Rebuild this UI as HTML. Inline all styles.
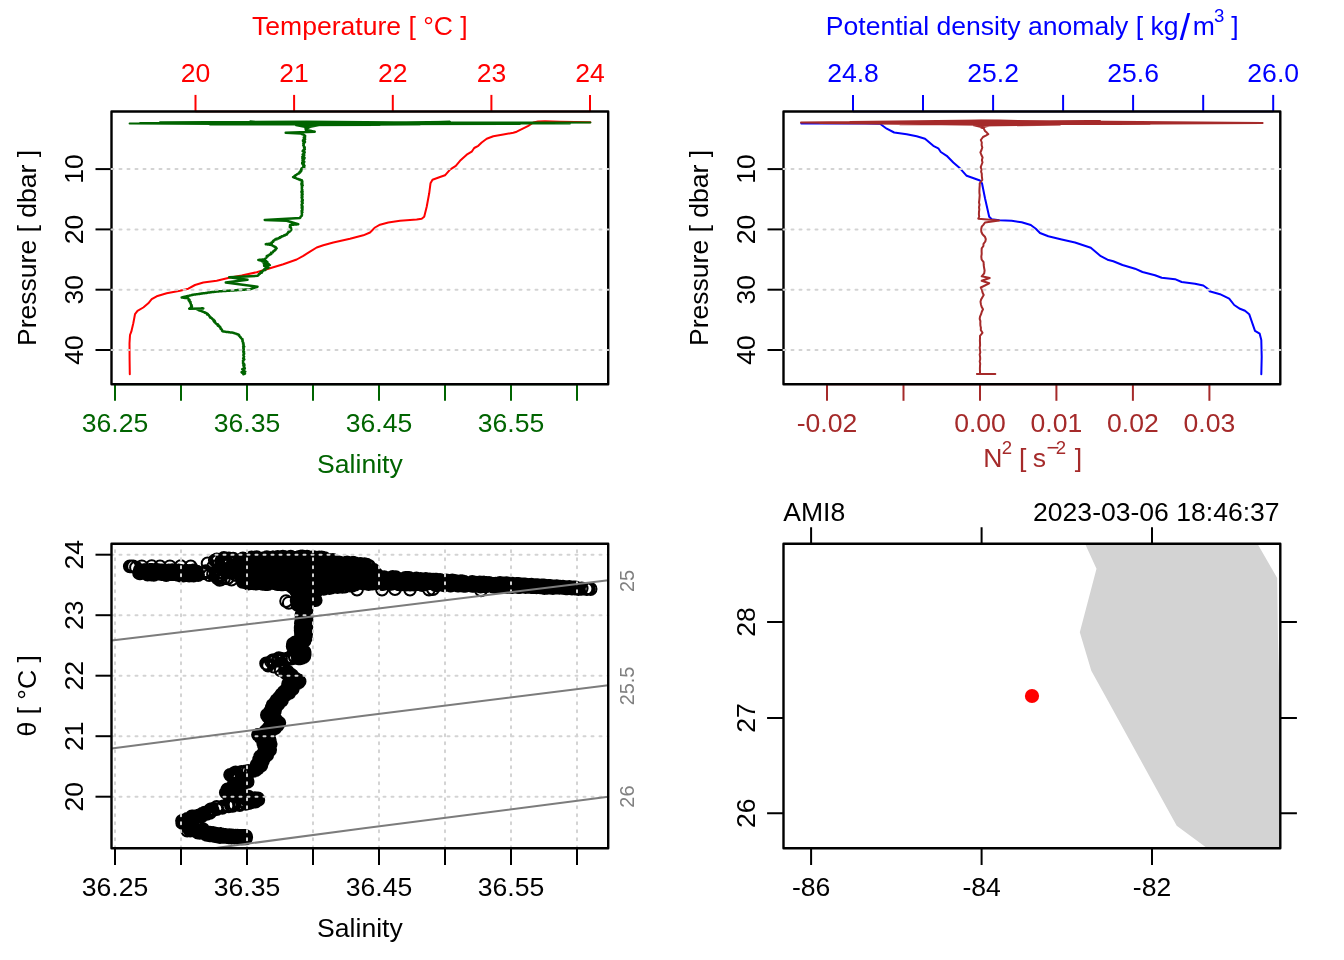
<!DOCTYPE html>
<html lang="en"><head><meta charset="utf-8"><title>CTD AMI8</title>
<style>html,body{margin:0;padding:0;background:#fff;overflow:hidden}svg{display:block}text{font-family:"Liberation Sans",sans-serif;font-size:26.56px}.ln{fill:none;stroke-width:2;stroke-linecap:round;stroke-linejoin:round}.tk{fill:none;stroke-width:2;stroke-linecap:butt}.gd{fill:none;stroke:#d3d3d3;stroke-width:2;stroke-dasharray:2 6;stroke-linecap:round}.bx{fill:none;stroke:#000;stroke-width:2.4;stroke-linejoin:round}.m{text-anchor:middle}</style></head><body>
<svg width="1344" height="960" viewBox="0 0 1344 960">
<rect width="1344" height="960" fill="#fff"/>
<g id="p1">
<polyline class="ln" stroke="#f00" points="590.3,122.2 575,121.9 560,121.7 545,121.2 538,121.6 533.3,122.5 528.3,125.8 523.3,128.3 516.7,131.7 513.3,132.7 503.3,134.5 493.3,136.3 486.7,138.7 481.7,142.5 478.3,145.8 474.2,148 471.7,151.7 466.7,154.7 460,160.8 455.8,165.8 450,169.7 445,175.3 440,177 432.5,179.7 430.5,183.3 429.2,193.3 426.7,206.7 424.2,216.7 421.7,218.7 416.7,219.6 400,220.8 388.3,222.5 380,224.7 375,227.5 370,232.5 363.3,235.3 350,238.7 333.3,242.5 323.3,245.3 316.7,247.5 310,251.7 303.3,255.8 296.7,259.5 283.3,264.2 270,268.3 256.7,272.2 241.7,275.5 229.2,277.8 216.7,280.8 203.3,282.5 195,285 188.3,288.7 180,290.8 166.7,293.3 156.7,296.3 151.7,299.2 148.3,303.3 143.3,307.5 137.5,310.8 135,314.2 133.3,323.3 131.3,331.7 130,335 129.5,343.3 129.6,360 129.8,374.2"/>
<polyline class="ln" stroke="#006400" points="307,124.6 129.6,123.4 330,122 590.4,122.6 300,124.2 140,122.9 570,123.6 307,121.6 160,122.2 520,124 210,124.6 450,121.7 307,125 420,124.6 250,121.6 380,124.9 296,125.2 307.4,127.6 319,125.2 302,125.6 307.5,128.4 313,125.8 307.6,124"/>
<polyline class="ln" stroke="#006400" style="stroke-width:2.5" points="307.6,124 307.4,124.6 307.5,125.1 307.2,125.7 307.6,126.2 307.3,126.8 307.4,127.3 305.9,127.9 305.6,128.4 307.2,128.9 305.7,129.5 306,130 306,130.1 308,130.2 307.6,130.3 308.7,130.4 308.7,130.5 309.4,130.6 309.4,130.7 310.5,130.8 311.2,131 311.5,131.1 312.1,131.2 312.6,131.3 312.9,131.4 313.7,131.5 314.2,131.6 314.7,131.7 285.7,132.8 301,133.4 301.5,133.7 301.7,134 303,134.3 303.1,134.6 304.1,134.9 304.2,135.2 305.1,135.8 304.7,136.3 305.1,136.9 303.8,137.5 304.8,138 303.9,138.6 305.1,139.2 304.9,139.8 303,140.3 303,140.9 303.2,141.5 305,142 303.7,142.6 304.1,143.2 303.3,143.7 303.8,144.3 303.5,144.9 303.3,145.4 303.9,146 303.9,146.6 304.7,147.2 304.1,147.7 304.7,148.3 304.5,148.9 304.8,149.4 303.5,150 303.9,150.6 302.6,151.1 304.4,151.7 304.7,152.3 304.5,152.8 303.6,153.4 304,154 302.7,154.5 304.3,155.1 303.6,155.7 302.9,156.2 302.3,156.8 304.3,157.4 304.6,157.9 302.4,158.5 304.1,159.1 303.2,159.6 302.5,160.2 302.9,160.8 304,161.3 304.3,161.9 302.2,162.5 303.6,163 302.2,163.6 303.9,164.2 302.9,164.7 304.2,165.3 304.5,165.9 303.3,166.4 303.3,167 304.2,167.5 302.3,168 301.5,168.5 302.4,169 301,169.5 301,170 301.2,170.5 301.3,171 300.2,171.5 300.5,172 299.4,172.3 300.1,172.6 298.9,172.9 299.2,173.2 298.6,173.6 297.6,173.9 297.2,174.2 296.8,174.5 296.4,174.8 295.9,175.1 295.4,175.4 295,175.8 294.6,176.1 294,176.4 293.6,176.7 293.1,177 293.7,177.2 294.1,177.5 294.7,177.7 295.6,177.9 295.9,178.1 296.5,178.4 297,178.6 297,178.8 298,179 298.8,179.2 298.7,179.4 299.9,179.6 300.5,179.8 300.3,180 301.6,180.2 302,180.4 302,181 302.3,181.5 301.8,182.1 302.3,182.6 302.4,183.2 301.4,183.7 301.4,184.2 302.3,184.8 302.7,185.3 301.7,185.9 302,186.5 302.2,187 301.8,187.6 301.9,188.1 301.8,188.7 301.9,189.2 302.3,189.8 301.8,190.3 301.9,190.8 302.5,191.4 301.4,191.9 302.2,192.5 302.5,193.1 301.9,193.6 301.7,194.2 302.6,194.7 301.8,195.2 301.7,195.8 302.1,196.3 302.5,196.9 301.6,197.4 302.2,198 301.9,198.6 301.9,199.1 302.7,199.7 302.1,200.3 302.7,200.8 301.7,201.4 301.9,202 302.4,202.5 302.7,203.1 302.1,203.7 301.7,204.2 301.6,204.8 302.2,205.4 301.7,205.9 302.5,206.5 302.6,207.1 301.7,207.6 301.8,208.2 302.5,208.8 302.3,209.3 302.5,209.9 301.9,210.5 301.6,211 301.8,211.6 302.4,212.2 301.7,212.7 301.8,213.3 301.9,213.9 301.9,214.4 302,215 301.6,215.5 301.7,216 300.8,216.5 300.5,217 300.4,217.5 300,218 264.7,220 286.7,220.8 298.3,224.2 297.8,224.3 297.3,224.3 296.6,224.4 296.2,224.4 295.7,224.5 294.9,224.5 294.5,224.6 294.1,224.6 293.4,224.7 292.8,224.7 292.1,224.8 291.5,224.8 290.9,224.9 290.2,224.9 290,225 290.2,225.6 289.9,226.1 290.6,226.7 289.8,227.2 291,227.8 290.8,228.3 291.2,228.9 291.3,229.4 290.8,230 291,230.4 290.1,230.8 288.8,231.3 289.6,231.7 288.2,232.1 288,232.5 288.2,232.9 287.6,233.4 287,233.8 286.7,234.2 286.9,234.5 285.8,234.7 284.9,235 284.2,235.2 284.7,235.5 283.5,235.7 283.5,236 282.2,236.2 281.4,236.5 281.5,236.8 281.5,237 279.8,237.3 280.4,237.5 280.2,237.8 279.4,238 278.3,238.3 278.4,238.6 276.3,238.8 277.1,239.1 277,239.3 274.9,239.6 274.8,239.8 274.3,240.1 274.4,240.3 273.6,240.6 273.3,240.8 272.9,241.3 273.1,241.9 271.6,242.4 271.5,243 271.7,243.5 270.8,243.6 270.2,243.6 269.6,243.7 269.6,243.8 268.9,243.8 268,243.9 267.6,244 266.9,244.1 266.4,244.1 265.8,244.2 266.4,244.3 267,244.3 267.5,244.4 268,244.5 268.5,244.6 269.1,244.6 269.5,244.7 270.3,244.8 271,244.9 271.3,244.9 272,245 272,245.3 272.6,245.7 273.2,246 274,246.3 274.8,246.7 274.6,247 275.8,247.3 276,247.6 276.1,248 276.7,248.3 276,248.7 275.8,249.2 275.8,249.6 274.8,250 275,250.4 274.1,250.8 273.2,251.3 273.3,251.7 272.9,252 272.8,252.4 271.1,252.7 271.4,253 271,253.4 271.4,253.7 271.1,254 269.5,254.4 270.1,254.7 269.5,255 268,255.4 267.9,255.7 266.8,256 267.8,256.4 266.7,256.7 266.6,257.2 266.5,257.6 265.9,258.1 265.3,258.6 264.9,259 264.2,259.5 263.7,259.5 262.7,259.6 262.5,259.6 261.5,259.7 261.1,259.7 260.8,259.7 259.9,259.8 259.4,259.8 258.8,259.9 258.3,259.9 259.1,260 259.1,260.1 259.2,260.2 261.3,260.3 260.1,260.4 262.8,260.4 262.9,260.5 264.2,260.6 265.5,260.7 264.3,260.8 266.2,260.9 265,261 262.3,261.5 267.3,262 265.9,262.5 267.6,263 263.7,263.5 268.5,264 267,264.5 269.9,265.1 264.1,265.8 265.8,266.4 267.2,267 268.5,267.7 266.7,268.3 265.1,268.6 264.4,269 264.3,269.3 265.4,269.6 265.4,270 263.6,270.3 263.1,270.6 262.8,271 262.2,271.3 262,271.6 260.6,272 261.3,272.3 262,272.6 260.3,273 260,273.3 260,273.7 258.7,274.1 258.9,274.6 258.5,275 258,275.4 257.5,275.8 229.2,277.3 247.5,279.8 225.8,282.5 257.5,286.7 250,289.3 249.4,289.3 248.9,289.4 248.3,289.4 247.8,289.4 247.2,289.5 246.6,289.5 246.1,289.6 245.6,289.6 245,289.6 244.4,289.7 243.9,289.7 243.3,289.7 242.7,289.8 242.2,289.8 241.7,289.9 241.1,289.9 240.5,289.9 240.1,290 239.6,290 238.8,290 238.4,290.1 237.8,290.1 237.3,290.1 236.7,290.2 236,290.2 235.5,290.3 234.8,290.3 234.5,290.3 233.9,290.4 233.2,290.4 232.7,290.4 232.2,290.5 231.8,290.5 231,290.5 230.8,290.6 230,290.6 229.5,290.7 228.9,290.7 228.5,290.7 228,290.8 227.3,290.8 226.7,290.8 226.3,290.9 225.8,290.9 225,290.9 224.6,291 224.2,291 223.3,291.1 222.6,291.1 222.1,291.1 221.8,291.2 221.3,291.2 220.9,291.2 220.3,291.3 219.3,291.3 218.7,291.4 218.2,291.4 217.6,291.4 217.4,291.5 216.7,291.5 216.4,291.6 215.9,291.7 214.8,291.7 214.8,291.8 213.8,291.9 213.3,292 213,292 211.9,292.1 211.4,292.2 211.4,292.3 210.4,292.3 209.9,292.4 209.5,292.5 209,292.6 207.9,292.6 207.7,292.7 207.2,292.8 206.7,292.9 205.9,292.9 205.6,293 205.4,293.1 204.4,293.2 203.9,293.3 203,293.3 202.6,293.4 202.3,293.5 201.3,293.6 201.4,293.6 200.9,293.7 199.7,293.8 199.8,293.9 198.8,293.9 198.5,294 198,294.1 197,294.2 196.8,294.2 196.2,294.3 195.8,294.4 194.8,294.5 194.6,294.5 194.2,294.6 193.3,294.7 192.9,294.8 192.2,295 191.4,295.1 191.1,295.2 190.4,295.4 190.1,295.5 189.5,295.6 188.9,295.8 188.2,295.9 187.8,296 187.3,296.2 186.6,296.3 186.2,296.4 185.6,296.6 184.9,296.7 184.5,296.8 183.9,297 183.3,297.1 182.8,297.2 182.3,297.4 181.7,297.5 182.3,297.6 182.8,297.6 183.3,297.7 183.8,297.8 184.3,297.8 184.8,297.9 185.7,298 186.3,298 186.7,298.1 187.4,298.2 187.6,298.2 188.3,298.3 188.3,298.8 188.7,299.3 189.5,299.8 188.7,300.3 189.6,300.8 189.4,301.3 190.5,301.8 190,302.3 190.2,302.8 190.8,303.3 190.7,303.9 191.1,304.5 191.6,305.1 191.1,305.7 191.9,306.3 191.1,306.9 191.7,307.5 191,307.7 190.5,308 190,308.2 189.8,308.5 189.2,308.7 203.3,308.4 202.8,308.5 202.2,308.5 201.6,308.6 201.1,308.7 200.6,308.7 200.1,308.8 199.5,308.9 198.9,308.9 198.2,309 197.7,309.1 197.1,309.1 196.7,309.2 197.2,309.4 197.8,309.6 198.1,309.8 198.6,310.1 199.6,310.3 199.4,310.5 200.7,310.7 201.3,310.9 201.9,311.1 201.8,311.4 202.6,311.6 203.1,311.8 203.7,312 204.7,312.2 204.9,312.4 204.8,312.7 206.2,312.9 206.1,313.1 206.7,313.3 207.3,313.7 207.8,314.1 207.1,314.5 208.7,314.9 208.9,315.3 209,315.7 209.5,316.1 209.7,316.5 209.7,316.8 210.6,317.2 210.2,317.6 211.4,318 212,318.4 212,318.8 212.6,319.2 213.6,319.6 213.3,320 214.3,320.4 213.5,320.8 214.9,321.2 215,321.7 214.4,322.1 215.3,322.5 215.5,322.9 215.6,323.3 216.7,323.8 217.7,324.2 217.1,324.6 218.4,325 218.5,325.4 217.9,325.8 219.5,326.2 219.4,326.7 220.3,327.1 220,327.5 220.6,328 220.9,328.4 220.7,328.9 221.6,329.4 222,329.9 222.2,330.4 222.1,330.8 222.5,331.3 223.2,331.4 223.6,331.5 224,331.5 224.5,331.6 225.1,331.7 225.7,331.8 226.3,331.9 227,331.9 227.7,332 228.2,332.1 228.7,332.2 229.4,332.2 229.8,332.3 230.4,332.4 231.2,332.5 231.5,332.6 232,332.6 233,332.7 233.3,332.8 234,333 234.3,333.2 234.9,333.4 235.5,333.6 236.2,333.7 236.4,333.9 236.7,334.1 237.5,334.3 238.3,334.5 239,334.9 238.7,335.4 239.4,335.8 239.5,336.2 239.9,336.6 240.3,337.1 240.9,337.5 241,337.9 241.3,338.3 241.7,338.8 242.5,339.2 242.3,339.8 242.7,340.4 242.4,340.9 242.5,341.5 243,342.1 243.1,342.7 243.5,343.3 243,343.8 243.5,344.4 243.7,345 243.6,345.6 243.2,346.1 244.2,346.6 243.4,347.2 243.3,347.8 243.7,348.3 243.3,348.9 243.8,349.4 243.5,349.9 243.3,350.5 243.2,351.1 244,351.6 243.4,352.1 244,352.7 243.7,353.2 244.2,353.8 243.5,354.4 243.4,354.9 243.4,355.4 243.7,356 244.1,356.6 243.9,357.1 243.5,357.7 243.2,358.3 243.9,358.8 244.3,359.4 243.8,359.9 243,360.5 243,361.1 243.1,361.6 243.2,362.2 243,362.8 243,363.3 243.9,363.9 244.3,364.4 243.2,365 244.4,365.6 243.7,366.1 243.7,366.7 244.3,367.3 244.6,367.9 244.8,368.5 242.2,369.2 242.9,369.8 243.9,370.4 243.5,371 245.3,371.6 241.6,372.3 242.4,372.9 245,373.6 243.3,374.2"/>
<path class="tk" stroke="#f00" style="stroke-width:1.5" d="M195.5 111.5H590"/>
<path class="tk" stroke="#f00" d="M195.5 94.9V111.5"/>
<text class="m" x="195.5" y="82.2" fill="#f00">20</text>
<path class="tk" stroke="#f00" d="M294.1 94.9V111.5"/>
<text class="m" x="294.1" y="82.2" fill="#f00">21</text>
<path class="tk" stroke="#f00" d="M392.8 94.9V111.5"/>
<text class="m" x="392.8" y="82.2" fill="#f00">22</text>
<path class="tk" stroke="#f00" d="M491.4 94.9V111.5"/>
<text class="m" x="491.4" y="82.2" fill="#f00">23</text>
<path class="tk" stroke="#f00" d="M590 94.9V111.5"/>
<text class="m" x="590" y="82.2" fill="#f00">24</text>
<text class="m" x="359.9" y="35.2" fill="#f00">Temperature [ °C ]</text>
<path class="tk" stroke="#006400" style="stroke-width:1.5" d="M115 384.4H577"/>
<path class="tk" stroke="#006400" d="M115 384.4V400.8"/>
<text class="m" x="115" y="431.8" fill="#006400">36.25</text>
<path class="tk" stroke="#006400" d="M181 384.4V400.8"/>
<path class="tk" stroke="#006400" d="M247 384.4V400.8"/>
<text class="m" x="247" y="431.8" fill="#006400">36.35</text>
<path class="tk" stroke="#006400" d="M313 384.4V400.8"/>
<path class="tk" stroke="#006400" d="M379 384.4V400.8"/>
<text class="m" x="379" y="431.8" fill="#006400">36.45</text>
<path class="tk" stroke="#006400" d="M445 384.4V400.8"/>
<path class="tk" stroke="#006400" d="M511 384.4V400.8"/>
<text class="m" x="511" y="431.8" fill="#006400">36.55</text>
<path class="tk" stroke="#006400" d="M577 384.4V400.8"/>
<text class="m" x="359.9" y="473.4" fill="#006400">Salinity</text>
<path class="tk" stroke="#000" d="M95.5 169.1H111.5"/>
<text class="m" transform="translate(82.7 169.1) rotate(-90)" fill="#000">10</text>
<path class="tk" stroke="#000" d="M95.5 229.4H111.5"/>
<text class="m" transform="translate(82.7 229.4) rotate(-90)" fill="#000">20</text>
<path class="tk" stroke="#000" d="M95.5 289.7H111.5"/>
<text class="m" transform="translate(82.7 289.7) rotate(-90)" fill="#000">30</text>
<path class="tk" stroke="#000" d="M95.5 350H111.5"/>
<text class="m" transform="translate(82.7 350) rotate(-90)" fill="#000">40</text>
<text class="m" transform="translate(35.8 247.9) rotate(-90)" fill="#000">Pressure [ dbar ]</text>
<rect class="bx" x="111.5" y="111.5" width="496.7" height="272.8"/>
<path class="gd" d="M111.5 169.1H608.3"/>
<path class="gd" d="M111.5 229.4H608.3"/>
<path class="gd" d="M111.5 289.7H608.3"/>
<path class="gd" d="M111.5 350H608.3"/>
</g>
<g id="p2">
<polyline class="ln" stroke="#00f" points="801.3,123.4 850,123.2 880,123.8 886.7,128.7 894.2,132.5 906.7,134.2 916.7,136.3 925,138.7 933.3,145.8 938.3,148.3 940.8,152 946.7,155.8 953.3,162.5 960,168.3 966.7,175.8 980,180.5 982,183.3 985,198.3 989.2,216.7 991.7,219.2 999.2,220.3 1011.7,220.8 1021.7,222.2 1030.8,225 1035.8,228.7 1040,233 1048.3,236.3 1061.7,239.5 1075,242.5 1090.8,247.8 1100.8,256.2 1107.5,259.7 1113.3,261.3 1122.5,265 1135,268.7 1142.5,272 1155,275.2 1161.7,277.8 1175,279.2 1181.7,282 1195,283.7 1203.3,285.5 1209.2,289.7 1209.5,291.3 1220,294.2 1229.2,298.7 1234.2,305 1240,308.8 1245,310.8 1249.2,314.2 1255,330.8 1259.7,333.7 1261.3,340 1261.7,356.7 1261.3,374.2"/>
<polyline class="ln" stroke="#a52a2a" points="981,124.8 801,122.5 1000,120.8 1262.6,122.9 975,124.6 820,122.9 1200,123.3 981,120.5 850,122 1150,124 900,124.2 1100,121.3 981,125.4 1060,124.8 930,121.2 1030,125 974,125.4 982.3,127.4 991,125.4 978,125.8 982.4,128 987,125.8 982,124"/>
<polyline class="ln" stroke="#a52a2a" points="982,124 982.5,126.7 983.9,128.8 985,131 986.8,132.6 988.3,134.2 985.8,135.6 983,137 980.8,140 981.8,142.5 981.6,145 982.3,147.5 981.5,150 980.4,152.5 981.4,155 982.6,157.5 981.9,160 982.5,162.5 981.5,165 980.7,167.2 981.6,169.4 981.1,171.6 981.8,173.8 981.8,176 982.3,180 979.7,183.3 979.7,185.7 979.5,188.1 979.4,190.5 979.4,192.8 979.7,195.2 979.5,197.6 979.3,200 979,202.4 979.5,204.8 979,207.2 979.3,209.5 979,211.9 978.9,214.3 979.2,216.7 978.3,218.7 999.2,220.4 985,222.5 983.5,224.6 981.7,226.7 981.2,229.2 981.3,231.7 982.5,234.2 984.9,236.7 985.8,239.2 985.3,241.5 983.5,243.8 983.4,246 981.7,248.3 981.6,251.1 981.7,253.9 981.3,256.7 981.6,259.5 983.6,262.2 983.7,265 984.1,267.8 984.6,270.5 984.2,273.3 981.7,276.3 989.7,278 981.7,280.8 989.2,283.3 980.8,287.5 982,290 982.5,292.5 983.7,295 982.4,297.2 981.1,299.5 980.5,301.7 980.9,304.2 981.6,306.7 983,309.2 981.8,311.7 981.1,314.2 980,316.7 979.7,318.9 980.4,321.1 980.3,323.4 980.4,325.6 980.9,327.8 980.8,330 982.5,332.8 980,335.8 980,338.2 979.9,340.5 980,342.9 980.1,345.3 979.7,347.6 980,350 980.3,352.3 979.7,354.6 980.1,356.9 980.2,359.1 979.7,361.4 980.2,363.7 980,366 979.9,368.6 980,371.2 980,373.8 976.9,374 995.3,374"/>
<path class="tk" stroke="#00f" style="stroke-width:1.5" d="M853 111.5H1273.2"/>
<path class="tk" stroke="#00f" d="M853 94.9V111.5"/>
<text class="m" x="853" y="82.2" fill="#00f">24.8</text>
<path class="tk" stroke="#00f" d="M923 94.9V111.5"/>
<path class="tk" stroke="#00f" d="M993.1 94.9V111.5"/>
<text class="m" x="993.1" y="82.2" fill="#00f">25.2</text>
<path class="tk" stroke="#00f" d="M1063.1 94.9V111.5"/>
<path class="tk" stroke="#00f" d="M1133.1 94.9V111.5"/>
<text class="m" x="1133.1" y="82.2" fill="#00f">25.6</text>
<path class="tk" stroke="#00f" d="M1203.2 94.9V111.5"/>
<path class="tk" stroke="#00f" d="M1273.2 94.9V111.5"/>
<text class="m" x="1273.2" y="82.2" fill="#00f">26.0</text>
<text x="825.8" y="35.2" fill="#00f">Potential density anomaly [ kg<tspan x="1179.8" y="39.7" font-size="37.5px">/</tspan><tspan x="1192.7" y="35.2">m</tspan><tspan x="1214" y="22.3" font-size="18.6px">3</tspan><tspan x="1223.9" y="35.2"> ]</tspan></text>
<path class="tk" stroke="#a52a2a" style="stroke-width:1.5" d="M827 384.4H1209.4"/>
<path class="tk" stroke="#a52a2a" d="M827 384.4V400.8"/>
<text class="m" x="827" y="431.8" fill="#a52a2a">-0.02</text>
<path class="tk" stroke="#a52a2a" d="M903.5 384.4V400.8"/>
<path class="tk" stroke="#a52a2a" d="M980 384.4V400.8"/>
<text class="m" x="980" y="431.8" fill="#a52a2a">0.00</text>
<path class="tk" stroke="#a52a2a" d="M1056.4 384.4V400.8"/>
<text class="m" x="1056.4" y="431.8" fill="#a52a2a">0.01</text>
<path class="tk" stroke="#a52a2a" d="M1132.9 384.4V400.8"/>
<text class="m" x="1132.9" y="431.8" fill="#a52a2a">0.02</text>
<path class="tk" stroke="#a52a2a" d="M1209.4 384.4V400.8"/>
<text class="m" x="1209.4" y="431.8" fill="#a52a2a">0.03</text>
<text x="983.2" y="467" fill="#a52a2a">N<tspan x="1001.8" y="453.8" font-size="18.6px">2</tspan><tspan x="1018.9" y="467">[</tspan><tspan x="1032.8" y="467">s</tspan><tspan x="1046.4" y="454.9" font-size="22px">−</tspan><tspan x="1055.8" y="453.8" font-size="18.6px">2</tspan><tspan x="1074.7" y="467">]</tspan></text>
<path class="tk" stroke="#000" d="M767.5 169.1H783.5"/>
<text class="m" transform="translate(754.6 169.1) rotate(-90)" fill="#000">10</text>
<path class="tk" stroke="#000" d="M767.5 229.4H783.5"/>
<text class="m" transform="translate(754.6 229.4) rotate(-90)" fill="#000">20</text>
<path class="tk" stroke="#000" d="M767.5 289.7H783.5"/>
<text class="m" transform="translate(754.6 289.7) rotate(-90)" fill="#000">30</text>
<path class="tk" stroke="#000" d="M767.5 350H783.5"/>
<text class="m" transform="translate(754.6 350) rotate(-90)" fill="#000">40</text>
<text class="m" transform="translate(707.8 247.9) rotate(-90)" fill="#000">Pressure [ dbar ]</text>
<rect class="bx" x="783.5" y="111.5" width="496.8" height="272.8"/>
<path class="gd" d="M783.5 169.1H1280.3"/>
<path class="gd" d="M783.5 229.4H1280.3"/>
<path class="gd" d="M783.5 289.7H1280.3"/>
<path class="gd" d="M783.5 350H1280.3"/>
</g>
<g id="p3">
<path fill="none" stroke="#000" stroke-width="2" d="M301.3 592.5a5.9 5.9 0 1 0 11.8 0a5.9 5.9 0 1 0-11.8 0M303.7 592.4a5.9 5.9 0 1 0 11.8 0a5.9 5.9 0 1 0-11.8 0M301.5 592.8a5.9 5.9 0 1 0 11.8 0a5.9 5.9 0 1 0-11.8 0M299.8 592.7a5.9 5.9 0 1 0 11.8 0a5.9 5.9 0 1 0-11.8 0M302.2 593.5a5.9 5.9 0 1 0 11.8 0a5.9 5.9 0 1 0-11.8 0M299.3 592.5a5.9 5.9 0 1 0 11.8 0a5.9 5.9 0 1 0-11.8 0M299.3 593.9a5.9 5.9 0 1 0 11.8 0a5.9 5.9 0 1 0-11.8 0M302.5 592.1a5.9 5.9 0 1 0 11.8 0a5.9 5.9 0 1 0-11.8 0M304.1 594.5a5.9 5.9 0 1 0 11.8 0a5.9 5.9 0 1 0-11.8 0M302.3 593.8a5.9 5.9 0 1 0 11.8 0a5.9 5.9 0 1 0-11.8 0M299.5 592.5a5.9 5.9 0 1 0 11.8 0a5.9 5.9 0 1 0-11.8 0M301.6 592.7a5.9 5.9 0 1 0 11.8 0a5.9 5.9 0 1 0-11.8 0M299.6 593.3a5.9 5.9 0 1 0 11.8 0a5.9 5.9 0 1 0-11.8 0M298.7 594a5.9 5.9 0 1 0 11.8 0a5.9 5.9 0 1 0-11.8 0M300.9 595a5.9 5.9 0 1 0 11.8 0a5.9 5.9 0 1 0-11.8 0M301.3 594.7a5.9 5.9 0 1 0 11.8 0a5.9 5.9 0 1 0-11.8 0M301.2 594.9a5.9 5.9 0 1 0 11.8 0a5.9 5.9 0 1 0-11.8 0M300.9 594.1a5.9 5.9 0 1 0 11.8 0a5.9 5.9 0 1 0-11.8 0M303.8 595.9a5.9 5.9 0 1 0 11.8 0a5.9 5.9 0 1 0-11.8 0M302.9 595.4a5.9 5.9 0 1 0 11.8 0a5.9 5.9 0 1 0-11.8 0M300 594.4a5.9 5.9 0 1 0 11.8 0a5.9 5.9 0 1 0-11.8 0M299.8 594.1a5.9 5.9 0 1 0 11.8 0a5.9 5.9 0 1 0-11.8 0M302.4 595a5.9 5.9 0 1 0 11.8 0a5.9 5.9 0 1 0-11.8 0M302.8 595.1a5.9 5.9 0 1 0 11.8 0a5.9 5.9 0 1 0-11.8 0M303.3 596.4a5.9 5.9 0 1 0 11.8 0a5.9 5.9 0 1 0-11.8 0M298 595a5.9 5.9 0 1 0 11.8 0a5.9 5.9 0 1 0-11.8 0M303 595.7a5.9 5.9 0 1 0 11.8 0a5.9 5.9 0 1 0-11.8 0M303.3 595.7a5.9 5.9 0 1 0 11.8 0a5.9 5.9 0 1 0-11.8 0M298.3 596.4a5.9 5.9 0 1 0 11.8 0a5.9 5.9 0 1 0-11.8 0M302.1 595.6a5.9 5.9 0 1 0 11.8 0a5.9 5.9 0 1 0-11.8 0M298.3 595.9a5.9 5.9 0 1 0 11.8 0a5.9 5.9 0 1 0-11.8 0M303 597.1a5.9 5.9 0 1 0 11.8 0a5.9 5.9 0 1 0-11.8 0M298.4 596a5.9 5.9 0 1 0 11.8 0a5.9 5.9 0 1 0-11.8 0M298.2 595.7a5.9 5.9 0 1 0 11.8 0a5.9 5.9 0 1 0-11.8 0M302 596.1a5.9 5.9 0 1 0 11.8 0a5.9 5.9 0 1 0-11.8 0M300.6 596.9a5.9 5.9 0 1 0 11.8 0a5.9 5.9 0 1 0-11.8 0M298.6 597.7a5.9 5.9 0 1 0 11.8 0a5.9 5.9 0 1 0-11.8 0M298.2 597.6a5.9 5.9 0 1 0 11.8 0a5.9 5.9 0 1 0-11.8 0M298.1 597.2a5.9 5.9 0 1 0 11.8 0a5.9 5.9 0 1 0-11.8 0M298.6 597a5.9 5.9 0 1 0 11.8 0a5.9 5.9 0 1 0-11.8 0M302.6 598.4a5.9 5.9 0 1 0 11.8 0a5.9 5.9 0 1 0-11.8 0M299.6 598.7a5.9 5.9 0 1 0 11.8 0a5.9 5.9 0 1 0-11.8 0M299.7 597.6a5.9 5.9 0 1 0 11.8 0a5.9 5.9 0 1 0-11.8 0M303.6 598.4a5.9 5.9 0 1 0 11.8 0a5.9 5.9 0 1 0-11.8 0M300.3 599.3a5.9 5.9 0 1 0 11.8 0a5.9 5.9 0 1 0-11.8 0M301.5 597.7a5.9 5.9 0 1 0 11.8 0a5.9 5.9 0 1 0-11.8 0M304.8 598a5.9 5.9 0 1 0 11.8 0a5.9 5.9 0 1 0-11.8 0M303 597.5a5.9 5.9 0 1 0 11.8 0a5.9 5.9 0 1 0-11.8 0M302.6 598.9a5.9 5.9 0 1 0 11.8 0a5.9 5.9 0 1 0-11.8 0M303.9 599.1a5.9 5.9 0 1 0 11.8 0a5.9 5.9 0 1 0-11.8 0M305.1 598.8a5.9 5.9 0 1 0 11.8 0a5.9 5.9 0 1 0-11.8 0M308.4 599a5.9 5.9 0 1 0 11.8 0a5.9 5.9 0 1 0-11.8 0M307.2 600.1a5.9 5.9 0 1 0 11.8 0a5.9 5.9 0 1 0-11.8 0M306 598.5a5.9 5.9 0 1 0 11.8 0a5.9 5.9 0 1 0-11.8 0M309.8 600.2a5.9 5.9 0 1 0 11.8 0a5.9 5.9 0 1 0-11.8 0M307.4 598.9a5.9 5.9 0 1 0 11.8 0a5.9 5.9 0 1 0-11.8 0M303.4 601.2a5.9 5.9 0 1 0 11.8 0a5.9 5.9 0 1 0-11.8 0M293.9 599.6a5.9 5.9 0 1 0 11.8 0a5.9 5.9 0 1 0-11.8 0M290.7 600.6a5.9 5.9 0 1 0 11.8 0a5.9 5.9 0 1 0-11.8 0M280.2 601.1a5.9 5.9 0 1 0 11.8 0a5.9 5.9 0 1 0-11.8 0M282.9 602.8a5.9 5.9 0 1 0 11.8 0a5.9 5.9 0 1 0-11.8 0M291.6 604.8a5.9 5.9 0 1 0 11.8 0a5.9 5.9 0 1 0-11.8 0M293.8 603a5.9 5.9 0 1 0 11.8 0a5.9 5.9 0 1 0-11.8 0M294.3 604.4a5.9 5.9 0 1 0 11.8 0a5.9 5.9 0 1 0-11.8 0M293.5 604.1a5.9 5.9 0 1 0 11.8 0a5.9 5.9 0 1 0-11.8 0M295.1 605.5a5.9 5.9 0 1 0 11.8 0a5.9 5.9 0 1 0-11.8 0M294.2 605.3a5.9 5.9 0 1 0 11.8 0a5.9 5.9 0 1 0-11.8 0M298 607.2a5.9 5.9 0 1 0 11.8 0a5.9 5.9 0 1 0-11.8 0M297.1 606.9a5.9 5.9 0 1 0 11.8 0a5.9 5.9 0 1 0-11.8 0M296.9 605.9a5.9 5.9 0 1 0 11.8 0a5.9 5.9 0 1 0-11.8 0M294.4 606a5.9 5.9 0 1 0 11.8 0a5.9 5.9 0 1 0-11.8 0M299 608a5.9 5.9 0 1 0 11.8 0a5.9 5.9 0 1 0-11.8 0M299.5 606.8a5.9 5.9 0 1 0 11.8 0a5.9 5.9 0 1 0-11.8 0M298 608.3a5.9 5.9 0 1 0 11.8 0a5.9 5.9 0 1 0-11.8 0M298.7 608.2a5.9 5.9 0 1 0 11.8 0a5.9 5.9 0 1 0-11.8 0M300.3 608a5.9 5.9 0 1 0 11.8 0a5.9 5.9 0 1 0-11.8 0M298.1 610a5.9 5.9 0 1 0 11.8 0a5.9 5.9 0 1 0-11.8 0M300.3 610.4a5.9 5.9 0 1 0 11.8 0a5.9 5.9 0 1 0-11.8 0M299.4 610.9a5.9 5.9 0 1 0 11.8 0a5.9 5.9 0 1 0-11.8 0M300.6 610.2a5.9 5.9 0 1 0 11.8 0a5.9 5.9 0 1 0-11.8 0M299.3 611.9a5.9 5.9 0 1 0 11.8 0a5.9 5.9 0 1 0-11.8 0M300.4 611.1a5.9 5.9 0 1 0 11.8 0a5.9 5.9 0 1 0-11.8 0M299.9 612.5a5.9 5.9 0 1 0 11.8 0a5.9 5.9 0 1 0-11.8 0M298.7 612.3a5.9 5.9 0 1 0 11.8 0a5.9 5.9 0 1 0-11.8 0M297.6 612.6a5.9 5.9 0 1 0 11.8 0a5.9 5.9 0 1 0-11.8 0M298.9 611.8a5.9 5.9 0 1 0 11.8 0a5.9 5.9 0 1 0-11.8 0M299 614.4a5.9 5.9 0 1 0 11.8 0a5.9 5.9 0 1 0-11.8 0M300.4 614.1a5.9 5.9 0 1 0 11.8 0a5.9 5.9 0 1 0-11.8 0M297.6 614.5a5.9 5.9 0 1 0 11.8 0a5.9 5.9 0 1 0-11.8 0M298.7 614a5.9 5.9 0 1 0 11.8 0a5.9 5.9 0 1 0-11.8 0M300.1 613.3a5.9 5.9 0 1 0 11.8 0a5.9 5.9 0 1 0-11.8 0M299.6 613.4a5.9 5.9 0 1 0 11.8 0a5.9 5.9 0 1 0-11.8 0M298.8 614.7a5.9 5.9 0 1 0 11.8 0a5.9 5.9 0 1 0-11.8 0M296.7 615.4a5.9 5.9 0 1 0 11.8 0a5.9 5.9 0 1 0-11.8 0M298.2 615.4a5.9 5.9 0 1 0 11.8 0a5.9 5.9 0 1 0-11.8 0M300.6 614.7a5.9 5.9 0 1 0 11.8 0a5.9 5.9 0 1 0-11.8 0M295.5 615a5.9 5.9 0 1 0 11.8 0a5.9 5.9 0 1 0-11.8 0M299.2 614.9a5.9 5.9 0 1 0 11.8 0a5.9 5.9 0 1 0-11.8 0M296.3 616.8a5.9 5.9 0 1 0 11.8 0a5.9 5.9 0 1 0-11.8 0M299.1 615.9a5.9 5.9 0 1 0 11.8 0a5.9 5.9 0 1 0-11.8 0M300.4 615.8a5.9 5.9 0 1 0 11.8 0a5.9 5.9 0 1 0-11.8 0M299.1 615.7a5.9 5.9 0 1 0 11.8 0a5.9 5.9 0 1 0-11.8 0M297.8 617.3a5.9 5.9 0 1 0 11.8 0a5.9 5.9 0 1 0-11.8 0M300.5 617.7a5.9 5.9 0 1 0 11.8 0a5.9 5.9 0 1 0-11.8 0M297.5 617.1a5.9 5.9 0 1 0 11.8 0a5.9 5.9 0 1 0-11.8 0M297.1 616.2a5.9 5.9 0 1 0 11.8 0a5.9 5.9 0 1 0-11.8 0M298.1 618.1a5.9 5.9 0 1 0 11.8 0a5.9 5.9 0 1 0-11.8 0M300.1 618a5.9 5.9 0 1 0 11.8 0a5.9 5.9 0 1 0-11.8 0M300.7 617.1a5.9 5.9 0 1 0 11.8 0a5.9 5.9 0 1 0-11.8 0M296.3 617.7a5.9 5.9 0 1 0 11.8 0a5.9 5.9 0 1 0-11.8 0M296.9 617.4a5.9 5.9 0 1 0 11.8 0a5.9 5.9 0 1 0-11.8 0M297.6 618.5a5.9 5.9 0 1 0 11.8 0a5.9 5.9 0 1 0-11.8 0M298.1 617.8a5.9 5.9 0 1 0 11.8 0a5.9 5.9 0 1 0-11.8 0M300 619.5a5.9 5.9 0 1 0 11.8 0a5.9 5.9 0 1 0-11.8 0M297.8 617.4a5.9 5.9 0 1 0 11.8 0a5.9 5.9 0 1 0-11.8 0M295.5 619.4a5.9 5.9 0 1 0 11.8 0a5.9 5.9 0 1 0-11.8 0M295.5 619.1a5.9 5.9 0 1 0 11.8 0a5.9 5.9 0 1 0-11.8 0M298.5 618.2a5.9 5.9 0 1 0 11.8 0a5.9 5.9 0 1 0-11.8 0M299.7 617.6a5.9 5.9 0 1 0 11.8 0a5.9 5.9 0 1 0-11.8 0M296 618.8a5.9 5.9 0 1 0 11.8 0a5.9 5.9 0 1 0-11.8 0M295.4 619.7a5.9 5.9 0 1 0 11.8 0a5.9 5.9 0 1 0-11.8 0M296.6 618.2a5.9 5.9 0 1 0 11.8 0a5.9 5.9 0 1 0-11.8 0M295.5 619.4a5.9 5.9 0 1 0 11.8 0a5.9 5.9 0 1 0-11.8 0M297.8 619.5a5.9 5.9 0 1 0 11.8 0a5.9 5.9 0 1 0-11.8 0M298.9 620a5.9 5.9 0 1 0 11.8 0a5.9 5.9 0 1 0-11.8 0M300.6 619.8a5.9 5.9 0 1 0 11.8 0a5.9 5.9 0 1 0-11.8 0M296.4 619.4a5.9 5.9 0 1 0 11.8 0a5.9 5.9 0 1 0-11.8 0M296.2 618.4a5.9 5.9 0 1 0 11.8 0a5.9 5.9 0 1 0-11.8 0M297.9 620.2a5.9 5.9 0 1 0 11.8 0a5.9 5.9 0 1 0-11.8 0M296.2 619.2a5.9 5.9 0 1 0 11.8 0a5.9 5.9 0 1 0-11.8 0M297.2 620.3a5.9 5.9 0 1 0 11.8 0a5.9 5.9 0 1 0-11.8 0M298.1 620.2a5.9 5.9 0 1 0 11.8 0a5.9 5.9 0 1 0-11.8 0M299.5 619.8a5.9 5.9 0 1 0 11.8 0a5.9 5.9 0 1 0-11.8 0M299.7 621.1a5.9 5.9 0 1 0 11.8 0a5.9 5.9 0 1 0-11.8 0M295.7 621.2a5.9 5.9 0 1 0 11.8 0a5.9 5.9 0 1 0-11.8 0M299.3 619.4a5.9 5.9 0 1 0 11.8 0a5.9 5.9 0 1 0-11.8 0M297.7 620.7a5.9 5.9 0 1 0 11.8 0a5.9 5.9 0 1 0-11.8 0M300.3 620.2a5.9 5.9 0 1 0 11.8 0a5.9 5.9 0 1 0-11.8 0M298.4 621.5a5.9 5.9 0 1 0 11.8 0a5.9 5.9 0 1 0-11.8 0M299.7 621.7a5.9 5.9 0 1 0 11.8 0a5.9 5.9 0 1 0-11.8 0M297.8 621.1a5.9 5.9 0 1 0 11.8 0a5.9 5.9 0 1 0-11.8 0M296.3 621.3a5.9 5.9 0 1 0 11.8 0a5.9 5.9 0 1 0-11.8 0M299.8 621.2a5.9 5.9 0 1 0 11.8 0a5.9 5.9 0 1 0-11.8 0M299.2 620.3a5.9 5.9 0 1 0 11.8 0a5.9 5.9 0 1 0-11.8 0M300.2 622.2a5.9 5.9 0 1 0 11.8 0a5.9 5.9 0 1 0-11.8 0M300.6 621.2a5.9 5.9 0 1 0 11.8 0a5.9 5.9 0 1 0-11.8 0M299.6 620.8a5.9 5.9 0 1 0 11.8 0a5.9 5.9 0 1 0-11.8 0M300.3 622.2a5.9 5.9 0 1 0 11.8 0a5.9 5.9 0 1 0-11.8 0M297.1 620.4a5.9 5.9 0 1 0 11.8 0a5.9 5.9 0 1 0-11.8 0M297.6 621.6a5.9 5.9 0 1 0 11.8 0a5.9 5.9 0 1 0-11.8 0M299.4 621.5a5.9 5.9 0 1 0 11.8 0a5.9 5.9 0 1 0-11.8 0M295.3 622.3a5.9 5.9 0 1 0 11.8 0a5.9 5.9 0 1 0-11.8 0M295.5 622.4a5.9 5.9 0 1 0 11.8 0a5.9 5.9 0 1 0-11.8 0M296.1 621.3a5.9 5.9 0 1 0 11.8 0a5.9 5.9 0 1 0-11.8 0M299.5 620.9a5.9 5.9 0 1 0 11.8 0a5.9 5.9 0 1 0-11.8 0M295.9 621.9a5.9 5.9 0 1 0 11.8 0a5.9 5.9 0 1 0-11.8 0M299.2 622.7a5.9 5.9 0 1 0 11.8 0a5.9 5.9 0 1 0-11.8 0M299 623.1a5.9 5.9 0 1 0 11.8 0a5.9 5.9 0 1 0-11.8 0M297.8 623.1a5.9 5.9 0 1 0 11.8 0a5.9 5.9 0 1 0-11.8 0M295.5 621.5a5.9 5.9 0 1 0 11.8 0a5.9 5.9 0 1 0-11.8 0M298 621.7a5.9 5.9 0 1 0 11.8 0a5.9 5.9 0 1 0-11.8 0M299.2 622.6a5.9 5.9 0 1 0 11.8 0a5.9 5.9 0 1 0-11.8 0M298 623.2a5.9 5.9 0 1 0 11.8 0a5.9 5.9 0 1 0-11.8 0M298.2 622a5.9 5.9 0 1 0 11.8 0a5.9 5.9 0 1 0-11.8 0M297.2 623.3a5.9 5.9 0 1 0 11.8 0a5.9 5.9 0 1 0-11.8 0M300.1 621.9a5.9 5.9 0 1 0 11.8 0a5.9 5.9 0 1 0-11.8 0M299.8 623.7a5.9 5.9 0 1 0 11.8 0a5.9 5.9 0 1 0-11.8 0M298 622.9a5.9 5.9 0 1 0 11.8 0a5.9 5.9 0 1 0-11.8 0M296.1 622.8a5.9 5.9 0 1 0 11.8 0a5.9 5.9 0 1 0-11.8 0M297.8 623.1a5.9 5.9 0 1 0 11.8 0a5.9 5.9 0 1 0-11.8 0M295.1 624a5.9 5.9 0 1 0 11.8 0a5.9 5.9 0 1 0-11.8 0M297.9 622.7a5.9 5.9 0 1 0 11.8 0a5.9 5.9 0 1 0-11.8 0M299.5 623.2a5.9 5.9 0 1 0 11.8 0a5.9 5.9 0 1 0-11.8 0M297.8 623.6a5.9 5.9 0 1 0 11.8 0a5.9 5.9 0 1 0-11.8 0M295.3 623.3a5.9 5.9 0 1 0 11.8 0a5.9 5.9 0 1 0-11.8 0M297.3 624.4a5.9 5.9 0 1 0 11.8 0a5.9 5.9 0 1 0-11.8 0M300.2 622.8a5.9 5.9 0 1 0 11.8 0a5.9 5.9 0 1 0-11.8 0M297.6 622.6a5.9 5.9 0 1 0 11.8 0a5.9 5.9 0 1 0-11.8 0M297.4 624.4a5.9 5.9 0 1 0 11.8 0a5.9 5.9 0 1 0-11.8 0M300 623.7a5.9 5.9 0 1 0 11.8 0a5.9 5.9 0 1 0-11.8 0M296.7 623.2a5.9 5.9 0 1 0 11.8 0a5.9 5.9 0 1 0-11.8 0M298.4 625a5.9 5.9 0 1 0 11.8 0a5.9 5.9 0 1 0-11.8 0M295.7 624.8a5.9 5.9 0 1 0 11.8 0a5.9 5.9 0 1 0-11.8 0M295 623.5a5.9 5.9 0 1 0 11.8 0a5.9 5.9 0 1 0-11.8 0M296.2 624.8a5.9 5.9 0 1 0 11.8 0a5.9 5.9 0 1 0-11.8 0M296.7 624.2a5.9 5.9 0 1 0 11.8 0a5.9 5.9 0 1 0-11.8 0M298.4 623.7a5.9 5.9 0 1 0 11.8 0a5.9 5.9 0 1 0-11.8 0M299 623.9a5.9 5.9 0 1 0 11.8 0a5.9 5.9 0 1 0-11.8 0M297.8 624.3a5.9 5.9 0 1 0 11.8 0a5.9 5.9 0 1 0-11.8 0M296 625.1a5.9 5.9 0 1 0 11.8 0a5.9 5.9 0 1 0-11.8 0M297.4 624.9a5.9 5.9 0 1 0 11.8 0a5.9 5.9 0 1 0-11.8 0M297.2 625.3a5.9 5.9 0 1 0 11.8 0a5.9 5.9 0 1 0-11.8 0M295.8 624.7a5.9 5.9 0 1 0 11.8 0a5.9 5.9 0 1 0-11.8 0M298.4 625.9a5.9 5.9 0 1 0 11.8 0a5.9 5.9 0 1 0-11.8 0M297.9 626.5a5.9 5.9 0 1 0 11.8 0a5.9 5.9 0 1 0-11.8 0M298.3 626.6a5.9 5.9 0 1 0 11.8 0a5.9 5.9 0 1 0-11.8 0M296.2 626.4a5.9 5.9 0 1 0 11.8 0a5.9 5.9 0 1 0-11.8 0M299.4 626.8a5.9 5.9 0 1 0 11.8 0a5.9 5.9 0 1 0-11.8 0M296.6 625.4a5.9 5.9 0 1 0 11.8 0a5.9 5.9 0 1 0-11.8 0M300.1 625.3a5.9 5.9 0 1 0 11.8 0a5.9 5.9 0 1 0-11.8 0M300.5 626.9a5.9 5.9 0 1 0 11.8 0a5.9 5.9 0 1 0-11.8 0M295.6 625.4a5.9 5.9 0 1 0 11.8 0a5.9 5.9 0 1 0-11.8 0M298.9 625.5a5.9 5.9 0 1 0 11.8 0a5.9 5.9 0 1 0-11.8 0M295.4 626.9a5.9 5.9 0 1 0 11.8 0a5.9 5.9 0 1 0-11.8 0M297.2 626.9a5.9 5.9 0 1 0 11.8 0a5.9 5.9 0 1 0-11.8 0M295.5 626a5.9 5.9 0 1 0 11.8 0a5.9 5.9 0 1 0-11.8 0M298.7 625.1a5.9 5.9 0 1 0 11.8 0a5.9 5.9 0 1 0-11.8 0M295.9 626.7a5.9 5.9 0 1 0 11.8 0a5.9 5.9 0 1 0-11.8 0M300 627.5a5.9 5.9 0 1 0 11.8 0a5.9 5.9 0 1 0-11.8 0M295.4 626.4a5.9 5.9 0 1 0 11.8 0a5.9 5.9 0 1 0-11.8 0M299.1 626.4a5.9 5.9 0 1 0 11.8 0a5.9 5.9 0 1 0-11.8 0M298.7 625.7a5.9 5.9 0 1 0 11.8 0a5.9 5.9 0 1 0-11.8 0M295.2 625.6a5.9 5.9 0 1 0 11.8 0a5.9 5.9 0 1 0-11.8 0M295 626.7a5.9 5.9 0 1 0 11.8 0a5.9 5.9 0 1 0-11.8 0M297.7 626.8a5.9 5.9 0 1 0 11.8 0a5.9 5.9 0 1 0-11.8 0M295.6 625.9a5.9 5.9 0 1 0 11.8 0a5.9 5.9 0 1 0-11.8 0M295.9 627.5a5.9 5.9 0 1 0 11.8 0a5.9 5.9 0 1 0-11.8 0M300.4 627.8a5.9 5.9 0 1 0 11.8 0a5.9 5.9 0 1 0-11.8 0M295.3 625.7a5.9 5.9 0 1 0 11.8 0a5.9 5.9 0 1 0-11.8 0M300.2 626.8a5.9 5.9 0 1 0 11.8 0a5.9 5.9 0 1 0-11.8 0M299.1 626.5a5.9 5.9 0 1 0 11.8 0a5.9 5.9 0 1 0-11.8 0M297.4 627a5.9 5.9 0 1 0 11.8 0a5.9 5.9 0 1 0-11.8 0M297.2 627.2a5.9 5.9 0 1 0 11.8 0a5.9 5.9 0 1 0-11.8 0M294.8 627.5a5.9 5.9 0 1 0 11.8 0a5.9 5.9 0 1 0-11.8 0M299.5 626.3a5.9 5.9 0 1 0 11.8 0a5.9 5.9 0 1 0-11.8 0M297.3 627.7a5.9 5.9 0 1 0 11.8 0a5.9 5.9 0 1 0-11.8 0M297 626.4a5.9 5.9 0 1 0 11.8 0a5.9 5.9 0 1 0-11.8 0M295.7 627.2a5.9 5.9 0 1 0 11.8 0a5.9 5.9 0 1 0-11.8 0M294.8 628.2a5.9 5.9 0 1 0 11.8 0a5.9 5.9 0 1 0-11.8 0M299.3 627.8a5.9 5.9 0 1 0 11.8 0a5.9 5.9 0 1 0-11.8 0M299.6 627.8a5.9 5.9 0 1 0 11.8 0a5.9 5.9 0 1 0-11.8 0M297 627.8a5.9 5.9 0 1 0 11.8 0a5.9 5.9 0 1 0-11.8 0M297.6 628.8a5.9 5.9 0 1 0 11.8 0a5.9 5.9 0 1 0-11.8 0M299.3 627.2a5.9 5.9 0 1 0 11.8 0a5.9 5.9 0 1 0-11.8 0M299.9 628.5a5.9 5.9 0 1 0 11.8 0a5.9 5.9 0 1 0-11.8 0M299.2 628.8a5.9 5.9 0 1 0 11.8 0a5.9 5.9 0 1 0-11.8 0M297 629.1a5.9 5.9 0 1 0 11.8 0a5.9 5.9 0 1 0-11.8 0M299.7 628.7a5.9 5.9 0 1 0 11.8 0a5.9 5.9 0 1 0-11.8 0M299.1 629a5.9 5.9 0 1 0 11.8 0a5.9 5.9 0 1 0-11.8 0M297 629a5.9 5.9 0 1 0 11.8 0a5.9 5.9 0 1 0-11.8 0M295.1 628.2a5.9 5.9 0 1 0 11.8 0a5.9 5.9 0 1 0-11.8 0M297.4 627.5a5.9 5.9 0 1 0 11.8 0a5.9 5.9 0 1 0-11.8 0M296.7 629.1a5.9 5.9 0 1 0 11.8 0a5.9 5.9 0 1 0-11.8 0M298.3 628.3a5.9 5.9 0 1 0 11.8 0a5.9 5.9 0 1 0-11.8 0M300.1 629.4a5.9 5.9 0 1 0 11.8 0a5.9 5.9 0 1 0-11.8 0M296.6 629.5a5.9 5.9 0 1 0 11.8 0a5.9 5.9 0 1 0-11.8 0M298 629.3a5.9 5.9 0 1 0 11.8 0a5.9 5.9 0 1 0-11.8 0M296.9 630.6a5.9 5.9 0 1 0 11.8 0a5.9 5.9 0 1 0-11.8 0M298.4 630a5.9 5.9 0 1 0 11.8 0a5.9 5.9 0 1 0-11.8 0M299 630.8a5.9 5.9 0 1 0 11.8 0a5.9 5.9 0 1 0-11.8 0M294.8 630a5.9 5.9 0 1 0 11.8 0a5.9 5.9 0 1 0-11.8 0M298.9 629.2a5.9 5.9 0 1 0 11.8 0a5.9 5.9 0 1 0-11.8 0M297 628.9a5.9 5.9 0 1 0 11.8 0a5.9 5.9 0 1 0-11.8 0M295.8 629.8a5.9 5.9 0 1 0 11.8 0a5.9 5.9 0 1 0-11.8 0M295.3 629.6a5.9 5.9 0 1 0 11.8 0a5.9 5.9 0 1 0-11.8 0M299.8 630.4a5.9 5.9 0 1 0 11.8 0a5.9 5.9 0 1 0-11.8 0M297.6 631.5a5.9 5.9 0 1 0 11.8 0a5.9 5.9 0 1 0-11.8 0M297.9 631.6a5.9 5.9 0 1 0 11.8 0a5.9 5.9 0 1 0-11.8 0M298.3 631.3a5.9 5.9 0 1 0 11.8 0a5.9 5.9 0 1 0-11.8 0M295.1 630.8a5.9 5.9 0 1 0 11.8 0a5.9 5.9 0 1 0-11.8 0M299 629.6a5.9 5.9 0 1 0 11.8 0a5.9 5.9 0 1 0-11.8 0M300 629.9a5.9 5.9 0 1 0 11.8 0a5.9 5.9 0 1 0-11.8 0M297.4 630a5.9 5.9 0 1 0 11.8 0a5.9 5.9 0 1 0-11.8 0M297.5 631.2a5.9 5.9 0 1 0 11.8 0a5.9 5.9 0 1 0-11.8 0M295 632a5.9 5.9 0 1 0 11.8 0a5.9 5.9 0 1 0-11.8 0M297.1 631.1a5.9 5.9 0 1 0 11.8 0a5.9 5.9 0 1 0-11.8 0M298.1 630.8a5.9 5.9 0 1 0 11.8 0a5.9 5.9 0 1 0-11.8 0M296.3 631.6a5.9 5.9 0 1 0 11.8 0a5.9 5.9 0 1 0-11.8 0M297.9 630.7a5.9 5.9 0 1 0 11.8 0a5.9 5.9 0 1 0-11.8 0M298.8 630.8a5.9 5.9 0 1 0 11.8 0a5.9 5.9 0 1 0-11.8 0M294.8 630.8a5.9 5.9 0 1 0 11.8 0a5.9 5.9 0 1 0-11.8 0M294.9 630.7a5.9 5.9 0 1 0 11.8 0a5.9 5.9 0 1 0-11.8 0M299 631.3a5.9 5.9 0 1 0 11.8 0a5.9 5.9 0 1 0-11.8 0M299.8 632.2a5.9 5.9 0 1 0 11.8 0a5.9 5.9 0 1 0-11.8 0M295 632.9a5.9 5.9 0 1 0 11.8 0a5.9 5.9 0 1 0-11.8 0M300 630.8a5.9 5.9 0 1 0 11.8 0a5.9 5.9 0 1 0-11.8 0M299.8 631.7a5.9 5.9 0 1 0 11.8 0a5.9 5.9 0 1 0-11.8 0M297.4 633.1a5.9 5.9 0 1 0 11.8 0a5.9 5.9 0 1 0-11.8 0M296.1 632.1a5.9 5.9 0 1 0 11.8 0a5.9 5.9 0 1 0-11.8 0M300 632.6a5.9 5.9 0 1 0 11.8 0a5.9 5.9 0 1 0-11.8 0M297.3 633.3a5.9 5.9 0 1 0 11.8 0a5.9 5.9 0 1 0-11.8 0M299.3 632.5a5.9 5.9 0 1 0 11.8 0a5.9 5.9 0 1 0-11.8 0M295.3 632.6a5.9 5.9 0 1 0 11.8 0a5.9 5.9 0 1 0-11.8 0M297.3 631.7a5.9 5.9 0 1 0 11.8 0a5.9 5.9 0 1 0-11.8 0M295 632.5a5.9 5.9 0 1 0 11.8 0a5.9 5.9 0 1 0-11.8 0M295.4 632.4a5.9 5.9 0 1 0 11.8 0a5.9 5.9 0 1 0-11.8 0M298.5 632.5a5.9 5.9 0 1 0 11.8 0a5.9 5.9 0 1 0-11.8 0M296.2 632.9a5.9 5.9 0 1 0 11.8 0a5.9 5.9 0 1 0-11.8 0M297 633.4a5.9 5.9 0 1 0 11.8 0a5.9 5.9 0 1 0-11.8 0M297.7 634a5.9 5.9 0 1 0 11.8 0a5.9 5.9 0 1 0-11.8 0M300.1 633.5a5.9 5.9 0 1 0 11.8 0a5.9 5.9 0 1 0-11.8 0M296 632a5.9 5.9 0 1 0 11.8 0a5.9 5.9 0 1 0-11.8 0M299.7 633.7a5.9 5.9 0 1 0 11.8 0a5.9 5.9 0 1 0-11.8 0M298.2 632.8a5.9 5.9 0 1 0 11.8 0a5.9 5.9 0 1 0-11.8 0M296.2 633.6a5.9 5.9 0 1 0 11.8 0a5.9 5.9 0 1 0-11.8 0M297.9 633.5a5.9 5.9 0 1 0 11.8 0a5.9 5.9 0 1 0-11.8 0M298.2 633.9a5.9 5.9 0 1 0 11.8 0a5.9 5.9 0 1 0-11.8 0M295.7 632.8a5.9 5.9 0 1 0 11.8 0a5.9 5.9 0 1 0-11.8 0M300.2 634.5a5.9 5.9 0 1 0 11.8 0a5.9 5.9 0 1 0-11.8 0M299.6 632.5a5.9 5.9 0 1 0 11.8 0a5.9 5.9 0 1 0-11.8 0M295 633.1a5.9 5.9 0 1 0 11.8 0a5.9 5.9 0 1 0-11.8 0M297.1 634a5.9 5.9 0 1 0 11.8 0a5.9 5.9 0 1 0-11.8 0M295.2 633.9a5.9 5.9 0 1 0 11.8 0a5.9 5.9 0 1 0-11.8 0M295.1 632.9a5.9 5.9 0 1 0 11.8 0a5.9 5.9 0 1 0-11.8 0M298.5 634a5.9 5.9 0 1 0 11.8 0a5.9 5.9 0 1 0-11.8 0M298.2 633.7a5.9 5.9 0 1 0 11.8 0a5.9 5.9 0 1 0-11.8 0M297.4 633.4a5.9 5.9 0 1 0 11.8 0a5.9 5.9 0 1 0-11.8 0M296.6 634.7a5.9 5.9 0 1 0 11.8 0a5.9 5.9 0 1 0-11.8 0M299.4 633.2a5.9 5.9 0 1 0 11.8 0a5.9 5.9 0 1 0-11.8 0M295.3 635a5.9 5.9 0 1 0 11.8 0a5.9 5.9 0 1 0-11.8 0M298.2 635a5.9 5.9 0 1 0 11.8 0a5.9 5.9 0 1 0-11.8 0M295.9 634.3a5.9 5.9 0 1 0 11.8 0a5.9 5.9 0 1 0-11.8 0M296.1 635.2a5.9 5.9 0 1 0 11.8 0a5.9 5.9 0 1 0-11.8 0M296.7 634.9a5.9 5.9 0 1 0 11.8 0a5.9 5.9 0 1 0-11.8 0M300.2 634.2a5.9 5.9 0 1 0 11.8 0a5.9 5.9 0 1 0-11.8 0M297.7 635.3a5.9 5.9 0 1 0 11.8 0a5.9 5.9 0 1 0-11.8 0M299.8 634.6a5.9 5.9 0 1 0 11.8 0a5.9 5.9 0 1 0-11.8 0M296.7 633.8a5.9 5.9 0 1 0 11.8 0a5.9 5.9 0 1 0-11.8 0M299.6 633.8a5.9 5.9 0 1 0 11.8 0a5.9 5.9 0 1 0-11.8 0M295.1 635.1a5.9 5.9 0 1 0 11.8 0a5.9 5.9 0 1 0-11.8 0M297.4 635.4a5.9 5.9 0 1 0 11.8 0a5.9 5.9 0 1 0-11.8 0M296.3 635.7a5.9 5.9 0 1 0 11.8 0a5.9 5.9 0 1 0-11.8 0M295.1 634.4a5.9 5.9 0 1 0 11.8 0a5.9 5.9 0 1 0-11.8 0M298.4 634.1a5.9 5.9 0 1 0 11.8 0a5.9 5.9 0 1 0-11.8 0M296.4 635.7a5.9 5.9 0 1 0 11.8 0a5.9 5.9 0 1 0-11.8 0M298.5 634.7a5.9 5.9 0 1 0 11.8 0a5.9 5.9 0 1 0-11.8 0M295.4 635a5.9 5.9 0 1 0 11.8 0a5.9 5.9 0 1 0-11.8 0M298.7 635a5.9 5.9 0 1 0 11.8 0a5.9 5.9 0 1 0-11.8 0M295.3 635.9a5.9 5.9 0 1 0 11.8 0a5.9 5.9 0 1 0-11.8 0M297.8 636.5a5.9 5.9 0 1 0 11.8 0a5.9 5.9 0 1 0-11.8 0M299.9 636.5a5.9 5.9 0 1 0 11.8 0a5.9 5.9 0 1 0-11.8 0M297.1 636.3a5.9 5.9 0 1 0 11.8 0a5.9 5.9 0 1 0-11.8 0M296.3 635.2a5.9 5.9 0 1 0 11.8 0a5.9 5.9 0 1 0-11.8 0M296.9 636.7a5.9 5.9 0 1 0 11.8 0a5.9 5.9 0 1 0-11.8 0M299.7 635.1a5.9 5.9 0 1 0 11.8 0a5.9 5.9 0 1 0-11.8 0M296.7 635.5a5.9 5.9 0 1 0 11.8 0a5.9 5.9 0 1 0-11.8 0M296.7 635.6a5.9 5.9 0 1 0 11.8 0a5.9 5.9 0 1 0-11.8 0M296.8 635.2a5.9 5.9 0 1 0 11.8 0a5.9 5.9 0 1 0-11.8 0M297.8 636.7a5.9 5.9 0 1 0 11.8 0a5.9 5.9 0 1 0-11.8 0M297.7 636.8a5.9 5.9 0 1 0 11.8 0a5.9 5.9 0 1 0-11.8 0M297.8 635.3a5.9 5.9 0 1 0 11.8 0a5.9 5.9 0 1 0-11.8 0M298.9 637.1a5.9 5.9 0 1 0 11.8 0a5.9 5.9 0 1 0-11.8 0M296.2 635.1a5.9 5.9 0 1 0 11.8 0a5.9 5.9 0 1 0-11.8 0M297.5 636.4a5.9 5.9 0 1 0 11.8 0a5.9 5.9 0 1 0-11.8 0M297.8 637.4a5.9 5.9 0 1 0 11.8 0a5.9 5.9 0 1 0-11.8 0M298.3 637.1a5.9 5.9 0 1 0 11.8 0a5.9 5.9 0 1 0-11.8 0M295 636.5a5.9 5.9 0 1 0 11.8 0a5.9 5.9 0 1 0-11.8 0M299 635.5a5.9 5.9 0 1 0 11.8 0a5.9 5.9 0 1 0-11.8 0M295.1 637.1a5.9 5.9 0 1 0 11.8 0a5.9 5.9 0 1 0-11.8 0M299.7 635.6a5.9 5.9 0 1 0 11.8 0a5.9 5.9 0 1 0-11.8 0M298.2 635.8a5.9 5.9 0 1 0 11.8 0a5.9 5.9 0 1 0-11.8 0M298.8 637.1a5.9 5.9 0 1 0 11.8 0a5.9 5.9 0 1 0-11.8 0M296 636.1a5.9 5.9 0 1 0 11.8 0a5.9 5.9 0 1 0-11.8 0M298.9 636.9a5.9 5.9 0 1 0 11.8 0a5.9 5.9 0 1 0-11.8 0M298.9 636.6a5.9 5.9 0 1 0 11.8 0a5.9 5.9 0 1 0-11.8 0M296.5 638.1a5.9 5.9 0 1 0 11.8 0a5.9 5.9 0 1 0-11.8 0M298.4 637a5.9 5.9 0 1 0 11.8 0a5.9 5.9 0 1 0-11.8 0M297.6 637.6a5.9 5.9 0 1 0 11.8 0a5.9 5.9 0 1 0-11.8 0M298.6 638.2a5.9 5.9 0 1 0 11.8 0a5.9 5.9 0 1 0-11.8 0M296.9 638.1a5.9 5.9 0 1 0 11.8 0a5.9 5.9 0 1 0-11.8 0M298.3 638.2a5.9 5.9 0 1 0 11.8 0a5.9 5.9 0 1 0-11.8 0M299.1 638.3a5.9 5.9 0 1 0 11.8 0a5.9 5.9 0 1 0-11.8 0M299.6 638.7a5.9 5.9 0 1 0 11.8 0a5.9 5.9 0 1 0-11.8 0M298.2 637.7a5.9 5.9 0 1 0 11.8 0a5.9 5.9 0 1 0-11.8 0M298.6 638.5a5.9 5.9 0 1 0 11.8 0a5.9 5.9 0 1 0-11.8 0M297 637.7a5.9 5.9 0 1 0 11.8 0a5.9 5.9 0 1 0-11.8 0M295.4 638.6a5.9 5.9 0 1 0 11.8 0a5.9 5.9 0 1 0-11.8 0M300.2 637.8a5.9 5.9 0 1 0 11.8 0a5.9 5.9 0 1 0-11.8 0M295.5 637.5a5.9 5.9 0 1 0 11.8 0a5.9 5.9 0 1 0-11.8 0M296.9 637.8a5.9 5.9 0 1 0 11.8 0a5.9 5.9 0 1 0-11.8 0M299.9 637.3a5.9 5.9 0 1 0 11.8 0a5.9 5.9 0 1 0-11.8 0M296.1 637.6a5.9 5.9 0 1 0 11.8 0a5.9 5.9 0 1 0-11.8 0M297.9 639.2a5.9 5.9 0 1 0 11.8 0a5.9 5.9 0 1 0-11.8 0M295.3 637.6a5.9 5.9 0 1 0 11.8 0a5.9 5.9 0 1 0-11.8 0M296.8 639a5.9 5.9 0 1 0 11.8 0a5.9 5.9 0 1 0-11.8 0M299.2 637.8a5.9 5.9 0 1 0 11.8 0a5.9 5.9 0 1 0-11.8 0M294.7 638.2a5.9 5.9 0 1 0 11.8 0a5.9 5.9 0 1 0-11.8 0M295.2 638.4a5.9 5.9 0 1 0 11.8 0a5.9 5.9 0 1 0-11.8 0M297.9 639.4a5.9 5.9 0 1 0 11.8 0a5.9 5.9 0 1 0-11.8 0M295.2 638.5a5.9 5.9 0 1 0 11.8 0a5.9 5.9 0 1 0-11.8 0M295.4 638.6a5.9 5.9 0 1 0 11.8 0a5.9 5.9 0 1 0-11.8 0M298 639a5.9 5.9 0 1 0 11.8 0a5.9 5.9 0 1 0-11.8 0M296.8 640.3a5.9 5.9 0 1 0 11.8 0a5.9 5.9 0 1 0-11.8 0M296.3 639.1a5.9 5.9 0 1 0 11.8 0a5.9 5.9 0 1 0-11.8 0M298.5 640.8a5.9 5.9 0 1 0 11.8 0a5.9 5.9 0 1 0-11.8 0M295.5 640a5.9 5.9 0 1 0 11.8 0a5.9 5.9 0 1 0-11.8 0M298.7 639.9a5.9 5.9 0 1 0 11.8 0a5.9 5.9 0 1 0-11.8 0M294.7 639a5.9 5.9 0 1 0 11.8 0a5.9 5.9 0 1 0-11.8 0M298.6 640.9a5.9 5.9 0 1 0 11.8 0a5.9 5.9 0 1 0-11.8 0M295.4 640.4a5.9 5.9 0 1 0 11.8 0a5.9 5.9 0 1 0-11.8 0M296.1 639.8a5.9 5.9 0 1 0 11.8 0a5.9 5.9 0 1 0-11.8 0M298.6 640.9a5.9 5.9 0 1 0 11.8 0a5.9 5.9 0 1 0-11.8 0M294.5 639.4a5.9 5.9 0 1 0 11.8 0a5.9 5.9 0 1 0-11.8 0M295.7 640.3a5.9 5.9 0 1 0 11.8 0a5.9 5.9 0 1 0-11.8 0M297.4 641.2a5.9 5.9 0 1 0 11.8 0a5.9 5.9 0 1 0-11.8 0M296.3 639.9a5.9 5.9 0 1 0 11.8 0a5.9 5.9 0 1 0-11.8 0M293.8 640.4a5.9 5.9 0 1 0 11.8 0a5.9 5.9 0 1 0-11.8 0M294.3 641.8a5.9 5.9 0 1 0 11.8 0a5.9 5.9 0 1 0-11.8 0M295.6 641.3a5.9 5.9 0 1 0 11.8 0a5.9 5.9 0 1 0-11.8 0M298.1 640.4a5.9 5.9 0 1 0 11.8 0a5.9 5.9 0 1 0-11.8 0M295.6 640.2a5.9 5.9 0 1 0 11.8 0a5.9 5.9 0 1 0-11.8 0M296.8 639.9a5.9 5.9 0 1 0 11.8 0a5.9 5.9 0 1 0-11.8 0M297 642a5.9 5.9 0 1 0 11.8 0a5.9 5.9 0 1 0-11.8 0M296.9 640.2a5.9 5.9 0 1 0 11.8 0a5.9 5.9 0 1 0-11.8 0M293.9 641.8a5.9 5.9 0 1 0 11.8 0a5.9 5.9 0 1 0-11.8 0M293 641.3a5.9 5.9 0 1 0 11.8 0a5.9 5.9 0 1 0-11.8 0M294.9 642.5a5.9 5.9 0 1 0 11.8 0a5.9 5.9 0 1 0-11.8 0M295.4 642.3a5.9 5.9 0 1 0 11.8 0a5.9 5.9 0 1 0-11.8 0M293.9 642.2a5.9 5.9 0 1 0 11.8 0a5.9 5.9 0 1 0-11.8 0M294.4 642.6a5.9 5.9 0 1 0 11.8 0a5.9 5.9 0 1 0-11.8 0M292.6 642.5a5.9 5.9 0 1 0 11.8 0a5.9 5.9 0 1 0-11.8 0M293.2 641.8a5.9 5.9 0 1 0 11.8 0a5.9 5.9 0 1 0-11.8 0M294.8 641a5.9 5.9 0 1 0 11.8 0a5.9 5.9 0 1 0-11.8 0M296.3 641.4a5.9 5.9 0 1 0 11.8 0a5.9 5.9 0 1 0-11.8 0M293.4 640.9a5.9 5.9 0 1 0 11.8 0a5.9 5.9 0 1 0-11.8 0M293.2 641.9a5.9 5.9 0 1 0 11.8 0a5.9 5.9 0 1 0-11.8 0M295.2 641.7a5.9 5.9 0 1 0 11.8 0a5.9 5.9 0 1 0-11.8 0M294.9 641.1a5.9 5.9 0 1 0 11.8 0a5.9 5.9 0 1 0-11.8 0M293.2 642.1a5.9 5.9 0 1 0 11.8 0a5.9 5.9 0 1 0-11.8 0M296 643a5.9 5.9 0 1 0 11.8 0a5.9 5.9 0 1 0-11.8 0M294.2 641.1a5.9 5.9 0 1 0 11.8 0a5.9 5.9 0 1 0-11.8 0M292.6 642.8a5.9 5.9 0 1 0 11.8 0a5.9 5.9 0 1 0-11.8 0M291.8 642.5a5.9 5.9 0 1 0 11.8 0a5.9 5.9 0 1 0-11.8 0M292.7 641.3a5.9 5.9 0 1 0 11.8 0a5.9 5.9 0 1 0-11.8 0M295.2 643.2a5.9 5.9 0 1 0 11.8 0a5.9 5.9 0 1 0-11.8 0M291.2 642.9a5.9 5.9 0 1 0 11.8 0a5.9 5.9 0 1 0-11.8 0M291.4 642.3a5.9 5.9 0 1 0 11.8 0a5.9 5.9 0 1 0-11.8 0M292.5 642.2a5.9 5.9 0 1 0 11.8 0a5.9 5.9 0 1 0-11.8 0M291.3 642.5a5.9 5.9 0 1 0 11.8 0a5.9 5.9 0 1 0-11.8 0M292.8 642.2a5.9 5.9 0 1 0 11.8 0a5.9 5.9 0 1 0-11.8 0M290.3 643.4a5.9 5.9 0 1 0 11.8 0a5.9 5.9 0 1 0-11.8 0M290.8 644a5.9 5.9 0 1 0 11.8 0a5.9 5.9 0 1 0-11.8 0M291.8 643.5a5.9 5.9 0 1 0 11.8 0a5.9 5.9 0 1 0-11.8 0M290.5 643.8a5.9 5.9 0 1 0 11.8 0a5.9 5.9 0 1 0-11.8 0M289.2 642.3a5.9 5.9 0 1 0 11.8 0a5.9 5.9 0 1 0-11.8 0M289 643.6a5.9 5.9 0 1 0 11.8 0a5.9 5.9 0 1 0-11.8 0M291.8 642.5a5.9 5.9 0 1 0 11.8 0a5.9 5.9 0 1 0-11.8 0M290.2 644.1a5.9 5.9 0 1 0 11.8 0a5.9 5.9 0 1 0-11.8 0M290.9 642.4a5.9 5.9 0 1 0 11.8 0a5.9 5.9 0 1 0-11.8 0M289 642.6a5.9 5.9 0 1 0 11.8 0a5.9 5.9 0 1 0-11.8 0M288.4 643.3a5.9 5.9 0 1 0 11.8 0a5.9 5.9 0 1 0-11.8 0M288 644.5a5.9 5.9 0 1 0 11.8 0a5.9 5.9 0 1 0-11.8 0M289.5 643.6a5.9 5.9 0 1 0 11.8 0a5.9 5.9 0 1 0-11.8 0M290.4 644.3a5.9 5.9 0 1 0 11.8 0a5.9 5.9 0 1 0-11.8 0M291 643.6a5.9 5.9 0 1 0 11.8 0a5.9 5.9 0 1 0-11.8 0M288.6 643.9a5.9 5.9 0 1 0 11.8 0a5.9 5.9 0 1 0-11.8 0M287 644a5.9 5.9 0 1 0 11.8 0a5.9 5.9 0 1 0-11.8 0M290 645.6a5.9 5.9 0 1 0 11.8 0a5.9 5.9 0 1 0-11.8 0M290.2 645.1a5.9 5.9 0 1 0 11.8 0a5.9 5.9 0 1 0-11.8 0M289.2 643.7a5.9 5.9 0 1 0 11.8 0a5.9 5.9 0 1 0-11.8 0M287.8 644.7a5.9 5.9 0 1 0 11.8 0a5.9 5.9 0 1 0-11.8 0M289.1 644.3a5.9 5.9 0 1 0 11.8 0a5.9 5.9 0 1 0-11.8 0M287.7 645.5a5.9 5.9 0 1 0 11.8 0a5.9 5.9 0 1 0-11.8 0M289.4 646.4a5.9 5.9 0 1 0 11.8 0a5.9 5.9 0 1 0-11.8 0M288.4 645a5.9 5.9 0 1 0 11.8 0a5.9 5.9 0 1 0-11.8 0M288.9 647a5.9 5.9 0 1 0 11.8 0a5.9 5.9 0 1 0-11.8 0M287.8 645.9a5.9 5.9 0 1 0 11.8 0a5.9 5.9 0 1 0-11.8 0M287.4 645.6a5.9 5.9 0 1 0 11.8 0a5.9 5.9 0 1 0-11.8 0M288.2 647.8a5.9 5.9 0 1 0 11.8 0a5.9 5.9 0 1 0-11.8 0M287.5 647.4a5.9 5.9 0 1 0 11.8 0a5.9 5.9 0 1 0-11.8 0M289.2 646.3a5.9 5.9 0 1 0 11.8 0a5.9 5.9 0 1 0-11.8 0M289.9 647.5a5.9 5.9 0 1 0 11.8 0a5.9 5.9 0 1 0-11.8 0M286.8 646.4a5.9 5.9 0 1 0 11.8 0a5.9 5.9 0 1 0-11.8 0M287.3 647.8a5.9 5.9 0 1 0 11.8 0a5.9 5.9 0 1 0-11.8 0M289.6 647.4a5.9 5.9 0 1 0 11.8 0a5.9 5.9 0 1 0-11.8 0M291 647.6a5.9 5.9 0 1 0 11.8 0a5.9 5.9 0 1 0-11.8 0M289.1 647.3a5.9 5.9 0 1 0 11.8 0a5.9 5.9 0 1 0-11.8 0M291.8 647.5a5.9 5.9 0 1 0 11.8 0a5.9 5.9 0 1 0-11.8 0M291.7 648.6a5.9 5.9 0 1 0 11.8 0a5.9 5.9 0 1 0-11.8 0M290.4 648.9a5.9 5.9 0 1 0 11.8 0a5.9 5.9 0 1 0-11.8 0M289.2 649.9a5.9 5.9 0 1 0 11.8 0a5.9 5.9 0 1 0-11.8 0M293 649.9a5.9 5.9 0 1 0 11.8 0a5.9 5.9 0 1 0-11.8 0M291.4 648.4a5.9 5.9 0 1 0 11.8 0a5.9 5.9 0 1 0-11.8 0M292.7 649a5.9 5.9 0 1 0 11.8 0a5.9 5.9 0 1 0-11.8 0M293.4 649a5.9 5.9 0 1 0 11.8 0a5.9 5.9 0 1 0-11.8 0M292.1 650.6a5.9 5.9 0 1 0 11.8 0a5.9 5.9 0 1 0-11.8 0M290.5 650.2a5.9 5.9 0 1 0 11.8 0a5.9 5.9 0 1 0-11.8 0M290.3 649.1a5.9 5.9 0 1 0 11.8 0a5.9 5.9 0 1 0-11.8 0M291.1 651.6a5.9 5.9 0 1 0 11.8 0a5.9 5.9 0 1 0-11.8 0M295.2 651a5.9 5.9 0 1 0 11.8 0a5.9 5.9 0 1 0-11.8 0M292.3 651.2a5.9 5.9 0 1 0 11.8 0a5.9 5.9 0 1 0-11.8 0M294.8 650.7a5.9 5.9 0 1 0 11.8 0a5.9 5.9 0 1 0-11.8 0M294.4 651.9a5.9 5.9 0 1 0 11.8 0a5.9 5.9 0 1 0-11.8 0M291.8 650.6a5.9 5.9 0 1 0 11.8 0a5.9 5.9 0 1 0-11.8 0M294.4 650.5a5.9 5.9 0 1 0 11.8 0a5.9 5.9 0 1 0-11.8 0M294.2 651.6a5.9 5.9 0 1 0 11.8 0a5.9 5.9 0 1 0-11.8 0M293.5 651.5a5.9 5.9 0 1 0 11.8 0a5.9 5.9 0 1 0-11.8 0M294.2 651.6a5.9 5.9 0 1 0 11.8 0a5.9 5.9 0 1 0-11.8 0M294.9 651.9a5.9 5.9 0 1 0 11.8 0a5.9 5.9 0 1 0-11.8 0M293.7 652a5.9 5.9 0 1 0 11.8 0a5.9 5.9 0 1 0-11.8 0M294.3 652.7a5.9 5.9 0 1 0 11.8 0a5.9 5.9 0 1 0-11.8 0M296.6 651.6a5.9 5.9 0 1 0 11.8 0a5.9 5.9 0 1 0-11.8 0M295.7 652a5.9 5.9 0 1 0 11.8 0a5.9 5.9 0 1 0-11.8 0M297.1 652.3a5.9 5.9 0 1 0 11.8 0a5.9 5.9 0 1 0-11.8 0M297.4 651.7a5.9 5.9 0 1 0 11.8 0a5.9 5.9 0 1 0-11.8 0M298.6 652.6a5.9 5.9 0 1 0 11.8 0a5.9 5.9 0 1 0-11.8 0M297.9 651.6a5.9 5.9 0 1 0 11.8 0a5.9 5.9 0 1 0-11.8 0M295.8 652a5.9 5.9 0 1 0 11.8 0a5.9 5.9 0 1 0-11.8 0M298.2 651.9a5.9 5.9 0 1 0 11.8 0a5.9 5.9 0 1 0-11.8 0M296.2 651.8a5.9 5.9 0 1 0 11.8 0a5.9 5.9 0 1 0-11.8 0M298.2 651.5a5.9 5.9 0 1 0 11.8 0a5.9 5.9 0 1 0-11.8 0M293.8 652.5a5.9 5.9 0 1 0 11.8 0a5.9 5.9 0 1 0-11.8 0M298.2 652.6a5.9 5.9 0 1 0 11.8 0a5.9 5.9 0 1 0-11.8 0M296.6 652.7a5.9 5.9 0 1 0 11.8 0a5.9 5.9 0 1 0-11.8 0M295.1 652.3a5.9 5.9 0 1 0 11.8 0a5.9 5.9 0 1 0-11.8 0M293.9 651.2a5.9 5.9 0 1 0 11.8 0a5.9 5.9 0 1 0-11.8 0M295.8 652.2a5.9 5.9 0 1 0 11.8 0a5.9 5.9 0 1 0-11.8 0M295.6 651.1a5.9 5.9 0 1 0 11.8 0a5.9 5.9 0 1 0-11.8 0M297.1 652.3a5.9 5.9 0 1 0 11.8 0a5.9 5.9 0 1 0-11.8 0M294.8 651.8a5.9 5.9 0 1 0 11.8 0a5.9 5.9 0 1 0-11.8 0M295.6 651.7a5.9 5.9 0 1 0 11.8 0a5.9 5.9 0 1 0-11.8 0M293.9 653.4a5.9 5.9 0 1 0 11.8 0a5.9 5.9 0 1 0-11.8 0M298.5 652.8a5.9 5.9 0 1 0 11.8 0a5.9 5.9 0 1 0-11.8 0M298 652.3a5.9 5.9 0 1 0 11.8 0a5.9 5.9 0 1 0-11.8 0M297.7 651.8a5.9 5.9 0 1 0 11.8 0a5.9 5.9 0 1 0-11.8 0M297.4 652.7a5.9 5.9 0 1 0 11.8 0a5.9 5.9 0 1 0-11.8 0M298.2 651.6a5.9 5.9 0 1 0 11.8 0a5.9 5.9 0 1 0-11.8 0M297.6 651.7a5.9 5.9 0 1 0 11.8 0a5.9 5.9 0 1 0-11.8 0M296.3 653.6a5.9 5.9 0 1 0 11.8 0a5.9 5.9 0 1 0-11.8 0M293.6 652a5.9 5.9 0 1 0 11.8 0a5.9 5.9 0 1 0-11.8 0M295.1 652.2a5.9 5.9 0 1 0 11.8 0a5.9 5.9 0 1 0-11.8 0M293.9 653.5a5.9 5.9 0 1 0 11.8 0a5.9 5.9 0 1 0-11.8 0M297.8 652.4a5.9 5.9 0 1 0 11.8 0a5.9 5.9 0 1 0-11.8 0M295.4 652.8a5.9 5.9 0 1 0 11.8 0a5.9 5.9 0 1 0-11.8 0M293.8 651.5a5.9 5.9 0 1 0 11.8 0a5.9 5.9 0 1 0-11.8 0M298.2 652.2a5.9 5.9 0 1 0 11.8 0a5.9 5.9 0 1 0-11.8 0M296.1 653.7a5.9 5.9 0 1 0 11.8 0a5.9 5.9 0 1 0-11.8 0M298.6 652.6a5.9 5.9 0 1 0 11.8 0a5.9 5.9 0 1 0-11.8 0M294.6 652.2a5.9 5.9 0 1 0 11.8 0a5.9 5.9 0 1 0-11.8 0M298.3 653.6a5.9 5.9 0 1 0 11.8 0a5.9 5.9 0 1 0-11.8 0M294.6 653.5a5.9 5.9 0 1 0 11.8 0a5.9 5.9 0 1 0-11.8 0M295.4 652.6a5.9 5.9 0 1 0 11.8 0a5.9 5.9 0 1 0-11.8 0M294.5 653.6a5.9 5.9 0 1 0 11.8 0a5.9 5.9 0 1 0-11.8 0M298.7 652a5.9 5.9 0 1 0 11.8 0a5.9 5.9 0 1 0-11.8 0M296.8 652a5.9 5.9 0 1 0 11.8 0a5.9 5.9 0 1 0-11.8 0M298.1 651.6a5.9 5.9 0 1 0 11.8 0a5.9 5.9 0 1 0-11.8 0M294.1 653.3a5.9 5.9 0 1 0 11.8 0a5.9 5.9 0 1 0-11.8 0M295.2 653.7a5.9 5.9 0 1 0 11.8 0a5.9 5.9 0 1 0-11.8 0M298.1 653.3a5.9 5.9 0 1 0 11.8 0a5.9 5.9 0 1 0-11.8 0M294.3 653.2a5.9 5.9 0 1 0 11.8 0a5.9 5.9 0 1 0-11.8 0M298.4 652.6a5.9 5.9 0 1 0 11.8 0a5.9 5.9 0 1 0-11.8 0M294 652.1a5.9 5.9 0 1 0 11.8 0a5.9 5.9 0 1 0-11.8 0M295.2 653.3a5.9 5.9 0 1 0 11.8 0a5.9 5.9 0 1 0-11.8 0M294.6 652a5.9 5.9 0 1 0 11.8 0a5.9 5.9 0 1 0-11.8 0M294.8 653.2a5.9 5.9 0 1 0 11.8 0a5.9 5.9 0 1 0-11.8 0M297.7 652.5a5.9 5.9 0 1 0 11.8 0a5.9 5.9 0 1 0-11.8 0M297 653.7a5.9 5.9 0 1 0 11.8 0a5.9 5.9 0 1 0-11.8 0M296.6 652.2a5.9 5.9 0 1 0 11.8 0a5.9 5.9 0 1 0-11.8 0M295.2 653.9a5.9 5.9 0 1 0 11.8 0a5.9 5.9 0 1 0-11.8 0M297 652.3a5.9 5.9 0 1 0 11.8 0a5.9 5.9 0 1 0-11.8 0M296.9 651.9a5.9 5.9 0 1 0 11.8 0a5.9 5.9 0 1 0-11.8 0M298.7 652.7a5.9 5.9 0 1 0 11.8 0a5.9 5.9 0 1 0-11.8 0M296.3 652.9a5.9 5.9 0 1 0 11.8 0a5.9 5.9 0 1 0-11.8 0M293.8 653.1a5.9 5.9 0 1 0 11.8 0a5.9 5.9 0 1 0-11.8 0M295.1 652.3a5.9 5.9 0 1 0 11.8 0a5.9 5.9 0 1 0-11.8 0M297.7 651.9a5.9 5.9 0 1 0 11.8 0a5.9 5.9 0 1 0-11.8 0M295.1 653.5a5.9 5.9 0 1 0 11.8 0a5.9 5.9 0 1 0-11.8 0M294.9 652.4a5.9 5.9 0 1 0 11.8 0a5.9 5.9 0 1 0-11.8 0M296.4 652.2a5.9 5.9 0 1 0 11.8 0a5.9 5.9 0 1 0-11.8 0M298.2 654.1a5.9 5.9 0 1 0 11.8 0a5.9 5.9 0 1 0-11.8 0M293.8 652.8a5.9 5.9 0 1 0 11.8 0a5.9 5.9 0 1 0-11.8 0M297.5 652.7a5.9 5.9 0 1 0 11.8 0a5.9 5.9 0 1 0-11.8 0M298.4 653a5.9 5.9 0 1 0 11.8 0a5.9 5.9 0 1 0-11.8 0M294.5 653.1a5.9 5.9 0 1 0 11.8 0a5.9 5.9 0 1 0-11.8 0M296.9 652.6a5.9 5.9 0 1 0 11.8 0a5.9 5.9 0 1 0-11.8 0M297 653.7a5.9 5.9 0 1 0 11.8 0a5.9 5.9 0 1 0-11.8 0M296.3 653a5.9 5.9 0 1 0 11.8 0a5.9 5.9 0 1 0-11.8 0M298 653.4a5.9 5.9 0 1 0 11.8 0a5.9 5.9 0 1 0-11.8 0M296.3 654.1a5.9 5.9 0 1 0 11.8 0a5.9 5.9 0 1 0-11.8 0M294.5 653.7a5.9 5.9 0 1 0 11.8 0a5.9 5.9 0 1 0-11.8 0M294.5 653.3a5.9 5.9 0 1 0 11.8 0a5.9 5.9 0 1 0-11.8 0M294.8 652.9a5.9 5.9 0 1 0 11.8 0a5.9 5.9 0 1 0-11.8 0M297.6 653.7a5.9 5.9 0 1 0 11.8 0a5.9 5.9 0 1 0-11.8 0M297.7 652.4a5.9 5.9 0 1 0 11.8 0a5.9 5.9 0 1 0-11.8 0M296.1 652.4a5.9 5.9 0 1 0 11.8 0a5.9 5.9 0 1 0-11.8 0M296.6 653.1a5.9 5.9 0 1 0 11.8 0a5.9 5.9 0 1 0-11.8 0M293.8 653.3a5.9 5.9 0 1 0 11.8 0a5.9 5.9 0 1 0-11.8 0M297.3 653.3a5.9 5.9 0 1 0 11.8 0a5.9 5.9 0 1 0-11.8 0M298.1 652.3a5.9 5.9 0 1 0 11.8 0a5.9 5.9 0 1 0-11.8 0M294.4 651.9a5.9 5.9 0 1 0 11.8 0a5.9 5.9 0 1 0-11.8 0M296.2 653a5.9 5.9 0 1 0 11.8 0a5.9 5.9 0 1 0-11.8 0M295.9 652.5a5.9 5.9 0 1 0 11.8 0a5.9 5.9 0 1 0-11.8 0M297.8 652.1a5.9 5.9 0 1 0 11.8 0a5.9 5.9 0 1 0-11.8 0M298.3 653.3a5.9 5.9 0 1 0 11.8 0a5.9 5.9 0 1 0-11.8 0M296.4 653.8a5.9 5.9 0 1 0 11.8 0a5.9 5.9 0 1 0-11.8 0M294.9 652.3a5.9 5.9 0 1 0 11.8 0a5.9 5.9 0 1 0-11.8 0M295.2 652.1a5.9 5.9 0 1 0 11.8 0a5.9 5.9 0 1 0-11.8 0M295.3 653.5a5.9 5.9 0 1 0 11.8 0a5.9 5.9 0 1 0-11.8 0M296.4 652.6a5.9 5.9 0 1 0 11.8 0a5.9 5.9 0 1 0-11.8 0M296.7 652.2a5.9 5.9 0 1 0 11.8 0a5.9 5.9 0 1 0-11.8 0M297.9 652.4a5.9 5.9 0 1 0 11.8 0a5.9 5.9 0 1 0-11.8 0M295 652.4a5.9 5.9 0 1 0 11.8 0a5.9 5.9 0 1 0-11.8 0M297.2 654a5.9 5.9 0 1 0 11.8 0a5.9 5.9 0 1 0-11.8 0M297.7 652.2a5.9 5.9 0 1 0 11.8 0a5.9 5.9 0 1 0-11.8 0M295.8 652.9a5.9 5.9 0 1 0 11.8 0a5.9 5.9 0 1 0-11.8 0M294.8 654.4a5.9 5.9 0 1 0 11.8 0a5.9 5.9 0 1 0-11.8 0M293.9 653.2a5.9 5.9 0 1 0 11.8 0a5.9 5.9 0 1 0-11.8 0M297.6 654.4a5.9 5.9 0 1 0 11.8 0a5.9 5.9 0 1 0-11.8 0M294.4 653.2a5.9 5.9 0 1 0 11.8 0a5.9 5.9 0 1 0-11.8 0M297.5 652.2a5.9 5.9 0 1 0 11.8 0a5.9 5.9 0 1 0-11.8 0M294.9 654.2a5.9 5.9 0 1 0 11.8 0a5.9 5.9 0 1 0-11.8 0M294.4 653a5.9 5.9 0 1 0 11.8 0a5.9 5.9 0 1 0-11.8 0M295.2 653.1a5.9 5.9 0 1 0 11.8 0a5.9 5.9 0 1 0-11.8 0M294.1 652.2a5.9 5.9 0 1 0 11.8 0a5.9 5.9 0 1 0-11.8 0M298.8 654a5.9 5.9 0 1 0 11.8 0a5.9 5.9 0 1 0-11.8 0M297.5 652.7a5.9 5.9 0 1 0 11.8 0a5.9 5.9 0 1 0-11.8 0M295 653.5a5.9 5.9 0 1 0 11.8 0a5.9 5.9 0 1 0-11.8 0M294.9 653.3a5.9 5.9 0 1 0 11.8 0a5.9 5.9 0 1 0-11.8 0M298.5 653a5.9 5.9 0 1 0 11.8 0a5.9 5.9 0 1 0-11.8 0M295.4 654.5a5.9 5.9 0 1 0 11.8 0a5.9 5.9 0 1 0-11.8 0M296.8 652.3a5.9 5.9 0 1 0 11.8 0a5.9 5.9 0 1 0-11.8 0M295.8 653.8a5.9 5.9 0 1 0 11.8 0a5.9 5.9 0 1 0-11.8 0M294 653a5.9 5.9 0 1 0 11.8 0a5.9 5.9 0 1 0-11.8 0M297.3 654.3a5.9 5.9 0 1 0 11.8 0a5.9 5.9 0 1 0-11.8 0M296.7 654.4a5.9 5.9 0 1 0 11.8 0a5.9 5.9 0 1 0-11.8 0M296.1 653.2a5.9 5.9 0 1 0 11.8 0a5.9 5.9 0 1 0-11.8 0M298 653.2a5.9 5.9 0 1 0 11.8 0a5.9 5.9 0 1 0-11.8 0M297.7 652.8a5.9 5.9 0 1 0 11.8 0a5.9 5.9 0 1 0-11.8 0M295.5 652.7a5.9 5.9 0 1 0 11.8 0a5.9 5.9 0 1 0-11.8 0M296.5 652.7a5.9 5.9 0 1 0 11.8 0a5.9 5.9 0 1 0-11.8 0M294.7 652.8a5.9 5.9 0 1 0 11.8 0a5.9 5.9 0 1 0-11.8 0M296.1 653.1a5.9 5.9 0 1 0 11.8 0a5.9 5.9 0 1 0-11.8 0M296 654.7a5.9 5.9 0 1 0 11.8 0a5.9 5.9 0 1 0-11.8 0M297.2 654.4a5.9 5.9 0 1 0 11.8 0a5.9 5.9 0 1 0-11.8 0M294.7 653.3a5.9 5.9 0 1 0 11.8 0a5.9 5.9 0 1 0-11.8 0M294.1 654a5.9 5.9 0 1 0 11.8 0a5.9 5.9 0 1 0-11.8 0M295.6 653a5.9 5.9 0 1 0 11.8 0a5.9 5.9 0 1 0-11.8 0M293.8 652.8a5.9 5.9 0 1 0 11.8 0a5.9 5.9 0 1 0-11.8 0M295 653.4a5.9 5.9 0 1 0 11.8 0a5.9 5.9 0 1 0-11.8 0M298.5 654.1a5.9 5.9 0 1 0 11.8 0a5.9 5.9 0 1 0-11.8 0M295.1 653.3a5.9 5.9 0 1 0 11.8 0a5.9 5.9 0 1 0-11.8 0M294.5 654.7a5.9 5.9 0 1 0 11.8 0a5.9 5.9 0 1 0-11.8 0M295.6 654.3a5.9 5.9 0 1 0 11.8 0a5.9 5.9 0 1 0-11.8 0M297.4 654.7a5.9 5.9 0 1 0 11.8 0a5.9 5.9 0 1 0-11.8 0M293.8 653.3a5.9 5.9 0 1 0 11.8 0a5.9 5.9 0 1 0-11.8 0M295.7 652.7a5.9 5.9 0 1 0 11.8 0a5.9 5.9 0 1 0-11.8 0M298.3 653.3a5.9 5.9 0 1 0 11.8 0a5.9 5.9 0 1 0-11.8 0M297.7 653.8a5.9 5.9 0 1 0 11.8 0a5.9 5.9 0 1 0-11.8 0M294 653.5a5.9 5.9 0 1 0 11.8 0a5.9 5.9 0 1 0-11.8 0M294.9 652.6a5.9 5.9 0 1 0 11.8 0a5.9 5.9 0 1 0-11.8 0M294.5 654a5.9 5.9 0 1 0 11.8 0a5.9 5.9 0 1 0-11.8 0M293.9 653.3a5.9 5.9 0 1 0 11.8 0a5.9 5.9 0 1 0-11.8 0M295.9 653.9a5.9 5.9 0 1 0 11.8 0a5.9 5.9 0 1 0-11.8 0M294.4 654.3a5.9 5.9 0 1 0 11.8 0a5.9 5.9 0 1 0-11.8 0M295 654.4a5.9 5.9 0 1 0 11.8 0a5.9 5.9 0 1 0-11.8 0M297.2 653a5.9 5.9 0 1 0 11.8 0a5.9 5.9 0 1 0-11.8 0M294.8 653.3a5.9 5.9 0 1 0 11.8 0a5.9 5.9 0 1 0-11.8 0M297.4 653.6a5.9 5.9 0 1 0 11.8 0a5.9 5.9 0 1 0-11.8 0M295.7 654.7a5.9 5.9 0 1 0 11.8 0a5.9 5.9 0 1 0-11.8 0M294.9 653.4a5.9 5.9 0 1 0 11.8 0a5.9 5.9 0 1 0-11.8 0M295.5 653.2a5.9 5.9 0 1 0 11.8 0a5.9 5.9 0 1 0-11.8 0M293.9 652.8a5.9 5.9 0 1 0 11.8 0a5.9 5.9 0 1 0-11.8 0M297 654.1a5.9 5.9 0 1 0 11.8 0a5.9 5.9 0 1 0-11.8 0M297.9 655.1a5.9 5.9 0 1 0 11.8 0a5.9 5.9 0 1 0-11.8 0M295.2 654.3a5.9 5.9 0 1 0 11.8 0a5.9 5.9 0 1 0-11.8 0M298.5 653.3a5.9 5.9 0 1 0 11.8 0a5.9 5.9 0 1 0-11.8 0M297.3 654.4a5.9 5.9 0 1 0 11.8 0a5.9 5.9 0 1 0-11.8 0M298.7 654.9a5.9 5.9 0 1 0 11.8 0a5.9 5.9 0 1 0-11.8 0M294.9 654.3a5.9 5.9 0 1 0 11.8 0a5.9 5.9 0 1 0-11.8 0M294.2 653.8a5.9 5.9 0 1 0 11.8 0a5.9 5.9 0 1 0-11.8 0M295.7 653a5.9 5.9 0 1 0 11.8 0a5.9 5.9 0 1 0-11.8 0M295.7 653.6a5.9 5.9 0 1 0 11.8 0a5.9 5.9 0 1 0-11.8 0M296.3 653.5a5.9 5.9 0 1 0 11.8 0a5.9 5.9 0 1 0-11.8 0M294.5 653.8a5.9 5.9 0 1 0 11.8 0a5.9 5.9 0 1 0-11.8 0M296.2 653.3a5.9 5.9 0 1 0 11.8 0a5.9 5.9 0 1 0-11.8 0M297.1 653.5a5.9 5.9 0 1 0 11.8 0a5.9 5.9 0 1 0-11.8 0M294.2 653.7a5.9 5.9 0 1 0 11.8 0a5.9 5.9 0 1 0-11.8 0M295.9 653.3a5.9 5.9 0 1 0 11.8 0a5.9 5.9 0 1 0-11.8 0M296.7 654.6a5.9 5.9 0 1 0 11.8 0a5.9 5.9 0 1 0-11.8 0M296.5 654.6a5.9 5.9 0 1 0 11.8 0a5.9 5.9 0 1 0-11.8 0M293.8 653.9a5.9 5.9 0 1 0 11.8 0a5.9 5.9 0 1 0-11.8 0M295.6 653.1a5.9 5.9 0 1 0 11.8 0a5.9 5.9 0 1 0-11.8 0M295.8 653.1a5.9 5.9 0 1 0 11.8 0a5.9 5.9 0 1 0-11.8 0M296.2 654.4a5.9 5.9 0 1 0 11.8 0a5.9 5.9 0 1 0-11.8 0M296.1 653.8a5.9 5.9 0 1 0 11.8 0a5.9 5.9 0 1 0-11.8 0M295 653.1a5.9 5.9 0 1 0 11.8 0a5.9 5.9 0 1 0-11.8 0M295.5 655.2a5.9 5.9 0 1 0 11.8 0a5.9 5.9 0 1 0-11.8 0M296.6 653.7a5.9 5.9 0 1 0 11.8 0a5.9 5.9 0 1 0-11.8 0M297.1 653.5a5.9 5.9 0 1 0 11.8 0a5.9 5.9 0 1 0-11.8 0M296.1 654.5a5.9 5.9 0 1 0 11.8 0a5.9 5.9 0 1 0-11.8 0M298.6 653.9a5.9 5.9 0 1 0 11.8 0a5.9 5.9 0 1 0-11.8 0M296.7 655.3a5.9 5.9 0 1 0 11.8 0a5.9 5.9 0 1 0-11.8 0M297.7 654.6a5.9 5.9 0 1 0 11.8 0a5.9 5.9 0 1 0-11.8 0M296.9 654.1a5.9 5.9 0 1 0 11.8 0a5.9 5.9 0 1 0-11.8 0M295.8 653.8a5.9 5.9 0 1 0 11.8 0a5.9 5.9 0 1 0-11.8 0M298 655.2a5.9 5.9 0 1 0 11.8 0a5.9 5.9 0 1 0-11.8 0M295.6 655.3a5.9 5.9 0 1 0 11.8 0a5.9 5.9 0 1 0-11.8 0M293.9 653.5a5.9 5.9 0 1 0 11.8 0a5.9 5.9 0 1 0-11.8 0M296.3 653.9a5.9 5.9 0 1 0 11.8 0a5.9 5.9 0 1 0-11.8 0M295.5 655.5a5.9 5.9 0 1 0 11.8 0a5.9 5.9 0 1 0-11.8 0M294.4 653.7a5.9 5.9 0 1 0 11.8 0a5.9 5.9 0 1 0-11.8 0M294.8 654.8a5.9 5.9 0 1 0 11.8 0a5.9 5.9 0 1 0-11.8 0M294.9 653.2a5.9 5.9 0 1 0 11.8 0a5.9 5.9 0 1 0-11.8 0M296.5 654.2a5.9 5.9 0 1 0 11.8 0a5.9 5.9 0 1 0-11.8 0M294.9 654.4a5.9 5.9 0 1 0 11.8 0a5.9 5.9 0 1 0-11.8 0M297 654.6a5.9 5.9 0 1 0 11.8 0a5.9 5.9 0 1 0-11.8 0M296.9 654.6a5.9 5.9 0 1 0 11.8 0a5.9 5.9 0 1 0-11.8 0M297.9 655.6a5.9 5.9 0 1 0 11.8 0a5.9 5.9 0 1 0-11.8 0M295.4 654.1a5.9 5.9 0 1 0 11.8 0a5.9 5.9 0 1 0-11.8 0M298.2 654.1a5.9 5.9 0 1 0 11.8 0a5.9 5.9 0 1 0-11.8 0M297.3 655a5.9 5.9 0 1 0 11.8 0a5.9 5.9 0 1 0-11.8 0M297.2 655.6a5.9 5.9 0 1 0 11.8 0a5.9 5.9 0 1 0-11.8 0M297.9 653.7a5.9 5.9 0 1 0 11.8 0a5.9 5.9 0 1 0-11.8 0M296.9 654.5a5.9 5.9 0 1 0 11.8 0a5.9 5.9 0 1 0-11.8 0M296.6 654.3a5.9 5.9 0 1 0 11.8 0a5.9 5.9 0 1 0-11.8 0M295.1 655.2a5.9 5.9 0 1 0 11.8 0a5.9 5.9 0 1 0-11.8 0M296.4 654a5.9 5.9 0 1 0 11.8 0a5.9 5.9 0 1 0-11.8 0M294.9 654.2a5.9 5.9 0 1 0 11.8 0a5.9 5.9 0 1 0-11.8 0M294.6 654.7a5.9 5.9 0 1 0 11.8 0a5.9 5.9 0 1 0-11.8 0M294.3 653.6a5.9 5.9 0 1 0 11.8 0a5.9 5.9 0 1 0-11.8 0M294 653.7a5.9 5.9 0 1 0 11.8 0a5.9 5.9 0 1 0-11.8 0M297.3 653.7a5.9 5.9 0 1 0 11.8 0a5.9 5.9 0 1 0-11.8 0M296 655.3a5.9 5.9 0 1 0 11.8 0a5.9 5.9 0 1 0-11.8 0M296.1 653.9a5.9 5.9 0 1 0 11.8 0a5.9 5.9 0 1 0-11.8 0M298.1 655.6a5.9 5.9 0 1 0 11.8 0a5.9 5.9 0 1 0-11.8 0M293.9 654.1a5.9 5.9 0 1 0 11.8 0a5.9 5.9 0 1 0-11.8 0M296.3 655.4a5.9 5.9 0 1 0 11.8 0a5.9 5.9 0 1 0-11.8 0M295.7 655.3a5.9 5.9 0 1 0 11.8 0a5.9 5.9 0 1 0-11.8 0M294.9 655.3a5.9 5.9 0 1 0 11.8 0a5.9 5.9 0 1 0-11.8 0M295.3 654.4a5.9 5.9 0 1 0 11.8 0a5.9 5.9 0 1 0-11.8 0M297.5 655.6a5.9 5.9 0 1 0 11.8 0a5.9 5.9 0 1 0-11.8 0M297.9 654.9a5.9 5.9 0 1 0 11.8 0a5.9 5.9 0 1 0-11.8 0M295.8 655.3a5.9 5.9 0 1 0 11.8 0a5.9 5.9 0 1 0-11.8 0M296.8 655.6a5.9 5.9 0 1 0 11.8 0a5.9 5.9 0 1 0-11.8 0M297.7 653.9a5.9 5.9 0 1 0 11.8 0a5.9 5.9 0 1 0-11.8 0M295.6 655.2a5.9 5.9 0 1 0 11.8 0a5.9 5.9 0 1 0-11.8 0M294.8 654.1a5.9 5.9 0 1 0 11.8 0a5.9 5.9 0 1 0-11.8 0M293.7 655.1a5.9 5.9 0 1 0 11.8 0a5.9 5.9 0 1 0-11.8 0M298.4 656a5.9 5.9 0 1 0 11.8 0a5.9 5.9 0 1 0-11.8 0M294.3 655.3a5.9 5.9 0 1 0 11.8 0a5.9 5.9 0 1 0-11.8 0M295.8 655.2a5.9 5.9 0 1 0 11.8 0a5.9 5.9 0 1 0-11.8 0M295.7 656a5.9 5.9 0 1 0 11.8 0a5.9 5.9 0 1 0-11.8 0M298.7 653.9a5.9 5.9 0 1 0 11.8 0a5.9 5.9 0 1 0-11.8 0M297.3 654a5.9 5.9 0 1 0 11.8 0a5.9 5.9 0 1 0-11.8 0M293.9 654.5a5.9 5.9 0 1 0 11.8 0a5.9 5.9 0 1 0-11.8 0M297.4 656.2a5.9 5.9 0 1 0 11.8 0a5.9 5.9 0 1 0-11.8 0M294.3 654.6a5.9 5.9 0 1 0 11.8 0a5.9 5.9 0 1 0-11.8 0M293.8 655.1a5.9 5.9 0 1 0 11.8 0a5.9 5.9 0 1 0-11.8 0M296.1 654.7a5.9 5.9 0 1 0 11.8 0a5.9 5.9 0 1 0-11.8 0M295.2 655.8a5.9 5.9 0 1 0 11.8 0a5.9 5.9 0 1 0-11.8 0M297.9 654.6a5.9 5.9 0 1 0 11.8 0a5.9 5.9 0 1 0-11.8 0M295.6 655.4a5.9 5.9 0 1 0 11.8 0a5.9 5.9 0 1 0-11.8 0M297.5 656.3a5.9 5.9 0 1 0 11.8 0a5.9 5.9 0 1 0-11.8 0M295.6 655.6a5.9 5.9 0 1 0 11.8 0a5.9 5.9 0 1 0-11.8 0M296.4 655.9a5.9 5.9 0 1 0 11.8 0a5.9 5.9 0 1 0-11.8 0M294.4 654.4a5.9 5.9 0 1 0 11.8 0a5.9 5.9 0 1 0-11.8 0M294.2 656.2a5.9 5.9 0 1 0 11.8 0a5.9 5.9 0 1 0-11.8 0M294.9 655.2a5.9 5.9 0 1 0 11.8 0a5.9 5.9 0 1 0-11.8 0M294.2 654.8a5.9 5.9 0 1 0 11.8 0a5.9 5.9 0 1 0-11.8 0M293.7 655.4a5.9 5.9 0 1 0 11.8 0a5.9 5.9 0 1 0-11.8 0M294.4 655.5a5.9 5.9 0 1 0 11.8 0a5.9 5.9 0 1 0-11.8 0M295 654.6a5.9 5.9 0 1 0 11.8 0a5.9 5.9 0 1 0-11.8 0M296.1 655a5.9 5.9 0 1 0 11.8 0a5.9 5.9 0 1 0-11.8 0M294.9 654.2a5.9 5.9 0 1 0 11.8 0a5.9 5.9 0 1 0-11.8 0M294 656.3a5.9 5.9 0 1 0 11.8 0a5.9 5.9 0 1 0-11.8 0M295.2 654.3a5.9 5.9 0 1 0 11.8 0a5.9 5.9 0 1 0-11.8 0M294.6 655.3a5.9 5.9 0 1 0 11.8 0a5.9 5.9 0 1 0-11.8 0M298.7 654.6a5.9 5.9 0 1 0 11.8 0a5.9 5.9 0 1 0-11.8 0M298 655.3a5.9 5.9 0 1 0 11.8 0a5.9 5.9 0 1 0-11.8 0M295.7 656.1a5.9 5.9 0 1 0 11.8 0a5.9 5.9 0 1 0-11.8 0M295.6 654.3a5.9 5.9 0 1 0 11.8 0a5.9 5.9 0 1 0-11.8 0M296.4 655.8a5.9 5.9 0 1 0 11.8 0a5.9 5.9 0 1 0-11.8 0M296.8 654.9a5.9 5.9 0 1 0 11.8 0a5.9 5.9 0 1 0-11.8 0M298.4 656.3a5.9 5.9 0 1 0 11.8 0a5.9 5.9 0 1 0-11.8 0M298.6 655.3a5.9 5.9 0 1 0 11.8 0a5.9 5.9 0 1 0-11.8 0M297.8 656a5.9 5.9 0 1 0 11.8 0a5.9 5.9 0 1 0-11.8 0M294.5 654.4a5.9 5.9 0 1 0 11.8 0a5.9 5.9 0 1 0-11.8 0M294.5 654.6a5.9 5.9 0 1 0 11.8 0a5.9 5.9 0 1 0-11.8 0M294 655.2a5.9 5.9 0 1 0 11.8 0a5.9 5.9 0 1 0-11.8 0M297.4 655.1a5.9 5.9 0 1 0 11.8 0a5.9 5.9 0 1 0-11.8 0M296.2 654.4a5.9 5.9 0 1 0 11.8 0a5.9 5.9 0 1 0-11.8 0M294.7 656.7a5.9 5.9 0 1 0 11.8 0a5.9 5.9 0 1 0-11.8 0M293.7 655.7a5.9 5.9 0 1 0 11.8 0a5.9 5.9 0 1 0-11.8 0M297.7 656.3a5.9 5.9 0 1 0 11.8 0a5.9 5.9 0 1 0-11.8 0M297.3 655.4a5.9 5.9 0 1 0 11.8 0a5.9 5.9 0 1 0-11.8 0M297.7 656.4a5.9 5.9 0 1 0 11.8 0a5.9 5.9 0 1 0-11.8 0M297.5 656.8a5.9 5.9 0 1 0 11.8 0a5.9 5.9 0 1 0-11.8 0M294.1 656.8a5.9 5.9 0 1 0 11.8 0a5.9 5.9 0 1 0-11.8 0M295.6 656.2a5.9 5.9 0 1 0 11.8 0a5.9 5.9 0 1 0-11.8 0M294.9 656.7a5.9 5.9 0 1 0 11.8 0a5.9 5.9 0 1 0-11.8 0M293.7 655.9a5.9 5.9 0 1 0 11.8 0a5.9 5.9 0 1 0-11.8 0M294.8 655.5a5.9 5.9 0 1 0 11.8 0a5.9 5.9 0 1 0-11.8 0M295.5 656.2a5.9 5.9 0 1 0 11.8 0a5.9 5.9 0 1 0-11.8 0M297.7 655.5a5.9 5.9 0 1 0 11.8 0a5.9 5.9 0 1 0-11.8 0M296.8 655.5a5.9 5.9 0 1 0 11.8 0a5.9 5.9 0 1 0-11.8 0M295 656.8a5.9 5.9 0 1 0 11.8 0a5.9 5.9 0 1 0-11.8 0M295.2 654.9a5.9 5.9 0 1 0 11.8 0a5.9 5.9 0 1 0-11.8 0M295.3 656.4a5.9 5.9 0 1 0 11.8 0a5.9 5.9 0 1 0-11.8 0M294.7 656.5a5.9 5.9 0 1 0 11.8 0a5.9 5.9 0 1 0-11.8 0M296.4 656.3a5.9 5.9 0 1 0 11.8 0a5.9 5.9 0 1 0-11.8 0M294.5 655a5.9 5.9 0 1 0 11.8 0a5.9 5.9 0 1 0-11.8 0M294.3 655.6a5.9 5.9 0 1 0 11.8 0a5.9 5.9 0 1 0-11.8 0M295.8 654.8a5.9 5.9 0 1 0 11.8 0a5.9 5.9 0 1 0-11.8 0M296.1 655.7a5.9 5.9 0 1 0 11.8 0a5.9 5.9 0 1 0-11.8 0M295.2 656.1a5.9 5.9 0 1 0 11.8 0a5.9 5.9 0 1 0-11.8 0M298.4 655.3a5.9 5.9 0 1 0 11.8 0a5.9 5.9 0 1 0-11.8 0M298 655.6a5.9 5.9 0 1 0 11.8 0a5.9 5.9 0 1 0-11.8 0M297.4 655.1a5.9 5.9 0 1 0 11.8 0a5.9 5.9 0 1 0-11.8 0M298.5 655.9a5.9 5.9 0 1 0 11.8 0a5.9 5.9 0 1 0-11.8 0M298.4 655.4a5.9 5.9 0 1 0 11.8 0a5.9 5.9 0 1 0-11.8 0M295.6 656.6a5.9 5.9 0 1 0 11.8 0a5.9 5.9 0 1 0-11.8 0M294.5 655.6a5.9 5.9 0 1 0 11.8 0a5.9 5.9 0 1 0-11.8 0M297 657.2a5.9 5.9 0 1 0 11.8 0a5.9 5.9 0 1 0-11.8 0M295.2 655.4a5.9 5.9 0 1 0 11.8 0a5.9 5.9 0 1 0-11.8 0M295.4 657.3a5.9 5.9 0 1 0 11.8 0a5.9 5.9 0 1 0-11.8 0M294.3 656.5a5.9 5.9 0 1 0 11.8 0a5.9 5.9 0 1 0-11.8 0M295.3 656.5a5.9 5.9 0 1 0 11.8 0a5.9 5.9 0 1 0-11.8 0M294.4 656.5a5.9 5.9 0 1 0 11.8 0a5.9 5.9 0 1 0-11.8 0M297.7 657.1a5.9 5.9 0 1 0 11.8 0a5.9 5.9 0 1 0-11.8 0M296.3 656.2a5.9 5.9 0 1 0 11.8 0a5.9 5.9 0 1 0-11.8 0M296 655.3a5.9 5.9 0 1 0 11.8 0a5.9 5.9 0 1 0-11.8 0M297.2 656.7a5.9 5.9 0 1 0 11.8 0a5.9 5.9 0 1 0-11.8 0M295.3 656.7a5.9 5.9 0 1 0 11.8 0a5.9 5.9 0 1 0-11.8 0M295 656a5.9 5.9 0 1 0 11.8 0a5.9 5.9 0 1 0-11.8 0M294.1 656.6a5.9 5.9 0 1 0 11.8 0a5.9 5.9 0 1 0-11.8 0M295.6 656.4a5.9 5.9 0 1 0 11.8 0a5.9 5.9 0 1 0-11.8 0M293 656.7a5.9 5.9 0 1 0 11.8 0a5.9 5.9 0 1 0-11.8 0M294.9 656.6a5.9 5.9 0 1 0 11.8 0a5.9 5.9 0 1 0-11.8 0M295.5 657.4a5.9 5.9 0 1 0 11.8 0a5.9 5.9 0 1 0-11.8 0M293.4 656.3a5.9 5.9 0 1 0 11.8 0a5.9 5.9 0 1 0-11.8 0M297.2 657a5.9 5.9 0 1 0 11.8 0a5.9 5.9 0 1 0-11.8 0M294 657.1a5.9 5.9 0 1 0 11.8 0a5.9 5.9 0 1 0-11.8 0M297 656.4a5.9 5.9 0 1 0 11.8 0a5.9 5.9 0 1 0-11.8 0M296.4 655.8a5.9 5.9 0 1 0 11.8 0a5.9 5.9 0 1 0-11.8 0M296.8 656.8a5.9 5.9 0 1 0 11.8 0a5.9 5.9 0 1 0-11.8 0M293.3 657.7a5.9 5.9 0 1 0 11.8 0a5.9 5.9 0 1 0-11.8 0M295.1 658a5.9 5.9 0 1 0 11.8 0a5.9 5.9 0 1 0-11.8 0M295.9 657.8a5.9 5.9 0 1 0 11.8 0a5.9 5.9 0 1 0-11.8 0M294.4 658.3a5.9 5.9 0 1 0 11.8 0a5.9 5.9 0 1 0-11.8 0M292.3 658.1a5.9 5.9 0 1 0 11.8 0a5.9 5.9 0 1 0-11.8 0M295.1 656.7a5.9 5.9 0 1 0 11.8 0a5.9 5.9 0 1 0-11.8 0M295.5 657.3a5.9 5.9 0 1 0 11.8 0a5.9 5.9 0 1 0-11.8 0M292.3 658.4a5.9 5.9 0 1 0 11.8 0a5.9 5.9 0 1 0-11.8 0M288.9 657a5.9 5.9 0 1 0 11.8 0a5.9 5.9 0 1 0-11.8 0M288.9 656.6a5.9 5.9 0 1 0 11.8 0a5.9 5.9 0 1 0-11.8 0M286.6 658.4a5.9 5.9 0 1 0 11.8 0a5.9 5.9 0 1 0-11.8 0M284.4 657.2a5.9 5.9 0 1 0 11.8 0a5.9 5.9 0 1 0-11.8 0M283.8 658.8a5.9 5.9 0 1 0 11.8 0a5.9 5.9 0 1 0-11.8 0M281.7 658.3a5.9 5.9 0 1 0 11.8 0a5.9 5.9 0 1 0-11.8 0M280.4 659.3a5.9 5.9 0 1 0 11.8 0a5.9 5.9 0 1 0-11.8 0M275.1 658.6a5.9 5.9 0 1 0 11.8 0a5.9 5.9 0 1 0-11.8 0M272.9 658.2a5.9 5.9 0 1 0 11.8 0a5.9 5.9 0 1 0-11.8 0M272.1 660.6a5.9 5.9 0 1 0 11.8 0a5.9 5.9 0 1 0-11.8 0M272.3 659.1a5.9 5.9 0 1 0 11.8 0a5.9 5.9 0 1 0-11.8 0M267.5 660.2a5.9 5.9 0 1 0 11.8 0a5.9 5.9 0 1 0-11.8 0M268.5 661.1a5.9 5.9 0 1 0 11.8 0a5.9 5.9 0 1 0-11.8 0M266.7 660.4a5.9 5.9 0 1 0 11.8 0a5.9 5.9 0 1 0-11.8 0M265.2 661.7a5.9 5.9 0 1 0 11.8 0a5.9 5.9 0 1 0-11.8 0M261.7 664.2a5.9 5.9 0 1 0 11.8 0a5.9 5.9 0 1 0-11.8 0M260.2 663.5a5.9 5.9 0 1 0 11.8 0a5.9 5.9 0 1 0-11.8 0M262.2 665.7a5.9 5.9 0 1 0 11.8 0a5.9 5.9 0 1 0-11.8 0M267.9 666.5a5.9 5.9 0 1 0 11.8 0a5.9 5.9 0 1 0-11.8 0M274.8 670.4a5.9 5.9 0 1 0 11.8 0a5.9 5.9 0 1 0-11.8 0M279.3 669.9a5.9 5.9 0 1 0 11.8 0a5.9 5.9 0 1 0-11.8 0M279.3 672.6a5.9 5.9 0 1 0 11.8 0a5.9 5.9 0 1 0-11.8 0M281.9 671.6a5.9 5.9 0 1 0 11.8 0a5.9 5.9 0 1 0-11.8 0M280.4 673.6a5.9 5.9 0 1 0 11.8 0a5.9 5.9 0 1 0-11.8 0M283 673.5a5.9 5.9 0 1 0 11.8 0a5.9 5.9 0 1 0-11.8 0M281.9 672.9a5.9 5.9 0 1 0 11.8 0a5.9 5.9 0 1 0-11.8 0M282.5 673a5.9 5.9 0 1 0 11.8 0a5.9 5.9 0 1 0-11.8 0M283.8 674.1a5.9 5.9 0 1 0 11.8 0a5.9 5.9 0 1 0-11.8 0M285 674.5a5.9 5.9 0 1 0 11.8 0a5.9 5.9 0 1 0-11.8 0M283.8 675.2a5.9 5.9 0 1 0 11.8 0a5.9 5.9 0 1 0-11.8 0M286.3 675.3a5.9 5.9 0 1 0 11.8 0a5.9 5.9 0 1 0-11.8 0M285.7 675.5a5.9 5.9 0 1 0 11.8 0a5.9 5.9 0 1 0-11.8 0M285.5 676.1a5.9 5.9 0 1 0 11.8 0a5.9 5.9 0 1 0-11.8 0M287.1 676.6a5.9 5.9 0 1 0 11.8 0a5.9 5.9 0 1 0-11.8 0M287.4 678a5.9 5.9 0 1 0 11.8 0a5.9 5.9 0 1 0-11.8 0M286.1 679a5.9 5.9 0 1 0 11.8 0a5.9 5.9 0 1 0-11.8 0M286.1 679a5.9 5.9 0 1 0 11.8 0a5.9 5.9 0 1 0-11.8 0M287.5 678.6a5.9 5.9 0 1 0 11.8 0a5.9 5.9 0 1 0-11.8 0M285.5 678.8a5.9 5.9 0 1 0 11.8 0a5.9 5.9 0 1 0-11.8 0M286.8 679.1a5.9 5.9 0 1 0 11.8 0a5.9 5.9 0 1 0-11.8 0M290.1 679a5.9 5.9 0 1 0 11.8 0a5.9 5.9 0 1 0-11.8 0M289.4 680.1a5.9 5.9 0 1 0 11.8 0a5.9 5.9 0 1 0-11.8 0M287.8 679.8a5.9 5.9 0 1 0 11.8 0a5.9 5.9 0 1 0-11.8 0M287.6 681.2a5.9 5.9 0 1 0 11.8 0a5.9 5.9 0 1 0-11.8 0M288.5 680.3a5.9 5.9 0 1 0 11.8 0a5.9 5.9 0 1 0-11.8 0M289.3 681.5a5.9 5.9 0 1 0 11.8 0a5.9 5.9 0 1 0-11.8 0M291.9 681.2a5.9 5.9 0 1 0 11.8 0a5.9 5.9 0 1 0-11.8 0M291 680.3a5.9 5.9 0 1 0 11.8 0a5.9 5.9 0 1 0-11.8 0M292.9 680.5a5.9 5.9 0 1 0 11.8 0a5.9 5.9 0 1 0-11.8 0M290.9 681.5a5.9 5.9 0 1 0 11.8 0a5.9 5.9 0 1 0-11.8 0M292.9 682.4a5.9 5.9 0 1 0 11.8 0a5.9 5.9 0 1 0-11.8 0M291.6 683.2a5.9 5.9 0 1 0 11.8 0a5.9 5.9 0 1 0-11.8 0M293.7 681.4a5.9 5.9 0 1 0 11.8 0a5.9 5.9 0 1 0-11.8 0M291.1 682.7a5.9 5.9 0 1 0 11.8 0a5.9 5.9 0 1 0-11.8 0M288.8 683a5.9 5.9 0 1 0 11.8 0a5.9 5.9 0 1 0-11.8 0M287.4 683.7a5.9 5.9 0 1 0 11.8 0a5.9 5.9 0 1 0-11.8 0M287.6 684.7a5.9 5.9 0 1 0 11.8 0a5.9 5.9 0 1 0-11.8 0M288.2 684.8a5.9 5.9 0 1 0 11.8 0a5.9 5.9 0 1 0-11.8 0M284.3 684.6a5.9 5.9 0 1 0 11.8 0a5.9 5.9 0 1 0-11.8 0M284.8 684.4a5.9 5.9 0 1 0 11.8 0a5.9 5.9 0 1 0-11.8 0M286.6 683a5.9 5.9 0 1 0 11.8 0a5.9 5.9 0 1 0-11.8 0M284 683.9a5.9 5.9 0 1 0 11.8 0a5.9 5.9 0 1 0-11.8 0M284.9 683.6a5.9 5.9 0 1 0 11.8 0a5.9 5.9 0 1 0-11.8 0M286.6 683.7a5.9 5.9 0 1 0 11.8 0a5.9 5.9 0 1 0-11.8 0M283.6 683.6a5.9 5.9 0 1 0 11.8 0a5.9 5.9 0 1 0-11.8 0M283.7 685.2a5.9 5.9 0 1 0 11.8 0a5.9 5.9 0 1 0-11.8 0M282.2 683.9a5.9 5.9 0 1 0 11.8 0a5.9 5.9 0 1 0-11.8 0M285 685.2a5.9 5.9 0 1 0 11.8 0a5.9 5.9 0 1 0-11.8 0M285.5 684.4a5.9 5.9 0 1 0 11.8 0a5.9 5.9 0 1 0-11.8 0M285.8 685.7a5.9 5.9 0 1 0 11.8 0a5.9 5.9 0 1 0-11.8 0M285.7 684.3a5.9 5.9 0 1 0 11.8 0a5.9 5.9 0 1 0-11.8 0M284.2 684.2a5.9 5.9 0 1 0 11.8 0a5.9 5.9 0 1 0-11.8 0M286.1 686.5a5.9 5.9 0 1 0 11.8 0a5.9 5.9 0 1 0-11.8 0M286.3 684.4a5.9 5.9 0 1 0 11.8 0a5.9 5.9 0 1 0-11.8 0M283.6 685.8a5.9 5.9 0 1 0 11.8 0a5.9 5.9 0 1 0-11.8 0M284.6 684.9a5.9 5.9 0 1 0 11.8 0a5.9 5.9 0 1 0-11.8 0M285.9 685.5a5.9 5.9 0 1 0 11.8 0a5.9 5.9 0 1 0-11.8 0M284.5 685.2a5.9 5.9 0 1 0 11.8 0a5.9 5.9 0 1 0-11.8 0M284.8 685.3a5.9 5.9 0 1 0 11.8 0a5.9 5.9 0 1 0-11.8 0M282.4 686.3a5.9 5.9 0 1 0 11.8 0a5.9 5.9 0 1 0-11.8 0M283.4 687.1a5.9 5.9 0 1 0 11.8 0a5.9 5.9 0 1 0-11.8 0M283.2 686.3a5.9 5.9 0 1 0 11.8 0a5.9 5.9 0 1 0-11.8 0M282.3 686a5.9 5.9 0 1 0 11.8 0a5.9 5.9 0 1 0-11.8 0M284.3 686.8a5.9 5.9 0 1 0 11.8 0a5.9 5.9 0 1 0-11.8 0M284.3 687.6a5.9 5.9 0 1 0 11.8 0a5.9 5.9 0 1 0-11.8 0M282.6 687.7a5.9 5.9 0 1 0 11.8 0a5.9 5.9 0 1 0-11.8 0M282.8 688a5.9 5.9 0 1 0 11.8 0a5.9 5.9 0 1 0-11.8 0M284.7 686.7a5.9 5.9 0 1 0 11.8 0a5.9 5.9 0 1 0-11.8 0M285.2 687.9a5.9 5.9 0 1 0 11.8 0a5.9 5.9 0 1 0-11.8 0M287 686.9a5.9 5.9 0 1 0 11.8 0a5.9 5.9 0 1 0-11.8 0M282.2 686.3a5.9 5.9 0 1 0 11.8 0a5.9 5.9 0 1 0-11.8 0M286.3 687.8a5.9 5.9 0 1 0 11.8 0a5.9 5.9 0 1 0-11.8 0M285.8 686.5a5.9 5.9 0 1 0 11.8 0a5.9 5.9 0 1 0-11.8 0M284.9 686.2a5.9 5.9 0 1 0 11.8 0a5.9 5.9 0 1 0-11.8 0M282.7 687a5.9 5.9 0 1 0 11.8 0a5.9 5.9 0 1 0-11.8 0M287.1 687.9a5.9 5.9 0 1 0 11.8 0a5.9 5.9 0 1 0-11.8 0M286.5 686.5a5.9 5.9 0 1 0 11.8 0a5.9 5.9 0 1 0-11.8 0M284.3 686.6a5.9 5.9 0 1 0 11.8 0a5.9 5.9 0 1 0-11.8 0M283.6 686.8a5.9 5.9 0 1 0 11.8 0a5.9 5.9 0 1 0-11.8 0M287 687.4a5.9 5.9 0 1 0 11.8 0a5.9 5.9 0 1 0-11.8 0M284.8 688.2a5.9 5.9 0 1 0 11.8 0a5.9 5.9 0 1 0-11.8 0M286.8 689a5.9 5.9 0 1 0 11.8 0a5.9 5.9 0 1 0-11.8 0M285.2 688a5.9 5.9 0 1 0 11.8 0a5.9 5.9 0 1 0-11.8 0M287 687.8a5.9 5.9 0 1 0 11.8 0a5.9 5.9 0 1 0-11.8 0M283.9 688.7a5.9 5.9 0 1 0 11.8 0a5.9 5.9 0 1 0-11.8 0M283.5 687.9a5.9 5.9 0 1 0 11.8 0a5.9 5.9 0 1 0-11.8 0M284.3 688.2a5.9 5.9 0 1 0 11.8 0a5.9 5.9 0 1 0-11.8 0M283.9 688.2a5.9 5.9 0 1 0 11.8 0a5.9 5.9 0 1 0-11.8 0M284.2 687.3a5.9 5.9 0 1 0 11.8 0a5.9 5.9 0 1 0-11.8 0M286.1 687.4a5.9 5.9 0 1 0 11.8 0a5.9 5.9 0 1 0-11.8 0M284.4 688.6a5.9 5.9 0 1 0 11.8 0a5.9 5.9 0 1 0-11.8 0M283.6 687.9a5.9 5.9 0 1 0 11.8 0a5.9 5.9 0 1 0-11.8 0M282 688.3a5.9 5.9 0 1 0 11.8 0a5.9 5.9 0 1 0-11.8 0M283 688.7a5.9 5.9 0 1 0 11.8 0a5.9 5.9 0 1 0-11.8 0M282.4 689.4a5.9 5.9 0 1 0 11.8 0a5.9 5.9 0 1 0-11.8 0M283.7 687.7a5.9 5.9 0 1 0 11.8 0a5.9 5.9 0 1 0-11.8 0M283.1 690a5.9 5.9 0 1 0 11.8 0a5.9 5.9 0 1 0-11.8 0M281 689.2a5.9 5.9 0 1 0 11.8 0a5.9 5.9 0 1 0-11.8 0M285.8 688.7a5.9 5.9 0 1 0 11.8 0a5.9 5.9 0 1 0-11.8 0M283.8 688.8a5.9 5.9 0 1 0 11.8 0a5.9 5.9 0 1 0-11.8 0M282.2 689.5a5.9 5.9 0 1 0 11.8 0a5.9 5.9 0 1 0-11.8 0M283.5 688.8a5.9 5.9 0 1 0 11.8 0a5.9 5.9 0 1 0-11.8 0M283 689.4a5.9 5.9 0 1 0 11.8 0a5.9 5.9 0 1 0-11.8 0M284.2 688.3a5.9 5.9 0 1 0 11.8 0a5.9 5.9 0 1 0-11.8 0M280.6 688.9a5.9 5.9 0 1 0 11.8 0a5.9 5.9 0 1 0-11.8 0M281.5 690.2a5.9 5.9 0 1 0 11.8 0a5.9 5.9 0 1 0-11.8 0M282.2 690.5a5.9 5.9 0 1 0 11.8 0a5.9 5.9 0 1 0-11.8 0M281.9 689.2a5.9 5.9 0 1 0 11.8 0a5.9 5.9 0 1 0-11.8 0M283.3 688.9a5.9 5.9 0 1 0 11.8 0a5.9 5.9 0 1 0-11.8 0M284.7 690.8a5.9 5.9 0 1 0 11.8 0a5.9 5.9 0 1 0-11.8 0M281.2 689.7a5.9 5.9 0 1 0 11.8 0a5.9 5.9 0 1 0-11.8 0M283.7 691a5.9 5.9 0 1 0 11.8 0a5.9 5.9 0 1 0-11.8 0M282.6 689.4a5.9 5.9 0 1 0 11.8 0a5.9 5.9 0 1 0-11.8 0M283.2 689.6a5.9 5.9 0 1 0 11.8 0a5.9 5.9 0 1 0-11.8 0M282.3 690.9a5.9 5.9 0 1 0 11.8 0a5.9 5.9 0 1 0-11.8 0M283.8 691.3a5.9 5.9 0 1 0 11.8 0a5.9 5.9 0 1 0-11.8 0M279 692.2a5.9 5.9 0 1 0 11.8 0a5.9 5.9 0 1 0-11.8 0M282.7 691.5a5.9 5.9 0 1 0 11.8 0a5.9 5.9 0 1 0-11.8 0M278.7 692a5.9 5.9 0 1 0 11.8 0a5.9 5.9 0 1 0-11.8 0M280.7 692.1a5.9 5.9 0 1 0 11.8 0a5.9 5.9 0 1 0-11.8 0M283.6 692.8a5.9 5.9 0 1 0 11.8 0a5.9 5.9 0 1 0-11.8 0M278.7 692.6a5.9 5.9 0 1 0 11.8 0a5.9 5.9 0 1 0-11.8 0M280.5 692.7a5.9 5.9 0 1 0 11.8 0a5.9 5.9 0 1 0-11.8 0M280 692.1a5.9 5.9 0 1 0 11.8 0a5.9 5.9 0 1 0-11.8 0M280.1 691.5a5.9 5.9 0 1 0 11.8 0a5.9 5.9 0 1 0-11.8 0M279.2 693.2a5.9 5.9 0 1 0 11.8 0a5.9 5.9 0 1 0-11.8 0M277.7 691.8a5.9 5.9 0 1 0 11.8 0a5.9 5.9 0 1 0-11.8 0M281.5 693.3a5.9 5.9 0 1 0 11.8 0a5.9 5.9 0 1 0-11.8 0M279.8 692.1a5.9 5.9 0 1 0 11.8 0a5.9 5.9 0 1 0-11.8 0M277.3 692.8a5.9 5.9 0 1 0 11.8 0a5.9 5.9 0 1 0-11.8 0M281.4 693.5a5.9 5.9 0 1 0 11.8 0a5.9 5.9 0 1 0-11.8 0M281 692.9a5.9 5.9 0 1 0 11.8 0a5.9 5.9 0 1 0-11.8 0M278.2 693.8a5.9 5.9 0 1 0 11.8 0a5.9 5.9 0 1 0-11.8 0M280.2 693.1a5.9 5.9 0 1 0 11.8 0a5.9 5.9 0 1 0-11.8 0M280.1 694.2a5.9 5.9 0 1 0 11.8 0a5.9 5.9 0 1 0-11.8 0M275.5 694.3a5.9 5.9 0 1 0 11.8 0a5.9 5.9 0 1 0-11.8 0M277.1 695.2a5.9 5.9 0 1 0 11.8 0a5.9 5.9 0 1 0-11.8 0M279.7 695a5.9 5.9 0 1 0 11.8 0a5.9 5.9 0 1 0-11.8 0M278.3 695a5.9 5.9 0 1 0 11.8 0a5.9 5.9 0 1 0-11.8 0M278.5 694.6a5.9 5.9 0 1 0 11.8 0a5.9 5.9 0 1 0-11.8 0M278.1 695a5.9 5.9 0 1 0 11.8 0a5.9 5.9 0 1 0-11.8 0M277 695.4a5.9 5.9 0 1 0 11.8 0a5.9 5.9 0 1 0-11.8 0M275.5 695.5a5.9 5.9 0 1 0 11.8 0a5.9 5.9 0 1 0-11.8 0M275.3 696.8a5.9 5.9 0 1 0 11.8 0a5.9 5.9 0 1 0-11.8 0M276 696.6a5.9 5.9 0 1 0 11.8 0a5.9 5.9 0 1 0-11.8 0M276.1 697.9a5.9 5.9 0 1 0 11.8 0a5.9 5.9 0 1 0-11.8 0M274.7 697.6a5.9 5.9 0 1 0 11.8 0a5.9 5.9 0 1 0-11.8 0M275.1 698.8a5.9 5.9 0 1 0 11.8 0a5.9 5.9 0 1 0-11.8 0M274.1 698.4a5.9 5.9 0 1 0 11.8 0a5.9 5.9 0 1 0-11.8 0M273.4 697.6a5.9 5.9 0 1 0 11.8 0a5.9 5.9 0 1 0-11.8 0M275.8 698.6a5.9 5.9 0 1 0 11.8 0a5.9 5.9 0 1 0-11.8 0M273 697.7a5.9 5.9 0 1 0 11.8 0a5.9 5.9 0 1 0-11.8 0M275.8 698.7a5.9 5.9 0 1 0 11.8 0a5.9 5.9 0 1 0-11.8 0M275 699.1a5.9 5.9 0 1 0 11.8 0a5.9 5.9 0 1 0-11.8 0M274.3 699.6a5.9 5.9 0 1 0 11.8 0a5.9 5.9 0 1 0-11.8 0M276 700.7a5.9 5.9 0 1 0 11.8 0a5.9 5.9 0 1 0-11.8 0M273 700a5.9 5.9 0 1 0 11.8 0a5.9 5.9 0 1 0-11.8 0M271.5 700.9a5.9 5.9 0 1 0 11.8 0a5.9 5.9 0 1 0-11.8 0M270.6 700.1a5.9 5.9 0 1 0 11.8 0a5.9 5.9 0 1 0-11.8 0M274.4 699.7a5.9 5.9 0 1 0 11.8 0a5.9 5.9 0 1 0-11.8 0M273.4 701.2a5.9 5.9 0 1 0 11.8 0a5.9 5.9 0 1 0-11.8 0M272.4 700.9a5.9 5.9 0 1 0 11.8 0a5.9 5.9 0 1 0-11.8 0M270 702.7a5.9 5.9 0 1 0 11.8 0a5.9 5.9 0 1 0-11.8 0M273.1 702.6a5.9 5.9 0 1 0 11.8 0a5.9 5.9 0 1 0-11.8 0M269.2 702.8a5.9 5.9 0 1 0 11.8 0a5.9 5.9 0 1 0-11.8 0M269.7 701.7a5.9 5.9 0 1 0 11.8 0a5.9 5.9 0 1 0-11.8 0M271.2 703a5.9 5.9 0 1 0 11.8 0a5.9 5.9 0 1 0-11.8 0M268.7 703.7a5.9 5.9 0 1 0 11.8 0a5.9 5.9 0 1 0-11.8 0M271 704.3a5.9 5.9 0 1 0 11.8 0a5.9 5.9 0 1 0-11.8 0M272.6 704.1a5.9 5.9 0 1 0 11.8 0a5.9 5.9 0 1 0-11.8 0M269.4 705a5.9 5.9 0 1 0 11.8 0a5.9 5.9 0 1 0-11.8 0M271.1 703.7a5.9 5.9 0 1 0 11.8 0a5.9 5.9 0 1 0-11.8 0M271.6 705.1a5.9 5.9 0 1 0 11.8 0a5.9 5.9 0 1 0-11.8 0M268.2 704.2a5.9 5.9 0 1 0 11.8 0a5.9 5.9 0 1 0-11.8 0M266.6 705.2a5.9 5.9 0 1 0 11.8 0a5.9 5.9 0 1 0-11.8 0M267.7 704.9a5.9 5.9 0 1 0 11.8 0a5.9 5.9 0 1 0-11.8 0M267.4 704.8a5.9 5.9 0 1 0 11.8 0a5.9 5.9 0 1 0-11.8 0M268.5 705.5a5.9 5.9 0 1 0 11.8 0a5.9 5.9 0 1 0-11.8 0M267.2 705.8a5.9 5.9 0 1 0 11.8 0a5.9 5.9 0 1 0-11.8 0M268.2 707.5a5.9 5.9 0 1 0 11.8 0a5.9 5.9 0 1 0-11.8 0M266.1 707.8a5.9 5.9 0 1 0 11.8 0a5.9 5.9 0 1 0-11.8 0M269.6 707.5a5.9 5.9 0 1 0 11.8 0a5.9 5.9 0 1 0-11.8 0M267.7 708.1a5.9 5.9 0 1 0 11.8 0a5.9 5.9 0 1 0-11.8 0M267.5 708.2a5.9 5.9 0 1 0 11.8 0a5.9 5.9 0 1 0-11.8 0M269.5 708.8a5.9 5.9 0 1 0 11.8 0a5.9 5.9 0 1 0-11.8 0M265.9 707.3a5.9 5.9 0 1 0 11.8 0a5.9 5.9 0 1 0-11.8 0M269.5 708.4a5.9 5.9 0 1 0 11.8 0a5.9 5.9 0 1 0-11.8 0M268.6 708.3a5.9 5.9 0 1 0 11.8 0a5.9 5.9 0 1 0-11.8 0M266.8 709a5.9 5.9 0 1 0 11.8 0a5.9 5.9 0 1 0-11.8 0M268.2 710.6a5.9 5.9 0 1 0 11.8 0a5.9 5.9 0 1 0-11.8 0M266.9 710a5.9 5.9 0 1 0 11.8 0a5.9 5.9 0 1 0-11.8 0M266 709.5a5.9 5.9 0 1 0 11.8 0a5.9 5.9 0 1 0-11.8 0M269.1 709.5a5.9 5.9 0 1 0 11.8 0a5.9 5.9 0 1 0-11.8 0M269 711.1a5.9 5.9 0 1 0 11.8 0a5.9 5.9 0 1 0-11.8 0M264.4 712a5.9 5.9 0 1 0 11.8 0a5.9 5.9 0 1 0-11.8 0M264.5 711.5a5.9 5.9 0 1 0 11.8 0a5.9 5.9 0 1 0-11.8 0M264.6 712.8a5.9 5.9 0 1 0 11.8 0a5.9 5.9 0 1 0-11.8 0M265.5 712.8a5.9 5.9 0 1 0 11.8 0a5.9 5.9 0 1 0-11.8 0M264.1 712.6a5.9 5.9 0 1 0 11.8 0a5.9 5.9 0 1 0-11.8 0M264.1 711.3a5.9 5.9 0 1 0 11.8 0a5.9 5.9 0 1 0-11.8 0M266.6 713.9a5.9 5.9 0 1 0 11.8 0a5.9 5.9 0 1 0-11.8 0M267.1 713.8a5.9 5.9 0 1 0 11.8 0a5.9 5.9 0 1 0-11.8 0M267.5 713.2a5.9 5.9 0 1 0 11.8 0a5.9 5.9 0 1 0-11.8 0M263.9 713.5a5.9 5.9 0 1 0 11.8 0a5.9 5.9 0 1 0-11.8 0M264.4 713.7a5.9 5.9 0 1 0 11.8 0a5.9 5.9 0 1 0-11.8 0M265.2 713.9a5.9 5.9 0 1 0 11.8 0a5.9 5.9 0 1 0-11.8 0M264.4 714.7a5.9 5.9 0 1 0 11.8 0a5.9 5.9 0 1 0-11.8 0M265.2 714.4a5.9 5.9 0 1 0 11.8 0a5.9 5.9 0 1 0-11.8 0M262.7 714.6a5.9 5.9 0 1 0 11.8 0a5.9 5.9 0 1 0-11.8 0M264 716a5.9 5.9 0 1 0 11.8 0a5.9 5.9 0 1 0-11.8 0M263.1 714.3a5.9 5.9 0 1 0 11.8 0a5.9 5.9 0 1 0-11.8 0M261 715a5.9 5.9 0 1 0 11.8 0a5.9 5.9 0 1 0-11.8 0M261.9 716.7a5.9 5.9 0 1 0 11.8 0a5.9 5.9 0 1 0-11.8 0M262.2 716.9a5.9 5.9 0 1 0 11.8 0a5.9 5.9 0 1 0-11.8 0M262.5 717a5.9 5.9 0 1 0 11.8 0a5.9 5.9 0 1 0-11.8 0M263.4 715.2a5.9 5.9 0 1 0 11.8 0a5.9 5.9 0 1 0-11.8 0M262.3 716.8a5.9 5.9 0 1 0 11.8 0a5.9 5.9 0 1 0-11.8 0M264 717.1a5.9 5.9 0 1 0 11.8 0a5.9 5.9 0 1 0-11.8 0M264.5 718.1a5.9 5.9 0 1 0 11.8 0a5.9 5.9 0 1 0-11.8 0M262.9 717.3a5.9 5.9 0 1 0 11.8 0a5.9 5.9 0 1 0-11.8 0M267.9 716.4a5.9 5.9 0 1 0 11.8 0a5.9 5.9 0 1 0-11.8 0M264.3 718.7a5.9 5.9 0 1 0 11.8 0a5.9 5.9 0 1 0-11.8 0M268.6 716.9a5.9 5.9 0 1 0 11.8 0a5.9 5.9 0 1 0-11.8 0M264.2 719.1a5.9 5.9 0 1 0 11.8 0a5.9 5.9 0 1 0-11.8 0M267.6 718.5a5.9 5.9 0 1 0 11.8 0a5.9 5.9 0 1 0-11.8 0M267.2 719.3a5.9 5.9 0 1 0 11.8 0a5.9 5.9 0 1 0-11.8 0M268.5 717.7a5.9 5.9 0 1 0 11.8 0a5.9 5.9 0 1 0-11.8 0M265 719.8a5.9 5.9 0 1 0 11.8 0a5.9 5.9 0 1 0-11.8 0M269.7 720.1a5.9 5.9 0 1 0 11.8 0a5.9 5.9 0 1 0-11.8 0M267 719.1a5.9 5.9 0 1 0 11.8 0a5.9 5.9 0 1 0-11.8 0M266.8 718.5a5.9 5.9 0 1 0 11.8 0a5.9 5.9 0 1 0-11.8 0M269.1 719.3a5.9 5.9 0 1 0 11.8 0a5.9 5.9 0 1 0-11.8 0M268.3 720.2a5.9 5.9 0 1 0 11.8 0a5.9 5.9 0 1 0-11.8 0M267.2 720.7a5.9 5.9 0 1 0 11.8 0a5.9 5.9 0 1 0-11.8 0M268 719.9a5.9 5.9 0 1 0 11.8 0a5.9 5.9 0 1 0-11.8 0M270.3 719.9a5.9 5.9 0 1 0 11.8 0a5.9 5.9 0 1 0-11.8 0M266.7 720.3a5.9 5.9 0 1 0 11.8 0a5.9 5.9 0 1 0-11.8 0M268.6 721.8a5.9 5.9 0 1 0 11.8 0a5.9 5.9 0 1 0-11.8 0M268 720.7a5.9 5.9 0 1 0 11.8 0a5.9 5.9 0 1 0-11.8 0M269.8 720.9a5.9 5.9 0 1 0 11.8 0a5.9 5.9 0 1 0-11.8 0M269.3 721.1a5.9 5.9 0 1 0 11.8 0a5.9 5.9 0 1 0-11.8 0M271.3 721.2a5.9 5.9 0 1 0 11.8 0a5.9 5.9 0 1 0-11.8 0M268.1 721.6a5.9 5.9 0 1 0 11.8 0a5.9 5.9 0 1 0-11.8 0M268.7 722.9a5.9 5.9 0 1 0 11.8 0a5.9 5.9 0 1 0-11.8 0M270.7 723.1a5.9 5.9 0 1 0 11.8 0a5.9 5.9 0 1 0-11.8 0M270.2 721.5a5.9 5.9 0 1 0 11.8 0a5.9 5.9 0 1 0-11.8 0M271.5 722a5.9 5.9 0 1 0 11.8 0a5.9 5.9 0 1 0-11.8 0M268.8 722.6a5.9 5.9 0 1 0 11.8 0a5.9 5.9 0 1 0-11.8 0M273 722.6a5.9 5.9 0 1 0 11.8 0a5.9 5.9 0 1 0-11.8 0M269.8 724a5.9 5.9 0 1 0 11.8 0a5.9 5.9 0 1 0-11.8 0M273.4 722.8a5.9 5.9 0 1 0 11.8 0a5.9 5.9 0 1 0-11.8 0M268.8 723.9a5.9 5.9 0 1 0 11.8 0a5.9 5.9 0 1 0-11.8 0M272.2 722.9a5.9 5.9 0 1 0 11.8 0a5.9 5.9 0 1 0-11.8 0M272.1 723.1a5.9 5.9 0 1 0 11.8 0a5.9 5.9 0 1 0-11.8 0M269.3 723.7a5.9 5.9 0 1 0 11.8 0a5.9 5.9 0 1 0-11.8 0M271.6 723.6a5.9 5.9 0 1 0 11.8 0a5.9 5.9 0 1 0-11.8 0M271.9 722.6a5.9 5.9 0 1 0 11.8 0a5.9 5.9 0 1 0-11.8 0M270.1 723.6a5.9 5.9 0 1 0 11.8 0a5.9 5.9 0 1 0-11.8 0M267.6 724.9a5.9 5.9 0 1 0 11.8 0a5.9 5.9 0 1 0-11.8 0M267.9 723.3a5.9 5.9 0 1 0 11.8 0a5.9 5.9 0 1 0-11.8 0M271.8 725.3a5.9 5.9 0 1 0 11.8 0a5.9 5.9 0 1 0-11.8 0M272 723.9a5.9 5.9 0 1 0 11.8 0a5.9 5.9 0 1 0-11.8 0M271.9 723.5a5.9 5.9 0 1 0 11.8 0a5.9 5.9 0 1 0-11.8 0M270.6 725.6a5.9 5.9 0 1 0 11.8 0a5.9 5.9 0 1 0-11.8 0M267.7 723.7a5.9 5.9 0 1 0 11.8 0a5.9 5.9 0 1 0-11.8 0M270.2 725.6a5.9 5.9 0 1 0 11.8 0a5.9 5.9 0 1 0-11.8 0M270.3 725.9a5.9 5.9 0 1 0 11.8 0a5.9 5.9 0 1 0-11.8 0M268.7 724.6a5.9 5.9 0 1 0 11.8 0a5.9 5.9 0 1 0-11.8 0M266.8 724.5a5.9 5.9 0 1 0 11.8 0a5.9 5.9 0 1 0-11.8 0M271.1 724.1a5.9 5.9 0 1 0 11.8 0a5.9 5.9 0 1 0-11.8 0M266.9 724.9a5.9 5.9 0 1 0 11.8 0a5.9 5.9 0 1 0-11.8 0M266.1 724.9a5.9 5.9 0 1 0 11.8 0a5.9 5.9 0 1 0-11.8 0M266.7 724.5a5.9 5.9 0 1 0 11.8 0a5.9 5.9 0 1 0-11.8 0M268.5 725.7a5.9 5.9 0 1 0 11.8 0a5.9 5.9 0 1 0-11.8 0M268.6 726.3a5.9 5.9 0 1 0 11.8 0a5.9 5.9 0 1 0-11.8 0M268.2 726.8a5.9 5.9 0 1 0 11.8 0a5.9 5.9 0 1 0-11.8 0M265.7 725.2a5.9 5.9 0 1 0 11.8 0a5.9 5.9 0 1 0-11.8 0M265.6 725.5a5.9 5.9 0 1 0 11.8 0a5.9 5.9 0 1 0-11.8 0M269.2 727.1a5.9 5.9 0 1 0 11.8 0a5.9 5.9 0 1 0-11.8 0M267.7 725.4a5.9 5.9 0 1 0 11.8 0a5.9 5.9 0 1 0-11.8 0M266.6 726.5a5.9 5.9 0 1 0 11.8 0a5.9 5.9 0 1 0-11.8 0M266.3 727.1a5.9 5.9 0 1 0 11.8 0a5.9 5.9 0 1 0-11.8 0M269.9 726.4a5.9 5.9 0 1 0 11.8 0a5.9 5.9 0 1 0-11.8 0M267.7 727.5a5.9 5.9 0 1 0 11.8 0a5.9 5.9 0 1 0-11.8 0M266.8 726a5.9 5.9 0 1 0 11.8 0a5.9 5.9 0 1 0-11.8 0M269.3 728a5.9 5.9 0 1 0 11.8 0a5.9 5.9 0 1 0-11.8 0M264.2 727.6a5.9 5.9 0 1 0 11.8 0a5.9 5.9 0 1 0-11.8 0M266 726a5.9 5.9 0 1 0 11.8 0a5.9 5.9 0 1 0-11.8 0M264.6 726.4a5.9 5.9 0 1 0 11.8 0a5.9 5.9 0 1 0-11.8 0M267.6 726.6a5.9 5.9 0 1 0 11.8 0a5.9 5.9 0 1 0-11.8 0M263.6 726.7a5.9 5.9 0 1 0 11.8 0a5.9 5.9 0 1 0-11.8 0M267.6 727.5a5.9 5.9 0 1 0 11.8 0a5.9 5.9 0 1 0-11.8 0M266.7 727.6a5.9 5.9 0 1 0 11.8 0a5.9 5.9 0 1 0-11.8 0M264 726.6a5.9 5.9 0 1 0 11.8 0a5.9 5.9 0 1 0-11.8 0M264.5 726.8a5.9 5.9 0 1 0 11.8 0a5.9 5.9 0 1 0-11.8 0M264.1 728.3a5.9 5.9 0 1 0 11.8 0a5.9 5.9 0 1 0-11.8 0M264.6 728a5.9 5.9 0 1 0 11.8 0a5.9 5.9 0 1 0-11.8 0M265.8 727.7a5.9 5.9 0 1 0 11.8 0a5.9 5.9 0 1 0-11.8 0M264.2 729.2a5.9 5.9 0 1 0 11.8 0a5.9 5.9 0 1 0-11.8 0M265.3 728.2a5.9 5.9 0 1 0 11.8 0a5.9 5.9 0 1 0-11.8 0M264.9 728.4a5.9 5.9 0 1 0 11.8 0a5.9 5.9 0 1 0-11.8 0M263.6 729.6a5.9 5.9 0 1 0 11.8 0a5.9 5.9 0 1 0-11.8 0M263 729.8a5.9 5.9 0 1 0 11.8 0a5.9 5.9 0 1 0-11.8 0M266.2 729.8a5.9 5.9 0 1 0 11.8 0a5.9 5.9 0 1 0-11.8 0M262.3 729a5.9 5.9 0 1 0 11.8 0a5.9 5.9 0 1 0-11.8 0M266.6 728.6a5.9 5.9 0 1 0 11.8 0a5.9 5.9 0 1 0-11.8 0M262 729.7a5.9 5.9 0 1 0 11.8 0a5.9 5.9 0 1 0-11.8 0M262.2 729.5a5.9 5.9 0 1 0 11.8 0a5.9 5.9 0 1 0-11.8 0M261.7 730.5a5.9 5.9 0 1 0 11.8 0a5.9 5.9 0 1 0-11.8 0M262.2 728.5a5.9 5.9 0 1 0 11.8 0a5.9 5.9 0 1 0-11.8 0M264.3 729.3a5.9 5.9 0 1 0 11.8 0a5.9 5.9 0 1 0-11.8 0M263.4 729.7a5.9 5.9 0 1 0 11.8 0a5.9 5.9 0 1 0-11.8 0M265.2 729.9a5.9 5.9 0 1 0 11.8 0a5.9 5.9 0 1 0-11.8 0M262.2 728.8a5.9 5.9 0 1 0 11.8 0a5.9 5.9 0 1 0-11.8 0M262.6 729.5a5.9 5.9 0 1 0 11.8 0a5.9 5.9 0 1 0-11.8 0M262.9 730.5a5.9 5.9 0 1 0 11.8 0a5.9 5.9 0 1 0-11.8 0M262.2 729.3a5.9 5.9 0 1 0 11.8 0a5.9 5.9 0 1 0-11.8 0M262.2 730.3a5.9 5.9 0 1 0 11.8 0a5.9 5.9 0 1 0-11.8 0M262.8 731.6a5.9 5.9 0 1 0 11.8 0a5.9 5.9 0 1 0-11.8 0M260.7 730.5a5.9 5.9 0 1 0 11.8 0a5.9 5.9 0 1 0-11.8 0M259.5 731.5a5.9 5.9 0 1 0 11.8 0a5.9 5.9 0 1 0-11.8 0M260.2 731.6a5.9 5.9 0 1 0 11.8 0a5.9 5.9 0 1 0-11.8 0M263.1 730.4a5.9 5.9 0 1 0 11.8 0a5.9 5.9 0 1 0-11.8 0M263.5 731.1a5.9 5.9 0 1 0 11.8 0a5.9 5.9 0 1 0-11.8 0M260.8 731.3a5.9 5.9 0 1 0 11.8 0a5.9 5.9 0 1 0-11.8 0M263.5 731.3a5.9 5.9 0 1 0 11.8 0a5.9 5.9 0 1 0-11.8 0M260.8 731a5.9 5.9 0 1 0 11.8 0a5.9 5.9 0 1 0-11.8 0M262.6 731.6a5.9 5.9 0 1 0 11.8 0a5.9 5.9 0 1 0-11.8 0M259.8 731a5.9 5.9 0 1 0 11.8 0a5.9 5.9 0 1 0-11.8 0M259.1 732.6a5.9 5.9 0 1 0 11.8 0a5.9 5.9 0 1 0-11.8 0M262.1 733.1a5.9 5.9 0 1 0 11.8 0a5.9 5.9 0 1 0-11.8 0M262.6 732.5a5.9 5.9 0 1 0 11.8 0a5.9 5.9 0 1 0-11.8 0M261.9 732.7a5.9 5.9 0 1 0 11.8 0a5.9 5.9 0 1 0-11.8 0M261.8 733a5.9 5.9 0 1 0 11.8 0a5.9 5.9 0 1 0-11.8 0M258.4 733.2a5.9 5.9 0 1 0 11.8 0a5.9 5.9 0 1 0-11.8 0M259 731.9a5.9 5.9 0 1 0 11.8 0a5.9 5.9 0 1 0-11.8 0M262.1 731.5a5.9 5.9 0 1 0 11.8 0a5.9 5.9 0 1 0-11.8 0M259.9 732.4a5.9 5.9 0 1 0 11.8 0a5.9 5.9 0 1 0-11.8 0M261.2 733.2a5.9 5.9 0 1 0 11.8 0a5.9 5.9 0 1 0-11.8 0M261.7 734.1a5.9 5.9 0 1 0 11.8 0a5.9 5.9 0 1 0-11.8 0M260.2 732.1a5.9 5.9 0 1 0 11.8 0a5.9 5.9 0 1 0-11.8 0M260.3 732.3a5.9 5.9 0 1 0 11.8 0a5.9 5.9 0 1 0-11.8 0M261.8 734.3a5.9 5.9 0 1 0 11.8 0a5.9 5.9 0 1 0-11.8 0M258.2 732.8a5.9 5.9 0 1 0 11.8 0a5.9 5.9 0 1 0-11.8 0M260.1 734.2a5.9 5.9 0 1 0 11.8 0a5.9 5.9 0 1 0-11.8 0M261.5 734a5.9 5.9 0 1 0 11.8 0a5.9 5.9 0 1 0-11.8 0M257 734.4a5.9 5.9 0 1 0 11.8 0a5.9 5.9 0 1 0-11.8 0M256.6 734.9a5.9 5.9 0 1 0 11.8 0a5.9 5.9 0 1 0-11.8 0M260.1 734.8a5.9 5.9 0 1 0 11.8 0a5.9 5.9 0 1 0-11.8 0M260.5 734.4a5.9 5.9 0 1 0 11.8 0a5.9 5.9 0 1 0-11.8 0M260.7 734.7a5.9 5.9 0 1 0 11.8 0a5.9 5.9 0 1 0-11.8 0M258.4 734.2a5.9 5.9 0 1 0 11.8 0a5.9 5.9 0 1 0-11.8 0M257.6 733.4a5.9 5.9 0 1 0 11.8 0a5.9 5.9 0 1 0-11.8 0M255.5 735.5a5.9 5.9 0 1 0 11.8 0a5.9 5.9 0 1 0-11.8 0M254.2 735.3a5.9 5.9 0 1 0 11.8 0a5.9 5.9 0 1 0-11.8 0M255.1 735.6a5.9 5.9 0 1 0 11.8 0a5.9 5.9 0 1 0-11.8 0M252.5 734.9a5.9 5.9 0 1 0 11.8 0a5.9 5.9 0 1 0-11.8 0M252.1 734.8a5.9 5.9 0 1 0 11.8 0a5.9 5.9 0 1 0-11.8 0M254.6 736.2a5.9 5.9 0 1 0 11.8 0a5.9 5.9 0 1 0-11.8 0M256.9 735.5a5.9 5.9 0 1 0 11.8 0a5.9 5.9 0 1 0-11.8 0M257.6 737.1a5.9 5.9 0 1 0 11.8 0a5.9 5.9 0 1 0-11.8 0M254.5 737.4a5.9 5.9 0 1 0 11.8 0a5.9 5.9 0 1 0-11.8 0M257.2 737.6a5.9 5.9 0 1 0 11.8 0a5.9 5.9 0 1 0-11.8 0M259 736.3a5.9 5.9 0 1 0 11.8 0a5.9 5.9 0 1 0-11.8 0M256.3 736.9a5.9 5.9 0 1 0 11.8 0a5.9 5.9 0 1 0-11.8 0M258.4 736a5.9 5.9 0 1 0 11.8 0a5.9 5.9 0 1 0-11.8 0M261.9 737.3a5.9 5.9 0 1 0 11.8 0a5.9 5.9 0 1 0-11.8 0M259 738a5.9 5.9 0 1 0 11.8 0a5.9 5.9 0 1 0-11.8 0M257.3 736.9a5.9 5.9 0 1 0 11.8 0a5.9 5.9 0 1 0-11.8 0M259.9 737.2a5.9 5.9 0 1 0 11.8 0a5.9 5.9 0 1 0-11.8 0M258 737a5.9 5.9 0 1 0 11.8 0a5.9 5.9 0 1 0-11.8 0M256 737.9a5.9 5.9 0 1 0 11.8 0a5.9 5.9 0 1 0-11.8 0M259.7 739.5a5.9 5.9 0 1 0 11.8 0a5.9 5.9 0 1 0-11.8 0M260.6 738.4a5.9 5.9 0 1 0 11.8 0a5.9 5.9 0 1 0-11.8 0M258.9 738.2a5.9 5.9 0 1 0 11.8 0a5.9 5.9 0 1 0-11.8 0M259.5 740.1a5.9 5.9 0 1 0 11.8 0a5.9 5.9 0 1 0-11.8 0M256.8 739a5.9 5.9 0 1 0 11.8 0a5.9 5.9 0 1 0-11.8 0M261.2 740a5.9 5.9 0 1 0 11.8 0a5.9 5.9 0 1 0-11.8 0M260.3 739.9a5.9 5.9 0 1 0 11.8 0a5.9 5.9 0 1 0-11.8 0M263.3 740.7a5.9 5.9 0 1 0 11.8 0a5.9 5.9 0 1 0-11.8 0M258.1 740.1a5.9 5.9 0 1 0 11.8 0a5.9 5.9 0 1 0-11.8 0M263.9 740.2a5.9 5.9 0 1 0 11.8 0a5.9 5.9 0 1 0-11.8 0M257.7 741a5.9 5.9 0 1 0 11.8 0a5.9 5.9 0 1 0-11.8 0M256.7 739.7a5.9 5.9 0 1 0 11.8 0a5.9 5.9 0 1 0-11.8 0M260.6 740.2a5.9 5.9 0 1 0 11.8 0a5.9 5.9 0 1 0-11.8 0M262 741.5a5.9 5.9 0 1 0 11.8 0a5.9 5.9 0 1 0-11.8 0M258.9 741.7a5.9 5.9 0 1 0 11.8 0a5.9 5.9 0 1 0-11.8 0M261.6 741.8a5.9 5.9 0 1 0 11.8 0a5.9 5.9 0 1 0-11.8 0M260.1 741.3a5.9 5.9 0 1 0 11.8 0a5.9 5.9 0 1 0-11.8 0M257.4 741.6a5.9 5.9 0 1 0 11.8 0a5.9 5.9 0 1 0-11.8 0M264.2 742.8a5.9 5.9 0 1 0 11.8 0a5.9 5.9 0 1 0-11.8 0M257.2 741a5.9 5.9 0 1 0 11.8 0a5.9 5.9 0 1 0-11.8 0M258.9 742.7a5.9 5.9 0 1 0 11.8 0a5.9 5.9 0 1 0-11.8 0M260.3 741.6a5.9 5.9 0 1 0 11.8 0a5.9 5.9 0 1 0-11.8 0M260.3 742.8a5.9 5.9 0 1 0 11.8 0a5.9 5.9 0 1 0-11.8 0M262.9 742.6a5.9 5.9 0 1 0 11.8 0a5.9 5.9 0 1 0-11.8 0M262.2 743.5a5.9 5.9 0 1 0 11.8 0a5.9 5.9 0 1 0-11.8 0M262 742.2a5.9 5.9 0 1 0 11.8 0a5.9 5.9 0 1 0-11.8 0M262.8 742.6a5.9 5.9 0 1 0 11.8 0a5.9 5.9 0 1 0-11.8 0M257.5 743.7a5.9 5.9 0 1 0 11.8 0a5.9 5.9 0 1 0-11.8 0M257.3 742.9a5.9 5.9 0 1 0 11.8 0a5.9 5.9 0 1 0-11.8 0M260.2 744.1a5.9 5.9 0 1 0 11.8 0a5.9 5.9 0 1 0-11.8 0M258 745.5a5.9 5.9 0 1 0 11.8 0a5.9 5.9 0 1 0-11.8 0M263.8 744.6a5.9 5.9 0 1 0 11.8 0a5.9 5.9 0 1 0-11.8 0M261.7 744.4a5.9 5.9 0 1 0 11.8 0a5.9 5.9 0 1 0-11.8 0M264.8 744.1a5.9 5.9 0 1 0 11.8 0a5.9 5.9 0 1 0-11.8 0M259.5 744.6a5.9 5.9 0 1 0 11.8 0a5.9 5.9 0 1 0-11.8 0M263.8 745.5a5.9 5.9 0 1 0 11.8 0a5.9 5.9 0 1 0-11.8 0M260.3 745.4a5.9 5.9 0 1 0 11.8 0a5.9 5.9 0 1 0-11.8 0M263.9 745.3a5.9 5.9 0 1 0 11.8 0a5.9 5.9 0 1 0-11.8 0M263.2 746.6a5.9 5.9 0 1 0 11.8 0a5.9 5.9 0 1 0-11.8 0M260.6 746a5.9 5.9 0 1 0 11.8 0a5.9 5.9 0 1 0-11.8 0M260.5 746.4a5.9 5.9 0 1 0 11.8 0a5.9 5.9 0 1 0-11.8 0M259.6 747.1a5.9 5.9 0 1 0 11.8 0a5.9 5.9 0 1 0-11.8 0M260.3 746.5a5.9 5.9 0 1 0 11.8 0a5.9 5.9 0 1 0-11.8 0M263 747.1a5.9 5.9 0 1 0 11.8 0a5.9 5.9 0 1 0-11.8 0M260.7 748.3a5.9 5.9 0 1 0 11.8 0a5.9 5.9 0 1 0-11.8 0M260.6 747.4a5.9 5.9 0 1 0 11.8 0a5.9 5.9 0 1 0-11.8 0M263.8 749a5.9 5.9 0 1 0 11.8 0a5.9 5.9 0 1 0-11.8 0M263 747.9a5.9 5.9 0 1 0 11.8 0a5.9 5.9 0 1 0-11.8 0M262.1 748.9a5.9 5.9 0 1 0 11.8 0a5.9 5.9 0 1 0-11.8 0M259.4 749.1a5.9 5.9 0 1 0 11.8 0a5.9 5.9 0 1 0-11.8 0M264.1 749.1a5.9 5.9 0 1 0 11.8 0a5.9 5.9 0 1 0-11.8 0M262.1 748.8a5.9 5.9 0 1 0 11.8 0a5.9 5.9 0 1 0-11.8 0M262 748.5a5.9 5.9 0 1 0 11.8 0a5.9 5.9 0 1 0-11.8 0M262.8 749.5a5.9 5.9 0 1 0 11.8 0a5.9 5.9 0 1 0-11.8 0M264.2 749.2a5.9 5.9 0 1 0 11.8 0a5.9 5.9 0 1 0-11.8 0M262.3 748.7a5.9 5.9 0 1 0 11.8 0a5.9 5.9 0 1 0-11.8 0M260.3 750.7a5.9 5.9 0 1 0 11.8 0a5.9 5.9 0 1 0-11.8 0M259.2 750.6a5.9 5.9 0 1 0 11.8 0a5.9 5.9 0 1 0-11.8 0M258.9 750.3a5.9 5.9 0 1 0 11.8 0a5.9 5.9 0 1 0-11.8 0M264.2 750a5.9 5.9 0 1 0 11.8 0a5.9 5.9 0 1 0-11.8 0M263.6 749.9a5.9 5.9 0 1 0 11.8 0a5.9 5.9 0 1 0-11.8 0M261.3 751.9a5.9 5.9 0 1 0 11.8 0a5.9 5.9 0 1 0-11.8 0M262.8 751.1a5.9 5.9 0 1 0 11.8 0a5.9 5.9 0 1 0-11.8 0M261 752.1a5.9 5.9 0 1 0 11.8 0a5.9 5.9 0 1 0-11.8 0M262 752.4a5.9 5.9 0 1 0 11.8 0a5.9 5.9 0 1 0-11.8 0M260.6 751.5a5.9 5.9 0 1 0 11.8 0a5.9 5.9 0 1 0-11.8 0M261.3 752.5a5.9 5.9 0 1 0 11.8 0a5.9 5.9 0 1 0-11.8 0M260.1 753.7a5.9 5.9 0 1 0 11.8 0a5.9 5.9 0 1 0-11.8 0M257.3 753.5a5.9 5.9 0 1 0 11.8 0a5.9 5.9 0 1 0-11.8 0M258.4 753.6a5.9 5.9 0 1 0 11.8 0a5.9 5.9 0 1 0-11.8 0M262.3 752.7a5.9 5.9 0 1 0 11.8 0a5.9 5.9 0 1 0-11.8 0M259.7 753.5a5.9 5.9 0 1 0 11.8 0a5.9 5.9 0 1 0-11.8 0M259 752.9a5.9 5.9 0 1 0 11.8 0a5.9 5.9 0 1 0-11.8 0M259.7 754.9a5.9 5.9 0 1 0 11.8 0a5.9 5.9 0 1 0-11.8 0M259.8 753.7a5.9 5.9 0 1 0 11.8 0a5.9 5.9 0 1 0-11.8 0M260.6 754.2a5.9 5.9 0 1 0 11.8 0a5.9 5.9 0 1 0-11.8 0M256.2 754.9a5.9 5.9 0 1 0 11.8 0a5.9 5.9 0 1 0-11.8 0M258.1 754.9a5.9 5.9 0 1 0 11.8 0a5.9 5.9 0 1 0-11.8 0M261.3 755.2a5.9 5.9 0 1 0 11.8 0a5.9 5.9 0 1 0-11.8 0M260.9 755a5.9 5.9 0 1 0 11.8 0a5.9 5.9 0 1 0-11.8 0M259.5 754.5a5.9 5.9 0 1 0 11.8 0a5.9 5.9 0 1 0-11.8 0M256.5 756.2a5.9 5.9 0 1 0 11.8 0a5.9 5.9 0 1 0-11.8 0M258.8 756.8a5.9 5.9 0 1 0 11.8 0a5.9 5.9 0 1 0-11.8 0M256.7 755.7a5.9 5.9 0 1 0 11.8 0a5.9 5.9 0 1 0-11.8 0M256.4 756.5a5.9 5.9 0 1 0 11.8 0a5.9 5.9 0 1 0-11.8 0M254.3 756.4a5.9 5.9 0 1 0 11.8 0a5.9 5.9 0 1 0-11.8 0M258 756.1a5.9 5.9 0 1 0 11.8 0a5.9 5.9 0 1 0-11.8 0M255.7 758a5.9 5.9 0 1 0 11.8 0a5.9 5.9 0 1 0-11.8 0M259.3 756.8a5.9 5.9 0 1 0 11.8 0a5.9 5.9 0 1 0-11.8 0M254.7 756.7a5.9 5.9 0 1 0 11.8 0a5.9 5.9 0 1 0-11.8 0M254 758.5a5.9 5.9 0 1 0 11.8 0a5.9 5.9 0 1 0-11.8 0M257.7 757.5a5.9 5.9 0 1 0 11.8 0a5.9 5.9 0 1 0-11.8 0M256.1 758.8a5.9 5.9 0 1 0 11.8 0a5.9 5.9 0 1 0-11.8 0M253.2 759.3a5.9 5.9 0 1 0 11.8 0a5.9 5.9 0 1 0-11.8 0M257.9 758.1a5.9 5.9 0 1 0 11.8 0a5.9 5.9 0 1 0-11.8 0M256.8 759.5a5.9 5.9 0 1 0 11.8 0a5.9 5.9 0 1 0-11.8 0M254.6 760.1a5.9 5.9 0 1 0 11.8 0a5.9 5.9 0 1 0-11.8 0M253.8 759.5a5.9 5.9 0 1 0 11.8 0a5.9 5.9 0 1 0-11.8 0M254.2 759.7a5.9 5.9 0 1 0 11.8 0a5.9 5.9 0 1 0-11.8 0M256.8 760.3a5.9 5.9 0 1 0 11.8 0a5.9 5.9 0 1 0-11.8 0M255.6 761.6a5.9 5.9 0 1 0 11.8 0a5.9 5.9 0 1 0-11.8 0M253.3 760.1a5.9 5.9 0 1 0 11.8 0a5.9 5.9 0 1 0-11.8 0M255.3 760.2a5.9 5.9 0 1 0 11.8 0a5.9 5.9 0 1 0-11.8 0M257 761a5.9 5.9 0 1 0 11.8 0a5.9 5.9 0 1 0-11.8 0M254 761.5a5.9 5.9 0 1 0 11.8 0a5.9 5.9 0 1 0-11.8 0M256 763a5.9 5.9 0 1 0 11.8 0a5.9 5.9 0 1 0-11.8 0M255 761.5a5.9 5.9 0 1 0 11.8 0a5.9 5.9 0 1 0-11.8 0M253.2 763.1a5.9 5.9 0 1 0 11.8 0a5.9 5.9 0 1 0-11.8 0M252.3 763.8a5.9 5.9 0 1 0 11.8 0a5.9 5.9 0 1 0-11.8 0M255.7 762.6a5.9 5.9 0 1 0 11.8 0a5.9 5.9 0 1 0-11.8 0M252.9 762.9a5.9 5.9 0 1 0 11.8 0a5.9 5.9 0 1 0-11.8 0M254.6 762.8a5.9 5.9 0 1 0 11.8 0a5.9 5.9 0 1 0-11.8 0M254.4 763.1a5.9 5.9 0 1 0 11.8 0a5.9 5.9 0 1 0-11.8 0M255 764.6a5.9 5.9 0 1 0 11.8 0a5.9 5.9 0 1 0-11.8 0M253.6 763.8a5.9 5.9 0 1 0 11.8 0a5.9 5.9 0 1 0-11.8 0M250.8 764.7a5.9 5.9 0 1 0 11.8 0a5.9 5.9 0 1 0-11.8 0M255.4 765.6a5.9 5.9 0 1 0 11.8 0a5.9 5.9 0 1 0-11.8 0M254.6 764.6a5.9 5.9 0 1 0 11.8 0a5.9 5.9 0 1 0-11.8 0M250.8 764.8a5.9 5.9 0 1 0 11.8 0a5.9 5.9 0 1 0-11.8 0M253.6 765.5a5.9 5.9 0 1 0 11.8 0a5.9 5.9 0 1 0-11.8 0M251.4 767a5.9 5.9 0 1 0 11.8 0a5.9 5.9 0 1 0-11.8 0M253.3 766.5a5.9 5.9 0 1 0 11.8 0a5.9 5.9 0 1 0-11.8 0M252.2 766.7a5.9 5.9 0 1 0 11.8 0a5.9 5.9 0 1 0-11.8 0M252.5 767.2a5.9 5.9 0 1 0 11.8 0a5.9 5.9 0 1 0-11.8 0M251.4 767.2a5.9 5.9 0 1 0 11.8 0a5.9 5.9 0 1 0-11.8 0M251 767.6a5.9 5.9 0 1 0 11.8 0a5.9 5.9 0 1 0-11.8 0M249.7 768a5.9 5.9 0 1 0 11.8 0a5.9 5.9 0 1 0-11.8 0M252.2 768.3a5.9 5.9 0 1 0 11.8 0a5.9 5.9 0 1 0-11.8 0M249.9 770a5.9 5.9 0 1 0 11.8 0a5.9 5.9 0 1 0-11.8 0M250.3 769.6a5.9 5.9 0 1 0 11.8 0a5.9 5.9 0 1 0-11.8 0M247.6 770.9a5.9 5.9 0 1 0 11.8 0a5.9 5.9 0 1 0-11.8 0M247.4 770.6a5.9 5.9 0 1 0 11.8 0a5.9 5.9 0 1 0-11.8 0M244.9 771.1a5.9 5.9 0 1 0 11.8 0a5.9 5.9 0 1 0-11.8 0M242.2 770.8a5.9 5.9 0 1 0 11.8 0a5.9 5.9 0 1 0-11.8 0M239.6 771.4a5.9 5.9 0 1 0 11.8 0a5.9 5.9 0 1 0-11.8 0M237.9 771.8a5.9 5.9 0 1 0 11.8 0a5.9 5.9 0 1 0-11.8 0M236.1 772.8a5.9 5.9 0 1 0 11.8 0a5.9 5.9 0 1 0-11.8 0M235.6 771.8a5.9 5.9 0 1 0 11.8 0a5.9 5.9 0 1 0-11.8 0M229.7 772.4a5.9 5.9 0 1 0 11.8 0a5.9 5.9 0 1 0-11.8 0M227.7 773.9a5.9 5.9 0 1 0 11.8 0a5.9 5.9 0 1 0-11.8 0M228.2 773.1a5.9 5.9 0 1 0 11.8 0a5.9 5.9 0 1 0-11.8 0M224.2 774.8a5.9 5.9 0 1 0 11.8 0a5.9 5.9 0 1 0-11.8 0M225 774.8a5.9 5.9 0 1 0 11.8 0a5.9 5.9 0 1 0-11.8 0M224.9 775.3a5.9 5.9 0 1 0 11.8 0a5.9 5.9 0 1 0-11.8 0M224.6 774.8a5.9 5.9 0 1 0 11.8 0a5.9 5.9 0 1 0-11.8 0M225.9 776.3a5.9 5.9 0 1 0 11.8 0a5.9 5.9 0 1 0-11.8 0M228.6 776.8a5.9 5.9 0 1 0 11.8 0a5.9 5.9 0 1 0-11.8 0M228.7 775.1a5.9 5.9 0 1 0 11.8 0a5.9 5.9 0 1 0-11.8 0M226.9 777.5a5.9 5.9 0 1 0 11.8 0a5.9 5.9 0 1 0-11.8 0M229.1 776.7a5.9 5.9 0 1 0 11.8 0a5.9 5.9 0 1 0-11.8 0M228.8 777.8a5.9 5.9 0 1 0 11.8 0a5.9 5.9 0 1 0-11.8 0M230.5 778.4a5.9 5.9 0 1 0 11.8 0a5.9 5.9 0 1 0-11.8 0M229.4 778.7a5.9 5.9 0 1 0 11.8 0a5.9 5.9 0 1 0-11.8 0M229.9 777a5.9 5.9 0 1 0 11.8 0a5.9 5.9 0 1 0-11.8 0M232.4 778.4a5.9 5.9 0 1 0 11.8 0a5.9 5.9 0 1 0-11.8 0M232 778.5a5.9 5.9 0 1 0 11.8 0a5.9 5.9 0 1 0-11.8 0M236.4 778.5a5.9 5.9 0 1 0 11.8 0a5.9 5.9 0 1 0-11.8 0M236.5 779.2a5.9 5.9 0 1 0 11.8 0a5.9 5.9 0 1 0-11.8 0M236.5 778.4a5.9 5.9 0 1 0 11.8 0a5.9 5.9 0 1 0-11.8 0M236.8 780.5a5.9 5.9 0 1 0 11.8 0a5.9 5.9 0 1 0-11.8 0M238.5 779.1a5.9 5.9 0 1 0 11.8 0a5.9 5.9 0 1 0-11.8 0M238.3 780.2a5.9 5.9 0 1 0 11.8 0a5.9 5.9 0 1 0-11.8 0M238.6 780.5a5.9 5.9 0 1 0 11.8 0a5.9 5.9 0 1 0-11.8 0M240.7 779.5a5.9 5.9 0 1 0 11.8 0a5.9 5.9 0 1 0-11.8 0M239.7 781.3a5.9 5.9 0 1 0 11.8 0a5.9 5.9 0 1 0-11.8 0M240.2 780.2a5.9 5.9 0 1 0 11.8 0a5.9 5.9 0 1 0-11.8 0M241.7 781.1a5.9 5.9 0 1 0 11.8 0a5.9 5.9 0 1 0-11.8 0M241.7 781.9a5.9 5.9 0 1 0 11.8 0a5.9 5.9 0 1 0-11.8 0M237 782.4a5.9 5.9 0 1 0 11.8 0a5.9 5.9 0 1 0-11.8 0M236.9 783.1a5.9 5.9 0 1 0 11.8 0a5.9 5.9 0 1 0-11.8 0M238 783.2a5.9 5.9 0 1 0 11.8 0a5.9 5.9 0 1 0-11.8 0M234.2 781.8a5.9 5.9 0 1 0 11.8 0a5.9 5.9 0 1 0-11.8 0M236.6 782.3a5.9 5.9 0 1 0 11.8 0a5.9 5.9 0 1 0-11.8 0M233.1 782.3a5.9 5.9 0 1 0 11.8 0a5.9 5.9 0 1 0-11.8 0M232 783.7a5.9 5.9 0 1 0 11.8 0a5.9 5.9 0 1 0-11.8 0M234.6 783.8a5.9 5.9 0 1 0 11.8 0a5.9 5.9 0 1 0-11.8 0M230.7 785.6a5.9 5.9 0 1 0 11.8 0a5.9 5.9 0 1 0-11.8 0M229.4 785.7a5.9 5.9 0 1 0 11.8 0a5.9 5.9 0 1 0-11.8 0M230.5 786.9a5.9 5.9 0 1 0 11.8 0a5.9 5.9 0 1 0-11.8 0M227.1 786.6a5.9 5.9 0 1 0 11.8 0a5.9 5.9 0 1 0-11.8 0M227.7 787.7a5.9 5.9 0 1 0 11.8 0a5.9 5.9 0 1 0-11.8 0M226.2 788a5.9 5.9 0 1 0 11.8 0a5.9 5.9 0 1 0-11.8 0M225 788a5.9 5.9 0 1 0 11.8 0a5.9 5.9 0 1 0-11.8 0M227.6 787.9a5.9 5.9 0 1 0 11.8 0a5.9 5.9 0 1 0-11.8 0M223.7 790.1a5.9 5.9 0 1 0 11.8 0a5.9 5.9 0 1 0-11.8 0M224.5 788.6a5.9 5.9 0 1 0 11.8 0a5.9 5.9 0 1 0-11.8 0M221.5 789.5a5.9 5.9 0 1 0 11.8 0a5.9 5.9 0 1 0-11.8 0M221.1 791.5a5.9 5.9 0 1 0 11.8 0a5.9 5.9 0 1 0-11.8 0M222 792.3a5.9 5.9 0 1 0 11.8 0a5.9 5.9 0 1 0-11.8 0M221 792a5.9 5.9 0 1 0 11.8 0a5.9 5.9 0 1 0-11.8 0M219.9 792.6a5.9 5.9 0 1 0 11.8 0a5.9 5.9 0 1 0-11.8 0M221.2 791.2a5.9 5.9 0 1 0 11.8 0a5.9 5.9 0 1 0-11.8 0M222.1 792.2a5.9 5.9 0 1 0 11.8 0a5.9 5.9 0 1 0-11.8 0M223.1 791.6a5.9 5.9 0 1 0 11.8 0a5.9 5.9 0 1 0-11.8 0M221.7 794.1a5.9 5.9 0 1 0 11.8 0a5.9 5.9 0 1 0-11.8 0M224 792.8a5.9 5.9 0 1 0 11.8 0a5.9 5.9 0 1 0-11.8 0M223.9 793.6a5.9 5.9 0 1 0 11.8 0a5.9 5.9 0 1 0-11.8 0M228.1 792.9a5.9 5.9 0 1 0 11.8 0a5.9 5.9 0 1 0-11.8 0M227.1 793.8a5.9 5.9 0 1 0 11.8 0a5.9 5.9 0 1 0-11.8 0M229.1 794.2a5.9 5.9 0 1 0 11.8 0a5.9 5.9 0 1 0-11.8 0M227.6 793.6a5.9 5.9 0 1 0 11.8 0a5.9 5.9 0 1 0-11.8 0M230.5 793.5a5.9 5.9 0 1 0 11.8 0a5.9 5.9 0 1 0-11.8 0M232 793.6a5.9 5.9 0 1 0 11.8 0a5.9 5.9 0 1 0-11.8 0M229.9 794.9a5.9 5.9 0 1 0 11.8 0a5.9 5.9 0 1 0-11.8 0M233.6 795.5a5.9 5.9 0 1 0 11.8 0a5.9 5.9 0 1 0-11.8 0M234 796a5.9 5.9 0 1 0 11.8 0a5.9 5.9 0 1 0-11.8 0M234.7 794.6a5.9 5.9 0 1 0 11.8 0a5.9 5.9 0 1 0-11.8 0M236 795a5.9 5.9 0 1 0 11.8 0a5.9 5.9 0 1 0-11.8 0M233.9 795a5.9 5.9 0 1 0 11.8 0a5.9 5.9 0 1 0-11.8 0M234.1 797.2a5.9 5.9 0 1 0 11.8 0a5.9 5.9 0 1 0-11.8 0M236.5 795.5a5.9 5.9 0 1 0 11.8 0a5.9 5.9 0 1 0-11.8 0M235.9 797.6a5.9 5.9 0 1 0 11.8 0a5.9 5.9 0 1 0-11.8 0M239.1 798a5.9 5.9 0 1 0 11.8 0a5.9 5.9 0 1 0-11.8 0M237.5 796.2a5.9 5.9 0 1 0 11.8 0a5.9 5.9 0 1 0-11.8 0M239.4 796.5a5.9 5.9 0 1 0 11.8 0a5.9 5.9 0 1 0-11.8 0M239.5 796.6a5.9 5.9 0 1 0 11.8 0a5.9 5.9 0 1 0-11.8 0M242.6 796.7a5.9 5.9 0 1 0 11.8 0a5.9 5.9 0 1 0-11.8 0M241.4 797.7a5.9 5.9 0 1 0 11.8 0a5.9 5.9 0 1 0-11.8 0M243.1 796.9a5.9 5.9 0 1 0 11.8 0a5.9 5.9 0 1 0-11.8 0M244.8 797.9a5.9 5.9 0 1 0 11.8 0a5.9 5.9 0 1 0-11.8 0M244.8 797.9a5.9 5.9 0 1 0 11.8 0a5.9 5.9 0 1 0-11.8 0M244.1 798.4a5.9 5.9 0 1 0 11.8 0a5.9 5.9 0 1 0-11.8 0M245.6 797.8a5.9 5.9 0 1 0 11.8 0a5.9 5.9 0 1 0-11.8 0M245.7 799.3a5.9 5.9 0 1 0 11.8 0a5.9 5.9 0 1 0-11.8 0M249 798.2a5.9 5.9 0 1 0 11.8 0a5.9 5.9 0 1 0-11.8 0M249.7 799.6a5.9 5.9 0 1 0 11.8 0a5.9 5.9 0 1 0-11.8 0M248.7 798.4a5.9 5.9 0 1 0 11.8 0a5.9 5.9 0 1 0-11.8 0M252.1 798.5a5.9 5.9 0 1 0 11.8 0a5.9 5.9 0 1 0-11.8 0M252.4 799.9a5.9 5.9 0 1 0 11.8 0a5.9 5.9 0 1 0-11.8 0M249.1 798.6a5.9 5.9 0 1 0 11.8 0a5.9 5.9 0 1 0-11.8 0M249.9 799.8a5.9 5.9 0 1 0 11.8 0a5.9 5.9 0 1 0-11.8 0M251.8 799.8a5.9 5.9 0 1 0 11.8 0a5.9 5.9 0 1 0-11.8 0M252.1 798.7a5.9 5.9 0 1 0 11.8 0a5.9 5.9 0 1 0-11.8 0M249.4 800.4a5.9 5.9 0 1 0 11.8 0a5.9 5.9 0 1 0-11.8 0M250.7 798.8a5.9 5.9 0 1 0 11.8 0a5.9 5.9 0 1 0-11.8 0M251.3 800.4a5.9 5.9 0 1 0 11.8 0a5.9 5.9 0 1 0-11.8 0M250.5 799.6a5.9 5.9 0 1 0 11.8 0a5.9 5.9 0 1 0-11.8 0M249.1 801.2a5.9 5.9 0 1 0 11.8 0a5.9 5.9 0 1 0-11.8 0M250 800.4a5.9 5.9 0 1 0 11.8 0a5.9 5.9 0 1 0-11.8 0M249.7 801.5a5.9 5.9 0 1 0 11.8 0a5.9 5.9 0 1 0-11.8 0M249.1 800.8a5.9 5.9 0 1 0 11.8 0a5.9 5.9 0 1 0-11.8 0M249.4 799.7a5.9 5.9 0 1 0 11.8 0a5.9 5.9 0 1 0-11.8 0M246.6 800.8a5.9 5.9 0 1 0 11.8 0a5.9 5.9 0 1 0-11.8 0M245.1 801.5a5.9 5.9 0 1 0 11.8 0a5.9 5.9 0 1 0-11.8 0M244.5 801.2a5.9 5.9 0 1 0 11.8 0a5.9 5.9 0 1 0-11.8 0M245.1 800.6a5.9 5.9 0 1 0 11.8 0a5.9 5.9 0 1 0-11.8 0M246.2 800.4a5.9 5.9 0 1 0 11.8 0a5.9 5.9 0 1 0-11.8 0M245.2 802.3a5.9 5.9 0 1 0 11.8 0a5.9 5.9 0 1 0-11.8 0M247.3 801.2a5.9 5.9 0 1 0 11.8 0a5.9 5.9 0 1 0-11.8 0M244.2 802.5a5.9 5.9 0 1 0 11.8 0a5.9 5.9 0 1 0-11.8 0M243.1 803.1a5.9 5.9 0 1 0 11.8 0a5.9 5.9 0 1 0-11.8 0M242.8 802.7a5.9 5.9 0 1 0 11.8 0a5.9 5.9 0 1 0-11.8 0M242 801.6a5.9 5.9 0 1 0 11.8 0a5.9 5.9 0 1 0-11.8 0M238.9 801.9a5.9 5.9 0 1 0 11.8 0a5.9 5.9 0 1 0-11.8 0M238.6 802.8a5.9 5.9 0 1 0 11.8 0a5.9 5.9 0 1 0-11.8 0M239.9 803.9a5.9 5.9 0 1 0 11.8 0a5.9 5.9 0 1 0-11.8 0M234.1 804.4a5.9 5.9 0 1 0 11.8 0a5.9 5.9 0 1 0-11.8 0M233.2 804.1a5.9 5.9 0 1 0 11.8 0a5.9 5.9 0 1 0-11.8 0M233.8 805.2a5.9 5.9 0 1 0 11.8 0a5.9 5.9 0 1 0-11.8 0M233.1 804.5a5.9 5.9 0 1 0 11.8 0a5.9 5.9 0 1 0-11.8 0M228.6 804.7a5.9 5.9 0 1 0 11.8 0a5.9 5.9 0 1 0-11.8 0M226.9 805.8a5.9 5.9 0 1 0 11.8 0a5.9 5.9 0 1 0-11.8 0M225.9 805.9a5.9 5.9 0 1 0 11.8 0a5.9 5.9 0 1 0-11.8 0M222.8 806.4a5.9 5.9 0 1 0 11.8 0a5.9 5.9 0 1 0-11.8 0M224.9 805.3a5.9 5.9 0 1 0 11.8 0a5.9 5.9 0 1 0-11.8 0M221.6 805.5a5.9 5.9 0 1 0 11.8 0a5.9 5.9 0 1 0-11.8 0M217.2 806.4a5.9 5.9 0 1 0 11.8 0a5.9 5.9 0 1 0-11.8 0M216.3 807.5a5.9 5.9 0 1 0 11.8 0a5.9 5.9 0 1 0-11.8 0M216.4 807.8a5.9 5.9 0 1 0 11.8 0a5.9 5.9 0 1 0-11.8 0M216.7 806.6a5.9 5.9 0 1 0 11.8 0a5.9 5.9 0 1 0-11.8 0M210.8 807a5.9 5.9 0 1 0 11.8 0a5.9 5.9 0 1 0-11.8 0M210.9 809.2a5.9 5.9 0 1 0 11.8 0a5.9 5.9 0 1 0-11.8 0M211 808.9a5.9 5.9 0 1 0 11.8 0a5.9 5.9 0 1 0-11.8 0M211 808.8a5.9 5.9 0 1 0 11.8 0a5.9 5.9 0 1 0-11.8 0M206.7 809.8a5.9 5.9 0 1 0 11.8 0a5.9 5.9 0 1 0-11.8 0M205.5 809.2a5.9 5.9 0 1 0 11.8 0a5.9 5.9 0 1 0-11.8 0M204.7 809.4a5.9 5.9 0 1 0 11.8 0a5.9 5.9 0 1 0-11.8 0M204 810.7a5.9 5.9 0 1 0 11.8 0a5.9 5.9 0 1 0-11.8 0M203.5 811.2a5.9 5.9 0 1 0 11.8 0a5.9 5.9 0 1 0-11.8 0M206.1 810.9a5.9 5.9 0 1 0 11.8 0a5.9 5.9 0 1 0-11.8 0M201.9 812.1a5.9 5.9 0 1 0 11.8 0a5.9 5.9 0 1 0-11.8 0M204 812.9a5.9 5.9 0 1 0 11.8 0a5.9 5.9 0 1 0-11.8 0M202.4 812.6a5.9 5.9 0 1 0 11.8 0a5.9 5.9 0 1 0-11.8 0M203 813.2a5.9 5.9 0 1 0 11.8 0a5.9 5.9 0 1 0-11.8 0M202.8 812.6a5.9 5.9 0 1 0 11.8 0a5.9 5.9 0 1 0-11.8 0M201 813.8a5.9 5.9 0 1 0 11.8 0a5.9 5.9 0 1 0-11.8 0M198.7 812.6a5.9 5.9 0 1 0 11.8 0a5.9 5.9 0 1 0-11.8 0M198 813.6a5.9 5.9 0 1 0 11.8 0a5.9 5.9 0 1 0-11.8 0M197.8 814.5a5.9 5.9 0 1 0 11.8 0a5.9 5.9 0 1 0-11.8 0M196.5 813.6a5.9 5.9 0 1 0 11.8 0a5.9 5.9 0 1 0-11.8 0M193.9 815.2a5.9 5.9 0 1 0 11.8 0a5.9 5.9 0 1 0-11.8 0M195.7 816.3a5.9 5.9 0 1 0 11.8 0a5.9 5.9 0 1 0-11.8 0M195.5 814.9a5.9 5.9 0 1 0 11.8 0a5.9 5.9 0 1 0-11.8 0M193 815.6a5.9 5.9 0 1 0 11.8 0a5.9 5.9 0 1 0-11.8 0M193.9 815.6a5.9 5.9 0 1 0 11.8 0a5.9 5.9 0 1 0-11.8 0M193.7 816a5.9 5.9 0 1 0 11.8 0a5.9 5.9 0 1 0-11.8 0M190.3 816.2a5.9 5.9 0 1 0 11.8 0a5.9 5.9 0 1 0-11.8 0M189.3 817.7a5.9 5.9 0 1 0 11.8 0a5.9 5.9 0 1 0-11.8 0M187.1 816.5a5.9 5.9 0 1 0 11.8 0a5.9 5.9 0 1 0-11.8 0M186.4 817.4a5.9 5.9 0 1 0 11.8 0a5.9 5.9 0 1 0-11.8 0M185.9 816.3a5.9 5.9 0 1 0 11.8 0a5.9 5.9 0 1 0-11.8 0M186.7 817.6a5.9 5.9 0 1 0 11.8 0a5.9 5.9 0 1 0-11.8 0M187.9 817.5a5.9 5.9 0 1 0 11.8 0a5.9 5.9 0 1 0-11.8 0M185.2 817.5a5.9 5.9 0 1 0 11.8 0a5.9 5.9 0 1 0-11.8 0M187.5 817.4a5.9 5.9 0 1 0 11.8 0a5.9 5.9 0 1 0-11.8 0M182.9 819.2a5.9 5.9 0 1 0 11.8 0a5.9 5.9 0 1 0-11.8 0M184.7 817.6a5.9 5.9 0 1 0 11.8 0a5.9 5.9 0 1 0-11.8 0M182.6 819.7a5.9 5.9 0 1 0 11.8 0a5.9 5.9 0 1 0-11.8 0M185 817.9a5.9 5.9 0 1 0 11.8 0a5.9 5.9 0 1 0-11.8 0M184.2 818.5a5.9 5.9 0 1 0 11.8 0a5.9 5.9 0 1 0-11.8 0M182.7 819.7a5.9 5.9 0 1 0 11.8 0a5.9 5.9 0 1 0-11.8 0M180.4 820.7a5.9 5.9 0 1 0 11.8 0a5.9 5.9 0 1 0-11.8 0M181.3 819a5.9 5.9 0 1 0 11.8 0a5.9 5.9 0 1 0-11.8 0M182.9 819.2a5.9 5.9 0 1 0 11.8 0a5.9 5.9 0 1 0-11.8 0M179 820.7a5.9 5.9 0 1 0 11.8 0a5.9 5.9 0 1 0-11.8 0M180.6 821.5a5.9 5.9 0 1 0 11.8 0a5.9 5.9 0 1 0-11.8 0M181.6 819.9a5.9 5.9 0 1 0 11.8 0a5.9 5.9 0 1 0-11.8 0M177.7 821a5.9 5.9 0 1 0 11.8 0a5.9 5.9 0 1 0-11.8 0M179.2 820.4a5.9 5.9 0 1 0 11.8 0a5.9 5.9 0 1 0-11.8 0M180.7 820.3a5.9 5.9 0 1 0 11.8 0a5.9 5.9 0 1 0-11.8 0M179.1 820.1a5.9 5.9 0 1 0 11.8 0a5.9 5.9 0 1 0-11.8 0M179.8 822.3a5.9 5.9 0 1 0 11.8 0a5.9 5.9 0 1 0-11.8 0M178 820.9a5.9 5.9 0 1 0 11.8 0a5.9 5.9 0 1 0-11.8 0M178 822.4a5.9 5.9 0 1 0 11.8 0a5.9 5.9 0 1 0-11.8 0M177.9 820.5a5.9 5.9 0 1 0 11.8 0a5.9 5.9 0 1 0-11.8 0M176.1 820.8a5.9 5.9 0 1 0 11.8 0a5.9 5.9 0 1 0-11.8 0M176.3 822.9a5.9 5.9 0 1 0 11.8 0a5.9 5.9 0 1 0-11.8 0M178.6 821.3a5.9 5.9 0 1 0 11.8 0a5.9 5.9 0 1 0-11.8 0M178.1 821.6a5.9 5.9 0 1 0 11.8 0a5.9 5.9 0 1 0-11.8 0M177.2 822.7a5.9 5.9 0 1 0 11.8 0a5.9 5.9 0 1 0-11.8 0M180.9 821.9a5.9 5.9 0 1 0 11.8 0a5.9 5.9 0 1 0-11.8 0M180.2 822.9a5.9 5.9 0 1 0 11.8 0a5.9 5.9 0 1 0-11.8 0M182.6 822.4a5.9 5.9 0 1 0 11.8 0a5.9 5.9 0 1 0-11.8 0M180.5 821.6a5.9 5.9 0 1 0 11.8 0a5.9 5.9 0 1 0-11.8 0M180.8 823.5a5.9 5.9 0 1 0 11.8 0a5.9 5.9 0 1 0-11.8 0M182.5 823.2a5.9 5.9 0 1 0 11.8 0a5.9 5.9 0 1 0-11.8 0M181.9 822.7a5.9 5.9 0 1 0 11.8 0a5.9 5.9 0 1 0-11.8 0M181 824.2a5.9 5.9 0 1 0 11.8 0a5.9 5.9 0 1 0-11.8 0M183.2 822.3a5.9 5.9 0 1 0 11.8 0a5.9 5.9 0 1 0-11.8 0M183.7 823.5a5.9 5.9 0 1 0 11.8 0a5.9 5.9 0 1 0-11.8 0M183.3 824.1a5.9 5.9 0 1 0 11.8 0a5.9 5.9 0 1 0-11.8 0M183.4 824.5a5.9 5.9 0 1 0 11.8 0a5.9 5.9 0 1 0-11.8 0M185.2 823.4a5.9 5.9 0 1 0 11.8 0a5.9 5.9 0 1 0-11.8 0M183.7 823.4a5.9 5.9 0 1 0 11.8 0a5.9 5.9 0 1 0-11.8 0M182.6 823.4a5.9 5.9 0 1 0 11.8 0a5.9 5.9 0 1 0-11.8 0M183.8 823.4a5.9 5.9 0 1 0 11.8 0a5.9 5.9 0 1 0-11.8 0M182.4 824.7a5.9 5.9 0 1 0 11.8 0a5.9 5.9 0 1 0-11.8 0M184.7 824.3a5.9 5.9 0 1 0 11.8 0a5.9 5.9 0 1 0-11.8 0M185 823.7a5.9 5.9 0 1 0 11.8 0a5.9 5.9 0 1 0-11.8 0M184 823.4a5.9 5.9 0 1 0 11.8 0a5.9 5.9 0 1 0-11.8 0M182.4 823.1a5.9 5.9 0 1 0 11.8 0a5.9 5.9 0 1 0-11.8 0M184.9 825.1a5.9 5.9 0 1 0 11.8 0a5.9 5.9 0 1 0-11.8 0M182.4 823.9a5.9 5.9 0 1 0 11.8 0a5.9 5.9 0 1 0-11.8 0M181.5 823.4a5.9 5.9 0 1 0 11.8 0a5.9 5.9 0 1 0-11.8 0M184.3 825.2a5.9 5.9 0 1 0 11.8 0a5.9 5.9 0 1 0-11.8 0M181.5 823.8a5.9 5.9 0 1 0 11.8 0a5.9 5.9 0 1 0-11.8 0M185 823.7a5.9 5.9 0 1 0 11.8 0a5.9 5.9 0 1 0-11.8 0M185.7 824.1a5.9 5.9 0 1 0 11.8 0a5.9 5.9 0 1 0-11.8 0M183.6 823.8a5.9 5.9 0 1 0 11.8 0a5.9 5.9 0 1 0-11.8 0M182.7 824.4a5.9 5.9 0 1 0 11.8 0a5.9 5.9 0 1 0-11.8 0M182.7 825.2a5.9 5.9 0 1 0 11.8 0a5.9 5.9 0 1 0-11.8 0M181.5 825a5.9 5.9 0 1 0 11.8 0a5.9 5.9 0 1 0-11.8 0M185.6 824.3a5.9 5.9 0 1 0 11.8 0a5.9 5.9 0 1 0-11.8 0M182.4 823.9a5.9 5.9 0 1 0 11.8 0a5.9 5.9 0 1 0-11.8 0M181.9 825.5a5.9 5.9 0 1 0 11.8 0a5.9 5.9 0 1 0-11.8 0M184.7 823.7a5.9 5.9 0 1 0 11.8 0a5.9 5.9 0 1 0-11.8 0M184 825.2a5.9 5.9 0 1 0 11.8 0a5.9 5.9 0 1 0-11.8 0M183.3 823.9a5.9 5.9 0 1 0 11.8 0a5.9 5.9 0 1 0-11.8 0M183.9 824.7a5.9 5.9 0 1 0 11.8 0a5.9 5.9 0 1 0-11.8 0M186.9 824.8a5.9 5.9 0 1 0 11.8 0a5.9 5.9 0 1 0-11.8 0M186.7 826.1a5.9 5.9 0 1 0 11.8 0a5.9 5.9 0 1 0-11.8 0M184.9 824.3a5.9 5.9 0 1 0 11.8 0a5.9 5.9 0 1 0-11.8 0M186.2 824.3a5.9 5.9 0 1 0 11.8 0a5.9 5.9 0 1 0-11.8 0M184.9 824.4a5.9 5.9 0 1 0 11.8 0a5.9 5.9 0 1 0-11.8 0M182.5 825.2a5.9 5.9 0 1 0 11.8 0a5.9 5.9 0 1 0-11.8 0M182.9 826.6a5.9 5.9 0 1 0 11.8 0a5.9 5.9 0 1 0-11.8 0M185.2 826.5a5.9 5.9 0 1 0 11.8 0a5.9 5.9 0 1 0-11.8 0M187.3 826.2a5.9 5.9 0 1 0 11.8 0a5.9 5.9 0 1 0-11.8 0M185.7 825.6a5.9 5.9 0 1 0 11.8 0a5.9 5.9 0 1 0-11.8 0M186.4 826.1a5.9 5.9 0 1 0 11.8 0a5.9 5.9 0 1 0-11.8 0M183.1 825.9a5.9 5.9 0 1 0 11.8 0a5.9 5.9 0 1 0-11.8 0M184.5 825.9a5.9 5.9 0 1 0 11.8 0a5.9 5.9 0 1 0-11.8 0M186.1 826.4a5.9 5.9 0 1 0 11.8 0a5.9 5.9 0 1 0-11.8 0M185.4 826.7a5.9 5.9 0 1 0 11.8 0a5.9 5.9 0 1 0-11.8 0M186.8 825.1a5.9 5.9 0 1 0 11.8 0a5.9 5.9 0 1 0-11.8 0M183.2 825.1a5.9 5.9 0 1 0 11.8 0a5.9 5.9 0 1 0-11.8 0M183.3 827.4a5.9 5.9 0 1 0 11.8 0a5.9 5.9 0 1 0-11.8 0M184.1 826.2a5.9 5.9 0 1 0 11.8 0a5.9 5.9 0 1 0-11.8 0M184.9 826.6a5.9 5.9 0 1 0 11.8 0a5.9 5.9 0 1 0-11.8 0M184 827.2a5.9 5.9 0 1 0 11.8 0a5.9 5.9 0 1 0-11.8 0M184.3 827.4a5.9 5.9 0 1 0 11.8 0a5.9 5.9 0 1 0-11.8 0M186.8 825.5a5.9 5.9 0 1 0 11.8 0a5.9 5.9 0 1 0-11.8 0M185.5 825.8a5.9 5.9 0 1 0 11.8 0a5.9 5.9 0 1 0-11.8 0M187.2 825.8a5.9 5.9 0 1 0 11.8 0a5.9 5.9 0 1 0-11.8 0M184.1 827.5a5.9 5.9 0 1 0 11.8 0a5.9 5.9 0 1 0-11.8 0M185.8 827.4a5.9 5.9 0 1 0 11.8 0a5.9 5.9 0 1 0-11.8 0M184.9 827.1a5.9 5.9 0 1 0 11.8 0a5.9 5.9 0 1 0-11.8 0M183.8 827.1a5.9 5.9 0 1 0 11.8 0a5.9 5.9 0 1 0-11.8 0M184.1 827.6a5.9 5.9 0 1 0 11.8 0a5.9 5.9 0 1 0-11.8 0M183.4 826.4a5.9 5.9 0 1 0 11.8 0a5.9 5.9 0 1 0-11.8 0M183.9 827.5a5.9 5.9 0 1 0 11.8 0a5.9 5.9 0 1 0-11.8 0M185.8 826.3a5.9 5.9 0 1 0 11.8 0a5.9 5.9 0 1 0-11.8 0M187.9 828.4a5.9 5.9 0 1 0 11.8 0a5.9 5.9 0 1 0-11.8 0M184.9 826.8a5.9 5.9 0 1 0 11.8 0a5.9 5.9 0 1 0-11.8 0M187.2 828.9a5.9 5.9 0 1 0 11.8 0a5.9 5.9 0 1 0-11.8 0M183.9 828.4a5.9 5.9 0 1 0 11.8 0a5.9 5.9 0 1 0-11.8 0M187.2 828.9a5.9 5.9 0 1 0 11.8 0a5.9 5.9 0 1 0-11.8 0M184.1 827a5.9 5.9 0 1 0 11.8 0a5.9 5.9 0 1 0-11.8 0M183.9 827.4a5.9 5.9 0 1 0 11.8 0a5.9 5.9 0 1 0-11.8 0M187.6 829.1a5.9 5.9 0 1 0 11.8 0a5.9 5.9 0 1 0-11.8 0M185.5 827.3a5.9 5.9 0 1 0 11.8 0a5.9 5.9 0 1 0-11.8 0M184.9 827.6a5.9 5.9 0 1 0 11.8 0a5.9 5.9 0 1 0-11.8 0M186.4 828.9a5.9 5.9 0 1 0 11.8 0a5.9 5.9 0 1 0-11.8 0M187.1 828.3a5.9 5.9 0 1 0 11.8 0a5.9 5.9 0 1 0-11.8 0M185.5 828.4a5.9 5.9 0 1 0 11.8 0a5.9 5.9 0 1 0-11.8 0M185.1 828.5a5.9 5.9 0 1 0 11.8 0a5.9 5.9 0 1 0-11.8 0M186.7 829.2a5.9 5.9 0 1 0 11.8 0a5.9 5.9 0 1 0-11.8 0M184.9 828.9a5.9 5.9 0 1 0 11.8 0a5.9 5.9 0 1 0-11.8 0M183.8 827.8a5.9 5.9 0 1 0 11.8 0a5.9 5.9 0 1 0-11.8 0M184.7 828.7a5.9 5.9 0 1 0 11.8 0a5.9 5.9 0 1 0-11.8 0M182.8 828.1a5.9 5.9 0 1 0 11.8 0a5.9 5.9 0 1 0-11.8 0M184.5 830.3a5.9 5.9 0 1 0 11.8 0a5.9 5.9 0 1 0-11.8 0M186.1 828.2a5.9 5.9 0 1 0 11.8 0a5.9 5.9 0 1 0-11.8 0M183.5 829.2a5.9 5.9 0 1 0 11.8 0a5.9 5.9 0 1 0-11.8 0M183.3 828.7a5.9 5.9 0 1 0 11.8 0a5.9 5.9 0 1 0-11.8 0M184.3 830.5a5.9 5.9 0 1 0 11.8 0a5.9 5.9 0 1 0-11.8 0M183.1 829.1a5.9 5.9 0 1 0 11.8 0a5.9 5.9 0 1 0-11.8 0M181.3 830.6a5.9 5.9 0 1 0 11.8 0a5.9 5.9 0 1 0-11.8 0M196.2 830.6a5.9 5.9 0 1 0 11.8 0a5.9 5.9 0 1 0-11.8 0M197.1 829.2a5.9 5.9 0 1 0 11.8 0a5.9 5.9 0 1 0-11.8 0M192.8 829.9a5.9 5.9 0 1 0 11.8 0a5.9 5.9 0 1 0-11.8 0M193.8 831a5.9 5.9 0 1 0 11.8 0a5.9 5.9 0 1 0-11.8 0M190 830.4a5.9 5.9 0 1 0 11.8 0a5.9 5.9 0 1 0-11.8 0M190.4 830.6a5.9 5.9 0 1 0 11.8 0a5.9 5.9 0 1 0-11.8 0M192.7 830.2a5.9 5.9 0 1 0 11.8 0a5.9 5.9 0 1 0-11.8 0M193.1 831.9a5.9 5.9 0 1 0 11.8 0a5.9 5.9 0 1 0-11.8 0M192.3 832.1a5.9 5.9 0 1 0 11.8 0a5.9 5.9 0 1 0-11.8 0M194.2 830.3a5.9 5.9 0 1 0 11.8 0a5.9 5.9 0 1 0-11.8 0M194.7 830.5a5.9 5.9 0 1 0 11.8 0a5.9 5.9 0 1 0-11.8 0M194.1 830.5a5.9 5.9 0 1 0 11.8 0a5.9 5.9 0 1 0-11.8 0M192 831.4a5.9 5.9 0 1 0 11.8 0a5.9 5.9 0 1 0-11.8 0M194.8 832a5.9 5.9 0 1 0 11.8 0a5.9 5.9 0 1 0-11.8 0M192 832.7a5.9 5.9 0 1 0 11.8 0a5.9 5.9 0 1 0-11.8 0M195.5 831.9a5.9 5.9 0 1 0 11.8 0a5.9 5.9 0 1 0-11.8 0M191.8 831.5a5.9 5.9 0 1 0 11.8 0a5.9 5.9 0 1 0-11.8 0M193.3 831.9a5.9 5.9 0 1 0 11.8 0a5.9 5.9 0 1 0-11.8 0M196.7 832.4a5.9 5.9 0 1 0 11.8 0a5.9 5.9 0 1 0-11.8 0M196.4 831.3a5.9 5.9 0 1 0 11.8 0a5.9 5.9 0 1 0-11.8 0M193.8 832.9a5.9 5.9 0 1 0 11.8 0a5.9 5.9 0 1 0-11.8 0M194.6 831.7a5.9 5.9 0 1 0 11.8 0a5.9 5.9 0 1 0-11.8 0M193.4 831.4a5.9 5.9 0 1 0 11.8 0a5.9 5.9 0 1 0-11.8 0M195.4 832.6a5.9 5.9 0 1 0 11.8 0a5.9 5.9 0 1 0-11.8 0M195.6 832.7a5.9 5.9 0 1 0 11.8 0a5.9 5.9 0 1 0-11.8 0M195.4 831.4a5.9 5.9 0 1 0 11.8 0a5.9 5.9 0 1 0-11.8 0M197.5 832.3a5.9 5.9 0 1 0 11.8 0a5.9 5.9 0 1 0-11.8 0M196.9 832.4a5.9 5.9 0 1 0 11.8 0a5.9 5.9 0 1 0-11.8 0M196.1 831.7a5.9 5.9 0 1 0 11.8 0a5.9 5.9 0 1 0-11.8 0M196.5 832.3a5.9 5.9 0 1 0 11.8 0a5.9 5.9 0 1 0-11.8 0M195.8 831.7a5.9 5.9 0 1 0 11.8 0a5.9 5.9 0 1 0-11.8 0M197.9 831.7a5.9 5.9 0 1 0 11.8 0a5.9 5.9 0 1 0-11.8 0M200.2 832.6a5.9 5.9 0 1 0 11.8 0a5.9 5.9 0 1 0-11.8 0M198.3 833.1a5.9 5.9 0 1 0 11.8 0a5.9 5.9 0 1 0-11.8 0M196.4 832.1a5.9 5.9 0 1 0 11.8 0a5.9 5.9 0 1 0-11.8 0M200.6 833.2a5.9 5.9 0 1 0 11.8 0a5.9 5.9 0 1 0-11.8 0M199.3 832.8a5.9 5.9 0 1 0 11.8 0a5.9 5.9 0 1 0-11.8 0M200.9 833.2a5.9 5.9 0 1 0 11.8 0a5.9 5.9 0 1 0-11.8 0M201.4 834a5.9 5.9 0 1 0 11.8 0a5.9 5.9 0 1 0-11.8 0M202.2 833.8a5.9 5.9 0 1 0 11.8 0a5.9 5.9 0 1 0-11.8 0M201.3 833.2a5.9 5.9 0 1 0 11.8 0a5.9 5.9 0 1 0-11.8 0M200.9 833.6a5.9 5.9 0 1 0 11.8 0a5.9 5.9 0 1 0-11.8 0M201 834.2a5.9 5.9 0 1 0 11.8 0a5.9 5.9 0 1 0-11.8 0M202.8 832.4a5.9 5.9 0 1 0 11.8 0a5.9 5.9 0 1 0-11.8 0M202.4 833.8a5.9 5.9 0 1 0 11.8 0a5.9 5.9 0 1 0-11.8 0M201.7 834.6a5.9 5.9 0 1 0 11.8 0a5.9 5.9 0 1 0-11.8 0M199 833.6a5.9 5.9 0 1 0 11.8 0a5.9 5.9 0 1 0-11.8 0M200.8 834.8a5.9 5.9 0 1 0 11.8 0a5.9 5.9 0 1 0-11.8 0M199.8 833.9a5.9 5.9 0 1 0 11.8 0a5.9 5.9 0 1 0-11.8 0M199.8 834.4a5.9 5.9 0 1 0 11.8 0a5.9 5.9 0 1 0-11.8 0M201.7 834.4a5.9 5.9 0 1 0 11.8 0a5.9 5.9 0 1 0-11.8 0M200.8 834.8a5.9 5.9 0 1 0 11.8 0a5.9 5.9 0 1 0-11.8 0M199.4 833.2a5.9 5.9 0 1 0 11.8 0a5.9 5.9 0 1 0-11.8 0M203.3 834.8a5.9 5.9 0 1 0 11.8 0a5.9 5.9 0 1 0-11.8 0M203.6 833.3a5.9 5.9 0 1 0 11.8 0a5.9 5.9 0 1 0-11.8 0M200.1 834.4a5.9 5.9 0 1 0 11.8 0a5.9 5.9 0 1 0-11.8 0M203.6 832.8a5.9 5.9 0 1 0 11.8 0a5.9 5.9 0 1 0-11.8 0M204.8 834a5.9 5.9 0 1 0 11.8 0a5.9 5.9 0 1 0-11.8 0M200.2 833.9a5.9 5.9 0 1 0 11.8 0a5.9 5.9 0 1 0-11.8 0M201.9 833a5.9 5.9 0 1 0 11.8 0a5.9 5.9 0 1 0-11.8 0M204.8 835a5.9 5.9 0 1 0 11.8 0a5.9 5.9 0 1 0-11.8 0M201 833.8a5.9 5.9 0 1 0 11.8 0a5.9 5.9 0 1 0-11.8 0M201.9 834.4a5.9 5.9 0 1 0 11.8 0a5.9 5.9 0 1 0-11.8 0M201.1 833.6a5.9 5.9 0 1 0 11.8 0a5.9 5.9 0 1 0-11.8 0M202.8 833.9a5.9 5.9 0 1 0 11.8 0a5.9 5.9 0 1 0-11.8 0M203 834.2a5.9 5.9 0 1 0 11.8 0a5.9 5.9 0 1 0-11.8 0M205.8 835.1a5.9 5.9 0 1 0 11.8 0a5.9 5.9 0 1 0-11.8 0M205.7 834.8a5.9 5.9 0 1 0 11.8 0a5.9 5.9 0 1 0-11.8 0M202.3 833.4a5.9 5.9 0 1 0 11.8 0a5.9 5.9 0 1 0-11.8 0M203.6 834.4a5.9 5.9 0 1 0 11.8 0a5.9 5.9 0 1 0-11.8 0M204.5 833.7a5.9 5.9 0 1 0 11.8 0a5.9 5.9 0 1 0-11.8 0M206.6 833.6a5.9 5.9 0 1 0 11.8 0a5.9 5.9 0 1 0-11.8 0M201.6 833.1a5.9 5.9 0 1 0 11.8 0a5.9 5.9 0 1 0-11.8 0M202.7 834.7a5.9 5.9 0 1 0 11.8 0a5.9 5.9 0 1 0-11.8 0M206.1 833a5.9 5.9 0 1 0 11.8 0a5.9 5.9 0 1 0-11.8 0M203.1 833.5a5.9 5.9 0 1 0 11.8 0a5.9 5.9 0 1 0-11.8 0M206 835.1a5.9 5.9 0 1 0 11.8 0a5.9 5.9 0 1 0-11.8 0M203.4 833.2a5.9 5.9 0 1 0 11.8 0a5.9 5.9 0 1 0-11.8 0M207.2 835.3a5.9 5.9 0 1 0 11.8 0a5.9 5.9 0 1 0-11.8 0M206 834.1a5.9 5.9 0 1 0 11.8 0a5.9 5.9 0 1 0-11.8 0M206.3 834.8a5.9 5.9 0 1 0 11.8 0a5.9 5.9 0 1 0-11.8 0M205.1 833.7a5.9 5.9 0 1 0 11.8 0a5.9 5.9 0 1 0-11.8 0M205.3 834.6a5.9 5.9 0 1 0 11.8 0a5.9 5.9 0 1 0-11.8 0M204.4 834.6a5.9 5.9 0 1 0 11.8 0a5.9 5.9 0 1 0-11.8 0M203.6 835.4a5.9 5.9 0 1 0 11.8 0a5.9 5.9 0 1 0-11.8 0M204 833.6a5.9 5.9 0 1 0 11.8 0a5.9 5.9 0 1 0-11.8 0M208 835.4a5.9 5.9 0 1 0 11.8 0a5.9 5.9 0 1 0-11.8 0M208 835.1a5.9 5.9 0 1 0 11.8 0a5.9 5.9 0 1 0-11.8 0M207.7 835.1a5.9 5.9 0 1 0 11.8 0a5.9 5.9 0 1 0-11.8 0M206.3 833.3a5.9 5.9 0 1 0 11.8 0a5.9 5.9 0 1 0-11.8 0M207.3 835.1a5.9 5.9 0 1 0 11.8 0a5.9 5.9 0 1 0-11.8 0M207.9 833.2a5.9 5.9 0 1 0 11.8 0a5.9 5.9 0 1 0-11.8 0M204 834.9a5.9 5.9 0 1 0 11.8 0a5.9 5.9 0 1 0-11.8 0M206.3 835.3a5.9 5.9 0 1 0 11.8 0a5.9 5.9 0 1 0-11.8 0M209.1 834.2a5.9 5.9 0 1 0 11.8 0a5.9 5.9 0 1 0-11.8 0M207.5 834.8a5.9 5.9 0 1 0 11.8 0a5.9 5.9 0 1 0-11.8 0M207.7 834.1a5.9 5.9 0 1 0 11.8 0a5.9 5.9 0 1 0-11.8 0M207.6 833.4a5.9 5.9 0 1 0 11.8 0a5.9 5.9 0 1 0-11.8 0M209 835a5.9 5.9 0 1 0 11.8 0a5.9 5.9 0 1 0-11.8 0M208.6 834.3a5.9 5.9 0 1 0 11.8 0a5.9 5.9 0 1 0-11.8 0M205.6 834.3a5.9 5.9 0 1 0 11.8 0a5.9 5.9 0 1 0-11.8 0M208.2 834.6a5.9 5.9 0 1 0 11.8 0a5.9 5.9 0 1 0-11.8 0M205.3 833.3a5.9 5.9 0 1 0 11.8 0a5.9 5.9 0 1 0-11.8 0M206.9 833.9a5.9 5.9 0 1 0 11.8 0a5.9 5.9 0 1 0-11.8 0M206.1 833.8a5.9 5.9 0 1 0 11.8 0a5.9 5.9 0 1 0-11.8 0M207.2 835a5.9 5.9 0 1 0 11.8 0a5.9 5.9 0 1 0-11.8 0M209.9 834.9a5.9 5.9 0 1 0 11.8 0a5.9 5.9 0 1 0-11.8 0M205.4 835.4a5.9 5.9 0 1 0 11.8 0a5.9 5.9 0 1 0-11.8 0M208.5 835.1a5.9 5.9 0 1 0 11.8 0a5.9 5.9 0 1 0-11.8 0M208.7 834.2a5.9 5.9 0 1 0 11.8 0a5.9 5.9 0 1 0-11.8 0M207.3 833.5a5.9 5.9 0 1 0 11.8 0a5.9 5.9 0 1 0-11.8 0M209.1 833.5a5.9 5.9 0 1 0 11.8 0a5.9 5.9 0 1 0-11.8 0M209.3 835.6a5.9 5.9 0 1 0 11.8 0a5.9 5.9 0 1 0-11.8 0M209.3 834.9a5.9 5.9 0 1 0 11.8 0a5.9 5.9 0 1 0-11.8 0M210.2 835.7a5.9 5.9 0 1 0 11.8 0a5.9 5.9 0 1 0-11.8 0M210.3 835.8a5.9 5.9 0 1 0 11.8 0a5.9 5.9 0 1 0-11.8 0M208.5 833.5a5.9 5.9 0 1 0 11.8 0a5.9 5.9 0 1 0-11.8 0M209.4 835a5.9 5.9 0 1 0 11.8 0a5.9 5.9 0 1 0-11.8 0M210.8 834.9a5.9 5.9 0 1 0 11.8 0a5.9 5.9 0 1 0-11.8 0M208.3 833.5a5.9 5.9 0 1 0 11.8 0a5.9 5.9 0 1 0-11.8 0M210.9 835a5.9 5.9 0 1 0 11.8 0a5.9 5.9 0 1 0-11.8 0M211.8 834.9a5.9 5.9 0 1 0 11.8 0a5.9 5.9 0 1 0-11.8 0M211.2 835.4a5.9 5.9 0 1 0 11.8 0a5.9 5.9 0 1 0-11.8 0M212 834.6a5.9 5.9 0 1 0 11.8 0a5.9 5.9 0 1 0-11.8 0M211.6 834.5a5.9 5.9 0 1 0 11.8 0a5.9 5.9 0 1 0-11.8 0M207.1 834.3a5.9 5.9 0 1 0 11.8 0a5.9 5.9 0 1 0-11.8 0M209 836a5.9 5.9 0 1 0 11.8 0a5.9 5.9 0 1 0-11.8 0M209.3 834.2a5.9 5.9 0 1 0 11.8 0a5.9 5.9 0 1 0-11.8 0M210.9 833.8a5.9 5.9 0 1 0 11.8 0a5.9 5.9 0 1 0-11.8 0M209 834.6a5.9 5.9 0 1 0 11.8 0a5.9 5.9 0 1 0-11.8 0M208.2 835.1a5.9 5.9 0 1 0 11.8 0a5.9 5.9 0 1 0-11.8 0M209.8 835.6a5.9 5.9 0 1 0 11.8 0a5.9 5.9 0 1 0-11.8 0M209.5 836a5.9 5.9 0 1 0 11.8 0a5.9 5.9 0 1 0-11.8 0M208.8 834.9a5.9 5.9 0 1 0 11.8 0a5.9 5.9 0 1 0-11.8 0M209.1 833.7a5.9 5.9 0 1 0 11.8 0a5.9 5.9 0 1 0-11.8 0M209.6 835.8a5.9 5.9 0 1 0 11.8 0a5.9 5.9 0 1 0-11.8 0M209.6 834.9a5.9 5.9 0 1 0 11.8 0a5.9 5.9 0 1 0-11.8 0M210.9 834.4a5.9 5.9 0 1 0 11.8 0a5.9 5.9 0 1 0-11.8 0M211.1 833.9a5.9 5.9 0 1 0 11.8 0a5.9 5.9 0 1 0-11.8 0M210.2 834.4a5.9 5.9 0 1 0 11.8 0a5.9 5.9 0 1 0-11.8 0M212.7 835.6a5.9 5.9 0 1 0 11.8 0a5.9 5.9 0 1 0-11.8 0M212.2 835.2a5.9 5.9 0 1 0 11.8 0a5.9 5.9 0 1 0-11.8 0M213.2 835.6a5.9 5.9 0 1 0 11.8 0a5.9 5.9 0 1 0-11.8 0M209.1 834.1a5.9 5.9 0 1 0 11.8 0a5.9 5.9 0 1 0-11.8 0M212.8 835.9a5.9 5.9 0 1 0 11.8 0a5.9 5.9 0 1 0-11.8 0M214.1 835.7a5.9 5.9 0 1 0 11.8 0a5.9 5.9 0 1 0-11.8 0M209.9 835.2a5.9 5.9 0 1 0 11.8 0a5.9 5.9 0 1 0-11.8 0M212.4 835.3a5.9 5.9 0 1 0 11.8 0a5.9 5.9 0 1 0-11.8 0M210 836.2a5.9 5.9 0 1 0 11.8 0a5.9 5.9 0 1 0-11.8 0M212 834.6a5.9 5.9 0 1 0 11.8 0a5.9 5.9 0 1 0-11.8 0M214.6 834.9a5.9 5.9 0 1 0 11.8 0a5.9 5.9 0 1 0-11.8 0M210 835.6a5.9 5.9 0 1 0 11.8 0a5.9 5.9 0 1 0-11.8 0M211 834.5a5.9 5.9 0 1 0 11.8 0a5.9 5.9 0 1 0-11.8 0M211.4 835.4a5.9 5.9 0 1 0 11.8 0a5.9 5.9 0 1 0-11.8 0M211.5 835.6a5.9 5.9 0 1 0 11.8 0a5.9 5.9 0 1 0-11.8 0M214.7 836.4a5.9 5.9 0 1 0 11.8 0a5.9 5.9 0 1 0-11.8 0M214.7 836.2a5.9 5.9 0 1 0 11.8 0a5.9 5.9 0 1 0-11.8 0M211.5 836a5.9 5.9 0 1 0 11.8 0a5.9 5.9 0 1 0-11.8 0M210.7 835.5a5.9 5.9 0 1 0 11.8 0a5.9 5.9 0 1 0-11.8 0M210.8 834.3a5.9 5.9 0 1 0 11.8 0a5.9 5.9 0 1 0-11.8 0M215.4 834.4a5.9 5.9 0 1 0 11.8 0a5.9 5.9 0 1 0-11.8 0M214.3 835.4a5.9 5.9 0 1 0 11.8 0a5.9 5.9 0 1 0-11.8 0M210.7 836a5.9 5.9 0 1 0 11.8 0a5.9 5.9 0 1 0-11.8 0M211.1 836.3a5.9 5.9 0 1 0 11.8 0a5.9 5.9 0 1 0-11.8 0M215.1 835.4a5.9 5.9 0 1 0 11.8 0a5.9 5.9 0 1 0-11.8 0M213.3 834.2a5.9 5.9 0 1 0 11.8 0a5.9 5.9 0 1 0-11.8 0M214.7 834.3a5.9 5.9 0 1 0 11.8 0a5.9 5.9 0 1 0-11.8 0M213.9 836.4a5.9 5.9 0 1 0 11.8 0a5.9 5.9 0 1 0-11.8 0M214.8 834.5a5.9 5.9 0 1 0 11.8 0a5.9 5.9 0 1 0-11.8 0M215.1 835.9a5.9 5.9 0 1 0 11.8 0a5.9 5.9 0 1 0-11.8 0M213.2 836.1a5.9 5.9 0 1 0 11.8 0a5.9 5.9 0 1 0-11.8 0M214.5 835.3a5.9 5.9 0 1 0 11.8 0a5.9 5.9 0 1 0-11.8 0M214.3 835a5.9 5.9 0 1 0 11.8 0a5.9 5.9 0 1 0-11.8 0M213.2 836.4a5.9 5.9 0 1 0 11.8 0a5.9 5.9 0 1 0-11.8 0M213.6 836.2a5.9 5.9 0 1 0 11.8 0a5.9 5.9 0 1 0-11.8 0M213.7 834.8a5.9 5.9 0 1 0 11.8 0a5.9 5.9 0 1 0-11.8 0M211.9 836.7a5.9 5.9 0 1 0 11.8 0a5.9 5.9 0 1 0-11.8 0M215.9 836.7a5.9 5.9 0 1 0 11.8 0a5.9 5.9 0 1 0-11.8 0M215.1 834.5a5.9 5.9 0 1 0 11.8 0a5.9 5.9 0 1 0-11.8 0M213 834.5a5.9 5.9 0 1 0 11.8 0a5.9 5.9 0 1 0-11.8 0M215.4 835.9a5.9 5.9 0 1 0 11.8 0a5.9 5.9 0 1 0-11.8 0M217.2 835.1a5.9 5.9 0 1 0 11.8 0a5.9 5.9 0 1 0-11.8 0M213.6 835a5.9 5.9 0 1 0 11.8 0a5.9 5.9 0 1 0-11.8 0M213.2 834.5a5.9 5.9 0 1 0 11.8 0a5.9 5.9 0 1 0-11.8 0M215 835.5a5.9 5.9 0 1 0 11.8 0a5.9 5.9 0 1 0-11.8 0M214.5 836.8a5.9 5.9 0 1 0 11.8 0a5.9 5.9 0 1 0-11.8 0M214.3 836.5a5.9 5.9 0 1 0 11.8 0a5.9 5.9 0 1 0-11.8 0M215.5 834.8a5.9 5.9 0 1 0 11.8 0a5.9 5.9 0 1 0-11.8 0M213 836a5.9 5.9 0 1 0 11.8 0a5.9 5.9 0 1 0-11.8 0M217.3 834.7a5.9 5.9 0 1 0 11.8 0a5.9 5.9 0 1 0-11.8 0M216.5 835.1a5.9 5.9 0 1 0 11.8 0a5.9 5.9 0 1 0-11.8 0M216.5 836.6a5.9 5.9 0 1 0 11.8 0a5.9 5.9 0 1 0-11.8 0M216.8 835.2a5.9 5.9 0 1 0 11.8 0a5.9 5.9 0 1 0-11.8 0M214.1 837a5.9 5.9 0 1 0 11.8 0a5.9 5.9 0 1 0-11.8 0M217.8 836.9a5.9 5.9 0 1 0 11.8 0a5.9 5.9 0 1 0-11.8 0M216.1 834.8a5.9 5.9 0 1 0 11.8 0a5.9 5.9 0 1 0-11.8 0M215.3 836.9a5.9 5.9 0 1 0 11.8 0a5.9 5.9 0 1 0-11.8 0M213.9 835.4a5.9 5.9 0 1 0 11.8 0a5.9 5.9 0 1 0-11.8 0M213.9 836.8a5.9 5.9 0 1 0 11.8 0a5.9 5.9 0 1 0-11.8 0M215.5 834.9a5.9 5.9 0 1 0 11.8 0a5.9 5.9 0 1 0-11.8 0M215.6 835.2a5.9 5.9 0 1 0 11.8 0a5.9 5.9 0 1 0-11.8 0M216 836.2a5.9 5.9 0 1 0 11.8 0a5.9 5.9 0 1 0-11.8 0M217.1 835a5.9 5.9 0 1 0 11.8 0a5.9 5.9 0 1 0-11.8 0M216.6 834.9a5.9 5.9 0 1 0 11.8 0a5.9 5.9 0 1 0-11.8 0M216.3 836.7a5.9 5.9 0 1 0 11.8 0a5.9 5.9 0 1 0-11.8 0M215.5 836.8a5.9 5.9 0 1 0 11.8 0a5.9 5.9 0 1 0-11.8 0M216.2 835.8a5.9 5.9 0 1 0 11.8 0a5.9 5.9 0 1 0-11.8 0M219.6 834.9a5.9 5.9 0 1 0 11.8 0a5.9 5.9 0 1 0-11.8 0M219.2 836.2a5.9 5.9 0 1 0 11.8 0a5.9 5.9 0 1 0-11.8 0M220.8 837.2a5.9 5.9 0 1 0 11.8 0a5.9 5.9 0 1 0-11.8 0M221.5 835.5a5.9 5.9 0 1 0 11.8 0a5.9 5.9 0 1 0-11.8 0M219.9 836.1a5.9 5.9 0 1 0 11.8 0a5.9 5.9 0 1 0-11.8 0M221.1 836.3a5.9 5.9 0 1 0 11.8 0a5.9 5.9 0 1 0-11.8 0M221 836.7a5.9 5.9 0 1 0 11.8 0a5.9 5.9 0 1 0-11.8 0M223.3 835.1a5.9 5.9 0 1 0 11.8 0a5.9 5.9 0 1 0-11.8 0M222.7 837.3a5.9 5.9 0 1 0 11.8 0a5.9 5.9 0 1 0-11.8 0M227 837.2a5.9 5.9 0 1 0 11.8 0a5.9 5.9 0 1 0-11.8 0M225.6 837.5a5.9 5.9 0 1 0 11.8 0a5.9 5.9 0 1 0-11.8 0M225.3 836.9a5.9 5.9 0 1 0 11.8 0a5.9 5.9 0 1 0-11.8 0M229.6 835.7a5.9 5.9 0 1 0 11.8 0a5.9 5.9 0 1 0-11.8 0M225.5 835.5a5.9 5.9 0 1 0 11.8 0a5.9 5.9 0 1 0-11.8 0M226.2 837.1a5.9 5.9 0 1 0 11.8 0a5.9 5.9 0 1 0-11.8 0M229 836.4a5.9 5.9 0 1 0 11.8 0a5.9 5.9 0 1 0-11.8 0M227 836.8a5.9 5.9 0 1 0 11.8 0a5.9 5.9 0 1 0-11.8 0M227.4 835.6a5.9 5.9 0 1 0 11.8 0a5.9 5.9 0 1 0-11.8 0M229.9 836.9a5.9 5.9 0 1 0 11.8 0a5.9 5.9 0 1 0-11.8 0M231.2 837.3a5.9 5.9 0 1 0 11.8 0a5.9 5.9 0 1 0-11.8 0M228.4 836.1a5.9 5.9 0 1 0 11.8 0a5.9 5.9 0 1 0-11.8 0M228.7 836.6a5.9 5.9 0 1 0 11.8 0a5.9 5.9 0 1 0-11.8 0M228.5 837.5a5.9 5.9 0 1 0 11.8 0a5.9 5.9 0 1 0-11.8 0M232 837.4a5.9 5.9 0 1 0 11.8 0a5.9 5.9 0 1 0-11.8 0M231.3 837.7a5.9 5.9 0 1 0 11.8 0a5.9 5.9 0 1 0-11.8 0M233.4 837.5a5.9 5.9 0 1 0 11.8 0a5.9 5.9 0 1 0-11.8 0M233.5 836a5.9 5.9 0 1 0 11.8 0a5.9 5.9 0 1 0-11.8 0M231.6 835.7a5.9 5.9 0 1 0 11.8 0a5.9 5.9 0 1 0-11.8 0M233.8 836.7a5.9 5.9 0 1 0 11.8 0a5.9 5.9 0 1 0-11.8 0M235 836.3a5.9 5.9 0 1 0 11.8 0a5.9 5.9 0 1 0-11.8 0M232.3 837.7a5.9 5.9 0 1 0 11.8 0a5.9 5.9 0 1 0-11.8 0M235.1 837.5a5.9 5.9 0 1 0 11.8 0a5.9 5.9 0 1 0-11.8 0M234.8 837.9a5.9 5.9 0 1 0 11.8 0a5.9 5.9 0 1 0-11.8 0M231.9 837.2a5.9 5.9 0 1 0 11.8 0a5.9 5.9 0 1 0-11.8 0M230.9 837.3a5.9 5.9 0 1 0 11.8 0a5.9 5.9 0 1 0-11.8 0M235.4 836.9a5.9 5.9 0 1 0 11.8 0a5.9 5.9 0 1 0-11.8 0M231.5 837.1a5.9 5.9 0 1 0 11.8 0a5.9 5.9 0 1 0-11.8 0M231.2 836.8a5.9 5.9 0 1 0 11.8 0a5.9 5.9 0 1 0-11.8 0M231.4 836.7a5.9 5.9 0 1 0 11.8 0a5.9 5.9 0 1 0-11.8 0M235.1 837.5a5.9 5.9 0 1 0 11.8 0a5.9 5.9 0 1 0-11.8 0M235.4 836.8a5.9 5.9 0 1 0 11.8 0a5.9 5.9 0 1 0-11.8 0M233.5 835.9a5.9 5.9 0 1 0 11.8 0a5.9 5.9 0 1 0-11.8 0M235.3 837.1a5.9 5.9 0 1 0 11.8 0a5.9 5.9 0 1 0-11.8 0M233.5 836.1a5.9 5.9 0 1 0 11.8 0a5.9 5.9 0 1 0-11.8 0M233.9 835.9a5.9 5.9 0 1 0 11.8 0a5.9 5.9 0 1 0-11.8 0M232.3 835.9a5.9 5.9 0 1 0 11.8 0a5.9 5.9 0 1 0-11.8 0M233.9 836.1a5.9 5.9 0 1 0 11.8 0a5.9 5.9 0 1 0-11.8 0M236 837.2a5.9 5.9 0 1 0 11.8 0a5.9 5.9 0 1 0-11.8 0M236.3 837.1a5.9 5.9 0 1 0 11.8 0a5.9 5.9 0 1 0-11.8 0M232.9 836.4a5.9 5.9 0 1 0 11.8 0a5.9 5.9 0 1 0-11.8 0M236.3 837.2a5.9 5.9 0 1 0 11.8 0a5.9 5.9 0 1 0-11.8 0M235.5 837.3a5.9 5.9 0 1 0 11.8 0a5.9 5.9 0 1 0-11.8 0M232.6 836.2a5.9 5.9 0 1 0 11.8 0a5.9 5.9 0 1 0-11.8 0M234.6 837.8a5.9 5.9 0 1 0 11.8 0a5.9 5.9 0 1 0-11.8 0M237.2 837.2a5.9 5.9 0 1 0 11.8 0a5.9 5.9 0 1 0-11.8 0M234 835.9a5.9 5.9 0 1 0 11.8 0a5.9 5.9 0 1 0-11.8 0M235.5 836.8a5.9 5.9 0 1 0 11.8 0a5.9 5.9 0 1 0-11.8 0M237.5 836.3a5.9 5.9 0 1 0 11.8 0a5.9 5.9 0 1 0-11.8 0M234 835.8a5.9 5.9 0 1 0 11.8 0a5.9 5.9 0 1 0-11.8 0M233.2 837.7a5.9 5.9 0 1 0 11.8 0a5.9 5.9 0 1 0-11.8 0M237.5 836.2a5.9 5.9 0 1 0 11.8 0a5.9 5.9 0 1 0-11.8 0M233.4 837.2a5.9 5.9 0 1 0 11.8 0a5.9 5.9 0 1 0-11.8 0M234.6 837.3a5.9 5.9 0 1 0 11.8 0a5.9 5.9 0 1 0-11.8 0M237.9 837.6a5.9 5.9 0 1 0 11.8 0a5.9 5.9 0 1 0-11.8 0M234.9 837.3a5.9 5.9 0 1 0 11.8 0a5.9 5.9 0 1 0-11.8 0M235.1 837.6a5.9 5.9 0 1 0 11.8 0a5.9 5.9 0 1 0-11.8 0M235 837.9a5.9 5.9 0 1 0 11.8 0a5.9 5.9 0 1 0-11.8 0M237.2 838a5.9 5.9 0 1 0 11.8 0a5.9 5.9 0 1 0-11.8 0M235.7 838.1a5.9 5.9 0 1 0 11.8 0a5.9 5.9 0 1 0-11.8 0M236.9 836.4a5.9 5.9 0 1 0 11.8 0a5.9 5.9 0 1 0-11.8 0M237.3 836.6a5.9 5.9 0 1 0 11.8 0a5.9 5.9 0 1 0-11.8 0M234.7 835.9a5.9 5.9 0 1 0 11.8 0a5.9 5.9 0 1 0-11.8 0M237.2 836.4a5.9 5.9 0 1 0 11.8 0a5.9 5.9 0 1 0-11.8 0M234.7 837.7a5.9 5.9 0 1 0 11.8 0a5.9 5.9 0 1 0-11.8 0M234.9 837.7a5.9 5.9 0 1 0 11.8 0a5.9 5.9 0 1 0-11.8 0M235.6 836.7a5.9 5.9 0 1 0 11.8 0a5.9 5.9 0 1 0-11.8 0M238.9 837.8a5.9 5.9 0 1 0 11.8 0a5.9 5.9 0 1 0-11.8 0M238.4 838.2a5.9 5.9 0 1 0 11.8 0a5.9 5.9 0 1 0-11.8 0M237.3 838.1a5.9 5.9 0 1 0 11.8 0a5.9 5.9 0 1 0-11.8 0M237.4 837.3a5.9 5.9 0 1 0 11.8 0a5.9 5.9 0 1 0-11.8 0M236 836.8a5.9 5.9 0 1 0 11.8 0a5.9 5.9 0 1 0-11.8 0M237.2 836.5a5.9 5.9 0 1 0 11.8 0a5.9 5.9 0 1 0-11.8 0M237.6 838a5.9 5.9 0 1 0 11.8 0a5.9 5.9 0 1 0-11.8 0M238 836.4a5.9 5.9 0 1 0 11.8 0a5.9 5.9 0 1 0-11.8 0M234.6 836.8a5.9 5.9 0 1 0 11.8 0a5.9 5.9 0 1 0-11.8 0M236.6 837.9a5.9 5.9 0 1 0 11.8 0a5.9 5.9 0 1 0-11.8 0M237.2 837.1a5.9 5.9 0 1 0 11.8 0a5.9 5.9 0 1 0-11.8 0M237.5 837.2a5.9 5.9 0 1 0 11.8 0a5.9 5.9 0 1 0-11.8 0M237.9 837.2a5.9 5.9 0 1 0 11.8 0a5.9 5.9 0 1 0-11.8 0M237.3 836.5a5.9 5.9 0 1 0 11.8 0a5.9 5.9 0 1 0-11.8 0M235.2 837a5.9 5.9 0 1 0 11.8 0a5.9 5.9 0 1 0-11.8 0M239 838.2a5.9 5.9 0 1 0 11.8 0a5.9 5.9 0 1 0-11.8 0M236.1 837.3a5.9 5.9 0 1 0 11.8 0a5.9 5.9 0 1 0-11.8 0M237.2 837a5.9 5.9 0 1 0 11.8 0a5.9 5.9 0 1 0-11.8 0M235.6 837.8a5.9 5.9 0 1 0 11.8 0a5.9 5.9 0 1 0-11.8 0M235.1 836.5a5.9 5.9 0 1 0 11.8 0a5.9 5.9 0 1 0-11.8 0M236.1 836.4a5.9 5.9 0 1 0 11.8 0a5.9 5.9 0 1 0-11.8 0M235.7 836.1a5.9 5.9 0 1 0 11.8 0a5.9 5.9 0 1 0-11.8 0M237.4 836.4a5.9 5.9 0 1 0 11.8 0a5.9 5.9 0 1 0-11.8 0M238 837.4a5.9 5.9 0 1 0 11.8 0a5.9 5.9 0 1 0-11.8 0M237.9 837.1a5.9 5.9 0 1 0 11.8 0a5.9 5.9 0 1 0-11.8 0M237.9 836.7a5.9 5.9 0 1 0 11.8 0a5.9 5.9 0 1 0-11.8 0M237.2 837.6a5.9 5.9 0 1 0 11.8 0a5.9 5.9 0 1 0-11.8 0M236 837.7a5.9 5.9 0 1 0 11.8 0a5.9 5.9 0 1 0-11.8 0M237.8 838.3a5.9 5.9 0 1 0 11.8 0a5.9 5.9 0 1 0-11.8 0M238 837.3a5.9 5.9 0 1 0 11.8 0a5.9 5.9 0 1 0-11.8 0M238.7 836.7a5.9 5.9 0 1 0 11.8 0a5.9 5.9 0 1 0-11.8 0M236.8 837a5.9 5.9 0 1 0 11.8 0a5.9 5.9 0 1 0-11.8 0M238.6 837.7a5.9 5.9 0 1 0 11.8 0a5.9 5.9 0 1 0-11.8 0M235.9 838.3a5.9 5.9 0 1 0 11.8 0a5.9 5.9 0 1 0-11.8 0M239.9 837.2a5.9 5.9 0 1 0 11.8 0a5.9 5.9 0 1 0-11.8 0M240 837.5a5.9 5.9 0 1 0 11.8 0a5.9 5.9 0 1 0-11.8 0M237 836.2a5.9 5.9 0 1 0 11.8 0a5.9 5.9 0 1 0-11.8 0M235.2 837.4a5.9 5.9 0 1 0 11.8 0a5.9 5.9 0 1 0-11.8 0M238.7 837.5a5.9 5.9 0 1 0 11.8 0a5.9 5.9 0 1 0-11.8 0M239 837a5.9 5.9 0 1 0 11.8 0a5.9 5.9 0 1 0-11.8 0M238.8 837.4a5.9 5.9 0 1 0 11.8 0a5.9 5.9 0 1 0-11.8 0M238.3 837.3a5.9 5.9 0 1 0 11.8 0a5.9 5.9 0 1 0-11.8 0M238.5 837.3a5.9 5.9 0 1 0 11.8 0a5.9 5.9 0 1 0-11.8 0M235.7 837.6a5.9 5.9 0 1 0 11.8 0a5.9 5.9 0 1 0-11.8 0M238.7 837a5.9 5.9 0 1 0 11.8 0a5.9 5.9 0 1 0-11.8 0M240.1 837.1a5.9 5.9 0 1 0 11.8 0a5.9 5.9 0 1 0-11.8 0M236.2 837.2a5.9 5.9 0 1 0 11.8 0a5.9 5.9 0 1 0-11.8 0M237.1 836.4a5.9 5.9 0 1 0 11.8 0a5.9 5.9 0 1 0-11.8 0M239.7 836.4a5.9 5.9 0 1 0 11.8 0a5.9 5.9 0 1 0-11.8 0M238.8 836.4a5.9 5.9 0 1 0 11.8 0a5.9 5.9 0 1 0-11.8 0M237.9 838.4a5.9 5.9 0 1 0 11.8 0a5.9 5.9 0 1 0-11.8 0M235.8 838a5.9 5.9 0 1 0 11.8 0a5.9 5.9 0 1 0-11.8 0M235.4 838.3a5.9 5.9 0 1 0 11.8 0a5.9 5.9 0 1 0-11.8 0M239.8 837.1a5.9 5.9 0 1 0 11.8 0a5.9 5.9 0 1 0-11.8 0M238.5 837.1a5.9 5.9 0 1 0 11.8 0a5.9 5.9 0 1 0-11.8 0M236.1 836.8a5.9 5.9 0 1 0 11.8 0a5.9 5.9 0 1 0-11.8 0M237.5 838.1a5.9 5.9 0 1 0 11.8 0a5.9 5.9 0 1 0-11.8 0M235.9 837.3a5.9 5.9 0 1 0 11.8 0a5.9 5.9 0 1 0-11.8 0M237.7 837.3a5.9 5.9 0 1 0 11.8 0a5.9 5.9 0 1 0-11.8 0M239.2 837.4a5.9 5.9 0 1 0 11.8 0a5.9 5.9 0 1 0-11.8 0M236.9 838.3a5.9 5.9 0 1 0 11.8 0a5.9 5.9 0 1 0-11.8 0M238.3 836.6a5.9 5.9 0 1 0 11.8 0a5.9 5.9 0 1 0-11.8 0M238 838.1a5.9 5.9 0 1 0 11.8 0a5.9 5.9 0 1 0-11.8 0M235.6 837.5a5.9 5.9 0 1 0 11.8 0a5.9 5.9 0 1 0-11.8 0M237.7 836.7a5.9 5.9 0 1 0 11.8 0a5.9 5.9 0 1 0-11.8 0M236.1 836.5a5.9 5.9 0 1 0 11.8 0a5.9 5.9 0 1 0-11.8 0M237.5 837a5.9 5.9 0 1 0 11.8 0a5.9 5.9 0 1 0-11.8 0M238.3 836.6a5.9 5.9 0 1 0 11.8 0a5.9 5.9 0 1 0-11.8 0M238.4 837.1a5.9 5.9 0 1 0 11.8 0a5.9 5.9 0 1 0-11.8 0M239.3 837.9a5.9 5.9 0 1 0 11.8 0a5.9 5.9 0 1 0-11.8 0M236.5 838.3a5.9 5.9 0 1 0 11.8 0a5.9 5.9 0 1 0-11.8 0M238 836.8a5.9 5.9 0 1 0 11.8 0a5.9 5.9 0 1 0-11.8 0M236.6 837.7a5.9 5.9 0 1 0 11.8 0a5.9 5.9 0 1 0-11.8 0M237.5 837.6a5.9 5.9 0 1 0 11.8 0a5.9 5.9 0 1 0-11.8 0M236.6 838a5.9 5.9 0 1 0 11.8 0a5.9 5.9 0 1 0-11.8 0M236.6 838.1a5.9 5.9 0 1 0 11.8 0a5.9 5.9 0 1 0-11.8 0M237.5 836.9a5.9 5.9 0 1 0 11.8 0a5.9 5.9 0 1 0-11.8 0M238.2 837.2a5.9 5.9 0 1 0 11.8 0a5.9 5.9 0 1 0-11.8 0M238 837.3a5.9 5.9 0 1 0 11.8 0a5.9 5.9 0 1 0-11.8 0M240 837.8a5.9 5.9 0 1 0 11.8 0a5.9 5.9 0 1 0-11.8 0M235.8 838.3a5.9 5.9 0 1 0 11.8 0a5.9 5.9 0 1 0-11.8 0M235.4 836.1a5.9 5.9 0 1 0 11.8 0a5.9 5.9 0 1 0-11.8 0M239.4 836.6a5.9 5.9 0 1 0 11.8 0a5.9 5.9 0 1 0-11.8 0M235.5 836.4a5.9 5.9 0 1 0 11.8 0a5.9 5.9 0 1 0-11.8 0M237.8 838a5.9 5.9 0 1 0 11.8 0a5.9 5.9 0 1 0-11.8 0M235.4 836.4a5.9 5.9 0 1 0 11.8 0a5.9 5.9 0 1 0-11.8 0M235.4 836.1a5.9 5.9 0 1 0 11.8 0a5.9 5.9 0 1 0-11.8 0M236.9 837.1a5.9 5.9 0 1 0 11.8 0a5.9 5.9 0 1 0-11.8 0M240.1 837.5a5.9 5.9 0 1 0 11.8 0a5.9 5.9 0 1 0-11.8 0M239.6 837.4a5.9 5.9 0 1 0 11.8 0a5.9 5.9 0 1 0-11.8 0M239.8 837.6a5.9 5.9 0 1 0 11.8 0a5.9 5.9 0 1 0-11.8 0M236.5 836.9a5.9 5.9 0 1 0 11.8 0a5.9 5.9 0 1 0-11.8 0M237.7 836.2a5.9 5.9 0 1 0 11.8 0a5.9 5.9 0 1 0-11.8 0M239.9 837.1a5.9 5.9 0 1 0 11.8 0a5.9 5.9 0 1 0-11.8 0M236.3 837.1a5.9 5.9 0 1 0 11.8 0a5.9 5.9 0 1 0-11.8 0M239.3 836.6a5.9 5.9 0 1 0 11.8 0a5.9 5.9 0 1 0-11.8 0M238.2 836.2a5.9 5.9 0 1 0 11.8 0a5.9 5.9 0 1 0-11.8 0M236.5 836.4a5.9 5.9 0 1 0 11.8 0a5.9 5.9 0 1 0-11.8 0M237.8 837.6a5.9 5.9 0 1 0 11.8 0a5.9 5.9 0 1 0-11.8 0M236.4 837.6a5.9 5.9 0 1 0 11.8 0a5.9 5.9 0 1 0-11.8 0M238.2 837.8a5.9 5.9 0 1 0 11.8 0a5.9 5.9 0 1 0-11.8 0M240.3 836.8a5.9 5.9 0 1 0 11.8 0a5.9 5.9 0 1 0-11.8 0M240.3 837.1a5.9 5.9 0 1 0 11.8 0a5.9 5.9 0 1 0-11.8 0M237.8 836.4a5.9 5.9 0 1 0 11.8 0a5.9 5.9 0 1 0-11.8 0M235.7 837.5a5.9 5.9 0 1 0 11.8 0a5.9 5.9 0 1 0-11.8 0M235.8 836a5.9 5.9 0 1 0 11.8 0a5.9 5.9 0 1 0-11.8 0M235.7 837.3a5.9 5.9 0 1 0 11.8 0a5.9 5.9 0 1 0-11.8 0M236.3 836.6a5.9 5.9 0 1 0 11.8 0a5.9 5.9 0 1 0-11.8 0M239.1 837a5.9 5.9 0 1 0 11.8 0a5.9 5.9 0 1 0-11.8 0M236 837.6a5.9 5.9 0 1 0 11.8 0a5.9 5.9 0 1 0-11.8 0M240.3 837.4a5.9 5.9 0 1 0 11.8 0a5.9 5.9 0 1 0-11.8 0M237.5 837.2a5.9 5.9 0 1 0 11.8 0a5.9 5.9 0 1 0-11.8 0M238.8 838a5.9 5.9 0 1 0 11.8 0a5.9 5.9 0 1 0-11.8 0M239.2 836.5a5.9 5.9 0 1 0 11.8 0a5.9 5.9 0 1 0-11.8 0M239.2 836.2a5.9 5.9 0 1 0 11.8 0a5.9 5.9 0 1 0-11.8 0M236 837.2a5.9 5.9 0 1 0 11.8 0a5.9 5.9 0 1 0-11.8 0M236.2 837.3a5.9 5.9 0 1 0 11.8 0a5.9 5.9 0 1 0-11.8 0M236.7 838.2a5.9 5.9 0 1 0 11.8 0a5.9 5.9 0 1 0-11.8 0M237.5 837.9a5.9 5.9 0 1 0 11.8 0a5.9 5.9 0 1 0-11.8 0M240 837a5.9 5.9 0 1 0 11.8 0a5.9 5.9 0 1 0-11.8 0M239.1 837.1a5.9 5.9 0 1 0 11.8 0a5.9 5.9 0 1 0-11.8 0M237.3 836.2a5.9 5.9 0 1 0 11.8 0a5.9 5.9 0 1 0-11.8 0M238.6 838.2a5.9 5.9 0 1 0 11.8 0a5.9 5.9 0 1 0-11.8 0M238.7 836.7a5.9 5.9 0 1 0 11.8 0a5.9 5.9 0 1 0-11.8 0M237.9 836.8a5.9 5.9 0 1 0 11.8 0a5.9 5.9 0 1 0-11.8 0M237.3 837.8a5.9 5.9 0 1 0 11.8 0a5.9 5.9 0 1 0-11.8 0M235.3 837.1a5.9 5.9 0 1 0 11.8 0a5.9 5.9 0 1 0-11.8 0M237.9 836.3a5.9 5.9 0 1 0 11.8 0a5.9 5.9 0 1 0-11.8 0M239 836.6a5.9 5.9 0 1 0 11.8 0a5.9 5.9 0 1 0-11.8 0M237.3 836.5a5.9 5.9 0 1 0 11.8 0a5.9 5.9 0 1 0-11.8 0M238.3 837a5.9 5.9 0 1 0 11.8 0a5.9 5.9 0 1 0-11.8 0M238.7 837a5.9 5.9 0 1 0 11.8 0a5.9 5.9 0 1 0-11.8 0M239.2 837.3a5.9 5.9 0 1 0 11.8 0a5.9 5.9 0 1 0-11.8 0M235.8 837.1a5.9 5.9 0 1 0 11.8 0a5.9 5.9 0 1 0-11.8 0M236.6 836.7a5.9 5.9 0 1 0 11.8 0a5.9 5.9 0 1 0-11.8 0M240 837.1a5.9 5.9 0 1 0 11.8 0a5.9 5.9 0 1 0-11.8 0M239 836.3a5.9 5.9 0 1 0 11.8 0a5.9 5.9 0 1 0-11.8 0M238.4 836.2a5.9 5.9 0 1 0 11.8 0a5.9 5.9 0 1 0-11.8 0M236.4 836.2a5.9 5.9 0 1 0 11.8 0a5.9 5.9 0 1 0-11.8 0M235.4 838.1a5.9 5.9 0 1 0 11.8 0a5.9 5.9 0 1 0-11.8 0M240.1 836.8a5.9 5.9 0 1 0 11.8 0a5.9 5.9 0 1 0-11.8 0M235.4 837.7a5.9 5.9 0 1 0 11.8 0a5.9 5.9 0 1 0-11.8 0M238.6 836.1a5.9 5.9 0 1 0 11.8 0a5.9 5.9 0 1 0-11.8 0M239.1 836.1a5.9 5.9 0 1 0 11.8 0a5.9 5.9 0 1 0-11.8 0M236.5 837.8a5.9 5.9 0 1 0 11.8 0a5.9 5.9 0 1 0-11.8 0M239.1 836.5a5.9 5.9 0 1 0 11.8 0a5.9 5.9 0 1 0-11.8 0M237.8 837.9a5.9 5.9 0 1 0 11.8 0a5.9 5.9 0 1 0-11.8 0M238.3 837.2a5.9 5.9 0 1 0 11.8 0a5.9 5.9 0 1 0-11.8 0M236.2 836.1a5.9 5.9 0 1 0 11.8 0a5.9 5.9 0 1 0-11.8 0M236.2 837.2a5.9 5.9 0 1 0 11.8 0a5.9 5.9 0 1 0-11.8 0M238.3 837a5.9 5.9 0 1 0 11.8 0a5.9 5.9 0 1 0-11.8 0M238.5 837.3a5.9 5.9 0 1 0 11.8 0a5.9 5.9 0 1 0-11.8 0M238.5 836.9a5.9 5.9 0 1 0 11.8 0a5.9 5.9 0 1 0-11.8 0M239.5 837.2a5.9 5.9 0 1 0 11.8 0a5.9 5.9 0 1 0-11.8 0M239.7 838.3a5.9 5.9 0 1 0 11.8 0a5.9 5.9 0 1 0-11.8 0M239.4 837.8a5.9 5.9 0 1 0 11.8 0a5.9 5.9 0 1 0-11.8 0M238.8 837.3a5.9 5.9 0 1 0 11.8 0a5.9 5.9 0 1 0-11.8 0M236.5 836.2a5.9 5.9 0 1 0 11.8 0a5.9 5.9 0 1 0-11.8 0M238.6 836.5a5.9 5.9 0 1 0 11.8 0a5.9 5.9 0 1 0-11.8 0M238.4 837.3a5.9 5.9 0 1 0 11.8 0a5.9 5.9 0 1 0-11.8 0M238.3 837a5.9 5.9 0 1 0 11.8 0a5.9 5.9 0 1 0-11.8 0M236.5 836.7a5.9 5.9 0 1 0 11.8 0a5.9 5.9 0 1 0-11.8 0M238.8 838.1a5.9 5.9 0 1 0 11.8 0a5.9 5.9 0 1 0-11.8 0M236.9 836.7a5.9 5.9 0 1 0 11.8 0a5.9 5.9 0 1 0-11.8 0M237.5 837a5.9 5.9 0 1 0 11.8 0a5.9 5.9 0 1 0-11.8 0M238.5 837.7a5.9 5.9 0 1 0 11.8 0a5.9 5.9 0 1 0-11.8 0M239.1 837.9a5.9 5.9 0 1 0 11.8 0a5.9 5.9 0 1 0-11.8 0M238.9 838.3a5.9 5.9 0 1 0 11.8 0a5.9 5.9 0 1 0-11.8 0M237.5 837a5.9 5.9 0 1 0 11.8 0a5.9 5.9 0 1 0-11.8 0M238.6 836.7a5.9 5.9 0 1 0 11.8 0a5.9 5.9 0 1 0-11.8 0M239.5 836.9a5.9 5.9 0 1 0 11.8 0a5.9 5.9 0 1 0-11.8 0M238.1 837.2a5.9 5.9 0 1 0 11.8 0a5.9 5.9 0 1 0-11.8 0M237.1 836a5.9 5.9 0 1 0 11.8 0a5.9 5.9 0 1 0-11.8 0M236.7 837.1a5.9 5.9 0 1 0 11.8 0a5.9 5.9 0 1 0-11.8 0M240.1 836.3a5.9 5.9 0 1 0 11.8 0a5.9 5.9 0 1 0-11.8 0M239.8 838.3a5.9 5.9 0 1 0 11.8 0a5.9 5.9 0 1 0-11.8 0M239.3 836.6a5.9 5.9 0 1 0 11.8 0a5.9 5.9 0 1 0-11.8 0M235.4 838a5.9 5.9 0 1 0 11.8 0a5.9 5.9 0 1 0-11.8 0M235.6 836.6a5.9 5.9 0 1 0 11.8 0a5.9 5.9 0 1 0-11.8 0M240 837.5a5.9 5.9 0 1 0 11.8 0a5.9 5.9 0 1 0-11.8 0M239.4 837.9a5.9 5.9 0 1 0 11.8 0a5.9 5.9 0 1 0-11.8 0M236.2 837.1a5.9 5.9 0 1 0 11.8 0a5.9 5.9 0 1 0-11.8 0M235.7 836.8a5.9 5.9 0 1 0 11.8 0a5.9 5.9 0 1 0-11.8 0M237.8 837.9a5.9 5.9 0 1 0 11.8 0a5.9 5.9 0 1 0-11.8 0M236.7 837.5a5.9 5.9 0 1 0 11.8 0a5.9 5.9 0 1 0-11.8 0M236 836.5a5.9 5.9 0 1 0 11.8 0a5.9 5.9 0 1 0-11.8 0M235.6 837.3a5.9 5.9 0 1 0 11.8 0a5.9 5.9 0 1 0-11.8 0M238.2 837.6a5.9 5.9 0 1 0 11.8 0a5.9 5.9 0 1 0-11.8 0M237.4 838.2a5.9 5.9 0 1 0 11.8 0a5.9 5.9 0 1 0-11.8 0M238.9 837.3a5.9 5.9 0 1 0 11.8 0a5.9 5.9 0 1 0-11.8 0M239.7 836.4a5.9 5.9 0 1 0 11.8 0a5.9 5.9 0 1 0-11.8 0M236.7 837.2a5.9 5.9 0 1 0 11.8 0a5.9 5.9 0 1 0-11.8 0M238.3 838.2a5.9 5.9 0 1 0 11.8 0a5.9 5.9 0 1 0-11.8 0M238.7 836a5.9 5.9 0 1 0 11.8 0a5.9 5.9 0 1 0-11.8 0M240.1 837a5.9 5.9 0 1 0 11.8 0a5.9 5.9 0 1 0-11.8 0M236.3 837.7a5.9 5.9 0 1 0 11.8 0a5.9 5.9 0 1 0-11.8 0M238.5 838a5.9 5.9 0 1 0 11.8 0a5.9 5.9 0 1 0-11.8 0M238.1 836.5a5.9 5.9 0 1 0 11.8 0a5.9 5.9 0 1 0-11.8 0M237.6 837a5.9 5.9 0 1 0 11.8 0a5.9 5.9 0 1 0-11.8 0M237 837.3a5.9 5.9 0 1 0 11.8 0a5.9 5.9 0 1 0-11.8 0M236 836.5a5.9 5.9 0 1 0 11.8 0a5.9 5.9 0 1 0-11.8 0M235.8 836a5.9 5.9 0 1 0 11.8 0a5.9 5.9 0 1 0-11.8 0M237.9 837.7a5.9 5.9 0 1 0 11.8 0a5.9 5.9 0 1 0-11.8 0M237.3 838.1a5.9 5.9 0 1 0 11.8 0a5.9 5.9 0 1 0-11.8 0M238.4 837.5a5.9 5.9 0 1 0 11.8 0a5.9 5.9 0 1 0-11.8 0M236.7 838.1a5.9 5.9 0 1 0 11.8 0a5.9 5.9 0 1 0-11.8 0M237 837.9a5.9 5.9 0 1 0 11.8 0a5.9 5.9 0 1 0-11.8 0M236.5 838.2a5.9 5.9 0 1 0 11.8 0a5.9 5.9 0 1 0-11.8 0M238.7 836.3a5.9 5.9 0 1 0 11.8 0a5.9 5.9 0 1 0-11.8 0M239 836.3a5.9 5.9 0 1 0 11.8 0a5.9 5.9 0 1 0-11.8 0M237.2 836.8a5.9 5.9 0 1 0 11.8 0a5.9 5.9 0 1 0-11.8 0M237 836.8a5.9 5.9 0 1 0 11.8 0a5.9 5.9 0 1 0-11.8 0M236.1 836.9a5.9 5.9 0 1 0 11.8 0a5.9 5.9 0 1 0-11.8 0M235.7 837.8a5.9 5.9 0 1 0 11.8 0a5.9 5.9 0 1 0-11.8 0M237 837.6a5.9 5.9 0 1 0 11.8 0a5.9 5.9 0 1 0-11.8 0M237.4 838.2a5.9 5.9 0 1 0 11.8 0a5.9 5.9 0 1 0-11.8 0M239.8 837.6a5.9 5.9 0 1 0 11.8 0a5.9 5.9 0 1 0-11.8 0M239.6 838.1a5.9 5.9 0 1 0 11.8 0a5.9 5.9 0 1 0-11.8 0M240 836.9a5.9 5.9 0 1 0 11.8 0a5.9 5.9 0 1 0-11.8 0M238.3 836.1a5.9 5.9 0 1 0 11.8 0a5.9 5.9 0 1 0-11.8 0M237.1 836.7a5.9 5.9 0 1 0 11.8 0a5.9 5.9 0 1 0-11.8 0M238.4 835.9a5.9 5.9 0 1 0 11.8 0a5.9 5.9 0 1 0-11.8 0M239.1 836.1a5.9 5.9 0 1 0 11.8 0a5.9 5.9 0 1 0-11.8 0M237.4 837.1a5.9 5.9 0 1 0 11.8 0a5.9 5.9 0 1 0-11.8 0M239.6 837.4a5.9 5.9 0 1 0 11.8 0a5.9 5.9 0 1 0-11.8 0M236 837.5a5.9 5.9 0 1 0 11.8 0a5.9 5.9 0 1 0-11.8 0M236.4 837.4a5.9 5.9 0 1 0 11.8 0a5.9 5.9 0 1 0-11.8 0M237.4 838.2a5.9 5.9 0 1 0 11.8 0a5.9 5.9 0 1 0-11.8 0M237.5 836.5a5.9 5.9 0 1 0 11.8 0a5.9 5.9 0 1 0-11.8 0M236.8 838.2a5.9 5.9 0 1 0 11.8 0a5.9 5.9 0 1 0-11.8 0M237 836.5a5.9 5.9 0 1 0 11.8 0a5.9 5.9 0 1 0-11.8 0M238 837.5a5.9 5.9 0 1 0 11.8 0a5.9 5.9 0 1 0-11.8 0M240.1 836.1a5.9 5.9 0 1 0 11.8 0a5.9 5.9 0 1 0-11.8 0M236.9 837.6a5.9 5.9 0 1 0 11.8 0a5.9 5.9 0 1 0-11.8 0M237.8 837.5a5.9 5.9 0 1 0 11.8 0a5.9 5.9 0 1 0-11.8 0M238.7 836.1a5.9 5.9 0 1 0 11.8 0a5.9 5.9 0 1 0-11.8 0M235.5 836.3a5.9 5.9 0 1 0 11.8 0a5.9 5.9 0 1 0-11.8 0M236.8 836.3a5.9 5.9 0 1 0 11.8 0a5.9 5.9 0 1 0-11.8 0M236.7 836.1a5.9 5.9 0 1 0 11.8 0a5.9 5.9 0 1 0-11.8 0M235.3 837.1a5.9 5.9 0 1 0 11.8 0a5.9 5.9 0 1 0-11.8 0M239.1 836.3a5.9 5.9 0 1 0 11.8 0a5.9 5.9 0 1 0-11.8 0M235.7 837.6a5.9 5.9 0 1 0 11.8 0a5.9 5.9 0 1 0-11.8 0M235.6 836.2a5.9 5.9 0 1 0 11.8 0a5.9 5.9 0 1 0-11.8 0M237.8 836.6a5.9 5.9 0 1 0 11.8 0a5.9 5.9 0 1 0-11.8 0M239.3 837.1a5.9 5.9 0 1 0 11.8 0a5.9 5.9 0 1 0-11.8 0M237.9 836.8a5.9 5.9 0 1 0 11.8 0a5.9 5.9 0 1 0-11.8 0M235.3 837.8a5.9 5.9 0 1 0 11.8 0a5.9 5.9 0 1 0-11.8 0M237.2 837.8a5.9 5.9 0 1 0 11.8 0a5.9 5.9 0 1 0-11.8 0M235.7 836.9a5.9 5.9 0 1 0 11.8 0a5.9 5.9 0 1 0-11.8 0M238 836.2a5.9 5.9 0 1 0 11.8 0a5.9 5.9 0 1 0-11.8 0M235.5 838.1a5.9 5.9 0 1 0 11.8 0a5.9 5.9 0 1 0-11.8 0M240.1 838.3a5.9 5.9 0 1 0 11.8 0a5.9 5.9 0 1 0-11.8 0M238 837.6a5.9 5.9 0 1 0 11.8 0a5.9 5.9 0 1 0-11.8 0M238.3 837a5.9 5.9 0 1 0 11.8 0a5.9 5.9 0 1 0-11.8 0M235.9 837.4a5.9 5.9 0 1 0 11.8 0a5.9 5.9 0 1 0-11.8 0M237.4 837.5a5.9 5.9 0 1 0 11.8 0a5.9 5.9 0 1 0-11.8 0M235.2 836.6a5.9 5.9 0 1 0 11.8 0a5.9 5.9 0 1 0-11.8 0M235.6 837.7a5.9 5.9 0 1 0 11.8 0a5.9 5.9 0 1 0-11.8 0M237.6 836.5a5.9 5.9 0 1 0 11.8 0a5.9 5.9 0 1 0-11.8 0M239.3 837.1a5.9 5.9 0 1 0 11.8 0a5.9 5.9 0 1 0-11.8 0M236.5 836.8a5.9 5.9 0 1 0 11.8 0a5.9 5.9 0 1 0-11.8 0M234.9 836a5.9 5.9 0 1 0 11.8 0a5.9 5.9 0 1 0-11.8 0M235 838.2a5.9 5.9 0 1 0 11.8 0a5.9 5.9 0 1 0-11.8 0M239.9 837.2a5.9 5.9 0 1 0 11.8 0a5.9 5.9 0 1 0-11.8 0M240.3 837.1a5.9 5.9 0 1 0 11.8 0a5.9 5.9 0 1 0-11.8 0M238.8 836.1a5.9 5.9 0 1 0 11.8 0a5.9 5.9 0 1 0-11.8 0M237.3 837.3a5.9 5.9 0 1 0 11.8 0a5.9 5.9 0 1 0-11.8 0M237.1 837.4a5.9 5.9 0 1 0 11.8 0a5.9 5.9 0 1 0-11.8 0M236.7 837.4a5.9 5.9 0 1 0 11.8 0a5.9 5.9 0 1 0-11.8 0M235.9 837a5.9 5.9 0 1 0 11.8 0a5.9 5.9 0 1 0-11.8 0M237.2 837.1a5.9 5.9 0 1 0 11.8 0a5.9 5.9 0 1 0-11.8 0M235 836.4a5.9 5.9 0 1 0 11.8 0a5.9 5.9 0 1 0-11.8 0M239 836.2a5.9 5.9 0 1 0 11.8 0a5.9 5.9 0 1 0-11.8 0M237.5 838.2a5.9 5.9 0 1 0 11.8 0a5.9 5.9 0 1 0-11.8 0M238.3 837.6a5.9 5.9 0 1 0 11.8 0a5.9 5.9 0 1 0-11.8 0M239.3 838.2a5.9 5.9 0 1 0 11.8 0a5.9 5.9 0 1 0-11.8 0M236.9 836.8a5.9 5.9 0 1 0 11.8 0a5.9 5.9 0 1 0-11.8 0M239.2 835.9a5.9 5.9 0 1 0 11.8 0a5.9 5.9 0 1 0-11.8 0M237.4 836.5a5.9 5.9 0 1 0 11.8 0a5.9 5.9 0 1 0-11.8 0M238 837.6a5.9 5.9 0 1 0 11.8 0a5.9 5.9 0 1 0-11.8 0M239.9 837a5.9 5.9 0 1 0 11.8 0a5.9 5.9 0 1 0-11.8 0M238.8 836a5.9 5.9 0 1 0 11.8 0a5.9 5.9 0 1 0-11.8 0M238.6 838.1a5.9 5.9 0 1 0 11.8 0a5.9 5.9 0 1 0-11.8 0M238.3 837a5.9 5.9 0 1 0 11.8 0a5.9 5.9 0 1 0-11.8 0M237.7 836.8a5.9 5.9 0 1 0 11.8 0a5.9 5.9 0 1 0-11.8 0M235.5 836.3a5.9 5.9 0 1 0 11.8 0a5.9 5.9 0 1 0-11.8 0M239.5 837.1a5.9 5.9 0 1 0 11.8 0a5.9 5.9 0 1 0-11.8 0M234.6 837.3a5.9 5.9 0 1 0 11.8 0a5.9 5.9 0 1 0-11.8 0M239.7 837.4a5.9 5.9 0 1 0 11.8 0a5.9 5.9 0 1 0-11.8 0M235.5 838.1a5.9 5.9 0 1 0 11.8 0a5.9 5.9 0 1 0-11.8 0M235.5 837a5.9 5.9 0 1 0 11.8 0a5.9 5.9 0 1 0-11.8 0M237.3 836.2a5.9 5.9 0 1 0 11.8 0a5.9 5.9 0 1 0-11.8 0M236 836.3a5.9 5.9 0 1 0 11.8 0a5.9 5.9 0 1 0-11.8 0M235.3 835.9a5.9 5.9 0 1 0 11.8 0a5.9 5.9 0 1 0-11.8 0M238.5 837.4a5.9 5.9 0 1 0 11.8 0a5.9 5.9 0 1 0-11.8 0M235.9 838.1a5.9 5.9 0 1 0 11.8 0a5.9 5.9 0 1 0-11.8 0M237 836.9a5.9 5.9 0 1 0 11.8 0a5.9 5.9 0 1 0-11.8 0M240.3 837.4a5.9 5.9 0 1 0 11.8 0a5.9 5.9 0 1 0-11.8 0M237.3 837.6a5.9 5.9 0 1 0 11.8 0a5.9 5.9 0 1 0-11.8 0M239.1 836.6a5.9 5.9 0 1 0 11.8 0a5.9 5.9 0 1 0-11.8 0M234.6 837.6a5.9 5.9 0 1 0 11.8 0a5.9 5.9 0 1 0-11.8 0M239.1 837.3a5.9 5.9 0 1 0 11.8 0a5.9 5.9 0 1 0-11.8 0M234.9 837.6a5.9 5.9 0 1 0 11.8 0a5.9 5.9 0 1 0-11.8 0M235.3 837.7a5.9 5.9 0 1 0 11.8 0a5.9 5.9 0 1 0-11.8 0M238.3 837.3a5.9 5.9 0 1 0 11.8 0a5.9 5.9 0 1 0-11.8 0M234.6 836.7a5.9 5.9 0 1 0 11.8 0a5.9 5.9 0 1 0-11.8 0M239 836.1a5.9 5.9 0 1 0 11.8 0a5.9 5.9 0 1 0-11.8 0M234.3 836.8a5.9 5.9 0 1 0 11.8 0a5.9 5.9 0 1 0-11.8 0M239.8 837.3a5.9 5.9 0 1 0 11.8 0a5.9 5.9 0 1 0-11.8 0M235.6 836a5.9 5.9 0 1 0 11.8 0a5.9 5.9 0 1 0-11.8 0M239.7 837.8a5.9 5.9 0 1 0 11.8 0a5.9 5.9 0 1 0-11.8 0M238.8 836.3a5.9 5.9 0 1 0 11.8 0a5.9 5.9 0 1 0-11.8 0M123.9 566.3a5.9 5.9 0 1 0 11.8 0a5.9 5.9 0 1 0-11.8 0M125.5 566.3a5.9 5.9 0 1 0 11.8 0a5.9 5.9 0 1 0-11.8 0M127.2 566.4a5.9 5.9 0 1 0 11.8 0a5.9 5.9 0 1 0-11.8 0M130.1 567.5a5.9 5.9 0 1 0 11.8 0a5.9 5.9 0 1 0-11.8 0M135.9 566.3a5.9 5.9 0 1 0 11.8 0a5.9 5.9 0 1 0-11.8 0M145.8 566.2a5.9 5.9 0 1 0 11.8 0a5.9 5.9 0 1 0-11.8 0M154.1 566.4a5.9 5.9 0 1 0 11.8 0a5.9 5.9 0 1 0-11.8 0M164 566.3a5.9 5.9 0 1 0 11.8 0a5.9 5.9 0 1 0-11.8 0M174.9 566.2a5.9 5.9 0 1 0 11.8 0a5.9 5.9 0 1 0-11.8 0M184.8 566.4a5.9 5.9 0 1 0 11.8 0a5.9 5.9 0 1 0-11.8 0M142.3 573.9a5.9 5.9 0 1 0 11.8 0a5.9 5.9 0 1 0-11.8 0M171.5 572.6a5.9 5.9 0 1 0 11.8 0a5.9 5.9 0 1 0-11.8 0M145.5 574.5a5.9 5.9 0 1 0 11.8 0a5.9 5.9 0 1 0-11.8 0M182.2 572.8a5.9 5.9 0 1 0 11.8 0a5.9 5.9 0 1 0-11.8 0M163.4 571.1a5.9 5.9 0 1 0 11.8 0a5.9 5.9 0 1 0-11.8 0M181.3 571a5.9 5.9 0 1 0 11.8 0a5.9 5.9 0 1 0-11.8 0M146.5 569.9a5.9 5.9 0 1 0 11.8 0a5.9 5.9 0 1 0-11.8 0M186.4 573.4a5.9 5.9 0 1 0 11.8 0a5.9 5.9 0 1 0-11.8 0M134.2 571.6a5.9 5.9 0 1 0 11.8 0a5.9 5.9 0 1 0-11.8 0M162.9 570.3a5.9 5.9 0 1 0 11.8 0a5.9 5.9 0 1 0-11.8 0M191.1 571.9a5.9 5.9 0 1 0 11.8 0a5.9 5.9 0 1 0-11.8 0M141.7 574.7a5.9 5.9 0 1 0 11.8 0a5.9 5.9 0 1 0-11.8 0M160.2 573a5.9 5.9 0 1 0 11.8 0a5.9 5.9 0 1 0-11.8 0M153.4 572.6a5.9 5.9 0 1 0 11.8 0a5.9 5.9 0 1 0-11.8 0M143.7 569.8a5.9 5.9 0 1 0 11.8 0a5.9 5.9 0 1 0-11.8 0M185.8 571.1a5.9 5.9 0 1 0 11.8 0a5.9 5.9 0 1 0-11.8 0M180.5 570.9a5.9 5.9 0 1 0 11.8 0a5.9 5.9 0 1 0-11.8 0M192.2 575.1a5.9 5.9 0 1 0 11.8 0a5.9 5.9 0 1 0-11.8 0M178.9 574.3a5.9 5.9 0 1 0 11.8 0a5.9 5.9 0 1 0-11.8 0M168.1 574.1a5.9 5.9 0 1 0 11.8 0a5.9 5.9 0 1 0-11.8 0M139.7 572.6a5.9 5.9 0 1 0 11.8 0a5.9 5.9 0 1 0-11.8 0M183.4 570.8a5.9 5.9 0 1 0 11.8 0a5.9 5.9 0 1 0-11.8 0M189.3 575.1a5.9 5.9 0 1 0 11.8 0a5.9 5.9 0 1 0-11.8 0M157.5 571.9a5.9 5.9 0 1 0 11.8 0a5.9 5.9 0 1 0-11.8 0M160.1 572a5.9 5.9 0 1 0 11.8 0a5.9 5.9 0 1 0-11.8 0M133.8 570.2a5.9 5.9 0 1 0 11.8 0a5.9 5.9 0 1 0-11.8 0M162.9 572.6a5.9 5.9 0 1 0 11.8 0a5.9 5.9 0 1 0-11.8 0M166.2 574.2a5.9 5.9 0 1 0 11.8 0a5.9 5.9 0 1 0-11.8 0M145.9 573.4a5.9 5.9 0 1 0 11.8 0a5.9 5.9 0 1 0-11.8 0M166.6 573.5a5.9 5.9 0 1 0 11.8 0a5.9 5.9 0 1 0-11.8 0M143.3 570.7a5.9 5.9 0 1 0 11.8 0a5.9 5.9 0 1 0-11.8 0M153.6 573.3a5.9 5.9 0 1 0 11.8 0a5.9 5.9 0 1 0-11.8 0M151.1 570.2a5.9 5.9 0 1 0 11.8 0a5.9 5.9 0 1 0-11.8 0M180.3 571.9a5.9 5.9 0 1 0 11.8 0a5.9 5.9 0 1 0-11.8 0M174.5 573.8a5.9 5.9 0 1 0 11.8 0a5.9 5.9 0 1 0-11.8 0M187.8 575.5a5.9 5.9 0 1 0 11.8 0a5.9 5.9 0 1 0-11.8 0M191.7 573.3a5.9 5.9 0 1 0 11.8 0a5.9 5.9 0 1 0-11.8 0M186.9 572.6a5.9 5.9 0 1 0 11.8 0a5.9 5.9 0 1 0-11.8 0M155.4 571.1a5.9 5.9 0 1 0 11.8 0a5.9 5.9 0 1 0-11.8 0M186.4 570.6a5.9 5.9 0 1 0 11.8 0a5.9 5.9 0 1 0-11.8 0M180.1 572.6a5.9 5.9 0 1 0 11.8 0a5.9 5.9 0 1 0-11.8 0M148.1 571.4a5.9 5.9 0 1 0 11.8 0a5.9 5.9 0 1 0-11.8 0M158.1 570.7a5.9 5.9 0 1 0 11.8 0a5.9 5.9 0 1 0-11.8 0M136.4 571.7a5.9 5.9 0 1 0 11.8 0a5.9 5.9 0 1 0-11.8 0M187.8 575.7a5.9 5.9 0 1 0 11.8 0a5.9 5.9 0 1 0-11.8 0M178.3 572.6a5.9 5.9 0 1 0 11.8 0a5.9 5.9 0 1 0-11.8 0M164.7 574.1a5.9 5.9 0 1 0 11.8 0a5.9 5.9 0 1 0-11.8 0M133.9 570.9a5.9 5.9 0 1 0 11.8 0a5.9 5.9 0 1 0-11.8 0M184.1 574.5a5.9 5.9 0 1 0 11.8 0a5.9 5.9 0 1 0-11.8 0M186.8 573.3a5.9 5.9 0 1 0 11.8 0a5.9 5.9 0 1 0-11.8 0M158.5 573.2a5.9 5.9 0 1 0 11.8 0a5.9 5.9 0 1 0-11.8 0M184.8 571.5a5.9 5.9 0 1 0 11.8 0a5.9 5.9 0 1 0-11.8 0M165.2 571.3a5.9 5.9 0 1 0 11.8 0a5.9 5.9 0 1 0-11.8 0M174.6 575.5a5.9 5.9 0 1 0 11.8 0a5.9 5.9 0 1 0-11.8 0M133.6 573.3a5.9 5.9 0 1 0 11.8 0a5.9 5.9 0 1 0-11.8 0M172 574.9a5.9 5.9 0 1 0 11.8 0a5.9 5.9 0 1 0-11.8 0M168.3 571.2a5.9 5.9 0 1 0 11.8 0a5.9 5.9 0 1 0-11.8 0M188.2 570.4a5.9 5.9 0 1 0 11.8 0a5.9 5.9 0 1 0-11.8 0M138 570.2a5.9 5.9 0 1 0 11.8 0a5.9 5.9 0 1 0-11.8 0M133.7 572.4a5.9 5.9 0 1 0 11.8 0a5.9 5.9 0 1 0-11.8 0M172.7 570.4a5.9 5.9 0 1 0 11.8 0a5.9 5.9 0 1 0-11.8 0M165.5 571.6a5.9 5.9 0 1 0 11.8 0a5.9 5.9 0 1 0-11.8 0M162.7 571a5.9 5.9 0 1 0 11.8 0a5.9 5.9 0 1 0-11.8 0M142.4 570.7a5.9 5.9 0 1 0 11.8 0a5.9 5.9 0 1 0-11.8 0M155.5 574a5.9 5.9 0 1 0 11.8 0a5.9 5.9 0 1 0-11.8 0M176.2 575a5.9 5.9 0 1 0 11.8 0a5.9 5.9 0 1 0-11.8 0M180.1 574.5a5.9 5.9 0 1 0 11.8 0a5.9 5.9 0 1 0-11.8 0M143 574a5.9 5.9 0 1 0 11.8 0a5.9 5.9 0 1 0-11.8 0M147.8 573.9a5.9 5.9 0 1 0 11.8 0a5.9 5.9 0 1 0-11.8 0M151.5 569.9a5.9 5.9 0 1 0 11.8 0a5.9 5.9 0 1 0-11.8 0M156.2 571.5a5.9 5.9 0 1 0 11.8 0a5.9 5.9 0 1 0-11.8 0M187.9 571.4a5.9 5.9 0 1 0 11.8 0a5.9 5.9 0 1 0-11.8 0M163.3 573a5.9 5.9 0 1 0 11.8 0a5.9 5.9 0 1 0-11.8 0M169.4 572.8a5.9 5.9 0 1 0 11.8 0a5.9 5.9 0 1 0-11.8 0M177.6 575.6a5.9 5.9 0 1 0 11.8 0a5.9 5.9 0 1 0-11.8 0M151.3 573.9a5.9 5.9 0 1 0 11.8 0a5.9 5.9 0 1 0-11.8 0M164.7 573.1a5.9 5.9 0 1 0 11.8 0a5.9 5.9 0 1 0-11.8 0M138.8 570.1a5.9 5.9 0 1 0 11.8 0a5.9 5.9 0 1 0-11.8 0M179.2 572.4a5.9 5.9 0 1 0 11.8 0a5.9 5.9 0 1 0-11.8 0M172.1 572.3a5.9 5.9 0 1 0 11.8 0a5.9 5.9 0 1 0-11.8 0M164.2 572a5.9 5.9 0 1 0 11.8 0a5.9 5.9 0 1 0-11.8 0M157 571a5.9 5.9 0 1 0 11.8 0a5.9 5.9 0 1 0-11.8 0M135.1 572.3a5.9 5.9 0 1 0 11.8 0a5.9 5.9 0 1 0-11.8 0M147.4 574a5.9 5.9 0 1 0 11.8 0a5.9 5.9 0 1 0-11.8 0M182.8 574.1a5.9 5.9 0 1 0 11.8 0a5.9 5.9 0 1 0-11.8 0M160.4 571.1a5.9 5.9 0 1 0 11.8 0a5.9 5.9 0 1 0-11.8 0M156 572.6a5.9 5.9 0 1 0 11.8 0a5.9 5.9 0 1 0-11.8 0M137.4 572.6a5.9 5.9 0 1 0 11.8 0a5.9 5.9 0 1 0-11.8 0M162.6 574a5.9 5.9 0 1 0 11.8 0a5.9 5.9 0 1 0-11.8 0M187.3 574.4a5.9 5.9 0 1 0 11.8 0a5.9 5.9 0 1 0-11.8 0M171 574.3a5.9 5.9 0 1 0 11.8 0a5.9 5.9 0 1 0-11.8 0M173.5 574.9a5.9 5.9 0 1 0 11.8 0a5.9 5.9 0 1 0-11.8 0M175.4 573.8a5.9 5.9 0 1 0 11.8 0a5.9 5.9 0 1 0-11.8 0M156 573.4a5.9 5.9 0 1 0 11.8 0a5.9 5.9 0 1 0-11.8 0M183.2 575.6a5.9 5.9 0 1 0 11.8 0a5.9 5.9 0 1 0-11.8 0M151.5 571.5a5.9 5.9 0 1 0 11.8 0a5.9 5.9 0 1 0-11.8 0M156.4 570.5a5.9 5.9 0 1 0 11.8 0a5.9 5.9 0 1 0-11.8 0M166.4 570.1a5.9 5.9 0 1 0 11.8 0a5.9 5.9 0 1 0-11.8 0M178.1 572.5a5.9 5.9 0 1 0 11.8 0a5.9 5.9 0 1 0-11.8 0M175.7 570.9a5.9 5.9 0 1 0 11.8 0a5.9 5.9 0 1 0-11.8 0M152.9 573.6a5.9 5.9 0 1 0 11.8 0a5.9 5.9 0 1 0-11.8 0M174.4 571.2a5.9 5.9 0 1 0 11.8 0a5.9 5.9 0 1 0-11.8 0M191.1 571.6a5.9 5.9 0 1 0 11.8 0a5.9 5.9 0 1 0-11.8 0M147.9 574.8a5.9 5.9 0 1 0 11.8 0a5.9 5.9 0 1 0-11.8 0M141.6 573.8a5.9 5.9 0 1 0 11.8 0a5.9 5.9 0 1 0-11.8 0M144.5 573.3a5.9 5.9 0 1 0 11.8 0a5.9 5.9 0 1 0-11.8 0M149.3 571.9a5.9 5.9 0 1 0 11.8 0a5.9 5.9 0 1 0-11.8 0M190.4 572.5a5.9 5.9 0 1 0 11.8 0a5.9 5.9 0 1 0-11.8 0M159.2 573.4a5.9 5.9 0 1 0 11.8 0a5.9 5.9 0 1 0-11.8 0M149.5 570.7a5.9 5.9 0 1 0 11.8 0a5.9 5.9 0 1 0-11.8 0M155.9 571.3a5.9 5.9 0 1 0 11.8 0a5.9 5.9 0 1 0-11.8 0M190.1 574a5.9 5.9 0 1 0 11.8 0a5.9 5.9 0 1 0-11.8 0M133.3 572.7a5.9 5.9 0 1 0 11.8 0a5.9 5.9 0 1 0-11.8 0M134.5 573.4a5.9 5.9 0 1 0 11.8 0a5.9 5.9 0 1 0-11.8 0M175.5 571.1a5.9 5.9 0 1 0 11.8 0a5.9 5.9 0 1 0-11.8 0M138 571.5a5.9 5.9 0 1 0 11.8 0a5.9 5.9 0 1 0-11.8 0M160.3 575.1a5.9 5.9 0 1 0 11.8 0a5.9 5.9 0 1 0-11.8 0M155 570.4a5.9 5.9 0 1 0 11.8 0a5.9 5.9 0 1 0-11.8 0M181.2 574.7a5.9 5.9 0 1 0 11.8 0a5.9 5.9 0 1 0-11.8 0M143.7 572.1a5.9 5.9 0 1 0 11.8 0a5.9 5.9 0 1 0-11.8 0M166.3 571a5.9 5.9 0 1 0 11.8 0a5.9 5.9 0 1 0-11.8 0M181.8 574.8a5.9 5.9 0 1 0 11.8 0a5.9 5.9 0 1 0-11.8 0M189.5 575.1a5.9 5.9 0 1 0 11.8 0a5.9 5.9 0 1 0-11.8 0M133.2 573.2a5.9 5.9 0 1 0 11.8 0a5.9 5.9 0 1 0-11.8 0M178.4 574.3a5.9 5.9 0 1 0 11.8 0a5.9 5.9 0 1 0-11.8 0M143.8 570a5.9 5.9 0 1 0 11.8 0a5.9 5.9 0 1 0-11.8 0M182.6 573.4a5.9 5.9 0 1 0 11.8 0a5.9 5.9 0 1 0-11.8 0M170.6 572.5a5.9 5.9 0 1 0 11.8 0a5.9 5.9 0 1 0-11.8 0M181.7 571.7a5.9 5.9 0 1 0 11.8 0a5.9 5.9 0 1 0-11.8 0M148.8 571.8a5.9 5.9 0 1 0 11.8 0a5.9 5.9 0 1 0-11.8 0M207.1 574.6a5.9 5.9 0 1 0 11.8 0a5.9 5.9 0 1 0-11.8 0M199.8 571.1a5.9 5.9 0 1 0 11.8 0a5.9 5.9 0 1 0-11.8 0M198.4 572.9a5.9 5.9 0 1 0 11.8 0a5.9 5.9 0 1 0-11.8 0M199.2 571.8a5.9 5.9 0 1 0 11.8 0a5.9 5.9 0 1 0-11.8 0M207.2 573.1a5.9 5.9 0 1 0 11.8 0a5.9 5.9 0 1 0-11.8 0M203.3 575.2a5.9 5.9 0 1 0 11.8 0a5.9 5.9 0 1 0-11.8 0M210.9 559.4a5.9 5.9 0 1 0 11.8 0a5.9 5.9 0 1 0-11.8 0M207.4 566.3a5.9 5.9 0 1 0 11.8 0a5.9 5.9 0 1 0-11.8 0M198.3 573a5.9 5.9 0 1 0 11.8 0a5.9 5.9 0 1 0-11.8 0M208.9 560.3a5.9 5.9 0 1 0 11.8 0a5.9 5.9 0 1 0-11.8 0M201.7 563.4a5.9 5.9 0 1 0 11.8 0a5.9 5.9 0 1 0-11.8 0M233.7 562.3a5.9 5.9 0 1 0 11.8 0a5.9 5.9 0 1 0-11.8 0M234.5 573.5a5.9 5.9 0 1 0 11.8 0a5.9 5.9 0 1 0-11.8 0M217.3 564.7a5.9 5.9 0 1 0 11.8 0a5.9 5.9 0 1 0-11.8 0M222 572.3a5.9 5.9 0 1 0 11.8 0a5.9 5.9 0 1 0-11.8 0M213.6 574.9a5.9 5.9 0 1 0 11.8 0a5.9 5.9 0 1 0-11.8 0M233.4 570.2a5.9 5.9 0 1 0 11.8 0a5.9 5.9 0 1 0-11.8 0M232.3 573.2a5.9 5.9 0 1 0 11.8 0a5.9 5.9 0 1 0-11.8 0M233.2 561.4a5.9 5.9 0 1 0 11.8 0a5.9 5.9 0 1 0-11.8 0M220.1 569.1a5.9 5.9 0 1 0 11.8 0a5.9 5.9 0 1 0-11.8 0M227.9 559.2a5.9 5.9 0 1 0 11.8 0a5.9 5.9 0 1 0-11.8 0M226.4 567.6a5.9 5.9 0 1 0 11.8 0a5.9 5.9 0 1 0-11.8 0M215.4 560.9a5.9 5.9 0 1 0 11.8 0a5.9 5.9 0 1 0-11.8 0M223 558.5a5.9 5.9 0 1 0 11.8 0a5.9 5.9 0 1 0-11.8 0M225.9 570.3a5.9 5.9 0 1 0 11.8 0a5.9 5.9 0 1 0-11.8 0M213.7 579.9a5.9 5.9 0 1 0 11.8 0a5.9 5.9 0 1 0-11.8 0M211.2 561.2a5.9 5.9 0 1 0 11.8 0a5.9 5.9 0 1 0-11.8 0M233 562.5a5.9 5.9 0 1 0 11.8 0a5.9 5.9 0 1 0-11.8 0M222 571.5a5.9 5.9 0 1 0 11.8 0a5.9 5.9 0 1 0-11.8 0M222.3 569.7a5.9 5.9 0 1 0 11.8 0a5.9 5.9 0 1 0-11.8 0M224.2 569.4a5.9 5.9 0 1 0 11.8 0a5.9 5.9 0 1 0-11.8 0M211.7 578.3a5.9 5.9 0 1 0 11.8 0a5.9 5.9 0 1 0-11.8 0M218 557.9a5.9 5.9 0 1 0 11.8 0a5.9 5.9 0 1 0-11.8 0M221.5 578.3a5.9 5.9 0 1 0 11.8 0a5.9 5.9 0 1 0-11.8 0M227.7 568.8a5.9 5.9 0 1 0 11.8 0a5.9 5.9 0 1 0-11.8 0M223.5 562.4a5.9 5.9 0 1 0 11.8 0a5.9 5.9 0 1 0-11.8 0M227.4 565.9a5.9 5.9 0 1 0 11.8 0a5.9 5.9 0 1 0-11.8 0M211.9 560.1a5.9 5.9 0 1 0 11.8 0a5.9 5.9 0 1 0-11.8 0M212.7 574.8a5.9 5.9 0 1 0 11.8 0a5.9 5.9 0 1 0-11.8 0M234.8 576.7a5.9 5.9 0 1 0 11.8 0a5.9 5.9 0 1 0-11.8 0M216.2 560.5a5.9 5.9 0 1 0 11.8 0a5.9 5.9 0 1 0-11.8 0M236.7 566.5a5.9 5.9 0 1 0 11.8 0a5.9 5.9 0 1 0-11.8 0M214.8 571.8a5.9 5.9 0 1 0 11.8 0a5.9 5.9 0 1 0-11.8 0M227.4 571a5.9 5.9 0 1 0 11.8 0a5.9 5.9 0 1 0-11.8 0M222.8 564.7a5.9 5.9 0 1 0 11.8 0a5.9 5.9 0 1 0-11.8 0M224 568.8a5.9 5.9 0 1 0 11.8 0a5.9 5.9 0 1 0-11.8 0M229.2 568.5a5.9 5.9 0 1 0 11.8 0a5.9 5.9 0 1 0-11.8 0M213.2 576.7a5.9 5.9 0 1 0 11.8 0a5.9 5.9 0 1 0-11.8 0M221.8 578a5.9 5.9 0 1 0 11.8 0a5.9 5.9 0 1 0-11.8 0M229.9 571.7a5.9 5.9 0 1 0 11.8 0a5.9 5.9 0 1 0-11.8 0M227.2 562.7a5.9 5.9 0 1 0 11.8 0a5.9 5.9 0 1 0-11.8 0M210.5 576.5a5.9 5.9 0 1 0 11.8 0a5.9 5.9 0 1 0-11.8 0M217.3 559.6a5.9 5.9 0 1 0 11.8 0a5.9 5.9 0 1 0-11.8 0M232.8 572.3a5.9 5.9 0 1 0 11.8 0a5.9 5.9 0 1 0-11.8 0M211 570.4a5.9 5.9 0 1 0 11.8 0a5.9 5.9 0 1 0-11.8 0M214.7 579.6a5.9 5.9 0 1 0 11.8 0a5.9 5.9 0 1 0-11.8 0M227.3 558.7a5.9 5.9 0 1 0 11.8 0a5.9 5.9 0 1 0-11.8 0M229.7 560.7a5.9 5.9 0 1 0 11.8 0a5.9 5.9 0 1 0-11.8 0M220.4 563.9a5.9 5.9 0 1 0 11.8 0a5.9 5.9 0 1 0-11.8 0M212.7 572.4a5.9 5.9 0 1 0 11.8 0a5.9 5.9 0 1 0-11.8 0M229.6 562.4a5.9 5.9 0 1 0 11.8 0a5.9 5.9 0 1 0-11.8 0M225.6 579.5a5.9 5.9 0 1 0 11.8 0a5.9 5.9 0 1 0-11.8 0M235.1 561.2a5.9 5.9 0 1 0 11.8 0a5.9 5.9 0 1 0-11.8 0M219.2 561a5.9 5.9 0 1 0 11.8 0a5.9 5.9 0 1 0-11.8 0M232.5 563.6a5.9 5.9 0 1 0 11.8 0a5.9 5.9 0 1 0-11.8 0M230.2 575a5.9 5.9 0 1 0 11.8 0a5.9 5.9 0 1 0-11.8 0M218.3 568.9a5.9 5.9 0 1 0 11.8 0a5.9 5.9 0 1 0-11.8 0M218.2 578.1a5.9 5.9 0 1 0 11.8 0a5.9 5.9 0 1 0-11.8 0M218.1 563.9a5.9 5.9 0 1 0 11.8 0a5.9 5.9 0 1 0-11.8 0M234.1 564a5.9 5.9 0 1 0 11.8 0a5.9 5.9 0 1 0-11.8 0M222.3 570.3a5.9 5.9 0 1 0 11.8 0a5.9 5.9 0 1 0-11.8 0M261.3 561.4a5.9 5.9 0 1 0 11.8 0a5.9 5.9 0 1 0-11.8 0M325.3 570.8a5.9 5.9 0 1 0 11.8 0a5.9 5.9 0 1 0-11.8 0M358 566a5.9 5.9 0 1 0 11.8 0a5.9 5.9 0 1 0-11.8 0M367.5 569.7a5.9 5.9 0 1 0 11.8 0a5.9 5.9 0 1 0-11.8 0M356.8 580.9a5.9 5.9 0 1 0 11.8 0a5.9 5.9 0 1 0-11.8 0M278.7 564.3a5.9 5.9 0 1 0 11.8 0a5.9 5.9 0 1 0-11.8 0M352.5 580.6a5.9 5.9 0 1 0 11.8 0a5.9 5.9 0 1 0-11.8 0M367.8 580a5.9 5.9 0 1 0 11.8 0a5.9 5.9 0 1 0-11.8 0M331.8 581.9a5.9 5.9 0 1 0 11.8 0a5.9 5.9 0 1 0-11.8 0M366.9 583.5a5.9 5.9 0 1 0 11.8 0a5.9 5.9 0 1 0-11.8 0M327.5 564.1a5.9 5.9 0 1 0 11.8 0a5.9 5.9 0 1 0-11.8 0M242.8 578.5a5.9 5.9 0 1 0 11.8 0a5.9 5.9 0 1 0-11.8 0M305.5 577.9a5.9 5.9 0 1 0 11.8 0a5.9 5.9 0 1 0-11.8 0M292.2 583.9a5.9 5.9 0 1 0 11.8 0a5.9 5.9 0 1 0-11.8 0M361.7 569.2a5.9 5.9 0 1 0 11.8 0a5.9 5.9 0 1 0-11.8 0M287.3 580.6a5.9 5.9 0 1 0 11.8 0a5.9 5.9 0 1 0-11.8 0M276.8 581.2a5.9 5.9 0 1 0 11.8 0a5.9 5.9 0 1 0-11.8 0M310.5 574.4a5.9 5.9 0 1 0 11.8 0a5.9 5.9 0 1 0-11.8 0M328.3 578.4a5.9 5.9 0 1 0 11.8 0a5.9 5.9 0 1 0-11.8 0M284.8 574.4a5.9 5.9 0 1 0 11.8 0a5.9 5.9 0 1 0-11.8 0M366.5 577.7a5.9 5.9 0 1 0 11.8 0a5.9 5.9 0 1 0-11.8 0M291 560.4a5.9 5.9 0 1 0 11.8 0a5.9 5.9 0 1 0-11.8 0M311 570.9a5.9 5.9 0 1 0 11.8 0a5.9 5.9 0 1 0-11.8 0M281.1 571.3a5.9 5.9 0 1 0 11.8 0a5.9 5.9 0 1 0-11.8 0M262.3 557.9a5.9 5.9 0 1 0 11.8 0a5.9 5.9 0 1 0-11.8 0M309.5 589.5a5.9 5.9 0 1 0 11.8 0a5.9 5.9 0 1 0-11.8 0M324.7 564.8a5.9 5.9 0 1 0 11.8 0a5.9 5.9 0 1 0-11.8 0M292.4 590.8a5.9 5.9 0 1 0 11.8 0a5.9 5.9 0 1 0-11.8 0M362.3 575.6a5.9 5.9 0 1 0 11.8 0a5.9 5.9 0 1 0-11.8 0M352.1 577.1a5.9 5.9 0 1 0 11.8 0a5.9 5.9 0 1 0-11.8 0M307.9 580.7a5.9 5.9 0 1 0 11.8 0a5.9 5.9 0 1 0-11.8 0M300.9 586.7a5.9 5.9 0 1 0 11.8 0a5.9 5.9 0 1 0-11.8 0M324.2 571.1a5.9 5.9 0 1 0 11.8 0a5.9 5.9 0 1 0-11.8 0M238.6 577.2a5.9 5.9 0 1 0 11.8 0a5.9 5.9 0 1 0-11.8 0M323 570.6a5.9 5.9 0 1 0 11.8 0a5.9 5.9 0 1 0-11.8 0M295.6 567.6a5.9 5.9 0 1 0 11.8 0a5.9 5.9 0 1 0-11.8 0M284.4 561.3a5.9 5.9 0 1 0 11.8 0a5.9 5.9 0 1 0-11.8 0M265.7 567a5.9 5.9 0 1 0 11.8 0a5.9 5.9 0 1 0-11.8 0M354.8 563.9a5.9 5.9 0 1 0 11.8 0a5.9 5.9 0 1 0-11.8 0M274 560.4a5.9 5.9 0 1 0 11.8 0a5.9 5.9 0 1 0-11.8 0M300.5 565a5.9 5.9 0 1 0 11.8 0a5.9 5.9 0 1 0-11.8 0M241.3 572.1a5.9 5.9 0 1 0 11.8 0a5.9 5.9 0 1 0-11.8 0M263.9 576.8a5.9 5.9 0 1 0 11.8 0a5.9 5.9 0 1 0-11.8 0M288.5 587.6a5.9 5.9 0 1 0 11.8 0a5.9 5.9 0 1 0-11.8 0M334.5 575.7a5.9 5.9 0 1 0 11.8 0a5.9 5.9 0 1 0-11.8 0M270.2 566a5.9 5.9 0 1 0 11.8 0a5.9 5.9 0 1 0-11.8 0M272.6 559.1a5.9 5.9 0 1 0 11.8 0a5.9 5.9 0 1 0-11.8 0M327.3 563a5.9 5.9 0 1 0 11.8 0a5.9 5.9 0 1 0-11.8 0M357.9 583.3a5.9 5.9 0 1 0 11.8 0a5.9 5.9 0 1 0-11.8 0M243.9 577.1a5.9 5.9 0 1 0 11.8 0a5.9 5.9 0 1 0-11.8 0M318.8 558.2a5.9 5.9 0 1 0 11.8 0a5.9 5.9 0 1 0-11.8 0M302.8 557.6a5.9 5.9 0 1 0 11.8 0a5.9 5.9 0 1 0-11.8 0M352.1 566.1a5.9 5.9 0 1 0 11.8 0a5.9 5.9 0 1 0-11.8 0M309.3 562.2a5.9 5.9 0 1 0 11.8 0a5.9 5.9 0 1 0-11.8 0M288.1 583a5.9 5.9 0 1 0 11.8 0a5.9 5.9 0 1 0-11.8 0M358.5 579.3a5.9 5.9 0 1 0 11.8 0a5.9 5.9 0 1 0-11.8 0M306.4 564.2a5.9 5.9 0 1 0 11.8 0a5.9 5.9 0 1 0-11.8 0M274.2 563a5.9 5.9 0 1 0 11.8 0a5.9 5.9 0 1 0-11.8 0M351 577.6a5.9 5.9 0 1 0 11.8 0a5.9 5.9 0 1 0-11.8 0M291.7 592.8a5.9 5.9 0 1 0 11.8 0a5.9 5.9 0 1 0-11.8 0M340.5 572.5a5.9 5.9 0 1 0 11.8 0a5.9 5.9 0 1 0-11.8 0M325.9 564.5a5.9 5.9 0 1 0 11.8 0a5.9 5.9 0 1 0-11.8 0M258.3 558.5a5.9 5.9 0 1 0 11.8 0a5.9 5.9 0 1 0-11.8 0M288.1 566.2a5.9 5.9 0 1 0 11.8 0a5.9 5.9 0 1 0-11.8 0M257 579.6a5.9 5.9 0 1 0 11.8 0a5.9 5.9 0 1 0-11.8 0M354.6 581.3a5.9 5.9 0 1 0 11.8 0a5.9 5.9 0 1 0-11.8 0M308.3 588.3a5.9 5.9 0 1 0 11.8 0a5.9 5.9 0 1 0-11.8 0M245.2 563.8a5.9 5.9 0 1 0 11.8 0a5.9 5.9 0 1 0-11.8 0M360.7 573.5a5.9 5.9 0 1 0 11.8 0a5.9 5.9 0 1 0-11.8 0M321.4 587.2a5.9 5.9 0 1 0 11.8 0a5.9 5.9 0 1 0-11.8 0M325.5 569.8a5.9 5.9 0 1 0 11.8 0a5.9 5.9 0 1 0-11.8 0M274.6 566.3a5.9 5.9 0 1 0 11.8 0a5.9 5.9 0 1 0-11.8 0M277 557.4a5.9 5.9 0 1 0 11.8 0a5.9 5.9 0 1 0-11.8 0M279.4 560.7a5.9 5.9 0 1 0 11.8 0a5.9 5.9 0 1 0-11.8 0M297.1 570.2a5.9 5.9 0 1 0 11.8 0a5.9 5.9 0 1 0-11.8 0M260.1 576.2a5.9 5.9 0 1 0 11.8 0a5.9 5.9 0 1 0-11.8 0M292.9 571.1a5.9 5.9 0 1 0 11.8 0a5.9 5.9 0 1 0-11.8 0M347.5 569.2a5.9 5.9 0 1 0 11.8 0a5.9 5.9 0 1 0-11.8 0M367.5 572a5.9 5.9 0 1 0 11.8 0a5.9 5.9 0 1 0-11.8 0M306.5 565.5a5.9 5.9 0 1 0 11.8 0a5.9 5.9 0 1 0-11.8 0M253.7 566.3a5.9 5.9 0 1 0 11.8 0a5.9 5.9 0 1 0-11.8 0M278.6 562.2a5.9 5.9 0 1 0 11.8 0a5.9 5.9 0 1 0-11.8 0M302 589.7a5.9 5.9 0 1 0 11.8 0a5.9 5.9 0 1 0-11.8 0M305.2 559.3a5.9 5.9 0 1 0 11.8 0a5.9 5.9 0 1 0-11.8 0M282.6 572.2a5.9 5.9 0 1 0 11.8 0a5.9 5.9 0 1 0-11.8 0M361.4 580.6a5.9 5.9 0 1 0 11.8 0a5.9 5.9 0 1 0-11.8 0M299 582.6a5.9 5.9 0 1 0 11.8 0a5.9 5.9 0 1 0-11.8 0M346.8 584.3a5.9 5.9 0 1 0 11.8 0a5.9 5.9 0 1 0-11.8 0M285.5 568.3a5.9 5.9 0 1 0 11.8 0a5.9 5.9 0 1 0-11.8 0M237.5 559.8a5.9 5.9 0 1 0 11.8 0a5.9 5.9 0 1 0-11.8 0M257.3 575.3a5.9 5.9 0 1 0 11.8 0a5.9 5.9 0 1 0-11.8 0M342.7 565.4a5.9 5.9 0 1 0 11.8 0a5.9 5.9 0 1 0-11.8 0M300.8 582.9a5.9 5.9 0 1 0 11.8 0a5.9 5.9 0 1 0-11.8 0M362.2 580.7a5.9 5.9 0 1 0 11.8 0a5.9 5.9 0 1 0-11.8 0M277.6 566.4a5.9 5.9 0 1 0 11.8 0a5.9 5.9 0 1 0-11.8 0M282.3 573a5.9 5.9 0 1 0 11.8 0a5.9 5.9 0 1 0-11.8 0M312.4 563.7a5.9 5.9 0 1 0 11.8 0a5.9 5.9 0 1 0-11.8 0M291.7 594.6a5.9 5.9 0 1 0 11.8 0a5.9 5.9 0 1 0-11.8 0M343.3 565.8a5.9 5.9 0 1 0 11.8 0a5.9 5.9 0 1 0-11.8 0M308.7 584.8a5.9 5.9 0 1 0 11.8 0a5.9 5.9 0 1 0-11.8 0M314.6 581.4a5.9 5.9 0 1 0 11.8 0a5.9 5.9 0 1 0-11.8 0M269 579.4a5.9 5.9 0 1 0 11.8 0a5.9 5.9 0 1 0-11.8 0M315.6 565.9a5.9 5.9 0 1 0 11.8 0a5.9 5.9 0 1 0-11.8 0M293.1 561.7a5.9 5.9 0 1 0 11.8 0a5.9 5.9 0 1 0-11.8 0M319 569.2a5.9 5.9 0 1 0 11.8 0a5.9 5.9 0 1 0-11.8 0M329.3 586.1a5.9 5.9 0 1 0 11.8 0a5.9 5.9 0 1 0-11.8 0M268 561.8a5.9 5.9 0 1 0 11.8 0a5.9 5.9 0 1 0-11.8 0M287.1 583.4a5.9 5.9 0 1 0 11.8 0a5.9 5.9 0 1 0-11.8 0M271.8 556.8a5.9 5.9 0 1 0 11.8 0a5.9 5.9 0 1 0-11.8 0M296.6 590a5.9 5.9 0 1 0 11.8 0a5.9 5.9 0 1 0-11.8 0M305.7 563.1a5.9 5.9 0 1 0 11.8 0a5.9 5.9 0 1 0-11.8 0M249.8 571.8a5.9 5.9 0 1 0 11.8 0a5.9 5.9 0 1 0-11.8 0M301.4 563.7a5.9 5.9 0 1 0 11.8 0a5.9 5.9 0 1 0-11.8 0M247.6 577.3a5.9 5.9 0 1 0 11.8 0a5.9 5.9 0 1 0-11.8 0M270.9 574.9a5.9 5.9 0 1 0 11.8 0a5.9 5.9 0 1 0-11.8 0M297.9 585.4a5.9 5.9 0 1 0 11.8 0a5.9 5.9 0 1 0-11.8 0M315.2 565.9a5.9 5.9 0 1 0 11.8 0a5.9 5.9 0 1 0-11.8 0M243 561.5a5.9 5.9 0 1 0 11.8 0a5.9 5.9 0 1 0-11.8 0M321.9 570.4a5.9 5.9 0 1 0 11.8 0a5.9 5.9 0 1 0-11.8 0M295.1 586.9a5.9 5.9 0 1 0 11.8 0a5.9 5.9 0 1 0-11.8 0M291.9 558.2a5.9 5.9 0 1 0 11.8 0a5.9 5.9 0 1 0-11.8 0M283.2 579.7a5.9 5.9 0 1 0 11.8 0a5.9 5.9 0 1 0-11.8 0M363 577.7a5.9 5.9 0 1 0 11.8 0a5.9 5.9 0 1 0-11.8 0M309.8 563a5.9 5.9 0 1 0 11.8 0a5.9 5.9 0 1 0-11.8 0M298 572.4a5.9 5.9 0 1 0 11.8 0a5.9 5.9 0 1 0-11.8 0M246.2 582.2a5.9 5.9 0 1 0 11.8 0a5.9 5.9 0 1 0-11.8 0M353.2 572.6a5.9 5.9 0 1 0 11.8 0a5.9 5.9 0 1 0-11.8 0M275.7 581.9a5.9 5.9 0 1 0 11.8 0a5.9 5.9 0 1 0-11.8 0M344.8 563.5a5.9 5.9 0 1 0 11.8 0a5.9 5.9 0 1 0-11.8 0M274.8 583.1a5.9 5.9 0 1 0 11.8 0a5.9 5.9 0 1 0-11.8 0M298.4 563.3a5.9 5.9 0 1 0 11.8 0a5.9 5.9 0 1 0-11.8 0M238.8 561.1a5.9 5.9 0 1 0 11.8 0a5.9 5.9 0 1 0-11.8 0M344.9 582.7a5.9 5.9 0 1 0 11.8 0a5.9 5.9 0 1 0-11.8 0M278.2 584a5.9 5.9 0 1 0 11.8 0a5.9 5.9 0 1 0-11.8 0M336.5 571.7a5.9 5.9 0 1 0 11.8 0a5.9 5.9 0 1 0-11.8 0M247.3 575.9a5.9 5.9 0 1 0 11.8 0a5.9 5.9 0 1 0-11.8 0M266.5 564.2a5.9 5.9 0 1 0 11.8 0a5.9 5.9 0 1 0-11.8 0M289.6 559.5a5.9 5.9 0 1 0 11.8 0a5.9 5.9 0 1 0-11.8 0M359.1 568.1a5.9 5.9 0 1 0 11.8 0a5.9 5.9 0 1 0-11.8 0M347 578.3a5.9 5.9 0 1 0 11.8 0a5.9 5.9 0 1 0-11.8 0M357.2 576.3a5.9 5.9 0 1 0 11.8 0a5.9 5.9 0 1 0-11.8 0M239.5 562.6a5.9 5.9 0 1 0 11.8 0a5.9 5.9 0 1 0-11.8 0M284 561a5.9 5.9 0 1 0 11.8 0a5.9 5.9 0 1 0-11.8 0M267.4 571a5.9 5.9 0 1 0 11.8 0a5.9 5.9 0 1 0-11.8 0M292.9 562.6a5.9 5.9 0 1 0 11.8 0a5.9 5.9 0 1 0-11.8 0M326.2 566.5a5.9 5.9 0 1 0 11.8 0a5.9 5.9 0 1 0-11.8 0M358 576.4a5.9 5.9 0 1 0 11.8 0a5.9 5.9 0 1 0-11.8 0M295 588.3a5.9 5.9 0 1 0 11.8 0a5.9 5.9 0 1 0-11.8 0M283.4 567.1a5.9 5.9 0 1 0 11.8 0a5.9 5.9 0 1 0-11.8 0M252.9 568.7a5.9 5.9 0 1 0 11.8 0a5.9 5.9 0 1 0-11.8 0M284.7 585.8a5.9 5.9 0 1 0 11.8 0a5.9 5.9 0 1 0-11.8 0M273.9 559.3a5.9 5.9 0 1 0 11.8 0a5.9 5.9 0 1 0-11.8 0M277.9 572.7a5.9 5.9 0 1 0 11.8 0a5.9 5.9 0 1 0-11.8 0M360.8 564.7a5.9 5.9 0 1 0 11.8 0a5.9 5.9 0 1 0-11.8 0M265.1 562.9a5.9 5.9 0 1 0 11.8 0a5.9 5.9 0 1 0-11.8 0M242.9 576.6a5.9 5.9 0 1 0 11.8 0a5.9 5.9 0 1 0-11.8 0M316.2 561a5.9 5.9 0 1 0 11.8 0a5.9 5.9 0 1 0-11.8 0M293.4 588.4a5.9 5.9 0 1 0 11.8 0a5.9 5.9 0 1 0-11.8 0M302.8 575.7a5.9 5.9 0 1 0 11.8 0a5.9 5.9 0 1 0-11.8 0M307.1 562.1a5.9 5.9 0 1 0 11.8 0a5.9 5.9 0 1 0-11.8 0M306.5 566.4a5.9 5.9 0 1 0 11.8 0a5.9 5.9 0 1 0-11.8 0M280.1 558.3a5.9 5.9 0 1 0 11.8 0a5.9 5.9 0 1 0-11.8 0M257.8 558.7a5.9 5.9 0 1 0 11.8 0a5.9 5.9 0 1 0-11.8 0M310.2 566.2a5.9 5.9 0 1 0 11.8 0a5.9 5.9 0 1 0-11.8 0M312.2 577.3a5.9 5.9 0 1 0 11.8 0a5.9 5.9 0 1 0-11.8 0M268 561.7a5.9 5.9 0 1 0 11.8 0a5.9 5.9 0 1 0-11.8 0M317.8 584.5a5.9 5.9 0 1 0 11.8 0a5.9 5.9 0 1 0-11.8 0M330.7 577.5a5.9 5.9 0 1 0 11.8 0a5.9 5.9 0 1 0-11.8 0M315.6 557.4a5.9 5.9 0 1 0 11.8 0a5.9 5.9 0 1 0-11.8 0M287.8 560.7a5.9 5.9 0 1 0 11.8 0a5.9 5.9 0 1 0-11.8 0M293.8 591.1a5.9 5.9 0 1 0 11.8 0a5.9 5.9 0 1 0-11.8 0M249.5 561.1a5.9 5.9 0 1 0 11.8 0a5.9 5.9 0 1 0-11.8 0M304.4 592.7a5.9 5.9 0 1 0 11.8 0a5.9 5.9 0 1 0-11.8 0M289.6 566.7a5.9 5.9 0 1 0 11.8 0a5.9 5.9 0 1 0-11.8 0M276.6 581.3a5.9 5.9 0 1 0 11.8 0a5.9 5.9 0 1 0-11.8 0M280.7 567.5a5.9 5.9 0 1 0 11.8 0a5.9 5.9 0 1 0-11.8 0M285.9 561.5a5.9 5.9 0 1 0 11.8 0a5.9 5.9 0 1 0-11.8 0M292.6 587.4a5.9 5.9 0 1 0 11.8 0a5.9 5.9 0 1 0-11.8 0M343.1 566.2a5.9 5.9 0 1 0 11.8 0a5.9 5.9 0 1 0-11.8 0M295.1 560.1a5.9 5.9 0 1 0 11.8 0a5.9 5.9 0 1 0-11.8 0M302.7 578.2a5.9 5.9 0 1 0 11.8 0a5.9 5.9 0 1 0-11.8 0M284.6 576.5a5.9 5.9 0 1 0 11.8 0a5.9 5.9 0 1 0-11.8 0M303.8 584.9a5.9 5.9 0 1 0 11.8 0a5.9 5.9 0 1 0-11.8 0M310.8 584.9a5.9 5.9 0 1 0 11.8 0a5.9 5.9 0 1 0-11.8 0M317.8 581.1a5.9 5.9 0 1 0 11.8 0a5.9 5.9 0 1 0-11.8 0M290.3 573.8a5.9 5.9 0 1 0 11.8 0a5.9 5.9 0 1 0-11.8 0M340.8 571.9a5.9 5.9 0 1 0 11.8 0a5.9 5.9 0 1 0-11.8 0M314.2 571.7a5.9 5.9 0 1 0 11.8 0a5.9 5.9 0 1 0-11.8 0M339 586.5a5.9 5.9 0 1 0 11.8 0a5.9 5.9 0 1 0-11.8 0M329.8 568a5.9 5.9 0 1 0 11.8 0a5.9 5.9 0 1 0-11.8 0M291.6 575.8a5.9 5.9 0 1 0 11.8 0a5.9 5.9 0 1 0-11.8 0M243 563.9a5.9 5.9 0 1 0 11.8 0a5.9 5.9 0 1 0-11.8 0M264.9 565.3a5.9 5.9 0 1 0 11.8 0a5.9 5.9 0 1 0-11.8 0M307.7 558.4a5.9 5.9 0 1 0 11.8 0a5.9 5.9 0 1 0-11.8 0M248.3 560a5.9 5.9 0 1 0 11.8 0a5.9 5.9 0 1 0-11.8 0M338.9 577.8a5.9 5.9 0 1 0 11.8 0a5.9 5.9 0 1 0-11.8 0M253.8 559.6a5.9 5.9 0 1 0 11.8 0a5.9 5.9 0 1 0-11.8 0M306.2 592.3a5.9 5.9 0 1 0 11.8 0a5.9 5.9 0 1 0-11.8 0M263 577.9a5.9 5.9 0 1 0 11.8 0a5.9 5.9 0 1 0-11.8 0M310.7 586.5a5.9 5.9 0 1 0 11.8 0a5.9 5.9 0 1 0-11.8 0M267.6 580.4a5.9 5.9 0 1 0 11.8 0a5.9 5.9 0 1 0-11.8 0M275 564.1a5.9 5.9 0 1 0 11.8 0a5.9 5.9 0 1 0-11.8 0M297.7 589.8a5.9 5.9 0 1 0 11.8 0a5.9 5.9 0 1 0-11.8 0M312 571.2a5.9 5.9 0 1 0 11.8 0a5.9 5.9 0 1 0-11.8 0M267 571.3a5.9 5.9 0 1 0 11.8 0a5.9 5.9 0 1 0-11.8 0M290.8 567.7a5.9 5.9 0 1 0 11.8 0a5.9 5.9 0 1 0-11.8 0M278.7 565.9a5.9 5.9 0 1 0 11.8 0a5.9 5.9 0 1 0-11.8 0M276.4 584.4a5.9 5.9 0 1 0 11.8 0a5.9 5.9 0 1 0-11.8 0M321.7 582.5a5.9 5.9 0 1 0 11.8 0a5.9 5.9 0 1 0-11.8 0M362.7 584.1a5.9 5.9 0 1 0 11.8 0a5.9 5.9 0 1 0-11.8 0M253.9 573.2a5.9 5.9 0 1 0 11.8 0a5.9 5.9 0 1 0-11.8 0M307.9 587.4a5.9 5.9 0 1 0 11.8 0a5.9 5.9 0 1 0-11.8 0M308.7 560.3a5.9 5.9 0 1 0 11.8 0a5.9 5.9 0 1 0-11.8 0M301.3 583.7a5.9 5.9 0 1 0 11.8 0a5.9 5.9 0 1 0-11.8 0M343.7 575a5.9 5.9 0 1 0 11.8 0a5.9 5.9 0 1 0-11.8 0M265.4 557.8a5.9 5.9 0 1 0 11.8 0a5.9 5.9 0 1 0-11.8 0M305 587.6a5.9 5.9 0 1 0 11.8 0a5.9 5.9 0 1 0-11.8 0M251.2 578.2a5.9 5.9 0 1 0 11.8 0a5.9 5.9 0 1 0-11.8 0M317.9 579.7a5.9 5.9 0 1 0 11.8 0a5.9 5.9 0 1 0-11.8 0M267.8 560.2a5.9 5.9 0 1 0 11.8 0a5.9 5.9 0 1 0-11.8 0M239.1 569.1a5.9 5.9 0 1 0 11.8 0a5.9 5.9 0 1 0-11.8 0M359 573.8a5.9 5.9 0 1 0 11.8 0a5.9 5.9 0 1 0-11.8 0M316.1 574.7a5.9 5.9 0 1 0 11.8 0a5.9 5.9 0 1 0-11.8 0M281.9 562.9a5.9 5.9 0 1 0 11.8 0a5.9 5.9 0 1 0-11.8 0M359.2 582.6a5.9 5.9 0 1 0 11.8 0a5.9 5.9 0 1 0-11.8 0M287.9 573a5.9 5.9 0 1 0 11.8 0a5.9 5.9 0 1 0-11.8 0M250 580a5.9 5.9 0 1 0 11.8 0a5.9 5.9 0 1 0-11.8 0M343.8 577.1a5.9 5.9 0 1 0 11.8 0a5.9 5.9 0 1 0-11.8 0M331.6 587.1a5.9 5.9 0 1 0 11.8 0a5.9 5.9 0 1 0-11.8 0M281.4 582.9a5.9 5.9 0 1 0 11.8 0a5.9 5.9 0 1 0-11.8 0M261.2 584a5.9 5.9 0 1 0 11.8 0a5.9 5.9 0 1 0-11.8 0M301.8 558.3a5.9 5.9 0 1 0 11.8 0a5.9 5.9 0 1 0-11.8 0M294.5 582a5.9 5.9 0 1 0 11.8 0a5.9 5.9 0 1 0-11.8 0M294.9 563.5a5.9 5.9 0 1 0 11.8 0a5.9 5.9 0 1 0-11.8 0M304.9 565.7a5.9 5.9 0 1 0 11.8 0a5.9 5.9 0 1 0-11.8 0M303.2 586.1a5.9 5.9 0 1 0 11.8 0a5.9 5.9 0 1 0-11.8 0M277.1 575a5.9 5.9 0 1 0 11.8 0a5.9 5.9 0 1 0-11.8 0M322.7 578.5a5.9 5.9 0 1 0 11.8 0a5.9 5.9 0 1 0-11.8 0M302.2 561.3a5.9 5.9 0 1 0 11.8 0a5.9 5.9 0 1 0-11.8 0M331.8 572.9a5.9 5.9 0 1 0 11.8 0a5.9 5.9 0 1 0-11.8 0M352.5 576.5a5.9 5.9 0 1 0 11.8 0a5.9 5.9 0 1 0-11.8 0M320.1 573.6a5.9 5.9 0 1 0 11.8 0a5.9 5.9 0 1 0-11.8 0M280.8 574.5a5.9 5.9 0 1 0 11.8 0a5.9 5.9 0 1 0-11.8 0M297.4 568.5a5.9 5.9 0 1 0 11.8 0a5.9 5.9 0 1 0-11.8 0M357.1 576.3a5.9 5.9 0 1 0 11.8 0a5.9 5.9 0 1 0-11.8 0M241.6 582.8a5.9 5.9 0 1 0 11.8 0a5.9 5.9 0 1 0-11.8 0M287.8 583.2a5.9 5.9 0 1 0 11.8 0a5.9 5.9 0 1 0-11.8 0M305.6 578.4a5.9 5.9 0 1 0 11.8 0a5.9 5.9 0 1 0-11.8 0M248.4 567.3a5.9 5.9 0 1 0 11.8 0a5.9 5.9 0 1 0-11.8 0M355.1 570.9a5.9 5.9 0 1 0 11.8 0a5.9 5.9 0 1 0-11.8 0M301.7 581a5.9 5.9 0 1 0 11.8 0a5.9 5.9 0 1 0-11.8 0M274.8 573.6a5.9 5.9 0 1 0 11.8 0a5.9 5.9 0 1 0-11.8 0M305.4 592.5a5.9 5.9 0 1 0 11.8 0a5.9 5.9 0 1 0-11.8 0M351.5 563.8a5.9 5.9 0 1 0 11.8 0a5.9 5.9 0 1 0-11.8 0M305 587.7a5.9 5.9 0 1 0 11.8 0a5.9 5.9 0 1 0-11.8 0M358.9 578.5a5.9 5.9 0 1 0 11.8 0a5.9 5.9 0 1 0-11.8 0M322.6 583.3a5.9 5.9 0 1 0 11.8 0a5.9 5.9 0 1 0-11.8 0M289.2 568a5.9 5.9 0 1 0 11.8 0a5.9 5.9 0 1 0-11.8 0M358.5 578.4a5.9 5.9 0 1 0 11.8 0a5.9 5.9 0 1 0-11.8 0M304.3 564.9a5.9 5.9 0 1 0 11.8 0a5.9 5.9 0 1 0-11.8 0M259 580.3a5.9 5.9 0 1 0 11.8 0a5.9 5.9 0 1 0-11.8 0M287.2 571.5a5.9 5.9 0 1 0 11.8 0a5.9 5.9 0 1 0-11.8 0M287 561.3a5.9 5.9 0 1 0 11.8 0a5.9 5.9 0 1 0-11.8 0M322.2 566.6a5.9 5.9 0 1 0 11.8 0a5.9 5.9 0 1 0-11.8 0M329.3 575.9a5.9 5.9 0 1 0 11.8 0a5.9 5.9 0 1 0-11.8 0M269.4 573.1a5.9 5.9 0 1 0 11.8 0a5.9 5.9 0 1 0-11.8 0M245.5 583.1a5.9 5.9 0 1 0 11.8 0a5.9 5.9 0 1 0-11.8 0M343.7 562.9a5.9 5.9 0 1 0 11.8 0a5.9 5.9 0 1 0-11.8 0M348 578.6a5.9 5.9 0 1 0 11.8 0a5.9 5.9 0 1 0-11.8 0M304.5 562.6a5.9 5.9 0 1 0 11.8 0a5.9 5.9 0 1 0-11.8 0M299.4 586a5.9 5.9 0 1 0 11.8 0a5.9 5.9 0 1 0-11.8 0M263.4 574.3a5.9 5.9 0 1 0 11.8 0a5.9 5.9 0 1 0-11.8 0M302.7 569.9a5.9 5.9 0 1 0 11.8 0a5.9 5.9 0 1 0-11.8 0M269.4 575a5.9 5.9 0 1 0 11.8 0a5.9 5.9 0 1 0-11.8 0M243.2 562.9a5.9 5.9 0 1 0 11.8 0a5.9 5.9 0 1 0-11.8 0M296.7 576.5a5.9 5.9 0 1 0 11.8 0a5.9 5.9 0 1 0-11.8 0M328.5 576.8a5.9 5.9 0 1 0 11.8 0a5.9 5.9 0 1 0-11.8 0M266.2 572.4a5.9 5.9 0 1 0 11.8 0a5.9 5.9 0 1 0-11.8 0M239.2 569.9a5.9 5.9 0 1 0 11.8 0a5.9 5.9 0 1 0-11.8 0M262.1 572.8a5.9 5.9 0 1 0 11.8 0a5.9 5.9 0 1 0-11.8 0M276.9 556.7a5.9 5.9 0 1 0 11.8 0a5.9 5.9 0 1 0-11.8 0M243.5 564.8a5.9 5.9 0 1 0 11.8 0a5.9 5.9 0 1 0-11.8 0M346.6 585.3a5.9 5.9 0 1 0 11.8 0a5.9 5.9 0 1 0-11.8 0M333.1 575.1a5.9 5.9 0 1 0 11.8 0a5.9 5.9 0 1 0-11.8 0M367.7 574.8a5.9 5.9 0 1 0 11.8 0a5.9 5.9 0 1 0-11.8 0M281 583.4a5.9 5.9 0 1 0 11.8 0a5.9 5.9 0 1 0-11.8 0M334.9 563a5.9 5.9 0 1 0 11.8 0a5.9 5.9 0 1 0-11.8 0M252.4 579.8a5.9 5.9 0 1 0 11.8 0a5.9 5.9 0 1 0-11.8 0M318.1 570.1a5.9 5.9 0 1 0 11.8 0a5.9 5.9 0 1 0-11.8 0M320.8 562.5a5.9 5.9 0 1 0 11.8 0a5.9 5.9 0 1 0-11.8 0M314.5 578.6a5.9 5.9 0 1 0 11.8 0a5.9 5.9 0 1 0-11.8 0M247 579.6a5.9 5.9 0 1 0 11.8 0a5.9 5.9 0 1 0-11.8 0M253.5 578.3a5.9 5.9 0 1 0 11.8 0a5.9 5.9 0 1 0-11.8 0M329 585.7a5.9 5.9 0 1 0 11.8 0a5.9 5.9 0 1 0-11.8 0M237.4 578.5a5.9 5.9 0 1 0 11.8 0a5.9 5.9 0 1 0-11.8 0M260 577.5a5.9 5.9 0 1 0 11.8 0a5.9 5.9 0 1 0-11.8 0M303.6 576.7a5.9 5.9 0 1 0 11.8 0a5.9 5.9 0 1 0-11.8 0M340.7 568.8a5.9 5.9 0 1 0 11.8 0a5.9 5.9 0 1 0-11.8 0M301.4 566.6a5.9 5.9 0 1 0 11.8 0a5.9 5.9 0 1 0-11.8 0M263.2 582.7a5.9 5.9 0 1 0 11.8 0a5.9 5.9 0 1 0-11.8 0M287.4 561.1a5.9 5.9 0 1 0 11.8 0a5.9 5.9 0 1 0-11.8 0M276.6 583.6a5.9 5.9 0 1 0 11.8 0a5.9 5.9 0 1 0-11.8 0M370.4 577.2a5.9 5.9 0 1 0 11.8 0a5.9 5.9 0 1 0-11.8 0M246.6 570.6a5.9 5.9 0 1 0 11.8 0a5.9 5.9 0 1 0-11.8 0M322.9 578.1a5.9 5.9 0 1 0 11.8 0a5.9 5.9 0 1 0-11.8 0M337.5 571.8a5.9 5.9 0 1 0 11.8 0a5.9 5.9 0 1 0-11.8 0M293.2 569.1a5.9 5.9 0 1 0 11.8 0a5.9 5.9 0 1 0-11.8 0M312.7 565.4a5.9 5.9 0 1 0 11.8 0a5.9 5.9 0 1 0-11.8 0M289.1 575.1a5.9 5.9 0 1 0 11.8 0a5.9 5.9 0 1 0-11.8 0M275 562.5a5.9 5.9 0 1 0 11.8 0a5.9 5.9 0 1 0-11.8 0M356.8 575.7a5.9 5.9 0 1 0 11.8 0a5.9 5.9 0 1 0-11.8 0M363.1 565.8a5.9 5.9 0 1 0 11.8 0a5.9 5.9 0 1 0-11.8 0M322.1 578.6a5.9 5.9 0 1 0 11.8 0a5.9 5.9 0 1 0-11.8 0M297.2 575.4a5.9 5.9 0 1 0 11.8 0a5.9 5.9 0 1 0-11.8 0M240.4 579.7a5.9 5.9 0 1 0 11.8 0a5.9 5.9 0 1 0-11.8 0M240.8 582.4a5.9 5.9 0 1 0 11.8 0a5.9 5.9 0 1 0-11.8 0M348.8 574.3a5.9 5.9 0 1 0 11.8 0a5.9 5.9 0 1 0-11.8 0M247.6 583.2a5.9 5.9 0 1 0 11.8 0a5.9 5.9 0 1 0-11.8 0M326.1 566.1a5.9 5.9 0 1 0 11.8 0a5.9 5.9 0 1 0-11.8 0M347.6 579a5.9 5.9 0 1 0 11.8 0a5.9 5.9 0 1 0-11.8 0M343.8 566.2a5.9 5.9 0 1 0 11.8 0a5.9 5.9 0 1 0-11.8 0M285.7 584a5.9 5.9 0 1 0 11.8 0a5.9 5.9 0 1 0-11.8 0M237.4 575.8a5.9 5.9 0 1 0 11.8 0a5.9 5.9 0 1 0-11.8 0M279.1 558.9a5.9 5.9 0 1 0 11.8 0a5.9 5.9 0 1 0-11.8 0M315.6 564.4a5.9 5.9 0 1 0 11.8 0a5.9 5.9 0 1 0-11.8 0M306.9 566a5.9 5.9 0 1 0 11.8 0a5.9 5.9 0 1 0-11.8 0M324.1 562.5a5.9 5.9 0 1 0 11.8 0a5.9 5.9 0 1 0-11.8 0M311.1 590.8a5.9 5.9 0 1 0 11.8 0a5.9 5.9 0 1 0-11.8 0M347.8 572.3a5.9 5.9 0 1 0 11.8 0a5.9 5.9 0 1 0-11.8 0M302 590.4a5.9 5.9 0 1 0 11.8 0a5.9 5.9 0 1 0-11.8 0M297 586.3a5.9 5.9 0 1 0 11.8 0a5.9 5.9 0 1 0-11.8 0M342.3 584.3a5.9 5.9 0 1 0 11.8 0a5.9 5.9 0 1 0-11.8 0M259.5 570.1a5.9 5.9 0 1 0 11.8 0a5.9 5.9 0 1 0-11.8 0M274.5 568.5a5.9 5.9 0 1 0 11.8 0a5.9 5.9 0 1 0-11.8 0M316.2 571.5a5.9 5.9 0 1 0 11.8 0a5.9 5.9 0 1 0-11.8 0M319.6 580.5a5.9 5.9 0 1 0 11.8 0a5.9 5.9 0 1 0-11.8 0M295.3 587a5.9 5.9 0 1 0 11.8 0a5.9 5.9 0 1 0-11.8 0M356.7 566.6a5.9 5.9 0 1 0 11.8 0a5.9 5.9 0 1 0-11.8 0M323.2 563a5.9 5.9 0 1 0 11.8 0a5.9 5.9 0 1 0-11.8 0M296.4 571.1a5.9 5.9 0 1 0 11.8 0a5.9 5.9 0 1 0-11.8 0M355.3 578.1a5.9 5.9 0 1 0 11.8 0a5.9 5.9 0 1 0-11.8 0M333.4 583.5a5.9 5.9 0 1 0 11.8 0a5.9 5.9 0 1 0-11.8 0M310.2 562.1a5.9 5.9 0 1 0 11.8 0a5.9 5.9 0 1 0-11.8 0M317.6 561.2a5.9 5.9 0 1 0 11.8 0a5.9 5.9 0 1 0-11.8 0M284.9 562a5.9 5.9 0 1 0 11.8 0a5.9 5.9 0 1 0-11.8 0M253.3 572.2a5.9 5.9 0 1 0 11.8 0a5.9 5.9 0 1 0-11.8 0M276.1 557.2a5.9 5.9 0 1 0 11.8 0a5.9 5.9 0 1 0-11.8 0M304 595a5.9 5.9 0 1 0 11.8 0a5.9 5.9 0 1 0-11.8 0M299.5 573a5.9 5.9 0 1 0 11.8 0a5.9 5.9 0 1 0-11.8 0M288.4 567.5a5.9 5.9 0 1 0 11.8 0a5.9 5.9 0 1 0-11.8 0M280.9 564.5a5.9 5.9 0 1 0 11.8 0a5.9 5.9 0 1 0-11.8 0M294.9 594.5a5.9 5.9 0 1 0 11.8 0a5.9 5.9 0 1 0-11.8 0M304.5 582.9a5.9 5.9 0 1 0 11.8 0a5.9 5.9 0 1 0-11.8 0M302.1 572.7a5.9 5.9 0 1 0 11.8 0a5.9 5.9 0 1 0-11.8 0M357.4 581a5.9 5.9 0 1 0 11.8 0a5.9 5.9 0 1 0-11.8 0M262.2 569.2a5.9 5.9 0 1 0 11.8 0a5.9 5.9 0 1 0-11.8 0M290 579.9a5.9 5.9 0 1 0 11.8 0a5.9 5.9 0 1 0-11.8 0M287.8 567.4a5.9 5.9 0 1 0 11.8 0a5.9 5.9 0 1 0-11.8 0M309.5 586.5a5.9 5.9 0 1 0 11.8 0a5.9 5.9 0 1 0-11.8 0M302.8 578.4a5.9 5.9 0 1 0 11.8 0a5.9 5.9 0 1 0-11.8 0M322.8 582.7a5.9 5.9 0 1 0 11.8 0a5.9 5.9 0 1 0-11.8 0M260.2 558.7a5.9 5.9 0 1 0 11.8 0a5.9 5.9 0 1 0-11.8 0M273.4 557.9a5.9 5.9 0 1 0 11.8 0a5.9 5.9 0 1 0-11.8 0M278.5 558a5.9 5.9 0 1 0 11.8 0a5.9 5.9 0 1 0-11.8 0M250.5 583.7a5.9 5.9 0 1 0 11.8 0a5.9 5.9 0 1 0-11.8 0M293.5 591.2a5.9 5.9 0 1 0 11.8 0a5.9 5.9 0 1 0-11.8 0M294.3 573.8a5.9 5.9 0 1 0 11.8 0a5.9 5.9 0 1 0-11.8 0M294.8 592.7a5.9 5.9 0 1 0 11.8 0a5.9 5.9 0 1 0-11.8 0M335.9 583.2a5.9 5.9 0 1 0 11.8 0a5.9 5.9 0 1 0-11.8 0M250.8 557.1a5.9 5.9 0 1 0 11.8 0a5.9 5.9 0 1 0-11.8 0M282.5 564.5a5.9 5.9 0 1 0 11.8 0a5.9 5.9 0 1 0-11.8 0M269.1 576.6a5.9 5.9 0 1 0 11.8 0a5.9 5.9 0 1 0-11.8 0M305.1 584.7a5.9 5.9 0 1 0 11.8 0a5.9 5.9 0 1 0-11.8 0M354.8 574.3a5.9 5.9 0 1 0 11.8 0a5.9 5.9 0 1 0-11.8 0M320.2 572.5a5.9 5.9 0 1 0 11.8 0a5.9 5.9 0 1 0-11.8 0M301.6 571.3a5.9 5.9 0 1 0 11.8 0a5.9 5.9 0 1 0-11.8 0M286.7 587.3a5.9 5.9 0 1 0 11.8 0a5.9 5.9 0 1 0-11.8 0M236.2 567.9a5.9 5.9 0 1 0 11.8 0a5.9 5.9 0 1 0-11.8 0M368.6 575.5a5.9 5.9 0 1 0 11.8 0a5.9 5.9 0 1 0-11.8 0M238 582.1a5.9 5.9 0 1 0 11.8 0a5.9 5.9 0 1 0-11.8 0M272.4 569.6a5.9 5.9 0 1 0 11.8 0a5.9 5.9 0 1 0-11.8 0M331.5 570.8a5.9 5.9 0 1 0 11.8 0a5.9 5.9 0 1 0-11.8 0M287.6 558a5.9 5.9 0 1 0 11.8 0a5.9 5.9 0 1 0-11.8 0M263.3 562a5.9 5.9 0 1 0 11.8 0a5.9 5.9 0 1 0-11.8 0M287.2 585.6a5.9 5.9 0 1 0 11.8 0a5.9 5.9 0 1 0-11.8 0M262.6 568.4a5.9 5.9 0 1 0 11.8 0a5.9 5.9 0 1 0-11.8 0M247.4 573.3a5.9 5.9 0 1 0 11.8 0a5.9 5.9 0 1 0-11.8 0M316.6 581.4a5.9 5.9 0 1 0 11.8 0a5.9 5.9 0 1 0-11.8 0M324.7 578.7a5.9 5.9 0 1 0 11.8 0a5.9 5.9 0 1 0-11.8 0M363.6 576.4a5.9 5.9 0 1 0 11.8 0a5.9 5.9 0 1 0-11.8 0M299.4 558.3a5.9 5.9 0 1 0 11.8 0a5.9 5.9 0 1 0-11.8 0M237 558.5a5.9 5.9 0 1 0 11.8 0a5.9 5.9 0 1 0-11.8 0M331.8 581.7a5.9 5.9 0 1 0 11.8 0a5.9 5.9 0 1 0-11.8 0M237.7 580.1a5.9 5.9 0 1 0 11.8 0a5.9 5.9 0 1 0-11.8 0M280.8 566.1a5.9 5.9 0 1 0 11.8 0a5.9 5.9 0 1 0-11.8 0M280.2 557.4a5.9 5.9 0 1 0 11.8 0a5.9 5.9 0 1 0-11.8 0M260.4 563.5a5.9 5.9 0 1 0 11.8 0a5.9 5.9 0 1 0-11.8 0M313 574.5a5.9 5.9 0 1 0 11.8 0a5.9 5.9 0 1 0-11.8 0M246.3 559.3a5.9 5.9 0 1 0 11.8 0a5.9 5.9 0 1 0-11.8 0M356.6 578.5a5.9 5.9 0 1 0 11.8 0a5.9 5.9 0 1 0-11.8 0M248 582.4a5.9 5.9 0 1 0 11.8 0a5.9 5.9 0 1 0-11.8 0M361.1 570a5.9 5.9 0 1 0 11.8 0a5.9 5.9 0 1 0-11.8 0M363 580.1a5.9 5.9 0 1 0 11.8 0a5.9 5.9 0 1 0-11.8 0M295.5 574.9a5.9 5.9 0 1 0 11.8 0a5.9 5.9 0 1 0-11.8 0M304.1 573.6a5.9 5.9 0 1 0 11.8 0a5.9 5.9 0 1 0-11.8 0M335 567.1a5.9 5.9 0 1 0 11.8 0a5.9 5.9 0 1 0-11.8 0M295.8 583.4a5.9 5.9 0 1 0 11.8 0a5.9 5.9 0 1 0-11.8 0M312.1 572a5.9 5.9 0 1 0 11.8 0a5.9 5.9 0 1 0-11.8 0M238.5 572.5a5.9 5.9 0 1 0 11.8 0a5.9 5.9 0 1 0-11.8 0M359 573.4a5.9 5.9 0 1 0 11.8 0a5.9 5.9 0 1 0-11.8 0M255.1 560.5a5.9 5.9 0 1 0 11.8 0a5.9 5.9 0 1 0-11.8 0M245.9 566.7a5.9 5.9 0 1 0 11.8 0a5.9 5.9 0 1 0-11.8 0M255 574.4a5.9 5.9 0 1 0 11.8 0a5.9 5.9 0 1 0-11.8 0M326.2 574.8a5.9 5.9 0 1 0 11.8 0a5.9 5.9 0 1 0-11.8 0M276 575.3a5.9 5.9 0 1 0 11.8 0a5.9 5.9 0 1 0-11.8 0M299.1 580.5a5.9 5.9 0 1 0 11.8 0a5.9 5.9 0 1 0-11.8 0M316.9 569.6a5.9 5.9 0 1 0 11.8 0a5.9 5.9 0 1 0-11.8 0M368.6 582.1a5.9 5.9 0 1 0 11.8 0a5.9 5.9 0 1 0-11.8 0M295 597.6a5.9 5.9 0 1 0 11.8 0a5.9 5.9 0 1 0-11.8 0M262.6 564.8a5.9 5.9 0 1 0 11.8 0a5.9 5.9 0 1 0-11.8 0M257.3 574.4a5.9 5.9 0 1 0 11.8 0a5.9 5.9 0 1 0-11.8 0M347.9 579.2a5.9 5.9 0 1 0 11.8 0a5.9 5.9 0 1 0-11.8 0M272.7 575.3a5.9 5.9 0 1 0 11.8 0a5.9 5.9 0 1 0-11.8 0M243.5 582.8a5.9 5.9 0 1 0 11.8 0a5.9 5.9 0 1 0-11.8 0M360 569.9a5.9 5.9 0 1 0 11.8 0a5.9 5.9 0 1 0-11.8 0M284.5 585.3a5.9 5.9 0 1 0 11.8 0a5.9 5.9 0 1 0-11.8 0M265.4 557.9a5.9 5.9 0 1 0 11.8 0a5.9 5.9 0 1 0-11.8 0M304.5 576.8a5.9 5.9 0 1 0 11.8 0a5.9 5.9 0 1 0-11.8 0M258.3 563.6a5.9 5.9 0 1 0 11.8 0a5.9 5.9 0 1 0-11.8 0M251.6 564.3a5.9 5.9 0 1 0 11.8 0a5.9 5.9 0 1 0-11.8 0M256.7 583.5a5.9 5.9 0 1 0 11.8 0a5.9 5.9 0 1 0-11.8 0M358.1 581.3a5.9 5.9 0 1 0 11.8 0a5.9 5.9 0 1 0-11.8 0M267.4 579.4a5.9 5.9 0 1 0 11.8 0a5.9 5.9 0 1 0-11.8 0M366.9 571.3a5.9 5.9 0 1 0 11.8 0a5.9 5.9 0 1 0-11.8 0M317.8 588.9a5.9 5.9 0 1 0 11.8 0a5.9 5.9 0 1 0-11.8 0M303.2 572.3a5.9 5.9 0 1 0 11.8 0a5.9 5.9 0 1 0-11.8 0M273.3 579.7a5.9 5.9 0 1 0 11.8 0a5.9 5.9 0 1 0-11.8 0M324.3 586.2a5.9 5.9 0 1 0 11.8 0a5.9 5.9 0 1 0-11.8 0M361.7 583.6a5.9 5.9 0 1 0 11.8 0a5.9 5.9 0 1 0-11.8 0M325.4 584.8a5.9 5.9 0 1 0 11.8 0a5.9 5.9 0 1 0-11.8 0M328.4 585.3a5.9 5.9 0 1 0 11.8 0a5.9 5.9 0 1 0-11.8 0M262.5 558.2a5.9 5.9 0 1 0 11.8 0a5.9 5.9 0 1 0-11.8 0M243.2 579.2a5.9 5.9 0 1 0 11.8 0a5.9 5.9 0 1 0-11.8 0M357.4 577.2a5.9 5.9 0 1 0 11.8 0a5.9 5.9 0 1 0-11.8 0M327 563.3a5.9 5.9 0 1 0 11.8 0a5.9 5.9 0 1 0-11.8 0M372.1 575.7a5.9 5.9 0 1 0 11.8 0a5.9 5.9 0 1 0-11.8 0M269 582.3a5.9 5.9 0 1 0 11.8 0a5.9 5.9 0 1 0-11.8 0M242.3 583.5a5.9 5.9 0 1 0 11.8 0a5.9 5.9 0 1 0-11.8 0M270.8 567.8a5.9 5.9 0 1 0 11.8 0a5.9 5.9 0 1 0-11.8 0M262.8 582.2a5.9 5.9 0 1 0 11.8 0a5.9 5.9 0 1 0-11.8 0M347.7 575.4a5.9 5.9 0 1 0 11.8 0a5.9 5.9 0 1 0-11.8 0M348.2 572.2a5.9 5.9 0 1 0 11.8 0a5.9 5.9 0 1 0-11.8 0M358.6 564.2a5.9 5.9 0 1 0 11.8 0a5.9 5.9 0 1 0-11.8 0M279.9 560.7a5.9 5.9 0 1 0 11.8 0a5.9 5.9 0 1 0-11.8 0M313.3 561a5.9 5.9 0 1 0 11.8 0a5.9 5.9 0 1 0-11.8 0M319.3 563.3a5.9 5.9 0 1 0 11.8 0a5.9 5.9 0 1 0-11.8 0M328.2 577a5.9 5.9 0 1 0 11.8 0a5.9 5.9 0 1 0-11.8 0M278.8 562.2a5.9 5.9 0 1 0 11.8 0a5.9 5.9 0 1 0-11.8 0M339.9 564.4a5.9 5.9 0 1 0 11.8 0a5.9 5.9 0 1 0-11.8 0M339.2 573.7a5.9 5.9 0 1 0 11.8 0a5.9 5.9 0 1 0-11.8 0M339.9 572.8a5.9 5.9 0 1 0 11.8 0a5.9 5.9 0 1 0-11.8 0M313.3 557.5a5.9 5.9 0 1 0 11.8 0a5.9 5.9 0 1 0-11.8 0M247.8 560.5a5.9 5.9 0 1 0 11.8 0a5.9 5.9 0 1 0-11.8 0M277.3 581.6a5.9 5.9 0 1 0 11.8 0a5.9 5.9 0 1 0-11.8 0M306.9 559.8a5.9 5.9 0 1 0 11.8 0a5.9 5.9 0 1 0-11.8 0M257.9 581.9a5.9 5.9 0 1 0 11.8 0a5.9 5.9 0 1 0-11.8 0M294.2 580.3a5.9 5.9 0 1 0 11.8 0a5.9 5.9 0 1 0-11.8 0M252 571.7a5.9 5.9 0 1 0 11.8 0a5.9 5.9 0 1 0-11.8 0M311.9 567.5a5.9 5.9 0 1 0 11.8 0a5.9 5.9 0 1 0-11.8 0M288.7 563.3a5.9 5.9 0 1 0 11.8 0a5.9 5.9 0 1 0-11.8 0M347 565.8a5.9 5.9 0 1 0 11.8 0a5.9 5.9 0 1 0-11.8 0M335 575.5a5.9 5.9 0 1 0 11.8 0a5.9 5.9 0 1 0-11.8 0M305.3 559.7a5.9 5.9 0 1 0 11.8 0a5.9 5.9 0 1 0-11.8 0M288.5 574.9a5.9 5.9 0 1 0 11.8 0a5.9 5.9 0 1 0-11.8 0M319.8 567.4a5.9 5.9 0 1 0 11.8 0a5.9 5.9 0 1 0-11.8 0M326.2 581.7a5.9 5.9 0 1 0 11.8 0a5.9 5.9 0 1 0-11.8 0M306.3 592.5a5.9 5.9 0 1 0 11.8 0a5.9 5.9 0 1 0-11.8 0M291.2 570.4a5.9 5.9 0 1 0 11.8 0a5.9 5.9 0 1 0-11.8 0M302.7 591.5a5.9 5.9 0 1 0 11.8 0a5.9 5.9 0 1 0-11.8 0M324.7 567.5a5.9 5.9 0 1 0 11.8 0a5.9 5.9 0 1 0-11.8 0M325.1 586.8a5.9 5.9 0 1 0 11.8 0a5.9 5.9 0 1 0-11.8 0M318.3 581a5.9 5.9 0 1 0 11.8 0a5.9 5.9 0 1 0-11.8 0M325 582.1a5.9 5.9 0 1 0 11.8 0a5.9 5.9 0 1 0-11.8 0M256.5 562.6a5.9 5.9 0 1 0 11.8 0a5.9 5.9 0 1 0-11.8 0M236.5 569.6a5.9 5.9 0 1 0 11.8 0a5.9 5.9 0 1 0-11.8 0M266 581.2a5.9 5.9 0 1 0 11.8 0a5.9 5.9 0 1 0-11.8 0M249.4 561.8a5.9 5.9 0 1 0 11.8 0a5.9 5.9 0 1 0-11.8 0M307.1 589.1a5.9 5.9 0 1 0 11.8 0a5.9 5.9 0 1 0-11.8 0M302.4 558.8a5.9 5.9 0 1 0 11.8 0a5.9 5.9 0 1 0-11.8 0M363.3 579.7a5.9 5.9 0 1 0 11.8 0a5.9 5.9 0 1 0-11.8 0M301.7 595.7a5.9 5.9 0 1 0 11.8 0a5.9 5.9 0 1 0-11.8 0M328.9 582.1a5.9 5.9 0 1 0 11.8 0a5.9 5.9 0 1 0-11.8 0M293.2 559.9a5.9 5.9 0 1 0 11.8 0a5.9 5.9 0 1 0-11.8 0M294.3 556.7a5.9 5.9 0 1 0 11.8 0a5.9 5.9 0 1 0-11.8 0M258.9 575.5a5.9 5.9 0 1 0 11.8 0a5.9 5.9 0 1 0-11.8 0M296.9 582.8a5.9 5.9 0 1 0 11.8 0a5.9 5.9 0 1 0-11.8 0M317.1 588.2a5.9 5.9 0 1 0 11.8 0a5.9 5.9 0 1 0-11.8 0M241.2 575.7a5.9 5.9 0 1 0 11.8 0a5.9 5.9 0 1 0-11.8 0M258 576.8a5.9 5.9 0 1 0 11.8 0a5.9 5.9 0 1 0-11.8 0M357.3 569.8a5.9 5.9 0 1 0 11.8 0a5.9 5.9 0 1 0-11.8 0M306.9 564.2a5.9 5.9 0 1 0 11.8 0a5.9 5.9 0 1 0-11.8 0M358.7 579.5a5.9 5.9 0 1 0 11.8 0a5.9 5.9 0 1 0-11.8 0M298.7 575.9a5.9 5.9 0 1 0 11.8 0a5.9 5.9 0 1 0-11.8 0M264.1 574.7a5.9 5.9 0 1 0 11.8 0a5.9 5.9 0 1 0-11.8 0M305.3 568.8a5.9 5.9 0 1 0 11.8 0a5.9 5.9 0 1 0-11.8 0M241 582.2a5.9 5.9 0 1 0 11.8 0a5.9 5.9 0 1 0-11.8 0M260.8 573.3a5.9 5.9 0 1 0 11.8 0a5.9 5.9 0 1 0-11.8 0M350.3 575.2a5.9 5.9 0 1 0 11.8 0a5.9 5.9 0 1 0-11.8 0M283.3 562.1a5.9 5.9 0 1 0 11.8 0a5.9 5.9 0 1 0-11.8 0M302.6 569.1a5.9 5.9 0 1 0 11.8 0a5.9 5.9 0 1 0-11.8 0M340 578.4a5.9 5.9 0 1 0 11.8 0a5.9 5.9 0 1 0-11.8 0M292.3 570.2a5.9 5.9 0 1 0 11.8 0a5.9 5.9 0 1 0-11.8 0M370.5 573.8a5.9 5.9 0 1 0 11.8 0a5.9 5.9 0 1 0-11.8 0M300.1 591a5.9 5.9 0 1 0 11.8 0a5.9 5.9 0 1 0-11.8 0M324.9 566.8a5.9 5.9 0 1 0 11.8 0a5.9 5.9 0 1 0-11.8 0M242.8 559.1a5.9 5.9 0 1 0 11.8 0a5.9 5.9 0 1 0-11.8 0M287.4 578.5a5.9 5.9 0 1 0 11.8 0a5.9 5.9 0 1 0-11.8 0M275.3 558.1a5.9 5.9 0 1 0 11.8 0a5.9 5.9 0 1 0-11.8 0M330.4 582.6a5.9 5.9 0 1 0 11.8 0a5.9 5.9 0 1 0-11.8 0M355.4 566a5.9 5.9 0 1 0 11.8 0a5.9 5.9 0 1 0-11.8 0M297.3 557.2a5.9 5.9 0 1 0 11.8 0a5.9 5.9 0 1 0-11.8 0M309.2 558.7a5.9 5.9 0 1 0 11.8 0a5.9 5.9 0 1 0-11.8 0M303.5 564.2a5.9 5.9 0 1 0 11.8 0a5.9 5.9 0 1 0-11.8 0M262.1 584.2a5.9 5.9 0 1 0 11.8 0a5.9 5.9 0 1 0-11.8 0M268.8 562.8a5.9 5.9 0 1 0 11.8 0a5.9 5.9 0 1 0-11.8 0M275.4 572.1a5.9 5.9 0 1 0 11.8 0a5.9 5.9 0 1 0-11.8 0M328.5 580.6a5.9 5.9 0 1 0 11.8 0a5.9 5.9 0 1 0-11.8 0M315.5 585.3a5.9 5.9 0 1 0 11.8 0a5.9 5.9 0 1 0-11.8 0M244.7 560.3a5.9 5.9 0 1 0 11.8 0a5.9 5.9 0 1 0-11.8 0M313.7 583.4a5.9 5.9 0 1 0 11.8 0a5.9 5.9 0 1 0-11.8 0M310.6 581.2a5.9 5.9 0 1 0 11.8 0a5.9 5.9 0 1 0-11.8 0M294.5 559a5.9 5.9 0 1 0 11.8 0a5.9 5.9 0 1 0-11.8 0M296.3 584.7a5.9 5.9 0 1 0 11.8 0a5.9 5.9 0 1 0-11.8 0M277.4 577.7a5.9 5.9 0 1 0 11.8 0a5.9 5.9 0 1 0-11.8 0M252.4 574.4a5.9 5.9 0 1 0 11.8 0a5.9 5.9 0 1 0-11.8 0M293.6 589.4a5.9 5.9 0 1 0 11.8 0a5.9 5.9 0 1 0-11.8 0M248.9 558.5a5.9 5.9 0 1 0 11.8 0a5.9 5.9 0 1 0-11.8 0M323.4 564.9a5.9 5.9 0 1 0 11.8 0a5.9 5.9 0 1 0-11.8 0M295.3 561.2a5.9 5.9 0 1 0 11.8 0a5.9 5.9 0 1 0-11.8 0M293.6 591.7a5.9 5.9 0 1 0 11.8 0a5.9 5.9 0 1 0-11.8 0M261.1 569.2a5.9 5.9 0 1 0 11.8 0a5.9 5.9 0 1 0-11.8 0M308.6 587.3a5.9 5.9 0 1 0 11.8 0a5.9 5.9 0 1 0-11.8 0M300.9 560.9a5.9 5.9 0 1 0 11.8 0a5.9 5.9 0 1 0-11.8 0M240.6 563a5.9 5.9 0 1 0 11.8 0a5.9 5.9 0 1 0-11.8 0M274.9 583.5a5.9 5.9 0 1 0 11.8 0a5.9 5.9 0 1 0-11.8 0M325 569.3a5.9 5.9 0 1 0 11.8 0a5.9 5.9 0 1 0-11.8 0M271.3 584.1a5.9 5.9 0 1 0 11.8 0a5.9 5.9 0 1 0-11.8 0M354.5 565.3a5.9 5.9 0 1 0 11.8 0a5.9 5.9 0 1 0-11.8 0M319.7 561.4a5.9 5.9 0 1 0 11.8 0a5.9 5.9 0 1 0-11.8 0M346.6 585.5a5.9 5.9 0 1 0 11.8 0a5.9 5.9 0 1 0-11.8 0M361.2 578.6a5.9 5.9 0 1 0 11.8 0a5.9 5.9 0 1 0-11.8 0M353.1 568.1a5.9 5.9 0 1 0 11.8 0a5.9 5.9 0 1 0-11.8 0M254.7 566a5.9 5.9 0 1 0 11.8 0a5.9 5.9 0 1 0-11.8 0M291 588.8a5.9 5.9 0 1 0 11.8 0a5.9 5.9 0 1 0-11.8 0M341.9 569a5.9 5.9 0 1 0 11.8 0a5.9 5.9 0 1 0-11.8 0M290 585.1a5.9 5.9 0 1 0 11.8 0a5.9 5.9 0 1 0-11.8 0M276.2 572.7a5.9 5.9 0 1 0 11.8 0a5.9 5.9 0 1 0-11.8 0M264.4 569.7a5.9 5.9 0 1 0 11.8 0a5.9 5.9 0 1 0-11.8 0M247 572.6a5.9 5.9 0 1 0 11.8 0a5.9 5.9 0 1 0-11.8 0M345.2 564.1a5.9 5.9 0 1 0 11.8 0a5.9 5.9 0 1 0-11.8 0M283.8 566.6a5.9 5.9 0 1 0 11.8 0a5.9 5.9 0 1 0-11.8 0M259 557.9a5.9 5.9 0 1 0 11.8 0a5.9 5.9 0 1 0-11.8 0M347.3 562.7a5.9 5.9 0 1 0 11.8 0a5.9 5.9 0 1 0-11.8 0M265.8 563.3a5.9 5.9 0 1 0 11.8 0a5.9 5.9 0 1 0-11.8 0M250.7 564.3a5.9 5.9 0 1 0 11.8 0a5.9 5.9 0 1 0-11.8 0M266.4 565.9a5.9 5.9 0 1 0 11.8 0a5.9 5.9 0 1 0-11.8 0M329.1 569.4a5.9 5.9 0 1 0 11.8 0a5.9 5.9 0 1 0-11.8 0M300.3 558.8a5.9 5.9 0 1 0 11.8 0a5.9 5.9 0 1 0-11.8 0M296.3 556.5a5.9 5.9 0 1 0 11.8 0a5.9 5.9 0 1 0-11.8 0M338.7 577.9a5.9 5.9 0 1 0 11.8 0a5.9 5.9 0 1 0-11.8 0M260 565.2a5.9 5.9 0 1 0 11.8 0a5.9 5.9 0 1 0-11.8 0M316.3 568.5a5.9 5.9 0 1 0 11.8 0a5.9 5.9 0 1 0-11.8 0M340.5 580.8a5.9 5.9 0 1 0 11.8 0a5.9 5.9 0 1 0-11.8 0M334.8 574.1a5.9 5.9 0 1 0 11.8 0a5.9 5.9 0 1 0-11.8 0M319 561.8a5.9 5.9 0 1 0 11.8 0a5.9 5.9 0 1 0-11.8 0M278.4 565a5.9 5.9 0 1 0 11.8 0a5.9 5.9 0 1 0-11.8 0M289.8 558.6a5.9 5.9 0 1 0 11.8 0a5.9 5.9 0 1 0-11.8 0M259.3 576.8a5.9 5.9 0 1 0 11.8 0a5.9 5.9 0 1 0-11.8 0M315.8 578.9a5.9 5.9 0 1 0 11.8 0a5.9 5.9 0 1 0-11.8 0M264 579.4a5.9 5.9 0 1 0 11.8 0a5.9 5.9 0 1 0-11.8 0M346 575.1a5.9 5.9 0 1 0 11.8 0a5.9 5.9 0 1 0-11.8 0M284.4 561.9a5.9 5.9 0 1 0 11.8 0a5.9 5.9 0 1 0-11.8 0M247.3 569.1a5.9 5.9 0 1 0 11.8 0a5.9 5.9 0 1 0-11.8 0M254.8 566.1a5.9 5.9 0 1 0 11.8 0a5.9 5.9 0 1 0-11.8 0M331.4 569.9a5.9 5.9 0 1 0 11.8 0a5.9 5.9 0 1 0-11.8 0M353.3 572.4a5.9 5.9 0 1 0 11.8 0a5.9 5.9 0 1 0-11.8 0M272.1 579.9a5.9 5.9 0 1 0 11.8 0a5.9 5.9 0 1 0-11.8 0M328.9 563.6a5.9 5.9 0 1 0 11.8 0a5.9 5.9 0 1 0-11.8 0M238 564.3a5.9 5.9 0 1 0 11.8 0a5.9 5.9 0 1 0-11.8 0M325.3 577.6a5.9 5.9 0 1 0 11.8 0a5.9 5.9 0 1 0-11.8 0M276.2 567.4a5.9 5.9 0 1 0 11.8 0a5.9 5.9 0 1 0-11.8 0M330.6 573.6a5.9 5.9 0 1 0 11.8 0a5.9 5.9 0 1 0-11.8 0M315.5 585.2a5.9 5.9 0 1 0 11.8 0a5.9 5.9 0 1 0-11.8 0M243.5 572.6a5.9 5.9 0 1 0 11.8 0a5.9 5.9 0 1 0-11.8 0M291.4 590.6a5.9 5.9 0 1 0 11.8 0a5.9 5.9 0 1 0-11.8 0M343.1 574.6a5.9 5.9 0 1 0 11.8 0a5.9 5.9 0 1 0-11.8 0M290.3 588.8a5.9 5.9 0 1 0 11.8 0a5.9 5.9 0 1 0-11.8 0M275.1 584.3a5.9 5.9 0 1 0 11.8 0a5.9 5.9 0 1 0-11.8 0M301.7 567.2a5.9 5.9 0 1 0 11.8 0a5.9 5.9 0 1 0-11.8 0M244.8 578.9a5.9 5.9 0 1 0 11.8 0a5.9 5.9 0 1 0-11.8 0M336.2 573.5a5.9 5.9 0 1 0 11.8 0a5.9 5.9 0 1 0-11.8 0M324 563.9a5.9 5.9 0 1 0 11.8 0a5.9 5.9 0 1 0-11.8 0M304 560.8a5.9 5.9 0 1 0 11.8 0a5.9 5.9 0 1 0-11.8 0M236.3 573.2a5.9 5.9 0 1 0 11.8 0a5.9 5.9 0 1 0-11.8 0M270 558a5.9 5.9 0 1 0 11.8 0a5.9 5.9 0 1 0-11.8 0M307.1 584.8a5.9 5.9 0 1 0 11.8 0a5.9 5.9 0 1 0-11.8 0M295 569a5.9 5.9 0 1 0 11.8 0a5.9 5.9 0 1 0-11.8 0M258.6 579.9a5.9 5.9 0 1 0 11.8 0a5.9 5.9 0 1 0-11.8 0M330.8 578.1a5.9 5.9 0 1 0 11.8 0a5.9 5.9 0 1 0-11.8 0M299.6 580.9a5.9 5.9 0 1 0 11.8 0a5.9 5.9 0 1 0-11.8 0M347.6 568.8a5.9 5.9 0 1 0 11.8 0a5.9 5.9 0 1 0-11.8 0M263.2 576.5a5.9 5.9 0 1 0 11.8 0a5.9 5.9 0 1 0-11.8 0M241.4 562.6a5.9 5.9 0 1 0 11.8 0a5.9 5.9 0 1 0-11.8 0M332.4 572.2a5.9 5.9 0 1 0 11.8 0a5.9 5.9 0 1 0-11.8 0M345.4 568.7a5.9 5.9 0 1 0 11.8 0a5.9 5.9 0 1 0-11.8 0M243.1 558.1a5.9 5.9 0 1 0 11.8 0a5.9 5.9 0 1 0-11.8 0M327.1 579.4a5.9 5.9 0 1 0 11.8 0a5.9 5.9 0 1 0-11.8 0M371.5 578.8a5.9 5.9 0 1 0 11.8 0a5.9 5.9 0 1 0-11.8 0M306.1 577.1a5.9 5.9 0 1 0 11.8 0a5.9 5.9 0 1 0-11.8 0M285.3 577a5.9 5.9 0 1 0 11.8 0a5.9 5.9 0 1 0-11.8 0M332.6 576.7a5.9 5.9 0 1 0 11.8 0a5.9 5.9 0 1 0-11.8 0M338.5 572.1a5.9 5.9 0 1 0 11.8 0a5.9 5.9 0 1 0-11.8 0M321.3 573.7a5.9 5.9 0 1 0 11.8 0a5.9 5.9 0 1 0-11.8 0M313.1 588.5a5.9 5.9 0 1 0 11.8 0a5.9 5.9 0 1 0-11.8 0M251.3 557.8a5.9 5.9 0 1 0 11.8 0a5.9 5.9 0 1 0-11.8 0M266 566a5.9 5.9 0 1 0 11.8 0a5.9 5.9 0 1 0-11.8 0M256 579.9a5.9 5.9 0 1 0 11.8 0a5.9 5.9 0 1 0-11.8 0M298.3 575.2a5.9 5.9 0 1 0 11.8 0a5.9 5.9 0 1 0-11.8 0M281.9 563.5a5.9 5.9 0 1 0 11.8 0a5.9 5.9 0 1 0-11.8 0M275.2 568.4a5.9 5.9 0 1 0 11.8 0a5.9 5.9 0 1 0-11.8 0M334.9 577.4a5.9 5.9 0 1 0 11.8 0a5.9 5.9 0 1 0-11.8 0M283 579.2a5.9 5.9 0 1 0 11.8 0a5.9 5.9 0 1 0-11.8 0M294 572.4a5.9 5.9 0 1 0 11.8 0a5.9 5.9 0 1 0-11.8 0M320.3 578.4a5.9 5.9 0 1 0 11.8 0a5.9 5.9 0 1 0-11.8 0M310.6 579.3a5.9 5.9 0 1 0 11.8 0a5.9 5.9 0 1 0-11.8 0M262.5 563.3a5.9 5.9 0 1 0 11.8 0a5.9 5.9 0 1 0-11.8 0M312.7 566a5.9 5.9 0 1 0 11.8 0a5.9 5.9 0 1 0-11.8 0M299.5 558a5.9 5.9 0 1 0 11.8 0a5.9 5.9 0 1 0-11.8 0M285.2 563.1a5.9 5.9 0 1 0 11.8 0a5.9 5.9 0 1 0-11.8 0M303 594a5.9 5.9 0 1 0 11.8 0a5.9 5.9 0 1 0-11.8 0M259.5 565.1a5.9 5.9 0 1 0 11.8 0a5.9 5.9 0 1 0-11.8 0M282 568.4a5.9 5.9 0 1 0 11.8 0a5.9 5.9 0 1 0-11.8 0M248.6 559.8a5.9 5.9 0 1 0 11.8 0a5.9 5.9 0 1 0-11.8 0M307 588.8a5.9 5.9 0 1 0 11.8 0a5.9 5.9 0 1 0-11.8 0M242.9 566.2a5.9 5.9 0 1 0 11.8 0a5.9 5.9 0 1 0-11.8 0M285.1 563.4a5.9 5.9 0 1 0 11.8 0a5.9 5.9 0 1 0-11.8 0M281.6 577.1a5.9 5.9 0 1 0 11.8 0a5.9 5.9 0 1 0-11.8 0M292.8 595.3a5.9 5.9 0 1 0 11.8 0a5.9 5.9 0 1 0-11.8 0M280.5 571.2a5.9 5.9 0 1 0 11.8 0a5.9 5.9 0 1 0-11.8 0M303.9 559.2a5.9 5.9 0 1 0 11.8 0a5.9 5.9 0 1 0-11.8 0M345.7 578.1a5.9 5.9 0 1 0 11.8 0a5.9 5.9 0 1 0-11.8 0M293 558.5a5.9 5.9 0 1 0 11.8 0a5.9 5.9 0 1 0-11.8 0M284 576.6a5.9 5.9 0 1 0 11.8 0a5.9 5.9 0 1 0-11.8 0M288.3 575.1a5.9 5.9 0 1 0 11.8 0a5.9 5.9 0 1 0-11.8 0M268.7 565.7a5.9 5.9 0 1 0 11.8 0a5.9 5.9 0 1 0-11.8 0M247.2 583.1a5.9 5.9 0 1 0 11.8 0a5.9 5.9 0 1 0-11.8 0M274.2 568.4a5.9 5.9 0 1 0 11.8 0a5.9 5.9 0 1 0-11.8 0M304.7 580.3a5.9 5.9 0 1 0 11.8 0a5.9 5.9 0 1 0-11.8 0M276.6 566.8a5.9 5.9 0 1 0 11.8 0a5.9 5.9 0 1 0-11.8 0M289.7 590.7a5.9 5.9 0 1 0 11.8 0a5.9 5.9 0 1 0-11.8 0M286.2 557.8a5.9 5.9 0 1 0 11.8 0a5.9 5.9 0 1 0-11.8 0M327 559.9a5.9 5.9 0 1 0 11.8 0a5.9 5.9 0 1 0-11.8 0M356.9 575.8a5.9 5.9 0 1 0 11.8 0a5.9 5.9 0 1 0-11.8 0M271.1 579.1a5.9 5.9 0 1 0 11.8 0a5.9 5.9 0 1 0-11.8 0M241.6 579.3a5.9 5.9 0 1 0 11.8 0a5.9 5.9 0 1 0-11.8 0M274.3 565.1a5.9 5.9 0 1 0 11.8 0a5.9 5.9 0 1 0-11.8 0M295 584.2a5.9 5.9 0 1 0 11.8 0a5.9 5.9 0 1 0-11.8 0M302.4 561.1a5.9 5.9 0 1 0 11.8 0a5.9 5.9 0 1 0-11.8 0M329.3 574.7a5.9 5.9 0 1 0 11.8 0a5.9 5.9 0 1 0-11.8 0M309.4 561.6a5.9 5.9 0 1 0 11.8 0a5.9 5.9 0 1 0-11.8 0M305.1 568.8a5.9 5.9 0 1 0 11.8 0a5.9 5.9 0 1 0-11.8 0M350.1 575.3a5.9 5.9 0 1 0 11.8 0a5.9 5.9 0 1 0-11.8 0M261.3 563.7a5.9 5.9 0 1 0 11.8 0a5.9 5.9 0 1 0-11.8 0M253.5 577.1a5.9 5.9 0 1 0 11.8 0a5.9 5.9 0 1 0-11.8 0M323.1 566.9a5.9 5.9 0 1 0 11.8 0a5.9 5.9 0 1 0-11.8 0M253.4 560.9a5.9 5.9 0 1 0 11.8 0a5.9 5.9 0 1 0-11.8 0M354.8 569.9a5.9 5.9 0 1 0 11.8 0a5.9 5.9 0 1 0-11.8 0M260.5 574.1a5.9 5.9 0 1 0 11.8 0a5.9 5.9 0 1 0-11.8 0M353.1 582.8a5.9 5.9 0 1 0 11.8 0a5.9 5.9 0 1 0-11.8 0M268.8 560.6a5.9 5.9 0 1 0 11.8 0a5.9 5.9 0 1 0-11.8 0M348.2 582.2a5.9 5.9 0 1 0 11.8 0a5.9 5.9 0 1 0-11.8 0M277.7 561.3a5.9 5.9 0 1 0 11.8 0a5.9 5.9 0 1 0-11.8 0M303.6 560a5.9 5.9 0 1 0 11.8 0a5.9 5.9 0 1 0-11.8 0M325.9 574.3a5.9 5.9 0 1 0 11.8 0a5.9 5.9 0 1 0-11.8 0M359.7 573.6a5.9 5.9 0 1 0 11.8 0a5.9 5.9 0 1 0-11.8 0M311.4 561.2a5.9 5.9 0 1 0 11.8 0a5.9 5.9 0 1 0-11.8 0M318.7 577.5a5.9 5.9 0 1 0 11.8 0a5.9 5.9 0 1 0-11.8 0M310.7 575a5.9 5.9 0 1 0 11.8 0a5.9 5.9 0 1 0-11.8 0M334.3 580.1a5.9 5.9 0 1 0 11.8 0a5.9 5.9 0 1 0-11.8 0M308.7 573.5a5.9 5.9 0 1 0 11.8 0a5.9 5.9 0 1 0-11.8 0M290.3 576a5.9 5.9 0 1 0 11.8 0a5.9 5.9 0 1 0-11.8 0M305.2 562.9a5.9 5.9 0 1 0 11.8 0a5.9 5.9 0 1 0-11.8 0M292.7 558.1a5.9 5.9 0 1 0 11.8 0a5.9 5.9 0 1 0-11.8 0M313 561.2a5.9 5.9 0 1 0 11.8 0a5.9 5.9 0 1 0-11.8 0M266.9 557.4a5.9 5.9 0 1 0 11.8 0a5.9 5.9 0 1 0-11.8 0M305.8 557.8a5.9 5.9 0 1 0 11.8 0a5.9 5.9 0 1 0-11.8 0M301.9 583.9a5.9 5.9 0 1 0 11.8 0a5.9 5.9 0 1 0-11.8 0M253.1 570.5a5.9 5.9 0 1 0 11.8 0a5.9 5.9 0 1 0-11.8 0M277.2 575a5.9 5.9 0 1 0 11.8 0a5.9 5.9 0 1 0-11.8 0M278.9 571.8a5.9 5.9 0 1 0 11.8 0a5.9 5.9 0 1 0-11.8 0M323.5 588a5.9 5.9 0 1 0 11.8 0a5.9 5.9 0 1 0-11.8 0M336.3 574a5.9 5.9 0 1 0 11.8 0a5.9 5.9 0 1 0-11.8 0M258.8 561.1a5.9 5.9 0 1 0 11.8 0a5.9 5.9 0 1 0-11.8 0M318.8 584.7a5.9 5.9 0 1 0 11.8 0a5.9 5.9 0 1 0-11.8 0M276.3 581.4a5.9 5.9 0 1 0 11.8 0a5.9 5.9 0 1 0-11.8 0M244.9 581.6a5.9 5.9 0 1 0 11.8 0a5.9 5.9 0 1 0-11.8 0M355.3 566.2a5.9 5.9 0 1 0 11.8 0a5.9 5.9 0 1 0-11.8 0M369.6 573.7a5.9 5.9 0 1 0 11.8 0a5.9 5.9 0 1 0-11.8 0M360.2 571.3a5.9 5.9 0 1 0 11.8 0a5.9 5.9 0 1 0-11.8 0M314.9 587.4a5.9 5.9 0 1 0 11.8 0a5.9 5.9 0 1 0-11.8 0M347.6 582.6a5.9 5.9 0 1 0 11.8 0a5.9 5.9 0 1 0-11.8 0M334.8 580.7a5.9 5.9 0 1 0 11.8 0a5.9 5.9 0 1 0-11.8 0M271.1 557.2a5.9 5.9 0 1 0 11.8 0a5.9 5.9 0 1 0-11.8 0M294 564.2a5.9 5.9 0 1 0 11.8 0a5.9 5.9 0 1 0-11.8 0M267.6 563.7a5.9 5.9 0 1 0 11.8 0a5.9 5.9 0 1 0-11.8 0M310.5 561.6a5.9 5.9 0 1 0 11.8 0a5.9 5.9 0 1 0-11.8 0M354.2 581.6a5.9 5.9 0 1 0 11.8 0a5.9 5.9 0 1 0-11.8 0M253.8 564.8a5.9 5.9 0 1 0 11.8 0a5.9 5.9 0 1 0-11.8 0M292 557.3a5.9 5.9 0 1 0 11.8 0a5.9 5.9 0 1 0-11.8 0M270.7 580a5.9 5.9 0 1 0 11.8 0a5.9 5.9 0 1 0-11.8 0M286.5 586.7a5.9 5.9 0 1 0 11.8 0a5.9 5.9 0 1 0-11.8 0M247.6 583.3a5.9 5.9 0 1 0 11.8 0a5.9 5.9 0 1 0-11.8 0M305.3 592.6a5.9 5.9 0 1 0 11.8 0a5.9 5.9 0 1 0-11.8 0M294.8 571.4a5.9 5.9 0 1 0 11.8 0a5.9 5.9 0 1 0-11.8 0M329.9 571a5.9 5.9 0 1 0 11.8 0a5.9 5.9 0 1 0-11.8 0M293.4 571.9a5.9 5.9 0 1 0 11.8 0a5.9 5.9 0 1 0-11.8 0M306.8 558.7a5.9 5.9 0 1 0 11.8 0a5.9 5.9 0 1 0-11.8 0M248.8 565.5a5.9 5.9 0 1 0 11.8 0a5.9 5.9 0 1 0-11.8 0M301.4 569.3a5.9 5.9 0 1 0 11.8 0a5.9 5.9 0 1 0-11.8 0M296.9 569.6a5.9 5.9 0 1 0 11.8 0a5.9 5.9 0 1 0-11.8 0M286 574.5a5.9 5.9 0 1 0 11.8 0a5.9 5.9 0 1 0-11.8 0M295.1 560.5a5.9 5.9 0 1 0 11.8 0a5.9 5.9 0 1 0-11.8 0M295.8 589a5.9 5.9 0 1 0 11.8 0a5.9 5.9 0 1 0-11.8 0M293.4 593.4a5.9 5.9 0 1 0 11.8 0a5.9 5.9 0 1 0-11.8 0M337.8 568.4a5.9 5.9 0 1 0 11.8 0a5.9 5.9 0 1 0-11.8 0M334.6 574.8a5.9 5.9 0 1 0 11.8 0a5.9 5.9 0 1 0-11.8 0M269.3 569.5a5.9 5.9 0 1 0 11.8 0a5.9 5.9 0 1 0-11.8 0M246.8 561.5a5.9 5.9 0 1 0 11.8 0a5.9 5.9 0 1 0-11.8 0M352.8 579a5.9 5.9 0 1 0 11.8 0a5.9 5.9 0 1 0-11.8 0M323.4 572.8a5.9 5.9 0 1 0 11.8 0a5.9 5.9 0 1 0-11.8 0M355.8 569.5a5.9 5.9 0 1 0 11.8 0a5.9 5.9 0 1 0-11.8 0M308.7 571.4a5.9 5.9 0 1 0 11.8 0a5.9 5.9 0 1 0-11.8 0M301.5 574.4a5.9 5.9 0 1 0 11.8 0a5.9 5.9 0 1 0-11.8 0M258.5 574.1a5.9 5.9 0 1 0 11.8 0a5.9 5.9 0 1 0-11.8 0M263.8 576.7a5.9 5.9 0 1 0 11.8 0a5.9 5.9 0 1 0-11.8 0M310.3 580a5.9 5.9 0 1 0 11.8 0a5.9 5.9 0 1 0-11.8 0M246.8 571.8a5.9 5.9 0 1 0 11.8 0a5.9 5.9 0 1 0-11.8 0M334.1 565.1a5.9 5.9 0 1 0 11.8 0a5.9 5.9 0 1 0-11.8 0M310.6 568.1a5.9 5.9 0 1 0 11.8 0a5.9 5.9 0 1 0-11.8 0M283.4 583.3a5.9 5.9 0 1 0 11.8 0a5.9 5.9 0 1 0-11.8 0M303 560.1a5.9 5.9 0 1 0 11.8 0a5.9 5.9 0 1 0-11.8 0M243.9 580.6a5.9 5.9 0 1 0 11.8 0a5.9 5.9 0 1 0-11.8 0M352.2 582.2a5.9 5.9 0 1 0 11.8 0a5.9 5.9 0 1 0-11.8 0M309.1 578.4a5.9 5.9 0 1 0 11.8 0a5.9 5.9 0 1 0-11.8 0M305.1 587.8a5.9 5.9 0 1 0 11.8 0a5.9 5.9 0 1 0-11.8 0M310.9 573.7a5.9 5.9 0 1 0 11.8 0a5.9 5.9 0 1 0-11.8 0M271.9 572.4a5.9 5.9 0 1 0 11.8 0a5.9 5.9 0 1 0-11.8 0M301.4 578.5a5.9 5.9 0 1 0 11.8 0a5.9 5.9 0 1 0-11.8 0M243.5 572.9a5.9 5.9 0 1 0 11.8 0a5.9 5.9 0 1 0-11.8 0M363.6 574a5.9 5.9 0 1 0 11.8 0a5.9 5.9 0 1 0-11.8 0M340.6 583a5.9 5.9 0 1 0 11.8 0a5.9 5.9 0 1 0-11.8 0M368.7 579.6a5.9 5.9 0 1 0 11.8 0a5.9 5.9 0 1 0-11.8 0M249.8 580a5.9 5.9 0 1 0 11.8 0a5.9 5.9 0 1 0-11.8 0M325.6 571.7a5.9 5.9 0 1 0 11.8 0a5.9 5.9 0 1 0-11.8 0M324.7 560.1a5.9 5.9 0 1 0 11.8 0a5.9 5.9 0 1 0-11.8 0M304.4 578.8a5.9 5.9 0 1 0 11.8 0a5.9 5.9 0 1 0-11.8 0M298.5 569a5.9 5.9 0 1 0 11.8 0a5.9 5.9 0 1 0-11.8 0M300.6 560a5.9 5.9 0 1 0 11.8 0a5.9 5.9 0 1 0-11.8 0M298.8 585.1a5.9 5.9 0 1 0 11.8 0a5.9 5.9 0 1 0-11.8 0M250.8 563.2a5.9 5.9 0 1 0 11.8 0a5.9 5.9 0 1 0-11.8 0M251.4 571.7a5.9 5.9 0 1 0 11.8 0a5.9 5.9 0 1 0-11.8 0M238.2 571.1a5.9 5.9 0 1 0 11.8 0a5.9 5.9 0 1 0-11.8 0M357.6 577.8a5.9 5.9 0 1 0 11.8 0a5.9 5.9 0 1 0-11.8 0M249.4 579a5.9 5.9 0 1 0 11.8 0a5.9 5.9 0 1 0-11.8 0M319.9 584.9a5.9 5.9 0 1 0 11.8 0a5.9 5.9 0 1 0-11.8 0M257.2 567.4a5.9 5.9 0 1 0 11.8 0a5.9 5.9 0 1 0-11.8 0M289.3 578.2a5.9 5.9 0 1 0 11.8 0a5.9 5.9 0 1 0-11.8 0M349.2 576.6a5.9 5.9 0 1 0 11.8 0a5.9 5.9 0 1 0-11.8 0M329.5 578.9a5.9 5.9 0 1 0 11.8 0a5.9 5.9 0 1 0-11.8 0M289 560.5a5.9 5.9 0 1 0 11.8 0a5.9 5.9 0 1 0-11.8 0M334.9 580.8a5.9 5.9 0 1 0 11.8 0a5.9 5.9 0 1 0-11.8 0M347.2 565.3a5.9 5.9 0 1 0 11.8 0a5.9 5.9 0 1 0-11.8 0M243.8 577.6a5.9 5.9 0 1 0 11.8 0a5.9 5.9 0 1 0-11.8 0M283.4 562.8a5.9 5.9 0 1 0 11.8 0a5.9 5.9 0 1 0-11.8 0M327.6 566.9a5.9 5.9 0 1 0 11.8 0a5.9 5.9 0 1 0-11.8 0M276.8 565.2a5.9 5.9 0 1 0 11.8 0a5.9 5.9 0 1 0-11.8 0M301.2 576.2a5.9 5.9 0 1 0 11.8 0a5.9 5.9 0 1 0-11.8 0M254.5 566.6a5.9 5.9 0 1 0 11.8 0a5.9 5.9 0 1 0-11.8 0M332.7 568a5.9 5.9 0 1 0 11.8 0a5.9 5.9 0 1 0-11.8 0M246.2 575.1a5.9 5.9 0 1 0 11.8 0a5.9 5.9 0 1 0-11.8 0M307.4 591.9a5.9 5.9 0 1 0 11.8 0a5.9 5.9 0 1 0-11.8 0M325.9 583.6a5.9 5.9 0 1 0 11.8 0a5.9 5.9 0 1 0-11.8 0M357.2 581.9a5.9 5.9 0 1 0 11.8 0a5.9 5.9 0 1 0-11.8 0M314.9 581.9a5.9 5.9 0 1 0 11.8 0a5.9 5.9 0 1 0-11.8 0M294 588.1a5.9 5.9 0 1 0 11.8 0a5.9 5.9 0 1 0-11.8 0M298.1 595.9a5.9 5.9 0 1 0 11.8 0a5.9 5.9 0 1 0-11.8 0M265.2 577.9a5.9 5.9 0 1 0 11.8 0a5.9 5.9 0 1 0-11.8 0M287.4 557.6a5.9 5.9 0 1 0 11.8 0a5.9 5.9 0 1 0-11.8 0M346.4 580.8a5.9 5.9 0 1 0 11.8 0a5.9 5.9 0 1 0-11.8 0M278.7 581a5.9 5.9 0 1 0 11.8 0a5.9 5.9 0 1 0-11.8 0M279.6 567.7a5.9 5.9 0 1 0 11.8 0a5.9 5.9 0 1 0-11.8 0M258.7 560.8a5.9 5.9 0 1 0 11.8 0a5.9 5.9 0 1 0-11.8 0M260.4 576.6a5.9 5.9 0 1 0 11.8 0a5.9 5.9 0 1 0-11.8 0M342.4 567.9a5.9 5.9 0 1 0 11.8 0a5.9 5.9 0 1 0-11.8 0M263 572.6a5.9 5.9 0 1 0 11.8 0a5.9 5.9 0 1 0-11.8 0M322.5 583.2a5.9 5.9 0 1 0 11.8 0a5.9 5.9 0 1 0-11.8 0M302 571.4a5.9 5.9 0 1 0 11.8 0a5.9 5.9 0 1 0-11.8 0M327.5 562.1a5.9 5.9 0 1 0 11.8 0a5.9 5.9 0 1 0-11.8 0M294.2 575.2a5.9 5.9 0 1 0 11.8 0a5.9 5.9 0 1 0-11.8 0M320.6 570.2a5.9 5.9 0 1 0 11.8 0a5.9 5.9 0 1 0-11.8 0M308.4 570.9a5.9 5.9 0 1 0 11.8 0a5.9 5.9 0 1 0-11.8 0M287.4 583.3a5.9 5.9 0 1 0 11.8 0a5.9 5.9 0 1 0-11.8 0M238.5 580.7a5.9 5.9 0 1 0 11.8 0a5.9 5.9 0 1 0-11.8 0M296.3 596.4a5.9 5.9 0 1 0 11.8 0a5.9 5.9 0 1 0-11.8 0M340.7 574.2a5.9 5.9 0 1 0 11.8 0a5.9 5.9 0 1 0-11.8 0M344.8 574.5a5.9 5.9 0 1 0 11.8 0a5.9 5.9 0 1 0-11.8 0M286.6 587.2a5.9 5.9 0 1 0 11.8 0a5.9 5.9 0 1 0-11.8 0M347.5 573.6a5.9 5.9 0 1 0 11.8 0a5.9 5.9 0 1 0-11.8 0M333.1 562.4a5.9 5.9 0 1 0 11.8 0a5.9 5.9 0 1 0-11.8 0M368.8 573a5.9 5.9 0 1 0 11.8 0a5.9 5.9 0 1 0-11.8 0M335.2 585.2a5.9 5.9 0 1 0 11.8 0a5.9 5.9 0 1 0-11.8 0M258.9 560.3a5.9 5.9 0 1 0 11.8 0a5.9 5.9 0 1 0-11.8 0M331.5 580.8a5.9 5.9 0 1 0 11.8 0a5.9 5.9 0 1 0-11.8 0M348.1 566.6a5.9 5.9 0 1 0 11.8 0a5.9 5.9 0 1 0-11.8 0M339.4 573.1a5.9 5.9 0 1 0 11.8 0a5.9 5.9 0 1 0-11.8 0M365 578.7a5.9 5.9 0 1 0 11.8 0a5.9 5.9 0 1 0-11.8 0M341.1 562.4a5.9 5.9 0 1 0 11.8 0a5.9 5.9 0 1 0-11.8 0M355.7 568.2a5.9 5.9 0 1 0 11.8 0a5.9 5.9 0 1 0-11.8 0M341 566.5a5.9 5.9 0 1 0 11.8 0a5.9 5.9 0 1 0-11.8 0M246.5 562.3a5.9 5.9 0 1 0 11.8 0a5.9 5.9 0 1 0-11.8 0M301.2 556.7a5.9 5.9 0 1 0 11.8 0a5.9 5.9 0 1 0-11.8 0M269.3 558.4a5.9 5.9 0 1 0 11.8 0a5.9 5.9 0 1 0-11.8 0M265.9 576.8a5.9 5.9 0 1 0 11.8 0a5.9 5.9 0 1 0-11.8 0M259.2 584.2a5.9 5.9 0 1 0 11.8 0a5.9 5.9 0 1 0-11.8 0M273.2 572.5a5.9 5.9 0 1 0 11.8 0a5.9 5.9 0 1 0-11.8 0M302.3 581.4a5.9 5.9 0 1 0 11.8 0a5.9 5.9 0 1 0-11.8 0M299 559.1a5.9 5.9 0 1 0 11.8 0a5.9 5.9 0 1 0-11.8 0M327.5 577.5a5.9 5.9 0 1 0 11.8 0a5.9 5.9 0 1 0-11.8 0M259.3 580.8a5.9 5.9 0 1 0 11.8 0a5.9 5.9 0 1 0-11.8 0M236.7 581.8a5.9 5.9 0 1 0 11.8 0a5.9 5.9 0 1 0-11.8 0M277 583.8a5.9 5.9 0 1 0 11.8 0a5.9 5.9 0 1 0-11.8 0M248.6 582.1a5.9 5.9 0 1 0 11.8 0a5.9 5.9 0 1 0-11.8 0M307.5 560.9a5.9 5.9 0 1 0 11.8 0a5.9 5.9 0 1 0-11.8 0M353.5 569a5.9 5.9 0 1 0 11.8 0a5.9 5.9 0 1 0-11.8 0M261.9 573.4a5.9 5.9 0 1 0 11.8 0a5.9 5.9 0 1 0-11.8 0M323.8 578.4a5.9 5.9 0 1 0 11.8 0a5.9 5.9 0 1 0-11.8 0M333.3 583.3a5.9 5.9 0 1 0 11.8 0a5.9 5.9 0 1 0-11.8 0M372 582.3a5.9 5.9 0 1 0 11.8 0a5.9 5.9 0 1 0-11.8 0M299.3 568.3a5.9 5.9 0 1 0 11.8 0a5.9 5.9 0 1 0-11.8 0M318.4 561.9a5.9 5.9 0 1 0 11.8 0a5.9 5.9 0 1 0-11.8 0M317.1 580.8a5.9 5.9 0 1 0 11.8 0a5.9 5.9 0 1 0-11.8 0M295.3 572.2a5.9 5.9 0 1 0 11.8 0a5.9 5.9 0 1 0-11.8 0M323.1 578.5a5.9 5.9 0 1 0 11.8 0a5.9 5.9 0 1 0-11.8 0M283 570.8a5.9 5.9 0 1 0 11.8 0a5.9 5.9 0 1 0-11.8 0M304.7 574.1a5.9 5.9 0 1 0 11.8 0a5.9 5.9 0 1 0-11.8 0M320 569.9a5.9 5.9 0 1 0 11.8 0a5.9 5.9 0 1 0-11.8 0M306.2 589.5a5.9 5.9 0 1 0 11.8 0a5.9 5.9 0 1 0-11.8 0M310.1 566.3a5.9 5.9 0 1 0 11.8 0a5.9 5.9 0 1 0-11.8 0M249.3 561.7a5.9 5.9 0 1 0 11.8 0a5.9 5.9 0 1 0-11.8 0M329.5 582.5a5.9 5.9 0 1 0 11.8 0a5.9 5.9 0 1 0-11.8 0M353.7 574.7a5.9 5.9 0 1 0 11.8 0a5.9 5.9 0 1 0-11.8 0M248.3 573.7a5.9 5.9 0 1 0 11.8 0a5.9 5.9 0 1 0-11.8 0M300.9 577.8a5.9 5.9 0 1 0 11.8 0a5.9 5.9 0 1 0-11.8 0M294.4 560.5a5.9 5.9 0 1 0 11.8 0a5.9 5.9 0 1 0-11.8 0M287.6 558.7a5.9 5.9 0 1 0 11.8 0a5.9 5.9 0 1 0-11.8 0M357.5 565.8a5.9 5.9 0 1 0 11.8 0a5.9 5.9 0 1 0-11.8 0M325.7 567.8a5.9 5.9 0 1 0 11.8 0a5.9 5.9 0 1 0-11.8 0M345.4 564.3a5.9 5.9 0 1 0 11.8 0a5.9 5.9 0 1 0-11.8 0M250.8 579.7a5.9 5.9 0 1 0 11.8 0a5.9 5.9 0 1 0-11.8 0M368.3 574.7a5.9 5.9 0 1 0 11.8 0a5.9 5.9 0 1 0-11.8 0M304.9 591.7a5.9 5.9 0 1 0 11.8 0a5.9 5.9 0 1 0-11.8 0M317.1 586.6a5.9 5.9 0 1 0 11.8 0a5.9 5.9 0 1 0-11.8 0M312.4 571.9a5.9 5.9 0 1 0 11.8 0a5.9 5.9 0 1 0-11.8 0M298.4 578a5.9 5.9 0 1 0 11.8 0a5.9 5.9 0 1 0-11.8 0M255.2 567.2a5.9 5.9 0 1 0 11.8 0a5.9 5.9 0 1 0-11.8 0M256.7 583.9a5.9 5.9 0 1 0 11.8 0a5.9 5.9 0 1 0-11.8 0M298.2 581.2a5.9 5.9 0 1 0 11.8 0a5.9 5.9 0 1 0-11.8 0M289.4 586.9a5.9 5.9 0 1 0 11.8 0a5.9 5.9 0 1 0-11.8 0M281.6 568.1a5.9 5.9 0 1 0 11.8 0a5.9 5.9 0 1 0-11.8 0M242.2 580.4a5.9 5.9 0 1 0 11.8 0a5.9 5.9 0 1 0-11.8 0M317.1 558.6a5.9 5.9 0 1 0 11.8 0a5.9 5.9 0 1 0-11.8 0M301.2 594.4a5.9 5.9 0 1 0 11.8 0a5.9 5.9 0 1 0-11.8 0M340.8 569.5a5.9 5.9 0 1 0 11.8 0a5.9 5.9 0 1 0-11.8 0M320.8 563.1a5.9 5.9 0 1 0 11.8 0a5.9 5.9 0 1 0-11.8 0M282.2 557.3a5.9 5.9 0 1 0 11.8 0a5.9 5.9 0 1 0-11.8 0M238.8 571.6a5.9 5.9 0 1 0 11.8 0a5.9 5.9 0 1 0-11.8 0M320.7 587a5.9 5.9 0 1 0 11.8 0a5.9 5.9 0 1 0-11.8 0M322.7 561.8a5.9 5.9 0 1 0 11.8 0a5.9 5.9 0 1 0-11.8 0M346.1 572.4a5.9 5.9 0 1 0 11.8 0a5.9 5.9 0 1 0-11.8 0M308.3 557.8a5.9 5.9 0 1 0 11.8 0a5.9 5.9 0 1 0-11.8 0M347.8 570.2a5.9 5.9 0 1 0 11.8 0a5.9 5.9 0 1 0-11.8 0M297.3 585.2a5.9 5.9 0 1 0 11.8 0a5.9 5.9 0 1 0-11.8 0M318.4 571.9a5.9 5.9 0 1 0 11.8 0a5.9 5.9 0 1 0-11.8 0M330.3 586.9a5.9 5.9 0 1 0 11.8 0a5.9 5.9 0 1 0-11.8 0M271.6 572.4a5.9 5.9 0 1 0 11.8 0a5.9 5.9 0 1 0-11.8 0M306.9 577.5a5.9 5.9 0 1 0 11.8 0a5.9 5.9 0 1 0-11.8 0M301.7 591.9a5.9 5.9 0 1 0 11.8 0a5.9 5.9 0 1 0-11.8 0M263 561.5a5.9 5.9 0 1 0 11.8 0a5.9 5.9 0 1 0-11.8 0M306.5 580.4a5.9 5.9 0 1 0 11.8 0a5.9 5.9 0 1 0-11.8 0M351.6 568.4a5.9 5.9 0 1 0 11.8 0a5.9 5.9 0 1 0-11.8 0M296.9 569.8a5.9 5.9 0 1 0 11.8 0a5.9 5.9 0 1 0-11.8 0M259.1 566.5a5.9 5.9 0 1 0 11.8 0a5.9 5.9 0 1 0-11.8 0M288.5 565.4a5.9 5.9 0 1 0 11.8 0a5.9 5.9 0 1 0-11.8 0M283.3 557.8a5.9 5.9 0 1 0 11.8 0a5.9 5.9 0 1 0-11.8 0M295 570.5a5.9 5.9 0 1 0 11.8 0a5.9 5.9 0 1 0-11.8 0M292.6 575.4a5.9 5.9 0 1 0 11.8 0a5.9 5.9 0 1 0-11.8 0M281.1 575.7a5.9 5.9 0 1 0 11.8 0a5.9 5.9 0 1 0-11.8 0M282.7 570.8a5.9 5.9 0 1 0 11.8 0a5.9 5.9 0 1 0-11.8 0M316 570.7a5.9 5.9 0 1 0 11.8 0a5.9 5.9 0 1 0-11.8 0M301.5 564.6a5.9 5.9 0 1 0 11.8 0a5.9 5.9 0 1 0-11.8 0M363.7 577.1a5.9 5.9 0 1 0 11.8 0a5.9 5.9 0 1 0-11.8 0M296.1 571.2a5.9 5.9 0 1 0 11.8 0a5.9 5.9 0 1 0-11.8 0M272.2 580.1a5.9 5.9 0 1 0 11.8 0a5.9 5.9 0 1 0-11.8 0M354.2 569.7a5.9 5.9 0 1 0 11.8 0a5.9 5.9 0 1 0-11.8 0M315.4 575.1a5.9 5.9 0 1 0 11.8 0a5.9 5.9 0 1 0-11.8 0M350.2 577.6a5.9 5.9 0 1 0 11.8 0a5.9 5.9 0 1 0-11.8 0M367.2 570a5.9 5.9 0 1 0 11.8 0a5.9 5.9 0 1 0-11.8 0M342.8 574.5a5.9 5.9 0 1 0 11.8 0a5.9 5.9 0 1 0-11.8 0M319.4 563.1a5.9 5.9 0 1 0 11.8 0a5.9 5.9 0 1 0-11.8 0M320.5 578.1a5.9 5.9 0 1 0 11.8 0a5.9 5.9 0 1 0-11.8 0M370.3 577.8a5.9 5.9 0 1 0 11.8 0a5.9 5.9 0 1 0-11.8 0M318.8 584.5a5.9 5.9 0 1 0 11.8 0a5.9 5.9 0 1 0-11.8 0M237.6 575.3a5.9 5.9 0 1 0 11.8 0a5.9 5.9 0 1 0-11.8 0M365.7 578.4a5.9 5.9 0 1 0 11.8 0a5.9 5.9 0 1 0-11.8 0M271.2 566.7a5.9 5.9 0 1 0 11.8 0a5.9 5.9 0 1 0-11.8 0M280.8 575.9a5.9 5.9 0 1 0 11.8 0a5.9 5.9 0 1 0-11.8 0M275.3 578a5.9 5.9 0 1 0 11.8 0a5.9 5.9 0 1 0-11.8 0M258.5 560.2a5.9 5.9 0 1 0 11.8 0a5.9 5.9 0 1 0-11.8 0M245.2 573.3a5.9 5.9 0 1 0 11.8 0a5.9 5.9 0 1 0-11.8 0M260.2 567.9a5.9 5.9 0 1 0 11.8 0a5.9 5.9 0 1 0-11.8 0M263.4 572.3a5.9 5.9 0 1 0 11.8 0a5.9 5.9 0 1 0-11.8 0M251.2 570.2a5.9 5.9 0 1 0 11.8 0a5.9 5.9 0 1 0-11.8 0M270.9 574.9a5.9 5.9 0 1 0 11.8 0a5.9 5.9 0 1 0-11.8 0M282.8 580.4a5.9 5.9 0 1 0 11.8 0a5.9 5.9 0 1 0-11.8 0M296.1 592.1a5.9 5.9 0 1 0 11.8 0a5.9 5.9 0 1 0-11.8 0M252.9 563.5a5.9 5.9 0 1 0 11.8 0a5.9 5.9 0 1 0-11.8 0M349.3 584.5a5.9 5.9 0 1 0 11.8 0a5.9 5.9 0 1 0-11.8 0M288.8 584a5.9 5.9 0 1 0 11.8 0a5.9 5.9 0 1 0-11.8 0M243 566.7a5.9 5.9 0 1 0 11.8 0a5.9 5.9 0 1 0-11.8 0M276.5 569.1a5.9 5.9 0 1 0 11.8 0a5.9 5.9 0 1 0-11.8 0M344.2 585.5a5.9 5.9 0 1 0 11.8 0a5.9 5.9 0 1 0-11.8 0M278.1 571.2a5.9 5.9 0 1 0 11.8 0a5.9 5.9 0 1 0-11.8 0M352.7 568.4a5.9 5.9 0 1 0 11.8 0a5.9 5.9 0 1 0-11.8 0M321.4 584.3a5.9 5.9 0 1 0 11.8 0a5.9 5.9 0 1 0-11.8 0M295.8 572.5a5.9 5.9 0 1 0 11.8 0a5.9 5.9 0 1 0-11.8 0M279.3 574.2a5.9 5.9 0 1 0 11.8 0a5.9 5.9 0 1 0-11.8 0M305.7 564.2a5.9 5.9 0 1 0 11.8 0a5.9 5.9 0 1 0-11.8 0M348.8 567a5.9 5.9 0 1 0 11.8 0a5.9 5.9 0 1 0-11.8 0M291.2 557.9a5.9 5.9 0 1 0 11.8 0a5.9 5.9 0 1 0-11.8 0M277.4 584.3a5.9 5.9 0 1 0 11.8 0a5.9 5.9 0 1 0-11.8 0M325.8 570.1a5.9 5.9 0 1 0 11.8 0a5.9 5.9 0 1 0-11.8 0M344.2 575.3a5.9 5.9 0 1 0 11.8 0a5.9 5.9 0 1 0-11.8 0M370.6 575.8a5.9 5.9 0 1 0 11.8 0a5.9 5.9 0 1 0-11.8 0M292.5 564.3a5.9 5.9 0 1 0 11.8 0a5.9 5.9 0 1 0-11.8 0M262.1 576.8a5.9 5.9 0 1 0 11.8 0a5.9 5.9 0 1 0-11.8 0M338 572.9a5.9 5.9 0 1 0 11.8 0a5.9 5.9 0 1 0-11.8 0M338.3 565.6a5.9 5.9 0 1 0 11.8 0a5.9 5.9 0 1 0-11.8 0M261 580.1a5.9 5.9 0 1 0 11.8 0a5.9 5.9 0 1 0-11.8 0M288.2 567.6a5.9 5.9 0 1 0 11.8 0a5.9 5.9 0 1 0-11.8 0M248.9 583.2a5.9 5.9 0 1 0 11.8 0a5.9 5.9 0 1 0-11.8 0M306.2 570a5.9 5.9 0 1 0 11.8 0a5.9 5.9 0 1 0-11.8 0M280.9 583.8a5.9 5.9 0 1 0 11.8 0a5.9 5.9 0 1 0-11.8 0M336.5 586.8a5.9 5.9 0 1 0 11.8 0a5.9 5.9 0 1 0-11.8 0M365.6 579.4a5.9 5.9 0 1 0 11.8 0a5.9 5.9 0 1 0-11.8 0M300.5 578a5.9 5.9 0 1 0 11.8 0a5.9 5.9 0 1 0-11.8 0M350.1 565.5a5.9 5.9 0 1 0 11.8 0a5.9 5.9 0 1 0-11.8 0M253.9 558.4a5.9 5.9 0 1 0 11.8 0a5.9 5.9 0 1 0-11.8 0M284.8 556.6a5.9 5.9 0 1 0 11.8 0a5.9 5.9 0 1 0-11.8 0M323.7 566.1a5.9 5.9 0 1 0 11.8 0a5.9 5.9 0 1 0-11.8 0M324.9 568a5.9 5.9 0 1 0 11.8 0a5.9 5.9 0 1 0-11.8 0M267.8 570.8a5.9 5.9 0 1 0 11.8 0a5.9 5.9 0 1 0-11.8 0M247.4 576.5a5.9 5.9 0 1 0 11.8 0a5.9 5.9 0 1 0-11.8 0M260 577.3a5.9 5.9 0 1 0 11.8 0a5.9 5.9 0 1 0-11.8 0M257.1 564.1a5.9 5.9 0 1 0 11.8 0a5.9 5.9 0 1 0-11.8 0M318 561.1a5.9 5.9 0 1 0 11.8 0a5.9 5.9 0 1 0-11.8 0M301.2 586.8a5.9 5.9 0 1 0 11.8 0a5.9 5.9 0 1 0-11.8 0M264.4 575.2a5.9 5.9 0 1 0 11.8 0a5.9 5.9 0 1 0-11.8 0M307.9 557.2a5.9 5.9 0 1 0 11.8 0a5.9 5.9 0 1 0-11.8 0M241.6 564.5a5.9 5.9 0 1 0 11.8 0a5.9 5.9 0 1 0-11.8 0M267.1 581.5a5.9 5.9 0 1 0 11.8 0a5.9 5.9 0 1 0-11.8 0M302 591.4a5.9 5.9 0 1 0 11.8 0a5.9 5.9 0 1 0-11.8 0M252 562.7a5.9 5.9 0 1 0 11.8 0a5.9 5.9 0 1 0-11.8 0M254.3 568.2a5.9 5.9 0 1 0 11.8 0a5.9 5.9 0 1 0-11.8 0M280.2 568.8a5.9 5.9 0 1 0 11.8 0a5.9 5.9 0 1 0-11.8 0M288.4 561.3a5.9 5.9 0 1 0 11.8 0a5.9 5.9 0 1 0-11.8 0M242.3 563.7a5.9 5.9 0 1 0 11.8 0a5.9 5.9 0 1 0-11.8 0M345.5 581.8a5.9 5.9 0 1 0 11.8 0a5.9 5.9 0 1 0-11.8 0M327.2 561.8a5.9 5.9 0 1 0 11.8 0a5.9 5.9 0 1 0-11.8 0M307.1 575.3a5.9 5.9 0 1 0 11.8 0a5.9 5.9 0 1 0-11.8 0M337.3 578.1a5.9 5.9 0 1 0 11.8 0a5.9 5.9 0 1 0-11.8 0M306.6 569.4a5.9 5.9 0 1 0 11.8 0a5.9 5.9 0 1 0-11.8 0M299 558.1a5.9 5.9 0 1 0 11.8 0a5.9 5.9 0 1 0-11.8 0M310.5 569.9a5.9 5.9 0 1 0 11.8 0a5.9 5.9 0 1 0-11.8 0M250 581.6a5.9 5.9 0 1 0 11.8 0a5.9 5.9 0 1 0-11.8 0M273.5 569.5a5.9 5.9 0 1 0 11.8 0a5.9 5.9 0 1 0-11.8 0M310.3 587.1a5.9 5.9 0 1 0 11.8 0a5.9 5.9 0 1 0-11.8 0M245 574.8a5.9 5.9 0 1 0 11.8 0a5.9 5.9 0 1 0-11.8 0M311.3 589.3a5.9 5.9 0 1 0 11.8 0a5.9 5.9 0 1 0-11.8 0M351.9 583.2a5.9 5.9 0 1 0 11.8 0a5.9 5.9 0 1 0-11.8 0M322.8 574.5a5.9 5.9 0 1 0 11.8 0a5.9 5.9 0 1 0-11.8 0M337.9 575a5.9 5.9 0 1 0 11.8 0a5.9 5.9 0 1 0-11.8 0M289.3 585.2a5.9 5.9 0 1 0 11.8 0a5.9 5.9 0 1 0-11.8 0M321 582.1a5.9 5.9 0 1 0 11.8 0a5.9 5.9 0 1 0-11.8 0M241.4 580.1a5.9 5.9 0 1 0 11.8 0a5.9 5.9 0 1 0-11.8 0M289.2 589.6a5.9 5.9 0 1 0 11.8 0a5.9 5.9 0 1 0-11.8 0M242.7 578.8a5.9 5.9 0 1 0 11.8 0a5.9 5.9 0 1 0-11.8 0M319.1 570.7a5.9 5.9 0 1 0 11.8 0a5.9 5.9 0 1 0-11.8 0M328.6 577.2a5.9 5.9 0 1 0 11.8 0a5.9 5.9 0 1 0-11.8 0M245.7 557.3a5.9 5.9 0 1 0 11.8 0a5.9 5.9 0 1 0-11.8 0M364.7 576.5a5.9 5.9 0 1 0 11.8 0a5.9 5.9 0 1 0-11.8 0M275.3 564.7a5.9 5.9 0 1 0 11.8 0a5.9 5.9 0 1 0-11.8 0M262.6 576.6a5.9 5.9 0 1 0 11.8 0a5.9 5.9 0 1 0-11.8 0M240.6 564.9a5.9 5.9 0 1 0 11.8 0a5.9 5.9 0 1 0-11.8 0M359.3 567.2a5.9 5.9 0 1 0 11.8 0a5.9 5.9 0 1 0-11.8 0M345.3 568.4a5.9 5.9 0 1 0 11.8 0a5.9 5.9 0 1 0-11.8 0M348.8 563.2a5.9 5.9 0 1 0 11.8 0a5.9 5.9 0 1 0-11.8 0M300 589.7a5.9 5.9 0 1 0 11.8 0a5.9 5.9 0 1 0-11.8 0M237 577.2a5.9 5.9 0 1 0 11.8 0a5.9 5.9 0 1 0-11.8 0M355.2 583a5.9 5.9 0 1 0 11.8 0a5.9 5.9 0 1 0-11.8 0M344.6 571.1a5.9 5.9 0 1 0 11.8 0a5.9 5.9 0 1 0-11.8 0M320 586.4a5.9 5.9 0 1 0 11.8 0a5.9 5.9 0 1 0-11.8 0M295.1 596.1a5.9 5.9 0 1 0 11.8 0a5.9 5.9 0 1 0-11.8 0M241.1 580.1a5.9 5.9 0 1 0 11.8 0a5.9 5.9 0 1 0-11.8 0M318.9 576a5.9 5.9 0 1 0 11.8 0a5.9 5.9 0 1 0-11.8 0M263.4 571.1a5.9 5.9 0 1 0 11.8 0a5.9 5.9 0 1 0-11.8 0M313 578.6a5.9 5.9 0 1 0 11.8 0a5.9 5.9 0 1 0-11.8 0M273.7 581.2a5.9 5.9 0 1 0 11.8 0a5.9 5.9 0 1 0-11.8 0M242.6 576.7a5.9 5.9 0 1 0 11.8 0a5.9 5.9 0 1 0-11.8 0M301.3 590.1a5.9 5.9 0 1 0 11.8 0a5.9 5.9 0 1 0-11.8 0M285.7 563.1a5.9 5.9 0 1 0 11.8 0a5.9 5.9 0 1 0-11.8 0M337.5 582.4a5.9 5.9 0 1 0 11.8 0a5.9 5.9 0 1 0-11.8 0M302.5 557.2a5.9 5.9 0 1 0 11.8 0a5.9 5.9 0 1 0-11.8 0M358.6 565.6a5.9 5.9 0 1 0 11.8 0a5.9 5.9 0 1 0-11.8 0M320.7 560.8a5.9 5.9 0 1 0 11.8 0a5.9 5.9 0 1 0-11.8 0M328.5 567.1a5.9 5.9 0 1 0 11.8 0a5.9 5.9 0 1 0-11.8 0M267.1 577.2a5.9 5.9 0 1 0 11.8 0a5.9 5.9 0 1 0-11.8 0M299.5 589.1a5.9 5.9 0 1 0 11.8 0a5.9 5.9 0 1 0-11.8 0M366.6 573.1a5.9 5.9 0 1 0 11.8 0a5.9 5.9 0 1 0-11.8 0M275.4 574.3a5.9 5.9 0 1 0 11.8 0a5.9 5.9 0 1 0-11.8 0M310.6 588.8a5.9 5.9 0 1 0 11.8 0a5.9 5.9 0 1 0-11.8 0M299.5 586.3a5.9 5.9 0 1 0 11.8 0a5.9 5.9 0 1 0-11.8 0M312 575.9a5.9 5.9 0 1 0 11.8 0a5.9 5.9 0 1 0-11.8 0M320 565.5a5.9 5.9 0 1 0 11.8 0a5.9 5.9 0 1 0-11.8 0M360.2 569.8a5.9 5.9 0 1 0 11.8 0a5.9 5.9 0 1 0-11.8 0M282.6 559.7a5.9 5.9 0 1 0 11.8 0a5.9 5.9 0 1 0-11.8 0M250.5 566.4a5.9 5.9 0 1 0 11.8 0a5.9 5.9 0 1 0-11.8 0M350 571.3a5.9 5.9 0 1 0 11.8 0a5.9 5.9 0 1 0-11.8 0M241.8 566.3a5.9 5.9 0 1 0 11.8 0a5.9 5.9 0 1 0-11.8 0M356 566a5.9 5.9 0 1 0 11.8 0a5.9 5.9 0 1 0-11.8 0M355.9 580.9a5.9 5.9 0 1 0 11.8 0a5.9 5.9 0 1 0-11.8 0M298 593.7a5.9 5.9 0 1 0 11.8 0a5.9 5.9 0 1 0-11.8 0M347.7 566a5.9 5.9 0 1 0 11.8 0a5.9 5.9 0 1 0-11.8 0M336.3 573.3a5.9 5.9 0 1 0 11.8 0a5.9 5.9 0 1 0-11.8 0M312.2 580.4a5.9 5.9 0 1 0 11.8 0a5.9 5.9 0 1 0-11.8 0M365 578.8a5.9 5.9 0 1 0 11.8 0a5.9 5.9 0 1 0-11.8 0M263.2 565.1a5.9 5.9 0 1 0 11.8 0a5.9 5.9 0 1 0-11.8 0M282 559.2a5.9 5.9 0 1 0 11.8 0a5.9 5.9 0 1 0-11.8 0M238.3 563.4a5.9 5.9 0 1 0 11.8 0a5.9 5.9 0 1 0-11.8 0M264.1 582.7a5.9 5.9 0 1 0 11.8 0a5.9 5.9 0 1 0-11.8 0M254.1 579.1a5.9 5.9 0 1 0 11.8 0a5.9 5.9 0 1 0-11.8 0M310.5 581.9a5.9 5.9 0 1 0 11.8 0a5.9 5.9 0 1 0-11.8 0M244.3 561.2a5.9 5.9 0 1 0 11.8 0a5.9 5.9 0 1 0-11.8 0M347.8 574.3a5.9 5.9 0 1 0 11.8 0a5.9 5.9 0 1 0-11.8 0M351.2 577.2a5.9 5.9 0 1 0 11.8 0a5.9 5.9 0 1 0-11.8 0M259.3 568.2a5.9 5.9 0 1 0 11.8 0a5.9 5.9 0 1 0-11.8 0M241 559.9a5.9 5.9 0 1 0 11.8 0a5.9 5.9 0 1 0-11.8 0M322.3 576.4a5.9 5.9 0 1 0 11.8 0a5.9 5.9 0 1 0-11.8 0M371.5 577.9a5.9 5.9 0 1 0 11.8 0a5.9 5.9 0 1 0-11.8 0M274.8 581.6a5.9 5.9 0 1 0 11.8 0a5.9 5.9 0 1 0-11.8 0M363.9 571.9a5.9 5.9 0 1 0 11.8 0a5.9 5.9 0 1 0-11.8 0M293.9 589a5.9 5.9 0 1 0 11.8 0a5.9 5.9 0 1 0-11.8 0M310.4 587.4a5.9 5.9 0 1 0 11.8 0a5.9 5.9 0 1 0-11.8 0M308.5 562.4a5.9 5.9 0 1 0 11.8 0a5.9 5.9 0 1 0-11.8 0M334.9 581a5.9 5.9 0 1 0 11.8 0a5.9 5.9 0 1 0-11.8 0M332.5 567.6a5.9 5.9 0 1 0 11.8 0a5.9 5.9 0 1 0-11.8 0M269.8 564.6a5.9 5.9 0 1 0 11.8 0a5.9 5.9 0 1 0-11.8 0M308.7 562a5.9 5.9 0 1 0 11.8 0a5.9 5.9 0 1 0-11.8 0M335.7 575.4a5.9 5.9 0 1 0 11.8 0a5.9 5.9 0 1 0-11.8 0M346.2 579.9a5.9 5.9 0 1 0 11.8 0a5.9 5.9 0 1 0-11.8 0M267.2 557.4a5.9 5.9 0 1 0 11.8 0a5.9 5.9 0 1 0-11.8 0M252.4 581.6a5.9 5.9 0 1 0 11.8 0a5.9 5.9 0 1 0-11.8 0M304.1 591.7a5.9 5.9 0 1 0 11.8 0a5.9 5.9 0 1 0-11.8 0M271 568.2a5.9 5.9 0 1 0 11.8 0a5.9 5.9 0 1 0-11.8 0M272.7 572.6a5.9 5.9 0 1 0 11.8 0a5.9 5.9 0 1 0-11.8 0M323.7 584.2a5.9 5.9 0 1 0 11.8 0a5.9 5.9 0 1 0-11.8 0M260.7 576.7a5.9 5.9 0 1 0 11.8 0a5.9 5.9 0 1 0-11.8 0M333.3 578.1a5.9 5.9 0 1 0 11.8 0a5.9 5.9 0 1 0-11.8 0M247.9 566.5a5.9 5.9 0 1 0 11.8 0a5.9 5.9 0 1 0-11.8 0M289.7 564.8a5.9 5.9 0 1 0 11.8 0a5.9 5.9 0 1 0-11.8 0M316.8 576.1a5.9 5.9 0 1 0 11.8 0a5.9 5.9 0 1 0-11.8 0M311.2 584.7a5.9 5.9 0 1 0 11.8 0a5.9 5.9 0 1 0-11.8 0M267.3 583.2a5.9 5.9 0 1 0 11.8 0a5.9 5.9 0 1 0-11.8 0M293.4 561.6a5.9 5.9 0 1 0 11.8 0a5.9 5.9 0 1 0-11.8 0M266.3 573.5a5.9 5.9 0 1 0 11.8 0a5.9 5.9 0 1 0-11.8 0M299.9 570.5a5.9 5.9 0 1 0 11.8 0a5.9 5.9 0 1 0-11.8 0M241.2 564.6a5.9 5.9 0 1 0 11.8 0a5.9 5.9 0 1 0-11.8 0M303.9 577.2a5.9 5.9 0 1 0 11.8 0a5.9 5.9 0 1 0-11.8 0M283 561a5.9 5.9 0 1 0 11.8 0a5.9 5.9 0 1 0-11.8 0M273 560a5.9 5.9 0 1 0 11.8 0a5.9 5.9 0 1 0-11.8 0M251.1 570.3a5.9 5.9 0 1 0 11.8 0a5.9 5.9 0 1 0-11.8 0M288.6 575.4a5.9 5.9 0 1 0 11.8 0a5.9 5.9 0 1 0-11.8 0M257.8 570.1a5.9 5.9 0 1 0 11.8 0a5.9 5.9 0 1 0-11.8 0M338.8 572.8a5.9 5.9 0 1 0 11.8 0a5.9 5.9 0 1 0-11.8 0M295.9 565.4a5.9 5.9 0 1 0 11.8 0a5.9 5.9 0 1 0-11.8 0M359.4 568.3a5.9 5.9 0 1 0 11.8 0a5.9 5.9 0 1 0-11.8 0M263.4 571.2a5.9 5.9 0 1 0 11.8 0a5.9 5.9 0 1 0-11.8 0M323.5 564.4a5.9 5.9 0 1 0 11.8 0a5.9 5.9 0 1 0-11.8 0M298.2 586a5.9 5.9 0 1 0 11.8 0a5.9 5.9 0 1 0-11.8 0M305.6 575a5.9 5.9 0 1 0 11.8 0a5.9 5.9 0 1 0-11.8 0M337.8 566.3a5.9 5.9 0 1 0 11.8 0a5.9 5.9 0 1 0-11.8 0M334.3 569.8a5.9 5.9 0 1 0 11.8 0a5.9 5.9 0 1 0-11.8 0M297.1 571.6a5.9 5.9 0 1 0 11.8 0a5.9 5.9 0 1 0-11.8 0M300.5 580.2a5.9 5.9 0 1 0 11.8 0a5.9 5.9 0 1 0-11.8 0M249.9 583.4a5.9 5.9 0 1 0 11.8 0a5.9 5.9 0 1 0-11.8 0M299 595.5a5.9 5.9 0 1 0 11.8 0a5.9 5.9 0 1 0-11.8 0M285.3 585.8a5.9 5.9 0 1 0 11.8 0a5.9 5.9 0 1 0-11.8 0M306.2 565.8a5.9 5.9 0 1 0 11.8 0a5.9 5.9 0 1 0-11.8 0M315.8 573.3a5.9 5.9 0 1 0 11.8 0a5.9 5.9 0 1 0-11.8 0M293.2 556.8a5.9 5.9 0 1 0 11.8 0a5.9 5.9 0 1 0-11.8 0M333 584.1a5.9 5.9 0 1 0 11.8 0a5.9 5.9 0 1 0-11.8 0M324.2 569.9a5.9 5.9 0 1 0 11.8 0a5.9 5.9 0 1 0-11.8 0M288.8 562.7a5.9 5.9 0 1 0 11.8 0a5.9 5.9 0 1 0-11.8 0M338.7 564.2a5.9 5.9 0 1 0 11.8 0a5.9 5.9 0 1 0-11.8 0M325.5 587.5a5.9 5.9 0 1 0 11.8 0a5.9 5.9 0 1 0-11.8 0M346.5 570.4a5.9 5.9 0 1 0 11.8 0a5.9 5.9 0 1 0-11.8 0M266.2 579.6a5.9 5.9 0 1 0 11.8 0a5.9 5.9 0 1 0-11.8 0M251.6 565.9a5.9 5.9 0 1 0 11.8 0a5.9 5.9 0 1 0-11.8 0M301.9 578.6a5.9 5.9 0 1 0 11.8 0a5.9 5.9 0 1 0-11.8 0M369.3 578.3a5.9 5.9 0 1 0 11.8 0a5.9 5.9 0 1 0-11.8 0M355.3 564.2a5.9 5.9 0 1 0 11.8 0a5.9 5.9 0 1 0-11.8 0M268.2 559.8a5.9 5.9 0 1 0 11.8 0a5.9 5.9 0 1 0-11.8 0M264.2 579.2a5.9 5.9 0 1 0 11.8 0a5.9 5.9 0 1 0-11.8 0M271.1 583.2a5.9 5.9 0 1 0 11.8 0a5.9 5.9 0 1 0-11.8 0M311.2 584a5.9 5.9 0 1 0 11.8 0a5.9 5.9 0 1 0-11.8 0M366.6 580.3a5.9 5.9 0 1 0 11.8 0a5.9 5.9 0 1 0-11.8 0M261 562.2a5.9 5.9 0 1 0 11.8 0a5.9 5.9 0 1 0-11.8 0M269.1 565.1a5.9 5.9 0 1 0 11.8 0a5.9 5.9 0 1 0-11.8 0M242.4 583a5.9 5.9 0 1 0 11.8 0a5.9 5.9 0 1 0-11.8 0M296.6 588a5.9 5.9 0 1 0 11.8 0a5.9 5.9 0 1 0-11.8 0M293.2 574.8a5.9 5.9 0 1 0 11.8 0a5.9 5.9 0 1 0-11.8 0M307.9 585.6a5.9 5.9 0 1 0 11.8 0a5.9 5.9 0 1 0-11.8 0M317.4 570.5a5.9 5.9 0 1 0 11.8 0a5.9 5.9 0 1 0-11.8 0M240.6 560.7a5.9 5.9 0 1 0 11.8 0a5.9 5.9 0 1 0-11.8 0M256.7 573.5a5.9 5.9 0 1 0 11.8 0a5.9 5.9 0 1 0-11.8 0M312.4 577.3a5.9 5.9 0 1 0 11.8 0a5.9 5.9 0 1 0-11.8 0M337.3 564.4a5.9 5.9 0 1 0 11.8 0a5.9 5.9 0 1 0-11.8 0M371.6 575.2a5.9 5.9 0 1 0 11.8 0a5.9 5.9 0 1 0-11.8 0M286.7 565.3a5.9 5.9 0 1 0 11.8 0a5.9 5.9 0 1 0-11.8 0M260.9 557.1a5.9 5.9 0 1 0 11.8 0a5.9 5.9 0 1 0-11.8 0M281.8 579a5.9 5.9 0 1 0 11.8 0a5.9 5.9 0 1 0-11.8 0M568.8 588.5a5.9 5.9 0 1 0 11.8 0a5.9 5.9 0 1 0-11.8 0M413.7 581.9a5.9 5.9 0 1 0 11.8 0a5.9 5.9 0 1 0-11.8 0M419.9 582a5.9 5.9 0 1 0 11.8 0a5.9 5.9 0 1 0-11.8 0M378.3 577.1a5.9 5.9 0 1 0 11.8 0a5.9 5.9 0 1 0-11.8 0M481.6 585.7a5.9 5.9 0 1 0 11.8 0a5.9 5.9 0 1 0-11.8 0M494.1 584.7a5.9 5.9 0 1 0 11.8 0a5.9 5.9 0 1 0-11.8 0M473.4 585.5a5.9 5.9 0 1 0 11.8 0a5.9 5.9 0 1 0-11.8 0M410.9 580.3a5.9 5.9 0 1 0 11.8 0a5.9 5.9 0 1 0-11.8 0M381.3 579.6a5.9 5.9 0 1 0 11.8 0a5.9 5.9 0 1 0-11.8 0M494.3 586.8a5.9 5.9 0 1 0 11.8 0a5.9 5.9 0 1 0-11.8 0M443.1 580.9a5.9 5.9 0 1 0 11.8 0a5.9 5.9 0 1 0-11.8 0M434.1 580a5.9 5.9 0 1 0 11.8 0a5.9 5.9 0 1 0-11.8 0M384.9 581.5a5.9 5.9 0 1 0 11.8 0a5.9 5.9 0 1 0-11.8 0M570.6 588.5a5.9 5.9 0 1 0 11.8 0a5.9 5.9 0 1 0-11.8 0M488.1 586.7a5.9 5.9 0 1 0 11.8 0a5.9 5.9 0 1 0-11.8 0M426.6 581.6a5.9 5.9 0 1 0 11.8 0a5.9 5.9 0 1 0-11.8 0M545.3 587.8a5.9 5.9 0 1 0 11.8 0a5.9 5.9 0 1 0-11.8 0M519.7 587a5.9 5.9 0 1 0 11.8 0a5.9 5.9 0 1 0-11.8 0M435.6 581.4a5.9 5.9 0 1 0 11.8 0a5.9 5.9 0 1 0-11.8 0M396 584.3a5.9 5.9 0 1 0 11.8 0a5.9 5.9 0 1 0-11.8 0M443.5 583.4a5.9 5.9 0 1 0 11.8 0a5.9 5.9 0 1 0-11.8 0M422.8 583.4a5.9 5.9 0 1 0 11.8 0a5.9 5.9 0 1 0-11.8 0M416.2 585a5.9 5.9 0 1 0 11.8 0a5.9 5.9 0 1 0-11.8 0M409.7 581.9a5.9 5.9 0 1 0 11.8 0a5.9 5.9 0 1 0-11.8 0M440.7 580.6a5.9 5.9 0 1 0 11.8 0a5.9 5.9 0 1 0-11.8 0M445.3 581.1a5.9 5.9 0 1 0 11.8 0a5.9 5.9 0 1 0-11.8 0M474.2 583.3a5.9 5.9 0 1 0 11.8 0a5.9 5.9 0 1 0-11.8 0M427.2 579.7a5.9 5.9 0 1 0 11.8 0a5.9 5.9 0 1 0-11.8 0M392 578.9a5.9 5.9 0 1 0 11.8 0a5.9 5.9 0 1 0-11.8 0M431.4 580.8a5.9 5.9 0 1 0 11.8 0a5.9 5.9 0 1 0-11.8 0M456.8 585a5.9 5.9 0 1 0 11.8 0a5.9 5.9 0 1 0-11.8 0M377.1 584.1a5.9 5.9 0 1 0 11.8 0a5.9 5.9 0 1 0-11.8 0M472.3 585.4a5.9 5.9 0 1 0 11.8 0a5.9 5.9 0 1 0-11.8 0M493.7 586.2a5.9 5.9 0 1 0 11.8 0a5.9 5.9 0 1 0-11.8 0M449.7 584.6a5.9 5.9 0 1 0 11.8 0a5.9 5.9 0 1 0-11.8 0M580.8 589a5.9 5.9 0 1 0 11.8 0a5.9 5.9 0 1 0-11.8 0M400.4 581a5.9 5.9 0 1 0 11.8 0a5.9 5.9 0 1 0-11.8 0M536.9 587a5.9 5.9 0 1 0 11.8 0a5.9 5.9 0 1 0-11.8 0M381.5 581.2a5.9 5.9 0 1 0 11.8 0a5.9 5.9 0 1 0-11.8 0M526.3 586a5.9 5.9 0 1 0 11.8 0a5.9 5.9 0 1 0-11.8 0M439.9 581.6a5.9 5.9 0 1 0 11.8 0a5.9 5.9 0 1 0-11.8 0M439.8 584.9a5.9 5.9 0 1 0 11.8 0a5.9 5.9 0 1 0-11.8 0M380.3 581.2a5.9 5.9 0 1 0 11.8 0a5.9 5.9 0 1 0-11.8 0M387.4 582.2a5.9 5.9 0 1 0 11.8 0a5.9 5.9 0 1 0-11.8 0M403.9 584.5a5.9 5.9 0 1 0 11.8 0a5.9 5.9 0 1 0-11.8 0M438.6 584.2a5.9 5.9 0 1 0 11.8 0a5.9 5.9 0 1 0-11.8 0M429.9 579.8a5.9 5.9 0 1 0 11.8 0a5.9 5.9 0 1 0-11.8 0M477.5 583.2a5.9 5.9 0 1 0 11.8 0a5.9 5.9 0 1 0-11.8 0M389.9 577.1a5.9 5.9 0 1 0 11.8 0a5.9 5.9 0 1 0-11.8 0M493.6 583.6a5.9 5.9 0 1 0 11.8 0a5.9 5.9 0 1 0-11.8 0M448 583.7a5.9 5.9 0 1 0 11.8 0a5.9 5.9 0 1 0-11.8 0M390.4 580.3a5.9 5.9 0 1 0 11.8 0a5.9 5.9 0 1 0-11.8 0M543.3 586.5a5.9 5.9 0 1 0 11.8 0a5.9 5.9 0 1 0-11.8 0M403.3 577.8a5.9 5.9 0 1 0 11.8 0a5.9 5.9 0 1 0-11.8 0M483.6 583.1a5.9 5.9 0 1 0 11.8 0a5.9 5.9 0 1 0-11.8 0M542.5 587.1a5.9 5.9 0 1 0 11.8 0a5.9 5.9 0 1 0-11.8 0M429.4 583.9a5.9 5.9 0 1 0 11.8 0a5.9 5.9 0 1 0-11.8 0M400.1 582.7a5.9 5.9 0 1 0 11.8 0a5.9 5.9 0 1 0-11.8 0M425.5 580.9a5.9 5.9 0 1 0 11.8 0a5.9 5.9 0 1 0-11.8 0M406.9 583.3a5.9 5.9 0 1 0 11.8 0a5.9 5.9 0 1 0-11.8 0M405.4 583.4a5.9 5.9 0 1 0 11.8 0a5.9 5.9 0 1 0-11.8 0M507.9 586a5.9 5.9 0 1 0 11.8 0a5.9 5.9 0 1 0-11.8 0M392.7 581.6a5.9 5.9 0 1 0 11.8 0a5.9 5.9 0 1 0-11.8 0M474.7 586.5a5.9 5.9 0 1 0 11.8 0a5.9 5.9 0 1 0-11.8 0M458.5 584.8a5.9 5.9 0 1 0 11.8 0a5.9 5.9 0 1 0-11.8 0M452.7 585.7a5.9 5.9 0 1 0 11.8 0a5.9 5.9 0 1 0-11.8 0M528.2 586.2a5.9 5.9 0 1 0 11.8 0a5.9 5.9 0 1 0-11.8 0M436.2 583a5.9 5.9 0 1 0 11.8 0a5.9 5.9 0 1 0-11.8 0M507.7 584.2a5.9 5.9 0 1 0 11.8 0a5.9 5.9 0 1 0-11.8 0M457.8 585.8a5.9 5.9 0 1 0 11.8 0a5.9 5.9 0 1 0-11.8 0M375.4 580.4a5.9 5.9 0 1 0 11.8 0a5.9 5.9 0 1 0-11.8 0M513.8 587.2a5.9 5.9 0 1 0 11.8 0a5.9 5.9 0 1 0-11.8 0M392.9 584.3a5.9 5.9 0 1 0 11.8 0a5.9 5.9 0 1 0-11.8 0M527.6 585.8a5.9 5.9 0 1 0 11.8 0a5.9 5.9 0 1 0-11.8 0M488.1 583.8a5.9 5.9 0 1 0 11.8 0a5.9 5.9 0 1 0-11.8 0M386.2 577.5a5.9 5.9 0 1 0 11.8 0a5.9 5.9 0 1 0-11.8 0M397.7 581.7a5.9 5.9 0 1 0 11.8 0a5.9 5.9 0 1 0-11.8 0M443.5 583.5a5.9 5.9 0 1 0 11.8 0a5.9 5.9 0 1 0-11.8 0M432.8 582.7a5.9 5.9 0 1 0 11.8 0a5.9 5.9 0 1 0-11.8 0M536.5 586.4a5.9 5.9 0 1 0 11.8 0a5.9 5.9 0 1 0-11.8 0M527.6 587.1a5.9 5.9 0 1 0 11.8 0a5.9 5.9 0 1 0-11.8 0M474.1 585.6a5.9 5.9 0 1 0 11.8 0a5.9 5.9 0 1 0-11.8 0M497.4 586a5.9 5.9 0 1 0 11.8 0a5.9 5.9 0 1 0-11.8 0M416.6 581.1a5.9 5.9 0 1 0 11.8 0a5.9 5.9 0 1 0-11.8 0M373.4 581.4a5.9 5.9 0 1 0 11.8 0a5.9 5.9 0 1 0-11.8 0M420.7 579.2a5.9 5.9 0 1 0 11.8 0a5.9 5.9 0 1 0-11.8 0M410.5 578.5a5.9 5.9 0 1 0 11.8 0a5.9 5.9 0 1 0-11.8 0M451.7 585.7a5.9 5.9 0 1 0 11.8 0a5.9 5.9 0 1 0-11.8 0M378.6 581.4a5.9 5.9 0 1 0 11.8 0a5.9 5.9 0 1 0-11.8 0M442.1 582.4a5.9 5.9 0 1 0 11.8 0a5.9 5.9 0 1 0-11.8 0M393 578.6a5.9 5.9 0 1 0 11.8 0a5.9 5.9 0 1 0-11.8 0M390.8 579.3a5.9 5.9 0 1 0 11.8 0a5.9 5.9 0 1 0-11.8 0M478.2 582.7a5.9 5.9 0 1 0 11.8 0a5.9 5.9 0 1 0-11.8 0M374.6 582.7a5.9 5.9 0 1 0 11.8 0a5.9 5.9 0 1 0-11.8 0M505.3 587.2a5.9 5.9 0 1 0 11.8 0a5.9 5.9 0 1 0-11.8 0M373.2 581.3a5.9 5.9 0 1 0 11.8 0a5.9 5.9 0 1 0-11.8 0M439.3 583.7a5.9 5.9 0 1 0 11.8 0a5.9 5.9 0 1 0-11.8 0M514.1 587a5.9 5.9 0 1 0 11.8 0a5.9 5.9 0 1 0-11.8 0M551.6 586.8a5.9 5.9 0 1 0 11.8 0a5.9 5.9 0 1 0-11.8 0M541.2 587.1a5.9 5.9 0 1 0 11.8 0a5.9 5.9 0 1 0-11.8 0M420.5 579.2a5.9 5.9 0 1 0 11.8 0a5.9 5.9 0 1 0-11.8 0M494.1 585.1a5.9 5.9 0 1 0 11.8 0a5.9 5.9 0 1 0-11.8 0M392.8 582.8a5.9 5.9 0 1 0 11.8 0a5.9 5.9 0 1 0-11.8 0M420.5 581.6a5.9 5.9 0 1 0 11.8 0a5.9 5.9 0 1 0-11.8 0M429.5 581.1a5.9 5.9 0 1 0 11.8 0a5.9 5.9 0 1 0-11.8 0M575.6 588.8a5.9 5.9 0 1 0 11.8 0a5.9 5.9 0 1 0-11.8 0M378.3 578.5a5.9 5.9 0 1 0 11.8 0a5.9 5.9 0 1 0-11.8 0M419.3 580.7a5.9 5.9 0 1 0 11.8 0a5.9 5.9 0 1 0-11.8 0M470.1 584.5a5.9 5.9 0 1 0 11.8 0a5.9 5.9 0 1 0-11.8 0M420.4 583.4a5.9 5.9 0 1 0 11.8 0a5.9 5.9 0 1 0-11.8 0M414.5 583a5.9 5.9 0 1 0 11.8 0a5.9 5.9 0 1 0-11.8 0M443.2 583.4a5.9 5.9 0 1 0 11.8 0a5.9 5.9 0 1 0-11.8 0M439.8 582.4a5.9 5.9 0 1 0 11.8 0a5.9 5.9 0 1 0-11.8 0M391.8 579.9a5.9 5.9 0 1 0 11.8 0a5.9 5.9 0 1 0-11.8 0M453.9 585.2a5.9 5.9 0 1 0 11.8 0a5.9 5.9 0 1 0-11.8 0M404.9 581.6a5.9 5.9 0 1 0 11.8 0a5.9 5.9 0 1 0-11.8 0M403 580.7a5.9 5.9 0 1 0 11.8 0a5.9 5.9 0 1 0-11.8 0M531.8 586.6a5.9 5.9 0 1 0 11.8 0a5.9 5.9 0 1 0-11.8 0M476.8 585.7a5.9 5.9 0 1 0 11.8 0a5.9 5.9 0 1 0-11.8 0M390 581.5a5.9 5.9 0 1 0 11.8 0a5.9 5.9 0 1 0-11.8 0M429.5 585a5.9 5.9 0 1 0 11.8 0a5.9 5.9 0 1 0-11.8 0M511.9 587.1a5.9 5.9 0 1 0 11.8 0a5.9 5.9 0 1 0-11.8 0M540.2 587a5.9 5.9 0 1 0 11.8 0a5.9 5.9 0 1 0-11.8 0M452.1 583.8a5.9 5.9 0 1 0 11.8 0a5.9 5.9 0 1 0-11.8 0M422.4 581a5.9 5.9 0 1 0 11.8 0a5.9 5.9 0 1 0-11.8 0M466 585.4a5.9 5.9 0 1 0 11.8 0a5.9 5.9 0 1 0-11.8 0M458.1 581.6a5.9 5.9 0 1 0 11.8 0a5.9 5.9 0 1 0-11.8 0M387.8 578.9a5.9 5.9 0 1 0 11.8 0a5.9 5.9 0 1 0-11.8 0M449.1 581a5.9 5.9 0 1 0 11.8 0a5.9 5.9 0 1 0-11.8 0M422.4 581.9a5.9 5.9 0 1 0 11.8 0a5.9 5.9 0 1 0-11.8 0M477.1 586.1a5.9 5.9 0 1 0 11.8 0a5.9 5.9 0 1 0-11.8 0M547.8 587.1a5.9 5.9 0 1 0 11.8 0a5.9 5.9 0 1 0-11.8 0M381.3 578.6a5.9 5.9 0 1 0 11.8 0a5.9 5.9 0 1 0-11.8 0M404 580a5.9 5.9 0 1 0 11.8 0a5.9 5.9 0 1 0-11.8 0M376.9 582.1a5.9 5.9 0 1 0 11.8 0a5.9 5.9 0 1 0-11.8 0M425.7 583.1a5.9 5.9 0 1 0 11.8 0a5.9 5.9 0 1 0-11.8 0M429.3 579.6a5.9 5.9 0 1 0 11.8 0a5.9 5.9 0 1 0-11.8 0M538.5 587.4a5.9 5.9 0 1 0 11.8 0a5.9 5.9 0 1 0-11.8 0M401.8 581.4a5.9 5.9 0 1 0 11.8 0a5.9 5.9 0 1 0-11.8 0M437 581.7a5.9 5.9 0 1 0 11.8 0a5.9 5.9 0 1 0-11.8 0M441.2 581.4a5.9 5.9 0 1 0 11.8 0a5.9 5.9 0 1 0-11.8 0M383.9 582.7a5.9 5.9 0 1 0 11.8 0a5.9 5.9 0 1 0-11.8 0M381.2 582.7a5.9 5.9 0 1 0 11.8 0a5.9 5.9 0 1 0-11.8 0M546.2 587.7a5.9 5.9 0 1 0 11.8 0a5.9 5.9 0 1 0-11.8 0M448.6 580.9a5.9 5.9 0 1 0 11.8 0a5.9 5.9 0 1 0-11.8 0M406 583.2a5.9 5.9 0 1 0 11.8 0a5.9 5.9 0 1 0-11.8 0M475.3 584a5.9 5.9 0 1 0 11.8 0a5.9 5.9 0 1 0-11.8 0M430.8 579.6a5.9 5.9 0 1 0 11.8 0a5.9 5.9 0 1 0-11.8 0M489.7 585.1a5.9 5.9 0 1 0 11.8 0a5.9 5.9 0 1 0-11.8 0M404.9 580.2a5.9 5.9 0 1 0 11.8 0a5.9 5.9 0 1 0-11.8 0M432.3 582a5.9 5.9 0 1 0 11.8 0a5.9 5.9 0 1 0-11.8 0M417.9 581.9a5.9 5.9 0 1 0 11.8 0a5.9 5.9 0 1 0-11.8 0M466.2 583a5.9 5.9 0 1 0 11.8 0a5.9 5.9 0 1 0-11.8 0M511.1 585a5.9 5.9 0 1 0 11.8 0a5.9 5.9 0 1 0-11.8 0M383.8 579.1a5.9 5.9 0 1 0 11.8 0a5.9 5.9 0 1 0-11.8 0M397.8 580.4a5.9 5.9 0 1 0 11.8 0a5.9 5.9 0 1 0-11.8 0M433.9 581.8a5.9 5.9 0 1 0 11.8 0a5.9 5.9 0 1 0-11.8 0M400.3 584.6a5.9 5.9 0 1 0 11.8 0a5.9 5.9 0 1 0-11.8 0M416.9 583.7a5.9 5.9 0 1 0 11.8 0a5.9 5.9 0 1 0-11.8 0M480.8 583.2a5.9 5.9 0 1 0 11.8 0a5.9 5.9 0 1 0-11.8 0M435.2 580.8a5.9 5.9 0 1 0 11.8 0a5.9 5.9 0 1 0-11.8 0M407.3 579.8a5.9 5.9 0 1 0 11.8 0a5.9 5.9 0 1 0-11.8 0M401.2 584.4a5.9 5.9 0 1 0 11.8 0a5.9 5.9 0 1 0-11.8 0M377.4 579.2a5.9 5.9 0 1 0 11.8 0a5.9 5.9 0 1 0-11.8 0M544.1 587.2a5.9 5.9 0 1 0 11.8 0a5.9 5.9 0 1 0-11.8 0M445 585.7a5.9 5.9 0 1 0 11.8 0a5.9 5.9 0 1 0-11.8 0M504.5 586a5.9 5.9 0 1 0 11.8 0a5.9 5.9 0 1 0-11.8 0M440.7 580.4a5.9 5.9 0 1 0 11.8 0a5.9 5.9 0 1 0-11.8 0M481.7 583.1a5.9 5.9 0 1 0 11.8 0a5.9 5.9 0 1 0-11.8 0M378.3 578.8a5.9 5.9 0 1 0 11.8 0a5.9 5.9 0 1 0-11.8 0M406.1 584.2a5.9 5.9 0 1 0 11.8 0a5.9 5.9 0 1 0-11.8 0M438.8 585a5.9 5.9 0 1 0 11.8 0a5.9 5.9 0 1 0-11.8 0M455 581.1a5.9 5.9 0 1 0 11.8 0a5.9 5.9 0 1 0-11.8 0M488.6 586.8a5.9 5.9 0 1 0 11.8 0a5.9 5.9 0 1 0-11.8 0M404.1 581a5.9 5.9 0 1 0 11.8 0a5.9 5.9 0 1 0-11.8 0M503.9 585.5a5.9 5.9 0 1 0 11.8 0a5.9 5.9 0 1 0-11.8 0M428.6 580.5a5.9 5.9 0 1 0 11.8 0a5.9 5.9 0 1 0-11.8 0M435.8 583.2a5.9 5.9 0 1 0 11.8 0a5.9 5.9 0 1 0-11.8 0M469.7 586.1a5.9 5.9 0 1 0 11.8 0a5.9 5.9 0 1 0-11.8 0M404.5 584.6a5.9 5.9 0 1 0 11.8 0a5.9 5.9 0 1 0-11.8 0M521 586.2a5.9 5.9 0 1 0 11.8 0a5.9 5.9 0 1 0-11.8 0M415.6 583.6a5.9 5.9 0 1 0 11.8 0a5.9 5.9 0 1 0-11.8 0M539.6 587.4a5.9 5.9 0 1 0 11.8 0a5.9 5.9 0 1 0-11.8 0M487.1 586.5a5.9 5.9 0 1 0 11.8 0a5.9 5.9 0 1 0-11.8 0M404.5 582.8a5.9 5.9 0 1 0 11.8 0a5.9 5.9 0 1 0-11.8 0M423.9 579.4a5.9 5.9 0 1 0 11.8 0a5.9 5.9 0 1 0-11.8 0M472.3 584.9a5.9 5.9 0 1 0 11.8 0a5.9 5.9 0 1 0-11.8 0M471.3 583.2a5.9 5.9 0 1 0 11.8 0a5.9 5.9 0 1 0-11.8 0M488.1 586.6a5.9 5.9 0 1 0 11.8 0a5.9 5.9 0 1 0-11.8 0M394.9 579.1a5.9 5.9 0 1 0 11.8 0a5.9 5.9 0 1 0-11.8 0M435 581.9a5.9 5.9 0 1 0 11.8 0a5.9 5.9 0 1 0-11.8 0M440.1 583a5.9 5.9 0 1 0 11.8 0a5.9 5.9 0 1 0-11.8 0M408.8 583.5a5.9 5.9 0 1 0 11.8 0a5.9 5.9 0 1 0-11.8 0M388.3 582.9a5.9 5.9 0 1 0 11.8 0a5.9 5.9 0 1 0-11.8 0M406.9 581.3a5.9 5.9 0 1 0 11.8 0a5.9 5.9 0 1 0-11.8 0M430.9 582.3a5.9 5.9 0 1 0 11.8 0a5.9 5.9 0 1 0-11.8 0M473.3 584.3a5.9 5.9 0 1 0 11.8 0a5.9 5.9 0 1 0-11.8 0M414.7 578.9a5.9 5.9 0 1 0 11.8 0a5.9 5.9 0 1 0-11.8 0M400.6 577.9a5.9 5.9 0 1 0 11.8 0a5.9 5.9 0 1 0-11.8 0M479.3 585.2a5.9 5.9 0 1 0 11.8 0a5.9 5.9 0 1 0-11.8 0M471.4 583.1a5.9 5.9 0 1 0 11.8 0a5.9 5.9 0 1 0-11.8 0M518.5 586.9a5.9 5.9 0 1 0 11.8 0a5.9 5.9 0 1 0-11.8 0M400.2 580.5a5.9 5.9 0 1 0 11.8 0a5.9 5.9 0 1 0-11.8 0M462.4 584.3a5.9 5.9 0 1 0 11.8 0a5.9 5.9 0 1 0-11.8 0M525.4 586a5.9 5.9 0 1 0 11.8 0a5.9 5.9 0 1 0-11.8 0M455.7 581.9a5.9 5.9 0 1 0 11.8 0a5.9 5.9 0 1 0-11.8 0M504.4 585.4a5.9 5.9 0 1 0 11.8 0a5.9 5.9 0 1 0-11.8 0M476.5 582.7a5.9 5.9 0 1 0 11.8 0a5.9 5.9 0 1 0-11.8 0M386.8 576.9a5.9 5.9 0 1 0 11.8 0a5.9 5.9 0 1 0-11.8 0M445.2 584.6a5.9 5.9 0 1 0 11.8 0a5.9 5.9 0 1 0-11.8 0M498.1 585.2a5.9 5.9 0 1 0 11.8 0a5.9 5.9 0 1 0-11.8 0M373.9 581.1a5.9 5.9 0 1 0 11.8 0a5.9 5.9 0 1 0-11.8 0M551.6 587.7a5.9 5.9 0 1 0 11.8 0a5.9 5.9 0 1 0-11.8 0M555.5 587.4a5.9 5.9 0 1 0 11.8 0a5.9 5.9 0 1 0-11.8 0M474.3 582.8a5.9 5.9 0 1 0 11.8 0a5.9 5.9 0 1 0-11.8 0M419.1 580.9a5.9 5.9 0 1 0 11.8 0a5.9 5.9 0 1 0-11.8 0M412.2 582a5.9 5.9 0 1 0 11.8 0a5.9 5.9 0 1 0-11.8 0M535.1 586.8a5.9 5.9 0 1 0 11.8 0a5.9 5.9 0 1 0-11.8 0M465.2 582.8a5.9 5.9 0 1 0 11.8 0a5.9 5.9 0 1 0-11.8 0M519.1 585.5a5.9 5.9 0 1 0 11.8 0a5.9 5.9 0 1 0-11.8 0M561.6 588.3a5.9 5.9 0 1 0 11.8 0a5.9 5.9 0 1 0-11.8 0M456.9 581.5a5.9 5.9 0 1 0 11.8 0a5.9 5.9 0 1 0-11.8 0M489.8 583.6a5.9 5.9 0 1 0 11.8 0a5.9 5.9 0 1 0-11.8 0M438.2 585.4a5.9 5.9 0 1 0 11.8 0a5.9 5.9 0 1 0-11.8 0M444.7 585.2a5.9 5.9 0 1 0 11.8 0a5.9 5.9 0 1 0-11.8 0M411.3 579a5.9 5.9 0 1 0 11.8 0a5.9 5.9 0 1 0-11.8 0M575.8 588.3a5.9 5.9 0 1 0 11.8 0a5.9 5.9 0 1 0-11.8 0M403.2 584.2a5.9 5.9 0 1 0 11.8 0a5.9 5.9 0 1 0-11.8 0M418 580.5a5.9 5.9 0 1 0 11.8 0a5.9 5.9 0 1 0-11.8 0M425.8 582.8a5.9 5.9 0 1 0 11.8 0a5.9 5.9 0 1 0-11.8 0M438.8 581.3a5.9 5.9 0 1 0 11.8 0a5.9 5.9 0 1 0-11.8 0M449.4 583.5a5.9 5.9 0 1 0 11.8 0a5.9 5.9 0 1 0-11.8 0M388.5 578.6a5.9 5.9 0 1 0 11.8 0a5.9 5.9 0 1 0-11.8 0M581.2 589a5.9 5.9 0 1 0 11.8 0a5.9 5.9 0 1 0-11.8 0M482.6 585a5.9 5.9 0 1 0 11.8 0a5.9 5.9 0 1 0-11.8 0M501.1 587.1a5.9 5.9 0 1 0 11.8 0a5.9 5.9 0 1 0-11.8 0M479.7 586.1a5.9 5.9 0 1 0 11.8 0a5.9 5.9 0 1 0-11.8 0M529.1 586.4a5.9 5.9 0 1 0 11.8 0a5.9 5.9 0 1 0-11.8 0M481 582.9a5.9 5.9 0 1 0 11.8 0a5.9 5.9 0 1 0-11.8 0M417.7 583.6a5.9 5.9 0 1 0 11.8 0a5.9 5.9 0 1 0-11.8 0M402.4 578.4a5.9 5.9 0 1 0 11.8 0a5.9 5.9 0 1 0-11.8 0M375.5 580.8a5.9 5.9 0 1 0 11.8 0a5.9 5.9 0 1 0-11.8 0M408.7 583.9a5.9 5.9 0 1 0 11.8 0a5.9 5.9 0 1 0-11.8 0M405.9 582.7a5.9 5.9 0 1 0 11.8 0a5.9 5.9 0 1 0-11.8 0M384.1 583.7a5.9 5.9 0 1 0 11.8 0a5.9 5.9 0 1 0-11.8 0M549.6 587.6a5.9 5.9 0 1 0 11.8 0a5.9 5.9 0 1 0-11.8 0M397.2 583.3a5.9 5.9 0 1 0 11.8 0a5.9 5.9 0 1 0-11.8 0M412 584a5.9 5.9 0 1 0 11.8 0a5.9 5.9 0 1 0-11.8 0M459.6 582.8a5.9 5.9 0 1 0 11.8 0a5.9 5.9 0 1 0-11.8 0M431.9 584.7a5.9 5.9 0 1 0 11.8 0a5.9 5.9 0 1 0-11.8 0M484.7 583.4a5.9 5.9 0 1 0 11.8 0a5.9 5.9 0 1 0-11.8 0M483.1 583a5.9 5.9 0 1 0 11.8 0a5.9 5.9 0 1 0-11.8 0M505.6 584.4a5.9 5.9 0 1 0 11.8 0a5.9 5.9 0 1 0-11.8 0M481.1 583.8a5.9 5.9 0 1 0 11.8 0a5.9 5.9 0 1 0-11.8 0M407.2 580.9a5.9 5.9 0 1 0 11.8 0a5.9 5.9 0 1 0-11.8 0M425.1 583.2a5.9 5.9 0 1 0 11.8 0a5.9 5.9 0 1 0-11.8 0M559.8 588.2a5.9 5.9 0 1 0 11.8 0a5.9 5.9 0 1 0-11.8 0M382.9 581.9a5.9 5.9 0 1 0 11.8 0a5.9 5.9 0 1 0-11.8 0M513.8 586.9a5.9 5.9 0 1 0 11.8 0a5.9 5.9 0 1 0-11.8 0M460.5 583.6a5.9 5.9 0 1 0 11.8 0a5.9 5.9 0 1 0-11.8 0M416.2 582.2a5.9 5.9 0 1 0 11.8 0a5.9 5.9 0 1 0-11.8 0M423.1 580.7a5.9 5.9 0 1 0 11.8 0a5.9 5.9 0 1 0-11.8 0M385.2 581.9a5.9 5.9 0 1 0 11.8 0a5.9 5.9 0 1 0-11.8 0M502.9 584.8a5.9 5.9 0 1 0 11.8 0a5.9 5.9 0 1 0-11.8 0M513.6 584.6a5.9 5.9 0 1 0 11.8 0a5.9 5.9 0 1 0-11.8 0M373.3 582.9a5.9 5.9 0 1 0 11.8 0a5.9 5.9 0 1 0-11.8 0M411 579.4a5.9 5.9 0 1 0 11.8 0a5.9 5.9 0 1 0-11.8 0M418.1 580.1a5.9 5.9 0 1 0 11.8 0a5.9 5.9 0 1 0-11.8 0M391.3 583.7a5.9 5.9 0 1 0 11.8 0a5.9 5.9 0 1 0-11.8 0M498.4 585.6a5.9 5.9 0 1 0 11.8 0a5.9 5.9 0 1 0-11.8 0M522.2 586.9a5.9 5.9 0 1 0 11.8 0a5.9 5.9 0 1 0-11.8 0M459.2 584.6a5.9 5.9 0 1 0 11.8 0a5.9 5.9 0 1 0-11.8 0M410.9 584.1a5.9 5.9 0 1 0 11.8 0a5.9 5.9 0 1 0-11.8 0M462.3 584.6a5.9 5.9 0 1 0 11.8 0a5.9 5.9 0 1 0-11.8 0M534.1 587.3a5.9 5.9 0 1 0 11.8 0a5.9 5.9 0 1 0-11.8 0M387 581.7a5.9 5.9 0 1 0 11.8 0a5.9 5.9 0 1 0-11.8 0M442.7 584a5.9 5.9 0 1 0 11.8 0a5.9 5.9 0 1 0-11.8 0M373.8 583.4a5.9 5.9 0 1 0 11.8 0a5.9 5.9 0 1 0-11.8 0M385.9 581.4a5.9 5.9 0 1 0 11.8 0a5.9 5.9 0 1 0-11.8 0M489.2 584.9a5.9 5.9 0 1 0 11.8 0a5.9 5.9 0 1 0-11.8 0M447.4 581.7a5.9 5.9 0 1 0 11.8 0a5.9 5.9 0 1 0-11.8 0M449.2 583.7a5.9 5.9 0 1 0 11.8 0a5.9 5.9 0 1 0-11.8 0M538.5 588a5.9 5.9 0 1 0 11.8 0a5.9 5.9 0 1 0-11.8 0M426.9 582a5.9 5.9 0 1 0 11.8 0a5.9 5.9 0 1 0-11.8 0M466.3 585.9a5.9 5.9 0 1 0 11.8 0a5.9 5.9 0 1 0-11.8 0M437.3 583.3a5.9 5.9 0 1 0 11.8 0a5.9 5.9 0 1 0-11.8 0M443.7 583.2a5.9 5.9 0 1 0 11.8 0a5.9 5.9 0 1 0-11.8 0M427.1 583.4a5.9 5.9 0 1 0 11.8 0a5.9 5.9 0 1 0-11.8 0M447.7 584.6a5.9 5.9 0 1 0 11.8 0a5.9 5.9 0 1 0-11.8 0M406.7 584.4a5.9 5.9 0 1 0 11.8 0a5.9 5.9 0 1 0-11.8 0M383.4 582.8a5.9 5.9 0 1 0 11.8 0a5.9 5.9 0 1 0-11.8 0M533.9 586.3a5.9 5.9 0 1 0 11.8 0a5.9 5.9 0 1 0-11.8 0M473.2 583.9a5.9 5.9 0 1 0 11.8 0a5.9 5.9 0 1 0-11.8 0M378.4 578.1a5.9 5.9 0 1 0 11.8 0a5.9 5.9 0 1 0-11.8 0M434.6 583.4a5.9 5.9 0 1 0 11.8 0a5.9 5.9 0 1 0-11.8 0M548.3 587.9a5.9 5.9 0 1 0 11.8 0a5.9 5.9 0 1 0-11.8 0M444.2 584.2a5.9 5.9 0 1 0 11.8 0a5.9 5.9 0 1 0-11.8 0M480.1 586.4a5.9 5.9 0 1 0 11.8 0a5.9 5.9 0 1 0-11.8 0M420.5 580.1a5.9 5.9 0 1 0 11.8 0a5.9 5.9 0 1 0-11.8 0M439.9 581.8a5.9 5.9 0 1 0 11.8 0a5.9 5.9 0 1 0-11.8 0M509.6 585.3a5.9 5.9 0 1 0 11.8 0a5.9 5.9 0 1 0-11.8 0M512.4 586.2a5.9 5.9 0 1 0 11.8 0a5.9 5.9 0 1 0-11.8 0M464.5 582.9a5.9 5.9 0 1 0 11.8 0a5.9 5.9 0 1 0-11.8 0M376.5 579.2a5.9 5.9 0 1 0 11.8 0a5.9 5.9 0 1 0-11.8 0M440.9 582.6a5.9 5.9 0 1 0 11.8 0a5.9 5.9 0 1 0-11.8 0M373.3 581.4a5.9 5.9 0 1 0 11.8 0a5.9 5.9 0 1 0-11.8 0M512.9 584.8a5.9 5.9 0 1 0 11.8 0a5.9 5.9 0 1 0-11.8 0M445 585.5a5.9 5.9 0 1 0 11.8 0a5.9 5.9 0 1 0-11.8 0M377.5 578.3a5.9 5.9 0 1 0 11.8 0a5.9 5.9 0 1 0-11.8 0M510.6 584.9a5.9 5.9 0 1 0 11.8 0a5.9 5.9 0 1 0-11.8 0M463.6 585a5.9 5.9 0 1 0 11.8 0a5.9 5.9 0 1 0-11.8 0M408.9 578.9a5.9 5.9 0 1 0 11.8 0a5.9 5.9 0 1 0-11.8 0M442.6 585.2a5.9 5.9 0 1 0 11.8 0a5.9 5.9 0 1 0-11.8 0M469 585.1a5.9 5.9 0 1 0 11.8 0a5.9 5.9 0 1 0-11.8 0M411.5 583.2a5.9 5.9 0 1 0 11.8 0a5.9 5.9 0 1 0-11.8 0M409.9 580.3a5.9 5.9 0 1 0 11.8 0a5.9 5.9 0 1 0-11.8 0M558.2 588a5.9 5.9 0 1 0 11.8 0a5.9 5.9 0 1 0-11.8 0M431.4 585.3a5.9 5.9 0 1 0 11.8 0a5.9 5.9 0 1 0-11.8 0M442.9 582.9a5.9 5.9 0 1 0 11.8 0a5.9 5.9 0 1 0-11.8 0M506.2 587.2a5.9 5.9 0 1 0 11.8 0a5.9 5.9 0 1 0-11.8 0M444.9 582a5.9 5.9 0 1 0 11.8 0a5.9 5.9 0 1 0-11.8 0M384.5 581.1a5.9 5.9 0 1 0 11.8 0a5.9 5.9 0 1 0-11.8 0M515.1 584.7a5.9 5.9 0 1 0 11.8 0a5.9 5.9 0 1 0-11.8 0M466.3 581.8a5.9 5.9 0 1 0 11.8 0a5.9 5.9 0 1 0-11.8 0M565.3 587.9a5.9 5.9 0 1 0 11.8 0a5.9 5.9 0 1 0-11.8 0M428.4 581.8a5.9 5.9 0 1 0 11.8 0a5.9 5.9 0 1 0-11.8 0M375 577.4a5.9 5.9 0 1 0 11.8 0a5.9 5.9 0 1 0-11.8 0M446.9 580.9a5.9 5.9 0 1 0 11.8 0a5.9 5.9 0 1 0-11.8 0M398.6 578.9a5.9 5.9 0 1 0 11.8 0a5.9 5.9 0 1 0-11.8 0M448 583.7a5.9 5.9 0 1 0 11.8 0a5.9 5.9 0 1 0-11.8 0M469.4 584a5.9 5.9 0 1 0 11.8 0a5.9 5.9 0 1 0-11.8 0M547 588.1a5.9 5.9 0 1 0 11.8 0a5.9 5.9 0 1 0-11.8 0M380.2 581.3a5.9 5.9 0 1 0 11.8 0a5.9 5.9 0 1 0-11.8 0M465.4 584.1a5.9 5.9 0 1 0 11.8 0a5.9 5.9 0 1 0-11.8 0M449.9 584.6a5.9 5.9 0 1 0 11.8 0a5.9 5.9 0 1 0-11.8 0M393 584.3a5.9 5.9 0 1 0 11.8 0a5.9 5.9 0 1 0-11.8 0M466.4 585.6a5.9 5.9 0 1 0 11.8 0a5.9 5.9 0 1 0-11.8 0M506.4 587a5.9 5.9 0 1 0 11.8 0a5.9 5.9 0 1 0-11.8 0M407.4 580a5.9 5.9 0 1 0 11.8 0a5.9 5.9 0 1 0-11.8 0M403 579.3a5.9 5.9 0 1 0 11.8 0a5.9 5.9 0 1 0-11.8 0M399.4 578a5.9 5.9 0 1 0 11.8 0a5.9 5.9 0 1 0-11.8 0M377.4 580.1a5.9 5.9 0 1 0 11.8 0a5.9 5.9 0 1 0-11.8 0M404.4 583.1a5.9 5.9 0 1 0 11.8 0a5.9 5.9 0 1 0-11.8 0M475.9 585.9a5.9 5.9 0 1 0 11.8 0a5.9 5.9 0 1 0-11.8 0M385.5 583.9a5.9 5.9 0 1 0 11.8 0a5.9 5.9 0 1 0-11.8 0M385.6 580.5a5.9 5.9 0 1 0 11.8 0a5.9 5.9 0 1 0-11.8 0M375.8 584a5.9 5.9 0 1 0 11.8 0a5.9 5.9 0 1 0-11.8 0M404.6 584a5.9 5.9 0 1 0 11.8 0a5.9 5.9 0 1 0-11.8 0M398.6 578.5a5.9 5.9 0 1 0 11.8 0a5.9 5.9 0 1 0-11.8 0M380.5 583.1a5.9 5.9 0 1 0 11.8 0a5.9 5.9 0 1 0-11.8 0M432.6 583.5a5.9 5.9 0 1 0 11.8 0a5.9 5.9 0 1 0-11.8 0M486.8 585.7a5.9 5.9 0 1 0 11.8 0a5.9 5.9 0 1 0-11.8 0M511 586.1a5.9 5.9 0 1 0 11.8 0a5.9 5.9 0 1 0-11.8 0M441.1 583.8a5.9 5.9 0 1 0 11.8 0a5.9 5.9 0 1 0-11.8 0M491.8 585.4a5.9 5.9 0 1 0 11.8 0a5.9 5.9 0 1 0-11.8 0M478.9 586.4a5.9 5.9 0 1 0 11.8 0a5.9 5.9 0 1 0-11.8 0M381.2 578a5.9 5.9 0 1 0 11.8 0a5.9 5.9 0 1 0-11.8 0M459.6 585.9a5.9 5.9 0 1 0 11.8 0a5.9 5.9 0 1 0-11.8 0M492.8 584a5.9 5.9 0 1 0 11.8 0a5.9 5.9 0 1 0-11.8 0M416.1 579.4a5.9 5.9 0 1 0 11.8 0a5.9 5.9 0 1 0-11.8 0M383.9 578.9a5.9 5.9 0 1 0 11.8 0a5.9 5.9 0 1 0-11.8 0M449 584.6a5.9 5.9 0 1 0 11.8 0a5.9 5.9 0 1 0-11.8 0M510.5 586.3a5.9 5.9 0 1 0 11.8 0a5.9 5.9 0 1 0-11.8 0M459.6 584.2a5.9 5.9 0 1 0 11.8 0a5.9 5.9 0 1 0-11.8 0M449.5 584.3a5.9 5.9 0 1 0 11.8 0a5.9 5.9 0 1 0-11.8 0M437.3 581.1a5.9 5.9 0 1 0 11.8 0a5.9 5.9 0 1 0-11.8 0M475.2 583.1a5.9 5.9 0 1 0 11.8 0a5.9 5.9 0 1 0-11.8 0M468.5 582.4a5.9 5.9 0 1 0 11.8 0a5.9 5.9 0 1 0-11.8 0M525 587.1a5.9 5.9 0 1 0 11.8 0a5.9 5.9 0 1 0-11.8 0M393.7 584.1a5.9 5.9 0 1 0 11.8 0a5.9 5.9 0 1 0-11.8 0M554 587.1a5.9 5.9 0 1 0 11.8 0a5.9 5.9 0 1 0-11.8 0M440.3 582.2a5.9 5.9 0 1 0 11.8 0a5.9 5.9 0 1 0-11.8 0M418 584.6a5.9 5.9 0 1 0 11.8 0a5.9 5.9 0 1 0-11.8 0M496.9 586.8a5.9 5.9 0 1 0 11.8 0a5.9 5.9 0 1 0-11.8 0M424.3 583.1a5.9 5.9 0 1 0 11.8 0a5.9 5.9 0 1 0-11.8 0M429.4 581.6a5.9 5.9 0 1 0 11.8 0a5.9 5.9 0 1 0-11.8 0M424.6 582.5a5.9 5.9 0 1 0 11.8 0a5.9 5.9 0 1 0-11.8 0M460.1 585.7a5.9 5.9 0 1 0 11.8 0a5.9 5.9 0 1 0-11.8 0M405.2 583.5a5.9 5.9 0 1 0 11.8 0a5.9 5.9 0 1 0-11.8 0M541.3 587.8a5.9 5.9 0 1 0 11.8 0a5.9 5.9 0 1 0-11.8 0M410.9 580.9a5.9 5.9 0 1 0 11.8 0a5.9 5.9 0 1 0-11.8 0M474.7 584a5.9 5.9 0 1 0 11.8 0a5.9 5.9 0 1 0-11.8 0M378.9 579.1a5.9 5.9 0 1 0 11.8 0a5.9 5.9 0 1 0-11.8 0M436.2 583.4a5.9 5.9 0 1 0 11.8 0a5.9 5.9 0 1 0-11.8 0M460.5 584.4a5.9 5.9 0 1 0 11.8 0a5.9 5.9 0 1 0-11.8 0M452.2 583a5.9 5.9 0 1 0 11.8 0a5.9 5.9 0 1 0-11.8 0M478 582.7a5.9 5.9 0 1 0 11.8 0a5.9 5.9 0 1 0-11.8 0M436 583.4a5.9 5.9 0 1 0 11.8 0a5.9 5.9 0 1 0-11.8 0M428.2 582.8a5.9 5.9 0 1 0 11.8 0a5.9 5.9 0 1 0-11.8 0M383.6 582a5.9 5.9 0 1 0 11.8 0a5.9 5.9 0 1 0-11.8 0M424 580.7a5.9 5.9 0 1 0 11.8 0a5.9 5.9 0 1 0-11.8 0M506.9 584.8a5.9 5.9 0 1 0 11.8 0a5.9 5.9 0 1 0-11.8 0M489.2 585.9a5.9 5.9 0 1 0 11.8 0a5.9 5.9 0 1 0-11.8 0M473.9 582.3a5.9 5.9 0 1 0 11.8 0a5.9 5.9 0 1 0-11.8 0M530.6 587.4a5.9 5.9 0 1 0 11.8 0a5.9 5.9 0 1 0-11.8 0M532.7 586.6a5.9 5.9 0 1 0 11.8 0a5.9 5.9 0 1 0-11.8 0M374.8 582.9a5.9 5.9 0 1 0 11.8 0a5.9 5.9 0 1 0-11.8 0M388.4 577.3a5.9 5.9 0 1 0 11.8 0a5.9 5.9 0 1 0-11.8 0M444.3 585.6a5.9 5.9 0 1 0 11.8 0a5.9 5.9 0 1 0-11.8 0M393.6 580.2a5.9 5.9 0 1 0 11.8 0a5.9 5.9 0 1 0-11.8 0M542.2 587.7a5.9 5.9 0 1 0 11.8 0a5.9 5.9 0 1 0-11.8 0M430.8 584.4a5.9 5.9 0 1 0 11.8 0a5.9 5.9 0 1 0-11.8 0M515.9 586a5.9 5.9 0 1 0 11.8 0a5.9 5.9 0 1 0-11.8 0M473.3 585.5a5.9 5.9 0 1 0 11.8 0a5.9 5.9 0 1 0-11.8 0M419.9 579a5.9 5.9 0 1 0 11.8 0a5.9 5.9 0 1 0-11.8 0M487.1 584.3a5.9 5.9 0 1 0 11.8 0a5.9 5.9 0 1 0-11.8 0M388.7 580.9a5.9 5.9 0 1 0 11.8 0a5.9 5.9 0 1 0-11.8 0M430.1 584.9a5.9 5.9 0 1 0 11.8 0a5.9 5.9 0 1 0-11.8 0M379.9 579.2a5.9 5.9 0 1 0 11.8 0a5.9 5.9 0 1 0-11.8 0M402 583.6a5.9 5.9 0 1 0 11.8 0a5.9 5.9 0 1 0-11.8 0M529.5 586.8a5.9 5.9 0 1 0 11.8 0a5.9 5.9 0 1 0-11.8 0M465.8 583.7a5.9 5.9 0 1 0 11.8 0a5.9 5.9 0 1 0-11.8 0M446.4 580.5a5.9 5.9 0 1 0 11.8 0a5.9 5.9 0 1 0-11.8 0M419.1 582.7a5.9 5.9 0 1 0 11.8 0a5.9 5.9 0 1 0-11.8 0M407.9 584.6a5.9 5.9 0 1 0 11.8 0a5.9 5.9 0 1 0-11.8 0M400.8 580.7a5.9 5.9 0 1 0 11.8 0a5.9 5.9 0 1 0-11.8 0M397.9 582.6a5.9 5.9 0 1 0 11.8 0a5.9 5.9 0 1 0-11.8 0M452.4 584.1a5.9 5.9 0 1 0 11.8 0a5.9 5.9 0 1 0-11.8 0M482.2 583.8a5.9 5.9 0 1 0 11.8 0a5.9 5.9 0 1 0-11.8 0M436.5 581a5.9 5.9 0 1 0 11.8 0a5.9 5.9 0 1 0-11.8 0M584.7 589a5.9 5.9 0 1 0 11.8 0a5.9 5.9 0 1 0-11.8 0M582.6 588.9a5.9 5.9 0 1 0 11.8 0a5.9 5.9 0 1 0-11.8 0M580.6 588.8a5.9 5.9 0 1 0 11.8 0a5.9 5.9 0 1 0-11.8 0M494.1 582.8a5.9 5.9 0 1 0 11.8 0a5.9 5.9 0 1 0-11.8 0M495 583.4a5.9 5.9 0 1 0 11.8 0a5.9 5.9 0 1 0-11.8 0M495.9 583.9a5.9 5.9 0 1 0 11.8 0a5.9 5.9 0 1 0-11.8 0M496.8 584.5a5.9 5.9 0 1 0 11.8 0a5.9 5.9 0 1 0-11.8 0M497.7 583.3a5.9 5.9 0 1 0 11.8 0a5.9 5.9 0 1 0-11.8 0M498.6 583.8a5.9 5.9 0 1 0 11.8 0a5.9 5.9 0 1 0-11.8 0M499.5 584.4a5.9 5.9 0 1 0 11.8 0a5.9 5.9 0 1 0-11.8 0M500.4 583.2a5.9 5.9 0 1 0 11.8 0a5.9 5.9 0 1 0-11.8 0M501.3 583.7a5.9 5.9 0 1 0 11.8 0a5.9 5.9 0 1 0-11.8 0M502.2 584.3a5.9 5.9 0 1 0 11.8 0a5.9 5.9 0 1 0-11.8 0M503.1 584.8a5.9 5.9 0 1 0 11.8 0a5.9 5.9 0 1 0-11.8 0M504 583.6a5.9 5.9 0 1 0 11.8 0a5.9 5.9 0 1 0-11.8 0M504.9 584.2a5.9 5.9 0 1 0 11.8 0a5.9 5.9 0 1 0-11.8 0M505.8 584.8a5.9 5.9 0 1 0 11.8 0a5.9 5.9 0 1 0-11.8 0M506.7 583.6a5.9 5.9 0 1 0 11.8 0a5.9 5.9 0 1 0-11.8 0M507.6 584.1a5.9 5.9 0 1 0 11.8 0a5.9 5.9 0 1 0-11.8 0M508.5 584.7a5.9 5.9 0 1 0 11.8 0a5.9 5.9 0 1 0-11.8 0M509.4 585.2a5.9 5.9 0 1 0 11.8 0a5.9 5.9 0 1 0-11.8 0M510.3 584a5.9 5.9 0 1 0 11.8 0a5.9 5.9 0 1 0-11.8 0M511.2 584.6a5.9 5.9 0 1 0 11.8 0a5.9 5.9 0 1 0-11.8 0M512.1 585.1a5.9 5.9 0 1 0 11.8 0a5.9 5.9 0 1 0-11.8 0M513 583.9a5.9 5.9 0 1 0 11.8 0a5.9 5.9 0 1 0-11.8 0M513.9 584.5a5.9 5.9 0 1 0 11.8 0a5.9 5.9 0 1 0-11.8 0M514.8 585a5.9 5.9 0 1 0 11.8 0a5.9 5.9 0 1 0-11.8 0M515.7 585.6a5.9 5.9 0 1 0 11.8 0a5.9 5.9 0 1 0-11.8 0M516.6 584.4a5.9 5.9 0 1 0 11.8 0a5.9 5.9 0 1 0-11.8 0M517.5 585a5.9 5.9 0 1 0 11.8 0a5.9 5.9 0 1 0-11.8 0M518.4 585.5a5.9 5.9 0 1 0 11.8 0a5.9 5.9 0 1 0-11.8 0M519.3 584.3a5.9 5.9 0 1 0 11.8 0a5.9 5.9 0 1 0-11.8 0M520.2 584.9a5.9 5.9 0 1 0 11.8 0a5.9 5.9 0 1 0-11.8 0M521.1 585.4a5.9 5.9 0 1 0 11.8 0a5.9 5.9 0 1 0-11.8 0M522 586a5.9 5.9 0 1 0 11.8 0a5.9 5.9 0 1 0-11.8 0M522.9 584.8a5.9 5.9 0 1 0 11.8 0a5.9 5.9 0 1 0-11.8 0M523.8 585.3a5.9 5.9 0 1 0 11.8 0a5.9 5.9 0 1 0-11.8 0M524.7 585.9a5.9 5.9 0 1 0 11.8 0a5.9 5.9 0 1 0-11.8 0M525.6 584.7a5.9 5.9 0 1 0 11.8 0a5.9 5.9 0 1 0-11.8 0M526.5 585.2a5.9 5.9 0 1 0 11.8 0a5.9 5.9 0 1 0-11.8 0M527.4 585.8a5.9 5.9 0 1 0 11.8 0a5.9 5.9 0 1 0-11.8 0M528.3 586.4a5.9 5.9 0 1 0 11.8 0a5.9 5.9 0 1 0-11.8 0M529.2 585.2a5.9 5.9 0 1 0 11.8 0a5.9 5.9 0 1 0-11.8 0M530.1 585.7a5.9 5.9 0 1 0 11.8 0a5.9 5.9 0 1 0-11.8 0M531 586.3a5.9 5.9 0 1 0 11.8 0a5.9 5.9 0 1 0-11.8 0M531.9 585.1a5.9 5.9 0 1 0 11.8 0a5.9 5.9 0 1 0-11.8 0M532.8 585.6a5.9 5.9 0 1 0 11.8 0a5.9 5.9 0 1 0-11.8 0M533.7 586.2a5.9 5.9 0 1 0 11.8 0a5.9 5.9 0 1 0-11.8 0M534.6 586.7a5.9 5.9 0 1 0 11.8 0a5.9 5.9 0 1 0-11.8 0M535.5 585.5a5.9 5.9 0 1 0 11.8 0a5.9 5.9 0 1 0-11.8 0M536.4 586.1a5.9 5.9 0 1 0 11.8 0a5.9 5.9 0 1 0-11.8 0M537.3 586.6a5.9 5.9 0 1 0 11.8 0a5.9 5.9 0 1 0-11.8 0M538.2 585.5a5.9 5.9 0 1 0 11.8 0a5.9 5.9 0 1 0-11.8 0M539.1 586a5.9 5.9 0 1 0 11.8 0a5.9 5.9 0 1 0-11.8 0M540 586.6a5.9 5.9 0 1 0 11.8 0a5.9 5.9 0 1 0-11.8 0M540.9 587.1a5.9 5.9 0 1 0 11.8 0a5.9 5.9 0 1 0-11.8 0M541.8 585.9a5.9 5.9 0 1 0 11.8 0a5.9 5.9 0 1 0-11.8 0M542.7 586.5a5.9 5.9 0 1 0 11.8 0a5.9 5.9 0 1 0-11.8 0M543.6 587a5.9 5.9 0 1 0 11.8 0a5.9 5.9 0 1 0-11.8 0M544.5 585.8a5.9 5.9 0 1 0 11.8 0a5.9 5.9 0 1 0-11.8 0M545.4 586.4a5.9 5.9 0 1 0 11.8 0a5.9 5.9 0 1 0-11.8 0M546.3 586.9a5.9 5.9 0 1 0 11.8 0a5.9 5.9 0 1 0-11.8 0M547.2 587.5a5.9 5.9 0 1 0 11.8 0a5.9 5.9 0 1 0-11.8 0M548.1 586.3a5.9 5.9 0 1 0 11.8 0a5.9 5.9 0 1 0-11.8 0M549 586.9a5.9 5.9 0 1 0 11.8 0a5.9 5.9 0 1 0-11.8 0M549.9 587.4a5.9 5.9 0 1 0 11.8 0a5.9 5.9 0 1 0-11.8 0M550.8 586.2a5.9 5.9 0 1 0 11.8 0a5.9 5.9 0 1 0-11.8 0M551.7 586.8a5.9 5.9 0 1 0 11.8 0a5.9 5.9 0 1 0-11.8 0M552.6 587.3a5.9 5.9 0 1 0 11.8 0a5.9 5.9 0 1 0-11.8 0M553.5 587.9a5.9 5.9 0 1 0 11.8 0a5.9 5.9 0 1 0-11.8 0M554.4 586.7a5.9 5.9 0 1 0 11.8 0a5.9 5.9 0 1 0-11.8 0M555.3 587.2a5.9 5.9 0 1 0 11.8 0a5.9 5.9 0 1 0-11.8 0M556.2 587.8a5.9 5.9 0 1 0 11.8 0a5.9 5.9 0 1 0-11.8 0M557.1 586.6a5.9 5.9 0 1 0 11.8 0a5.9 5.9 0 1 0-11.8 0M558 587.1a5.9 5.9 0 1 0 11.8 0a5.9 5.9 0 1 0-11.8 0M558.9 587.7a5.9 5.9 0 1 0 11.8 0a5.9 5.9 0 1 0-11.8 0M559.8 588.3a5.9 5.9 0 1 0 11.8 0a5.9 5.9 0 1 0-11.8 0M560.7 587.1a5.9 5.9 0 1 0 11.8 0a5.9 5.9 0 1 0-11.8 0M561.6 587.6a5.9 5.9 0 1 0 11.8 0a5.9 5.9 0 1 0-11.8 0M562.5 588.2a5.9 5.9 0 1 0 11.8 0a5.9 5.9 0 1 0-11.8 0M563.4 587a5.9 5.9 0 1 0 11.8 0a5.9 5.9 0 1 0-11.8 0M564.3 587.5a5.9 5.9 0 1 0 11.8 0a5.9 5.9 0 1 0-11.8 0M565.2 588.1a5.9 5.9 0 1 0 11.8 0a5.9 5.9 0 1 0-11.8 0M566.1 588.6a5.9 5.9 0 1 0 11.8 0a5.9 5.9 0 1 0-11.8 0M567 587.4a5.9 5.9 0 1 0 11.8 0a5.9 5.9 0 1 0-11.8 0M567.9 588a5.9 5.9 0 1 0 11.8 0a5.9 5.9 0 1 0-11.8 0M568.8 588.5a5.9 5.9 0 1 0 11.8 0a5.9 5.9 0 1 0-11.8 0M569.7 587.3a5.9 5.9 0 1 0 11.8 0a5.9 5.9 0 1 0-11.8 0M570.6 587.9a5.9 5.9 0 1 0 11.8 0a5.9 5.9 0 1 0-11.8 0M571.5 588.5a5.9 5.9 0 1 0 11.8 0a5.9 5.9 0 1 0-11.8 0M572.4 589a5.9 5.9 0 1 0 11.8 0a5.9 5.9 0 1 0-11.8 0M351.1 589.5a5.9 5.9 0 1 0 11.8 0a5.9 5.9 0 1 0-11.8 0M376.1 589.5a5.9 5.9 0 1 0 11.8 0a5.9 5.9 0 1 0-11.8 0M389.1 589a5.9 5.9 0 1 0 11.8 0a5.9 5.9 0 1 0-11.8 0M404.1 589.5a5.9 5.9 0 1 0 11.8 0a5.9 5.9 0 1 0-11.8 0M423.1 589.5a5.9 5.9 0 1 0 11.8 0a5.9 5.9 0 1 0-11.8 0M427.1 589a5.9 5.9 0 1 0 11.8 0a5.9 5.9 0 1 0-11.8 0M475.1 590.3a5.9 5.9 0 1 0 11.8 0a5.9 5.9 0 1 0-11.8 0"/>
<path class="gd" d="M115 848.3V543.7"/>
<path class="gd" d="M181 848.3V543.7"/>
<path class="gd" d="M247 848.3V543.7"/>
<path class="gd" d="M313 848.3V543.7"/>
<path class="gd" d="M379 848.3V543.7"/>
<path class="gd" d="M445 848.3V543.7"/>
<path class="gd" d="M511 848.3V543.7"/>
<path class="gd" d="M577 848.3V543.7"/>
<path class="gd" d="M111.5 796.7H608.3"/>
<path class="gd" d="M111.5 736.2H608.3"/>
<path class="gd" d="M111.5 675.7H608.3"/>
<path class="gd" d="M111.5 615.2H608.3"/>
<path class="gd" d="M111.5 554.7H608.3"/>
<g fill="none" stroke="#7c7c7c" stroke-width="2">
<polyline points="111.5,640.6 350,611.9 608.2,580.3"/>
<polyline points="111.5,748.4 364,715.8 608.2,685.3"/>
<polyline points="216,847.9 364,828.3 608.2,796.7"/>
</g>
<text class="m" transform="translate(634.1 581) rotate(-90)" fill="#808080" style="font-size:19.9px">25</text>
<text class="m" transform="translate(634.1 686) rotate(-90)" fill="#808080" style="font-size:19.9px">25.5</text>
<text class="m" transform="translate(634.1 796.6) rotate(-90)" fill="#808080" style="font-size:19.9px">26</text>
<path class="tk" stroke="#000" d="M95.5 796.7H111.5"/>
<text class="m" transform="translate(82.5 796.7) rotate(-90)" fill="#000">20</text>
<path class="tk" stroke="#000" d="M95.5 736.2H111.5"/>
<text class="m" transform="translate(82.5 736.2) rotate(-90)" fill="#000">21</text>
<path class="tk" stroke="#000" d="M95.5 675.7H111.5"/>
<text class="m" transform="translate(82.5 675.7) rotate(-90)" fill="#000">22</text>
<path class="tk" stroke="#000" d="M95.5 615.2H111.5"/>
<text class="m" transform="translate(82.5 615.2) rotate(-90)" fill="#000">23</text>
<path class="tk" stroke="#000" d="M95.5 554.7H111.5"/>
<text class="m" transform="translate(82.5 554.7) rotate(-90)" fill="#000">24</text>
<text class="m" transform="translate(35.7 695.9) rotate(-90)" fill="#000">θ [ °C ]</text>
<path class="tk" stroke="#000" d="M115 848.3V864.9"/>
<text class="m" x="115" y="895.7" fill="#000">36.25</text>
<path class="tk" stroke="#000" d="M181 848.3V864.9"/>
<path class="tk" stroke="#000" d="M247 848.3V864.9"/>
<text class="m" x="247" y="895.7" fill="#000">36.35</text>
<path class="tk" stroke="#000" d="M313 848.3V864.9"/>
<path class="tk" stroke="#000" d="M379 848.3V864.9"/>
<text class="m" x="379" y="895.7" fill="#000">36.45</text>
<path class="tk" stroke="#000" d="M445 848.3V864.9"/>
<path class="tk" stroke="#000" d="M511 848.3V864.9"/>
<text class="m" x="511" y="895.7" fill="#000">36.55</text>
<path class="tk" stroke="#000" d="M577 848.3V864.9"/>
<text class="m" x="359.9" y="937.3" fill="#000">Salinity</text>
<rect class="bx" x="111.5" y="543.7" width="496.7" height="304.6"/>
</g>
<g id="p4">
<polygon fill="#d3d3d3" points="1085.4,544.6 1096.5,568.8 1079.8,632.3 1091.3,670.8 1107.5,700 1176.7,825.8 1206.9,847.9 1280.3,847.9 1280.3,720 1278,640 1277.2,578 1257.9,544.6"/>
<circle cx="1032" cy="696" r="7.1" fill="#f00"/>
<path class="tk" stroke="#000" d="M811.1 848.3V864.9 M811.1 527.3V543.7"/>
<text class="m" x="811.1" y="895.7" fill="#000">-86</text>
<path class="tk" stroke="#000" d="M981.6 848.3V864.9 M981.6 527.3V543.7"/>
<text class="m" x="981.6" y="895.7" fill="#000">-84</text>
<path class="tk" stroke="#000" d="M1152 848.3V864.9 M1152 527.3V543.7"/>
<text class="m" x="1152" y="895.7" fill="#000">-82</text>
<path class="tk" stroke="#000" d="M767.1 813.3H783.5 M1280.3 813.3H1296.9"/>
<text class="m" transform="translate(755.4 813.3) rotate(-90)" fill="#000">26</text>
<path class="tk" stroke="#000" d="M767.1 717.9H783.5 M1280.3 717.9H1296.9"/>
<text class="m" transform="translate(755.4 717.9) rotate(-90)" fill="#000">27</text>
<path class="tk" stroke="#000" d="M767.1 622.1H783.5 M1280.3 622.1H1296.9"/>
<text class="m" transform="translate(755.4 622.1) rotate(-90)" fill="#000">28</text>
<text x="783.2" y="521.2" fill="#000">AMI8</text>
<text text-anchor="end" x="1279.6" y="521.2" fill="#000">2023-03-06 18:46:37</text>
<rect class="bx" x="783.5" y="543.7" width="496.8" height="304.6"/>
</g>
</svg></body></html>
